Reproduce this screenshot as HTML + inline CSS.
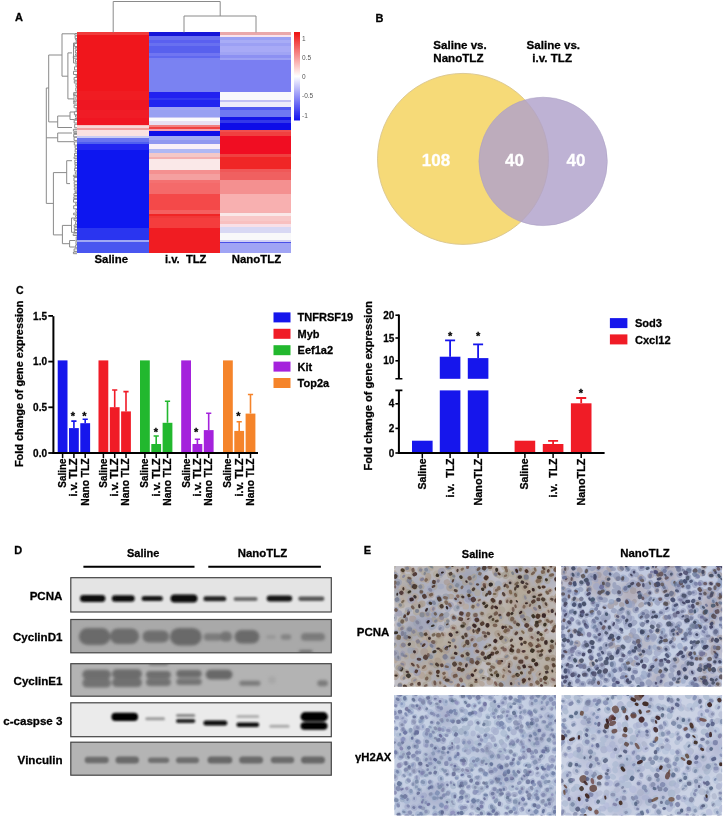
<!DOCTYPE html>
<html><head><meta charset="utf-8"><title>Figure</title>
<style>html,body{margin:0;padding:0;background:#fff;} svg{display:block;}</style></head>
<body><svg width="727" height="821" viewBox="0 0 727 821" font-family="'Liberation Sans', Arial, sans-serif" fill="#000">
<style>text{stroke:#000;stroke-width:0.28px;} text.w{stroke:#fff;} text.g{stroke:none;}</style>
<defs><filter id="soft" x="0" y="0" width="100%" height="100%" filterUnits="userSpaceOnUse"><feGaussianBlur stdDeviation="0.45"/></filter></defs>
<rect width="727" height="821" fill="#fff"/>
<g filter="url(#soft)">
<g shape-rendering="crispEdges">
<rect x="77.4" y="32.40" width="71.1" height="2.40" fill="#f03a3a"/>
<rect x="77.4" y="34.50" width="71.1" height="56.80" fill="#f0121e"/>
<rect x="77.4" y="91.00" width="71.1" height="9.30" fill="#f01c24"/>
<rect x="77.4" y="100.00" width="71.1" height="10.30" fill="#ee1620"/>
<rect x="77.4" y="110.00" width="71.1" height="8.30" fill="#f01e26"/>
<rect x="77.4" y="118.00" width="71.1" height="7.30" fill="#f01820"/>
<rect x="77.4" y="125.00" width="71.1" height="1.30" fill="#f8c0c0"/>
<rect x="77.4" y="126.00" width="71.1" height="1.80" fill="#f8d8d8"/>
<rect x="77.4" y="127.50" width="71.1" height="2.80" fill="#f0a0a0"/>
<rect x="77.4" y="130.00" width="71.1" height="6.30" fill="#fae2e2"/>
<rect x="77.4" y="136.00" width="71.1" height="2.30" fill="#c8ccf4"/>
<rect x="77.4" y="138.00" width="71.1" height="4.30" fill="#6a75f0"/>
<rect x="77.4" y="142.00" width="71.1" height="2.30" fill="#5060f0"/>
<rect x="77.4" y="144.00" width="71.1" height="6.30" fill="#2028f0"/>
<rect x="77.4" y="150.00" width="71.1" height="78.30" fill="#0c14f0"/>
<rect x="77.4" y="228.00" width="71.1" height="12.30" fill="#2a34f0"/>
<rect x="77.4" y="240.00" width="71.1" height="2.30" fill="#a0a8f4"/>
<rect x="77.4" y="242.00" width="71.1" height="11.00" fill="#4a56f0"/>
<rect x="148.5" y="32.40" width="71.3" height="3.90" fill="#1414d8"/>
<rect x="148.5" y="36.00" width="71.3" height="4.30" fill="#6a70f0"/>
<rect x="148.5" y="40.00" width="71.3" height="2.80" fill="#5a60f0"/>
<rect x="148.5" y="42.50" width="71.3" height="3.80" fill="#6870f0"/>
<rect x="148.5" y="46.00" width="71.3" height="7.30" fill="#5860ee"/>
<rect x="148.5" y="53.00" width="71.3" height="2.80" fill="#7075f2"/>
<rect x="148.5" y="55.50" width="71.3" height="2.80" fill="#6068f0"/>
<rect x="148.5" y="58.00" width="71.3" height="2.30" fill="#7a80f2"/>
<rect x="148.5" y="60.00" width="71.3" height="32.30" fill="#7a82f2"/>
<rect x="148.5" y="92.00" width="71.3" height="6.30" fill="#2020f0"/>
<rect x="148.5" y="98.00" width="71.3" height="2.30" fill="#3038f0"/>
<rect x="148.5" y="100.00" width="71.3" height="7.30" fill="#2028f0"/>
<rect x="148.5" y="107.00" width="71.3" height="3.30" fill="#a0a4f4"/>
<rect x="148.5" y="110.00" width="71.3" height="6.80" fill="#98a0f2"/>
<rect x="148.5" y="116.50" width="71.3" height="1.80" fill="#c8c8f4"/>
<rect x="148.5" y="118.00" width="71.3" height="3.30" fill="#fafafc"/>
<rect x="148.5" y="121.00" width="71.3" height="4.30" fill="#e8e0f2"/>
<rect x="148.5" y="125.00" width="71.3" height="1.80" fill="#f08080"/>
<rect x="148.5" y="126.50" width="71.3" height="2.30" fill="#f04040"/>
<rect x="148.5" y="128.50" width="71.3" height="2.80" fill="#f0a0b0"/>
<rect x="148.5" y="131.00" width="71.3" height="4.80" fill="#1010e8"/>
<rect x="148.5" y="135.50" width="71.3" height="4.80" fill="#a0a8f4"/>
<rect x="148.5" y="140.00" width="71.3" height="4.30" fill="#9098f0"/>
<rect x="148.5" y="144.00" width="71.3" height="5.30" fill="#f8f0f8"/>
<rect x="148.5" y="149.00" width="71.3" height="4.30" fill="#b0b8f4"/>
<rect x="148.5" y="153.00" width="71.3" height="4.30" fill="#f4c8c8"/>
<rect x="148.5" y="157.00" width="71.3" height="2.30" fill="#f4b0b0"/>
<rect x="148.5" y="159.00" width="71.3" height="11.30" fill="#fae8e8"/>
<rect x="148.5" y="170.00" width="71.3" height="4.30" fill="#f49090"/>
<rect x="148.5" y="174.00" width="71.3" height="6.30" fill="#f4a0a0"/>
<rect x="148.5" y="180.00" width="71.3" height="3.30" fill="#f47070"/>
<rect x="148.5" y="183.00" width="71.3" height="11.30" fill="#f46a6a"/>
<rect x="148.5" y="194.00" width="71.3" height="16.30" fill="#f44a4a"/>
<rect x="148.5" y="210.00" width="71.3" height="4.30" fill="#f46060"/>
<rect x="148.5" y="214.00" width="71.3" height="2.30" fill="#f02828"/>
<rect x="148.5" y="216.00" width="71.3" height="2.30" fill="#f03838"/>
<rect x="148.5" y="218.00" width="71.3" height="10.30" fill="#f43c3c"/>
<rect x="148.5" y="228.00" width="71.3" height="25.00" fill="#f01c24"/>
<rect x="219.8" y="32.40" width="71.2" height="2.40" fill="#eaa8aa"/>
<rect x="219.8" y="34.50" width="71.2" height="2.30" fill="#f8e4ee"/>
<rect x="219.8" y="36.50" width="71.2" height="3.80" fill="#9aa0f4"/>
<rect x="219.8" y="40.00" width="71.2" height="3.30" fill="#a8acf6"/>
<rect x="219.8" y="43.00" width="71.2" height="3.30" fill="#9ca0f4"/>
<rect x="219.8" y="46.00" width="71.2" height="6.30" fill="#a8aaf6"/>
<rect x="219.8" y="52.00" width="71.2" height="3.30" fill="#a0a4f4"/>
<rect x="219.8" y="55.00" width="71.2" height="3.30" fill="#8c90f2"/>
<rect x="219.8" y="58.00" width="71.2" height="2.30" fill="#9ca0f4"/>
<rect x="219.8" y="60.00" width="71.2" height="32.30" fill="#7a7ef2"/>
<rect x="219.8" y="92.00" width="71.2" height="8.30" fill="#f8f8fc"/>
<rect x="219.8" y="100.00" width="71.2" height="2.30" fill="#c0c0f4"/>
<rect x="219.8" y="102.00" width="71.2" height="5.30" fill="#ececfa"/>
<rect x="219.8" y="107.00" width="71.2" height="3.30" fill="#5058f0"/>
<rect x="219.8" y="110.00" width="71.2" height="7.30" fill="#7078f2"/>
<rect x="219.8" y="117.00" width="71.2" height="3.30" fill="#1818e8"/>
<rect x="219.8" y="120.00" width="71.2" height="3.30" fill="#3038ea"/>
<rect x="219.8" y="123.00" width="71.2" height="7.30" fill="#1010e8"/>
<rect x="219.8" y="130.00" width="71.2" height="2.30" fill="#f05050"/>
<rect x="219.8" y="132.00" width="71.2" height="4.30" fill="#f04040"/>
<rect x="219.8" y="136.00" width="71.2" height="18.30" fill="#f01020"/>
<rect x="219.8" y="154.00" width="71.2" height="3.30" fill="#f04040"/>
<rect x="219.8" y="157.00" width="71.2" height="12.30" fill="#f02828"/>
<rect x="219.8" y="169.00" width="71.2" height="3.30" fill="#f05858"/>
<rect x="219.8" y="172.00" width="71.2" height="8.30" fill="#f06060"/>
<rect x="219.8" y="180.00" width="71.2" height="14.30" fill="#f49090"/>
<rect x="219.8" y="194.00" width="71.2" height="18.30" fill="#f8b0b0"/>
<rect x="219.8" y="212.00" width="71.2" height="1.30" fill="#f4b0b0"/>
<rect x="219.8" y="213.00" width="71.2" height="3.30" fill="#fae8e8"/>
<rect x="219.8" y="216.00" width="71.2" height="5.30" fill="#f8c8c8"/>
<rect x="219.8" y="221.00" width="71.2" height="3.30" fill="#f8c0c0"/>
<rect x="219.8" y="224.00" width="71.2" height="3.30" fill="#f8e0e8"/>
<rect x="219.8" y="227.00" width="71.2" height="6.30" fill="#d8d8f4"/>
<rect x="219.8" y="233.00" width="71.2" height="7.30" fill="#f8f8fa"/>
<rect x="219.8" y="240.00" width="71.2" height="1.80" fill="#d0d0f4"/>
<rect x="219.8" y="241.50" width="71.2" height="1.80" fill="#4850e8"/>
<rect x="219.8" y="243.00" width="71.2" height="10.00" fill="#a0a4f4"/>
</g>
<defs><linearGradient id="cb" x1="0" y1="0" x2="0" y2="1"><stop offset="0" stop-color="#ee1010"/><stop offset="0.5" stop-color="#ffffff"/><stop offset="1" stop-color="#1010ee"/></linearGradient></defs>
<rect x="294" y="32" width="6" height="88.5" fill="url(#cb)"/>
<text class="g" x="302" y="40.5" font-size="6.5" fill="#555">1</text>
<text class="g" x="302" y="60" font-size="6.5" fill="#555">0.5</text>
<text class="g" x="302" y="79" font-size="6.5" fill="#555">0</text>
<text class="g" x="302" y="98" font-size="6.5" fill="#555">-0.5</text>
<text class="g" x="302" y="117.5" font-size="6.5" fill="#555">-1</text>
<path d="M113.2 32.4V1.5H220.2V16M184 32.4V16H256V32.4" stroke="#8a8a8a" stroke-width="1" fill="none"/>
<path d="M48.7 88H46.3V203.4H53.4 M46.3 137.8H57.7 M72 133H57.7V141.7H74 M62 55H48.7V121.9H57.7 M74.5 33.8H62V76.2H67.9 M72 52.9H67.9V98.9H74 M70 116H57.7V127.5H72 M74.5 112H70V119.5H74.5 M76 43H73.5V63H76 M76.5 94H74V102H76.5 M66.7 172.6H53.4V234.9H62.4 M72 160.7H66.7V183.6H70 M71.5 225.4H62.4V243.7H69.6 M75.5 218H71.5V232.3H75.5 M75.5 240.5H69.6V247H75.5 M77 33.5H74.8V35.2H77 M77 36.0H75.1V38.6H77 M77 39.0H75.7V40.2H77 M77 40.8H76.2V42.5H77 M77 43.4H74.6V46.5H77 M77 47.6H75.1V49.1H77 M77 50.5H75.4V52.9H77 M77 54.0H75.5V55.3H77 M77 56.3H73.3V58.2H77 M77 59.6H75.4V61.9H77 M77 63.2H76.0V66.1H77 M77 66.8H74.5V69.9H77 M77 71.3H73.5V74.5H77 M77 75.0H76.1V76.7H77 M77 77.5H74.1V80.2H77 M77 81.1H74.3V83.1H77 M77 84.1H75.9V86.7H77 M77 87.8H75.8V91.1H77 M77 92.6H73.7V95.4H77 M77 96.7H75.9V100.1H77 M77 101.1H73.8V104.0H77 M77 105.3H74.1V107.8H77 M77 108.2H76.2V111.3H77 M77 111.7H74.4V114.8H77 M77 115.2H75.5V117.1H77 M77 118.5H75.0V119.8H77 M77 120.1H74.2V123.0H77 M77 124.3H74.7V127.8H77 M77 129.3H73.4V131.2H77 M77 132.2H73.8V133.5H77 M77 134.3H73.7V136.9H77 M77 137.2H74.1V140.4H77 M77 141.9H74.3V145.1H77 M77 146.0H75.1V148.4H77 M77 149.4H75.1V151.9H77 M77 153.3H74.5V155.7H77 M77 156.9H74.1V158.6H77 M77 160.1H74.8V162.5H77 M77 162.8H74.9V164.9H77 M77 165.3H75.1V167.9H77 M77 168.3H74.6V170.9H77 M77 172.0H75.3V174.0H77 M77 175.2H73.4V176.5H77 M77 177.6H74.0V181.0H77 M77 181.8H74.2V184.4H77 M77 185.1H74.3V187.1H77 M77 188.1H74.3V190.0H77 M77 191.2H74.9V192.4H77 M77 193.6H73.9V195.5H77 M77 196.8H73.8V198.6H77 M77 199.4H73.5V202.2H77 M77 202.9H75.7V204.8H77 M77 205.7H73.7V208.8H77 M77 209.5H75.9V212.2H77 M77 213.1H73.6V214.8H77 M77 215.7H75.6V217.4H77 M77 218.7H74.0V220.3H77 M77 221.6H75.6V224.2H77 M77 224.9H74.1V226.4H77 M77 227.7H74.2V229.5H77 M77 230.3H74.4V232.5H77 M77 233.9H73.2V235.5H77 M77 236.9H76.2V240.1H77 M77 240.9H76.0V244.3H77 M77 244.9H75.7V247.8H77 M77 248.9H74.1V251.3H77 M77 252.0H73.4V253.7H77" stroke="#8a8a8a" stroke-width="1" fill="none" stroke-width="0.9"/>
<text x="15" y="21" font-size="11" font-weight="bold">A</text>
<text x="94.5" y="263.3" font-size="11.4" font-weight="bold">Saline</text>
<text x="165" y="263.3" font-size="11.2" font-weight="bold" xml:space="preserve">i.v.  TLZ</text>
<text x="231.8" y="263.3" font-size="11.4" font-weight="bold">NanoTLZ</text>
<text x="375.5" y="21.5" font-size="11" font-weight="bold">B</text>
<circle cx="463" cy="158.9" r="85.5" fill="#f6da78" stroke="#d9c58e" stroke-width="0.9"/>
<circle cx="543.1" cy="161.4" r="64.2" fill="#b0a1ca" fill-opacity="0.82" stroke="#ab9fc4" stroke-width="0.7" stroke-opacity="0.8"/>
<text x="433.3" y="49.2" font-size="11.6" font-weight="bold" xml:space="preserve">Saline vs.</text>
<text x="433.3" y="62.4" font-size="11.6" font-weight="bold" xml:space="preserve">NanoTLZ</text>
<text x="526.6" y="49.2" font-size="11.6" font-weight="bold" xml:space="preserve">Saline vs.</text>
<text x="532.3" y="62.4" font-size="11.6" font-weight="bold" xml:space="preserve">i.v. TLZ</text>
<text class="w" x="436" y="165.5" font-size="17" font-weight="bold" fill="#fff" text-anchor="middle">108</text>
<text class="w" x="514.5" y="165.5" font-size="17" font-weight="bold" fill="#fff" text-anchor="middle">40</text>
<text class="w" x="576" y="165.5" font-size="17" font-weight="bold" fill="#fff" text-anchor="middle">40</text>
<text x="16" y="293.6" font-size="10.5" font-weight="bold">C</text>
<path d="M53.4 316.2V454" stroke="#000" stroke-width="2"/>
<path d="M48.3 315.9H53" stroke="#000" stroke-width="1.8"/>
<text x="47" y="319.5" font-size="10" font-weight="bold" text-anchor="end">1.5</text>
<path d="M48.3 361.6H53" stroke="#000" stroke-width="1.8"/>
<text x="47" y="365.2" font-size="10" font-weight="bold" text-anchor="end">1.0</text>
<path d="M48.3 407.3H53" stroke="#000" stroke-width="1.8"/>
<text x="47" y="410.9" font-size="10" font-weight="bold" text-anchor="end">0.5</text>
<path d="M48.3 453.0H53" stroke="#000" stroke-width="1.8"/>
<text x="47" y="456.6" font-size="10" font-weight="bold" text-anchor="end">0.0</text>
<text transform="translate(22.6,300.6) rotate(-90)" font-size="10.8" font-weight="bold" text-anchor="end" textLength="166.5" lengthAdjust="spacingAndGlyphs">Fold change of gene expression</text>
<rect x="57.7" y="360.4" width="9.8" height="92.6" fill="#1614ec"/>
<path d="M73.9 428.1V421.1M71.3 421.1H76.5" stroke="#1614ec" stroke-width="1.6"/>
<rect x="69.0" y="428.1" width="9.8" height="24.9" fill="#1614ec"/>
<path d="M85.2 423.2V419.2M82.6 419.2H87.8" stroke="#1614ec" stroke-width="1.6"/>
<rect x="80.3" y="423.2" width="9.8" height="29.8" fill="#1614ec"/>
<rect x="98.5" y="360.4" width="9.8" height="92.6" fill="#f01c28"/>
<path d="M114.7 407.2V390.0M112.1 390.0H117.3" stroke="#f01c28" stroke-width="1.6"/>
<rect x="109.8" y="407.2" width="9.8" height="45.8" fill="#f01c28"/>
<path d="M126.0 411.4V391.6M123.4 391.6H128.6" stroke="#f01c28" stroke-width="1.6"/>
<rect x="121.1" y="411.4" width="9.8" height="41.6" fill="#f01c28"/>
<rect x="140.0" y="360.4" width="9.8" height="92.6" fill="#22b82e"/>
<path d="M156.2 444.0V436.0M153.6 436.0H158.8" stroke="#22b82e" stroke-width="1.6"/>
<rect x="151.3" y="444.0" width="9.8" height="9.0" fill="#22b82e"/>
<path d="M167.5 422.8V401.2M164.9 401.2H170.1" stroke="#22b82e" stroke-width="1.6"/>
<rect x="162.6" y="422.8" width="9.8" height="30.2" fill="#22b82e"/>
<rect x="181.2" y="360.4" width="9.8" height="92.6" fill="#a422dc"/>
<path d="M197.4 444.0V439.2M194.8 439.2H200.0" stroke="#a422dc" stroke-width="1.6"/>
<rect x="192.5" y="444.0" width="9.8" height="9.0" fill="#a422dc"/>
<path d="M208.7 430.1V413.2M206.1 413.2H211.3" stroke="#a422dc" stroke-width="1.6"/>
<rect x="203.8" y="430.1" width="9.8" height="22.9" fill="#a422dc"/>
<rect x="223.0" y="360.4" width="9.8" height="92.6" fill="#f5842c"/>
<path d="M239.2 430.9V421.8M236.6 421.8H241.8" stroke="#f5842c" stroke-width="1.6"/>
<rect x="234.3" y="430.9" width="9.8" height="22.1" fill="#f5842c"/>
<path d="M250.5 413.6V394.5M247.9 394.5H253.1" stroke="#f5842c" stroke-width="1.6"/>
<rect x="245.6" y="413.6" width="9.8" height="39.4" fill="#f5842c"/>
<path d="M52.4 453H258" stroke="#000" stroke-width="2"/>
<path d="M62.6 453.5V458" stroke="#000" stroke-width="1.5"/>
<text transform="translate(66.0,458.5) rotate(-90)" font-size="10" font-weight="bold" text-anchor="end" textLength="29.2" lengthAdjust="spacingAndGlyphs" xml:space="preserve">Saline</text>
<path d="M73.9 453.5V458" stroke="#000" stroke-width="1.5"/>
<text transform="translate(77.3,458.5) rotate(-90)" font-size="10" font-weight="bold" text-anchor="end" textLength="38.0" lengthAdjust="spacingAndGlyphs" xml:space="preserve">i.v. TLZ</text>
<path d="M85.2 453.5V458" stroke="#000" stroke-width="1.5"/>
<text transform="translate(88.6,458.5) rotate(-90)" font-size="10" font-weight="bold" text-anchor="end" textLength="47.2" lengthAdjust="spacingAndGlyphs" xml:space="preserve">Nano TLZ</text>
<path d="M103.4 453.5V458" stroke="#000" stroke-width="1.5"/>
<text transform="translate(106.8,458.5) rotate(-90)" font-size="10" font-weight="bold" text-anchor="end" textLength="29.2" lengthAdjust="spacingAndGlyphs" xml:space="preserve">Saline</text>
<path d="M114.7 453.5V458" stroke="#000" stroke-width="1.5"/>
<text transform="translate(118.1,458.5) rotate(-90)" font-size="10" font-weight="bold" text-anchor="end" textLength="38.0" lengthAdjust="spacingAndGlyphs" xml:space="preserve">i.v. TLZ</text>
<path d="M126.0 453.5V458" stroke="#000" stroke-width="1.5"/>
<text transform="translate(129.4,458.5) rotate(-90)" font-size="10" font-weight="bold" text-anchor="end" textLength="47.2" lengthAdjust="spacingAndGlyphs" xml:space="preserve">Nano TLZ</text>
<path d="M144.9 453.5V458" stroke="#000" stroke-width="1.5"/>
<text transform="translate(148.3,458.5) rotate(-90)" font-size="10" font-weight="bold" text-anchor="end" textLength="29.2" lengthAdjust="spacingAndGlyphs" xml:space="preserve">Saline</text>
<path d="M156.2 453.5V458" stroke="#000" stroke-width="1.5"/>
<text transform="translate(159.6,458.5) rotate(-90)" font-size="10" font-weight="bold" text-anchor="end" textLength="38.0" lengthAdjust="spacingAndGlyphs" xml:space="preserve">i.v. TLZ</text>
<path d="M167.5 453.5V458" stroke="#000" stroke-width="1.5"/>
<text transform="translate(170.9,458.5) rotate(-90)" font-size="10" font-weight="bold" text-anchor="end" textLength="47.2" lengthAdjust="spacingAndGlyphs" xml:space="preserve">Nano TLZ</text>
<path d="M186.1 453.5V458" stroke="#000" stroke-width="1.5"/>
<text transform="translate(189.5,458.5) rotate(-90)" font-size="10" font-weight="bold" text-anchor="end" textLength="29.2" lengthAdjust="spacingAndGlyphs" xml:space="preserve">Saline</text>
<path d="M197.4 453.5V458" stroke="#000" stroke-width="1.5"/>
<text transform="translate(200.8,458.5) rotate(-90)" font-size="10" font-weight="bold" text-anchor="end" textLength="38.0" lengthAdjust="spacingAndGlyphs" xml:space="preserve">i.v. TLZ</text>
<path d="M208.7 453.5V458" stroke="#000" stroke-width="1.5"/>
<text transform="translate(212.1,458.5) rotate(-90)" font-size="10" font-weight="bold" text-anchor="end" textLength="47.2" lengthAdjust="spacingAndGlyphs" xml:space="preserve">Nano TLZ</text>
<path d="M227.9 453.5V458" stroke="#000" stroke-width="1.5"/>
<text transform="translate(231.3,458.5) rotate(-90)" font-size="10" font-weight="bold" text-anchor="end" textLength="29.2" lengthAdjust="spacingAndGlyphs" xml:space="preserve">Saline</text>
<path d="M239.2 453.5V458" stroke="#000" stroke-width="1.5"/>
<text transform="translate(242.6,458.5) rotate(-90)" font-size="10" font-weight="bold" text-anchor="end" textLength="38.0" lengthAdjust="spacingAndGlyphs" xml:space="preserve">i.v. TLZ</text>
<path d="M250.5 453.5V458" stroke="#000" stroke-width="1.5"/>
<text transform="translate(253.9,458.5) rotate(-90)" font-size="10" font-weight="bold" text-anchor="end" textLength="47.2" lengthAdjust="spacingAndGlyphs" xml:space="preserve">Nano TLZ</text>
<text x="72.9" y="420.4" font-size="11" font-weight="bold" text-anchor="middle">*</text>
<text x="84.4" y="420.2" font-size="11" font-weight="bold" text-anchor="middle">*</text>
<text x="155.9" y="435.5" font-size="11" font-weight="bold" text-anchor="middle">*</text>
<text x="196.2" y="435.5" font-size="11" font-weight="bold" text-anchor="middle">*</text>
<text x="238.4" y="420.2" font-size="11" font-weight="bold" text-anchor="middle">*</text>
<rect x="273.5" y="312.4" width="17" height="10" fill="#1614ec"/>
<text x="297.6" y="321.4" font-size="11" font-weight="bold">TNFRSF19</text>
<rect x="273.5" y="328.8" width="17" height="10" fill="#f01c28"/>
<text x="297.6" y="337.8" font-size="11" font-weight="bold">Myb</text>
<rect x="273.5" y="345.2" width="17" height="10" fill="#22b82e"/>
<text x="297.6" y="354.2" font-size="11" font-weight="bold">Eef1a2</text>
<rect x="273.5" y="361.6" width="17" height="10" fill="#a422dc"/>
<text x="297.6" y="370.6" font-size="11" font-weight="bold">Kit</text>
<rect x="273.5" y="378.0" width="17" height="10" fill="#f5842c"/>
<text x="297.6" y="387.0" font-size="11" font-weight="bold">Top2a</text>
<path d="M398.9 314.4V378.8M398.9 390.4V454" stroke="#000" stroke-width="2"/>
<path d="M395.4 315.2H399" stroke="#000" stroke-width="1.6"/>
<text x="394.3" y="318.8" font-size="10" font-weight="bold" text-anchor="end">20</text>
<path d="M395.4 338.0H399" stroke="#000" stroke-width="1.6"/>
<text x="394.3" y="341.6" font-size="10" font-weight="bold" text-anchor="end">15</text>
<path d="M395.4 360.8H399" stroke="#000" stroke-width="1.6"/>
<text x="394.3" y="364.4" font-size="10" font-weight="bold" text-anchor="end">10</text>
<path d="M395.4 403.8H399" stroke="#000" stroke-width="1.6"/>
<text x="394.3" y="407.4" font-size="10" font-weight="bold" text-anchor="end">4</text>
<path d="M395.4 428.4H399" stroke="#000" stroke-width="1.6"/>
<text x="394.3" y="432.0" font-size="10" font-weight="bold" text-anchor="end">2</text>
<path d="M395.4 453.0H399" stroke="#000" stroke-width="1.6"/>
<text x="394.3" y="456.6" font-size="10" font-weight="bold" text-anchor="end">0</text>
<path d="M395.4 378.8H402.4M395.4 390.4H402.4" stroke="#000" stroke-width="1.6"/>
<text transform="translate(371.6,301.0) rotate(-90)" font-size="10.6" font-weight="bold" text-anchor="end" textLength="169.5" lengthAdjust="spacingAndGlyphs">Fold change of gene expression</text>
<rect x="412.0" y="440.7" width="20.6" height="12.3" fill="#1614ec"/>
<path d="M450.1 356.7V340.3M445.1 340.3H455.1" stroke="#1614ec" stroke-width="1.8"/>
<rect x="439.8" y="356.7" width="20.6" height="22.1" fill="#1614ec"/>
<rect x="439.8" y="390.4" width="20.6" height="62.6" fill="#1614ec"/>
<path d="M478.1 358.1V344.4M473.1 344.4H483.1" stroke="#1614ec" stroke-width="1.8"/>
<rect x="467.8" y="358.1" width="20.6" height="20.7" fill="#1614ec"/>
<rect x="467.8" y="390.4" width="20.6" height="62.6" fill="#1614ec"/>
<rect x="514.6" y="440.7" width="20.6" height="12.3" fill="#f01c28"/>
<path d="M553.1 444.0V440.9M548.1 440.9H558.1" stroke="#f01c28" stroke-width="1.8"/>
<rect x="542.8" y="444.0" width="20.6" height="9.0" fill="#f01c28"/>
<path d="M581.2 403.3V398.0M576.2 398.0H586.2" stroke="#f01c28" stroke-width="1.8"/>
<rect x="570.9" y="403.3" width="20.6" height="49.7" fill="#f01c28"/>
<path d="M398 453H604.6" stroke="#000" stroke-width="2"/>
<path d="M422.3 453.5V458" stroke="#000" stroke-width="1.5"/>
<text transform="translate(425.8,458.5) rotate(-90)" font-size="10" font-weight="bold" text-anchor="end" textLength="31.0" lengthAdjust="spacingAndGlyphs" xml:space="preserve">Saline</text>
<path d="M450.1 453.5V458" stroke="#000" stroke-width="1.5"/>
<text transform="translate(453.6,458.5) rotate(-90)" font-size="10" font-weight="bold" text-anchor="end" textLength="39.0" lengthAdjust="spacingAndGlyphs" xml:space="preserve">i.v.  TLZ</text>
<path d="M478.1 453.5V458" stroke="#000" stroke-width="1.5"/>
<text transform="translate(481.6,458.5) rotate(-90)" font-size="10" font-weight="bold" text-anchor="end" textLength="47.0" lengthAdjust="spacingAndGlyphs" xml:space="preserve">NanoTLZ</text>
<path d="M524.9 453.5V458" stroke="#000" stroke-width="1.5"/>
<text transform="translate(528.4,458.5) rotate(-90)" font-size="10" font-weight="bold" text-anchor="end" textLength="31.0" lengthAdjust="spacingAndGlyphs" xml:space="preserve">Saline</text>
<path d="M553.1 453.5V458" stroke="#000" stroke-width="1.5"/>
<text transform="translate(556.6,458.5) rotate(-90)" font-size="10" font-weight="bold" text-anchor="end" textLength="39.0" lengthAdjust="spacingAndGlyphs" xml:space="preserve">i.v.  TLZ</text>
<path d="M581.2 453.5V458" stroke="#000" stroke-width="1.5"/>
<text transform="translate(584.7,458.5) rotate(-90)" font-size="10" font-weight="bold" text-anchor="end" textLength="47.0" lengthAdjust="spacingAndGlyphs" xml:space="preserve">NanoTLZ</text>
<text x="450.1" y="340.0" font-size="11" font-weight="bold" text-anchor="middle">*</text>
<text x="478.1" y="340.0" font-size="11" font-weight="bold" text-anchor="middle">*</text>
<text x="581" y="396.5" font-size="11" font-weight="bold" text-anchor="middle">*</text>
<rect x="609.9" y="318.1" width="17.5" height="10" fill="#1614ec"/>
<rect x="609.9" y="334.4" width="17.5" height="10" fill="#f01c28"/>
<text x="634.9" y="327.2" font-size="11.1" font-weight="bold">Sod3</text>
<text x="634.9" y="343.5" font-size="11.1" font-weight="bold">Cxcl12</text>
<defs><filter id="bl" x="-20%" y="-50%" width="140%" height="200%"><feGaussianBlur stdDeviation="1.1"/></filter><filter id="bl2" x="-20%" y="-50%" width="140%" height="200%"><feGaussianBlur stdDeviation="1.8"/></filter><clipPath id="cr1"><rect x="70.8" y="577.7" width="260.5" height="34.3"/></clipPath><clipPath id="cr2"><rect x="70.8" y="619.5" width="260.5" height="33.3"/></clipPath><clipPath id="cr3"><rect x="70.8" y="663.7" width="260.5" height="32.5"/></clipPath><clipPath id="cr4"><rect x="70.8" y="702.8" width="260.5" height="33.9"/></clipPath><clipPath id="cr5"><rect x="70.8" y="742.2" width="260.5" height="33"/></clipPath></defs>
<text x="14.3" y="553.8" font-size="11" font-weight="bold">D</text>
<text x="127" y="557" font-size="11" font-weight="bold">Saline</text>
<text x="237.8" y="557" font-size="11.4" font-weight="bold">NanoTLZ</text>
<path d="M83.4 566.7H194.5M208.3 566.7H320.9" stroke="#000" stroke-width="2"/>
<rect x="70.8" y="577.7" width="260.5" height="34.3" fill="#e4e4e4"/>
<g clip-path="url(#cr1)"><g filter="url(#bl)">
<rect x="80" y="595.1" width="25.4" height="6.8" rx="3.4" fill="#0c0c0c"/>
<rect x="111.8" y="595.2" width="22.9" height="6.5" rx="3.2" fill="#0e0e0e"/>
<rect x="141.6" y="596.1" width="21.2" height="5" rx="2.5" fill="#141414"/>
<rect x="170.5" y="594.4" width="27.0" height="8.2" rx="4.1" fill="#080808"/>
<rect x="203.4" y="596.3" width="22.8" height="5" rx="2.5" fill="#222"/>
<rect x="233.6" y="597.1" width="24.0" height="3.8" rx="1.9" fill="#6a6a6a"/>
<rect x="266.7" y="595.6" width="25.5" height="6" rx="3.0" fill="#141414"/>
<rect x="298.3" y="596.6" width="26.1" height="4.3" rx="2.1" fill="#555"/>
</g></g>
<rect x="70.8" y="577.7" width="260.5" height="34.3" fill="none" stroke="#444" stroke-width="1.2"/>
<text x="62.5" y="599.6" font-size="11.6" font-weight="bold" text-anchor="end">PCNA</text>
<rect x="70.8" y="619.5" width="260.5" height="33.3" fill="#a9a9a9"/>
<g clip-path="url(#cr2)"><g filter="url(#bl2)">
<rect x="78.9" y="627.9" width="31.4" height="17" rx="8.5" fill="#6a6a6a"/>
<rect x="110" y="628.6" width="29.1" height="15.5" rx="7.8" fill="#6c6c6c"/>
<rect x="142.5" y="630.6" width="26.5" height="12" rx="6.0" fill="#6e6e6e"/>
<rect x="170" y="627.9" width="31.7" height="17.5" rx="8.8" fill="#696969"/>
<rect x="203.7" y="633.2" width="18.3" height="7.5" rx="3.8" fill="#7c7c7c"/>
<rect x="220" y="631.6" width="12.0" height="10" rx="5.0" fill="#737373"/>
<rect x="234.5" y="629.9" width="25.0" height="13.5" rx="6.8" fill="#6a6a6a"/>
<rect x="266" y="635.2" width="10.0" height="3.5" rx="1.8" fill="#959595"/>
<rect x="280.7" y="634.2" width="10.6" height="5.5" rx="2.8" fill="#838383"/>
<rect x="301" y="633.1" width="24.0" height="7.7" rx="3.9" fill="#7a7a7a"/>
<rect x="299" y="650.5" width="13.5" height="2" rx="1.0" fill="#555"/>
</g></g>
<rect x="70.8" y="619.5" width="260.5" height="33.3" fill="none" stroke="#444" stroke-width="1.2"/>
<text x="62.5" y="640.9" font-size="11.6" font-weight="bold" text-anchor="end">CyclinD1</text>
<rect x="70.8" y="663.7" width="260.5" height="32.5" fill="#b3b3b3"/>
<g clip-path="url(#cr3)"><g filter="url(#bl2)">
<rect x="82.3" y="669.8" width="28.7" height="9.5" rx="4.8" fill="#6e6e6e"/>
<rect x="82.3" y="678.5" width="28.7" height="9" rx="4.5" fill="#727272"/>
<rect x="112" y="669.2" width="30.0" height="9.5" rx="4.8" fill="#6c6c6c"/>
<rect x="112" y="678.0" width="30.0" height="9" rx="4.5" fill="#707070"/>
<rect x="146" y="671.0" width="24.9" height="7.5" rx="3.8" fill="#6e6e6e"/>
<rect x="146" y="678.6" width="24.9" height="7.5" rx="3.8" fill="#727272"/>
<rect x="176.3" y="670.0" width="25.4" height="7.5" rx="3.8" fill="#6c6c6c"/>
<rect x="176.3" y="678.4" width="25.4" height="6.5" rx="3.2" fill="#747474"/>
<rect x="205.6" y="669.8" width="26.9" height="9.6" rx="4.8" fill="#686868"/>
<rect x="239.3" y="680.7" width="21.2" height="5" rx="2.5" fill="#7a7a7a"/>
<rect x="268" y="676.0" width="8.0" height="8" rx="4.0" fill="#a8a8a8"/>
<rect x="317.3" y="680.2" width="10.6" height="6" rx="3.0" fill="#7a7a7a"/>
<rect x="149" y="663.6" width="19.0" height="1.6" rx="0.8" fill="#666"/>
</g></g>
<rect x="70.8" y="663.7" width="260.5" height="32.5" fill="none" stroke="#444" stroke-width="1.2"/>
<text x="62.5" y="684.8" font-size="11.6" font-weight="bold" text-anchor="end">CyclinE1</text>
<rect x="70.8" y="702.8" width="260.5" height="33.9" fill="#ebebeb"/>
<g clip-path="url(#cr4)"><g filter="url(#bl)">
<rect x="111.4" y="712.8" width="26.7" height="8.2" rx="4.1" fill="#000"/>
<rect x="145.3" y="717.3" width="19.7" height="3" rx="1.5" fill="#9a9a9a"/>
<rect x="176" y="713.9" width="19.3" height="3.2" rx="1.6" fill="#8a8a8a"/>
<rect x="176" y="718.9" width="19.3" height="4.2" rx="2.1" fill="#222"/>
<rect x="203.4" y="720.4" width="23.9" height="5" rx="2.5" fill="#0a0a0a"/>
<rect x="236.4" y="715.1" width="22.8" height="3" rx="1.5" fill="#b0b0b0"/>
<rect x="236.4" y="722.5" width="22.8" height="4.6" rx="2.3" fill="#111"/>
<rect x="269.4" y="724.7" width="20.1" height="3" rx="1.5" fill="#aaa"/>
<rect x="300.5" y="712.0" width="27.5" height="9.5" rx="4.8" fill="#000"/>
<rect x="300.5" y="722.2" width="27.0" height="7.5" rx="3.8" fill="#000"/>
</g></g>
<rect x="70.8" y="702.8" width="260.5" height="33.9" fill="none" stroke="#444" stroke-width="1.2"/>
<text x="62.5" y="724.5" font-size="11.6" font-weight="bold" text-anchor="end">c-caspse 3</text>
<rect x="70.8" y="742.2" width="260.5" height="33.0" fill="#b4b4b4"/>
<g clip-path="url(#cr5)"><g filter="url(#bl)">
<rect x="84.7" y="756.8" width="24.0" height="6.5" rx="3.2" fill="#6c6c6c"/>
<rect x="115.5" y="756.5" width="23.5" height="7" rx="3.5" fill="#6a6a6a"/>
<rect x="148" y="757.5" width="21.2" height="5.5" rx="2.8" fill="#707070"/>
<rect x="176" y="757.2" width="23.0" height="6" rx="3.0" fill="#6e6e6e"/>
<rect x="207.5" y="756.5" width="24.8" height="7" rx="3.5" fill="#686868"/>
<rect x="239.1" y="756.5" width="24.0" height="7" rx="3.5" fill="#6a6a6a"/>
<rect x="270.8" y="756.8" width="23.4" height="6.5" rx="3.2" fill="#6c6c6c"/>
<rect x="301" y="756.4" width="24.0" height="7.2" rx="3.6" fill="#686868"/>
</g></g>
<rect x="70.8" y="742.2" width="260.5" height="33.0" fill="none" stroke="#444" stroke-width="1.2"/>
<text x="62.5" y="763.5" font-size="11.6" font-weight="bold" text-anchor="end">Vinculin</text>
<text x="363.8" y="553.8" font-size="11" font-weight="bold">E</text>
<text x="461.8" y="558.2" font-size="11" font-weight="bold">Saline</text>
<text x="620.3" y="557" font-size="11.4" font-weight="bold">NanoTLZ</text>
<text x="389.4" y="635.6" font-size="11.5" font-weight="bold" text-anchor="end">PCNA</text>
<text x="391.4" y="761.1" font-size="11.3" font-weight="bold" text-anchor="end">γH2AX</text>
<defs><filter id="ib" x="-5%" y="-5%" width="110%" height="110%"><feGaussianBlur stdDeviation="0.6"/></filter><filter id="ib2" x="-10%" y="-10%" width="120%" height="120%"><feGaussianBlur stdDeviation="5"/></filter><filter id="tx" x="0" y="0" width="100%" height="100%"><feTurbulence type="fractalNoise" baseFrequency="0.28" numOctaves="2" seed="5"/><feColorMatrix type="matrix" values="0 0 0 0 1  0 0 0 0 1  0 0 0 0 1  1.6 0 0 0 -0.72"/><feGaussianBlur stdDeviation="0.5"/></filter><filter id="tx2" x="0" y="0" width="100%" height="100%"><feTurbulence type="fractalNoise" baseFrequency="0.18" numOctaves="2" seed="9"/><feColorMatrix type="matrix" values="0 0 0 0 0.35  0 0 0 0 0.38  0 0 0 0 0.5  1.4 0 0 0 -0.62"/><feGaussianBlur stdDeviation="0.6"/></filter></defs>
<svg x="394.2" y="566.0" width="161.8" height="120.8" viewBox="0 0 161.8 120.8" overflow="hidden">
<rect width="161.8" height="120.8" fill="#c2c0c6"/>
<g filter="url(#ib2)">
<ellipse cx="75.3" cy="61.3" rx="9.8" ry="13.1" fill="#b4a896" fill-opacity="0.5"/>
<ellipse cx="101.9" cy="95.8" rx="11.0" ry="8.9" fill="#b4a896" fill-opacity="0.5"/>
<ellipse cx="131.0" cy="83.8" rx="17.8" ry="17.6" fill="#b4a896" fill-opacity="0.5"/>
<ellipse cx="105.8" cy="74.4" rx="8.2" ry="13.3" fill="#b4a896" fill-opacity="0.5"/>
<ellipse cx="9.6" cy="23.0" rx="8.3" ry="12.6" fill="#b4a896" fill-opacity="0.5"/>
<ellipse cx="71.3" cy="101.8" rx="14.4" ry="13.0" fill="#b4a896" fill-opacity="0.5"/>
<ellipse cx="107.2" cy="55.2" rx="18.0" ry="18.0" fill="#b4a896" fill-opacity="0.5"/>
<ellipse cx="135.9" cy="85.5" rx="10.3" ry="10.9" fill="#b4a896" fill-opacity="0.5"/>
<ellipse cx="11.4" cy="92.6" rx="16.5" ry="11.9" fill="#b4a896" fill-opacity="0.5"/>
<ellipse cx="155.0" cy="102.4" rx="10.1" ry="17.1" fill="#b4a896" fill-opacity="0.5"/>
<ellipse cx="76.0" cy="118.4" rx="8.7" ry="14.3" fill="#b4a896" fill-opacity="0.5"/>
<ellipse cx="126.0" cy="32.6" rx="11.3" ry="17.6" fill="#b4a896" fill-opacity="0.5"/>
<ellipse cx="122.7" cy="14.3" rx="9.0" ry="8.6" fill="#b4a896" fill-opacity="0.5"/>
<ellipse cx="129.0" cy="21.5" rx="12.5" ry="9.9" fill="#b4a896" fill-opacity="0.5"/>
<ellipse cx="118.4" cy="15.8" rx="9.2" ry="12.2" fill="#b4a896" fill-opacity="0.5"/>
<ellipse cx="130.0" cy="36.7" rx="10.1" ry="11.9" fill="#b4a896" fill-opacity="0.5"/>
<ellipse cx="138.2" cy="77.5" rx="17.9" ry="10.1" fill="#b4a896" fill-opacity="0.5"/>
<ellipse cx="41.8" cy="93.3" rx="11.0" ry="8.7" fill="#b4a896" fill-opacity="0.5"/>
<ellipse cx="14.6" cy="70.4" rx="14.0" ry="11.7" fill="#b4a896" fill-opacity="0.5"/>
<ellipse cx="73.3" cy="115.9" rx="13.7" ry="16.7" fill="#b4a896" fill-opacity="0.5"/>
<ellipse cx="132.3" cy="30.1" rx="15.4" ry="17.4" fill="#b4a896" fill-opacity="0.5"/>
<ellipse cx="97.7" cy="50.9" rx="8.4" ry="17.6" fill="#b4a896" fill-opacity="0.5"/>
<ellipse cx="38.6" cy="85.1" rx="16.2" ry="14.0" fill="#b4a896" fill-opacity="0.5"/>
<ellipse cx="11.1" cy="27.6" rx="16.5" ry="14.1" fill="#b4a896" fill-opacity="0.5"/>
<ellipse cx="45.3" cy="110.8" rx="8.2" ry="10.7" fill="#b4a896" fill-opacity="0.5"/>
<ellipse cx="72.1" cy="7.3" rx="11.7" ry="13.7" fill="#b4a896" fill-opacity="0.5"/>
<ellipse cx="158.6" cy="79.4" rx="13.8" ry="9.4" fill="#b4a896" fill-opacity="0.5"/>
<ellipse cx="113.4" cy="116.3" rx="14.4" ry="12.8" fill="#b4a896" fill-opacity="0.5"/>
<ellipse cx="118.2" cy="38.5" rx="8.8" ry="13.5" fill="#b4a896" fill-opacity="0.5"/>
<ellipse cx="119.2" cy="108.7" rx="15.0" ry="15.9" fill="#b4a896" fill-opacity="0.5"/>
<ellipse cx="148.0" cy="42.5" rx="17.0" ry="16.7" fill="#b4a896" fill-opacity="0.5"/>
<ellipse cx="67.5" cy="95.5" rx="13.7" ry="14.2" fill="#b4a896" fill-opacity="0.5"/>
<ellipse cx="61.9" cy="70.4" rx="8.8" ry="14.4" fill="#b4a896" fill-opacity="0.5"/>
<ellipse cx="160.7" cy="106.3" rx="11.9" ry="15.4" fill="#b4a896" fill-opacity="0.5"/>
<ellipse cx="94.0" cy="53.2" rx="8.8" ry="15.5" fill="#b4a896" fill-opacity="0.5"/>
<ellipse cx="37.2" cy="84.4" rx="14.1" ry="17.2" fill="#b4a896" fill-opacity="0.5"/>
<ellipse cx="41.4" cy="1.4" rx="14.8" ry="10.0" fill="#b4a896" fill-opacity="0.5"/>
<ellipse cx="27.4" cy="109.4" rx="12.4" ry="16.9" fill="#b4a896" fill-opacity="0.5"/>
<ellipse cx="52.9" cy="80.4" rx="12.3" ry="16.1" fill="#b4a896" fill-opacity="0.5"/>
<ellipse cx="147.9" cy="106.3" rx="13.8" ry="11.2" fill="#b4a896" fill-opacity="0.5"/>
<ellipse cx="44.8" cy="20.4" rx="10.2" ry="9.7" fill="#9ca2ba" fill-opacity="0.5"/>
<ellipse cx="73.2" cy="9.0" rx="15.0" ry="8.3" fill="#9ca2ba" fill-opacity="0.5"/>
<ellipse cx="128.1" cy="2.3" rx="11.6" ry="8.2" fill="#9ca2ba" fill-opacity="0.5"/>
<ellipse cx="7.6" cy="76.0" rx="13.0" ry="13.2" fill="#9ca2ba" fill-opacity="0.5"/>
<ellipse cx="32.3" cy="57.4" rx="8.1" ry="11.8" fill="#9ca2ba" fill-opacity="0.5"/>
<ellipse cx="128.1" cy="109.5" rx="15.5" ry="13.8" fill="#9ca2ba" fill-opacity="0.5"/>
<ellipse cx="138.5" cy="42.1" rx="11.5" ry="12.4" fill="#9ca2ba" fill-opacity="0.5"/>
<ellipse cx="124.3" cy="58.9" rx="14.5" ry="8.5" fill="#9ca2ba" fill-opacity="0.5"/>
<ellipse cx="81.4" cy="73.1" rx="15.8" ry="12.1" fill="#9ca2ba" fill-opacity="0.5"/>
<ellipse cx="79.5" cy="83.5" rx="12.3" ry="11.3" fill="#9ca2ba" fill-opacity="0.5"/>
<ellipse cx="76.6" cy="15.3" rx="14.5" ry="15.2" fill="#9ca2ba" fill-opacity="0.5"/>
<ellipse cx="77.1" cy="38.3" rx="12.9" ry="15.4" fill="#9ca2ba" fill-opacity="0.5"/>
<ellipse cx="20.9" cy="94.1" rx="9.6" ry="9.8" fill="#9ca2ba" fill-opacity="0.5"/>
<ellipse cx="19.9" cy="61.7" rx="9.6" ry="12.2" fill="#9ca2ba" fill-opacity="0.5"/>
<ellipse cx="85.6" cy="19.3" rx="13.1" ry="13.1" fill="#9ca2ba" fill-opacity="0.5"/>
<ellipse cx="51.0" cy="111.5" rx="16.0" ry="15.1" fill="#9ca2ba" fill-opacity="0.5"/>
<ellipse cx="68.2" cy="95.4" rx="11.2" ry="13.5" fill="#9ca2ba" fill-opacity="0.5"/>
<ellipse cx="110.9" cy="22.8" rx="8.8" ry="8.3" fill="#9ca2ba" fill-opacity="0.5"/>
<ellipse cx="23.7" cy="22.3" rx="14.7" ry="15.9" fill="#9ca2ba" fill-opacity="0.5"/>
<ellipse cx="150.0" cy="11.5" rx="15.6" ry="11.7" fill="#9ca2ba" fill-opacity="0.5"/>
<ellipse cx="65.6" cy="23.6" rx="12.1" ry="8.1" fill="#9ca2ba" fill-opacity="0.5"/>
<ellipse cx="65.6" cy="87.3" rx="10.7" ry="11.8" fill="#9ca2ba" fill-opacity="0.5"/>
<ellipse cx="123.2" cy="118.4" rx="12.9" ry="13.9" fill="#9ca2ba" fill-opacity="0.5"/>
<ellipse cx="41.5" cy="48.5" rx="9.6" ry="11.0" fill="#9ca2ba" fill-opacity="0.5"/>
<ellipse cx="25.9" cy="57.0" rx="12.0" ry="12.9" fill="#9ca2ba" fill-opacity="0.5"/>
</g>
<g filter="url(#ib)" fill-opacity="0.65">
<path fill="#b8a898" d="M1.6 -5.9a3.0 2.7 68 1 0 2.3 5.6a3.0 2.7 68 1 0 -2.3 -5.6zM152.8 -2.7a3.1 2.8 158 1 0 -5.7 2.3a3.1 2.8 158 1 0 5.7 -2.3zM16.4 1.0a3.6 3.3 65 1 0 3.1 6.5a3.6 3.3 65 1 0 -3.1 -6.5zM1.2 14.7a3.1 2.6 97 1 0 -0.7 6.2a3.1 2.6 97 1 0 0.7 -6.2zM141.2 13.1a3.3 3.1 42 1 0 4.8 4.4a3.3 3.1 42 1 0 -4.8 -4.4zM151.2 20.2a3.0 2.3 158 1 0 -5.6 2.3a3.0 2.3 158 1 0 5.6 -2.3zM152.5 23.2a3.2 3.2 26 1 0 5.8 2.8a3.2 3.2 26 1 0 -5.8 -2.8zM164.9 20.6a3.1 2.3 122 1 0 -3.3 5.2a3.1 2.3 122 1 0 3.3 -5.2zM111.8 25.3a3.2 2.3 124 1 0 -3.5 5.3a3.2 2.3 124 1 0 3.5 -5.3zM132.2 25.1a3.2 2.6 15 1 0 6.1 1.7a3.2 2.6 15 1 0 -6.1 -1.7zM166.9 26.7a3.6 3.4 128 1 0 -4.4 5.6a3.6 3.4 128 1 0 4.4 -5.6zM7.3 32.0a2.9 2.5 62 1 0 2.8 5.1a2.9 2.5 62 1 0 -2.8 -5.1zM124.6 32.3a3.4 2.6 138 1 0 -5.1 4.6a3.4 2.6 138 1 0 5.1 -4.6zM68.3 40.4a3.2 3.0 3 1 0 6.5 0.3a3.2 3.0 3 1 0 -6.5 -0.3zM80.0 38.8a3.1 3.0 11 1 0 6.1 1.2a3.1 3.0 11 1 0 -6.1 -1.2zM133.5 39.3a3.2 3.0 14 1 0 6.3 1.5a3.2 3.0 14 1 0 -6.3 -1.5zM141.9 46.9a3.7 2.7 44 1 0 5.3 5.2a3.7 2.7 44 1 0 -5.3 -5.2zM151.4 45.7a3.0 3.0 2 1 0 5.9 0.2a3.0 3.0 2 1 0 -5.9 -0.2zM92.7 56.4a3.3 2.6 72 1 0 2.1 6.3a3.3 2.6 72 1 0 -2.1 -6.3zM105.7 59.0a3.1 2.7 29 1 0 5.4 3.0a3.1 2.7 29 1 0 -5.4 -3.0zM112.9 61.1a2.9 2.2 6 1 0 5.9 0.7a2.9 2.2 6 1 0 -5.9 -0.7zM160.4 60.8a3.2 3.0 114 1 0 -2.6 5.8a3.2 3.0 114 1 0 2.6 -5.8zM58.2 65.8a3.2 2.4 140 1 0 -5.0 4.1a3.2 2.4 140 1 0 5.0 -4.1zM75.5 65.0a3.1 2.8 13 1 0 6.0 1.4a3.1 2.8 13 1 0 -6.0 -1.4zM85.4 62.9a3.5 2.8 130 1 0 -4.6 5.4a3.5 2.8 130 1 0 4.6 -5.4zM93.9 64.1a3.8 2.9 99 1 0 -1.2 7.4a3.8 2.9 99 1 0 1.2 -7.4zM155.9 63.4a3.2 2.6 21 1 0 6.0 2.3a3.2 2.6 21 1 0 -6.0 -2.3zM33.4 69.7a3.3 3.2 156 1 0 -6.0 2.6a3.3 3.2 156 1 0 6.0 -2.6zM71.8 72.7a3.2 2.7 84 1 0 0.7 6.4a3.2 2.7 84 1 0 -0.7 -6.4zM124.6 71.3a3.1 2.3 30 1 0 5.4 3.1a3.1 2.3 30 1 0 -5.4 -3.1zM126.7 75.0a3.8 3.2 23 1 0 7.0 3.0a3.8 3.2 23 1 0 -7.0 -3.0zM161.7 72.8a3.7 2.7 57 1 0 4.1 6.3a3.7 2.7 57 1 0 -4.1 -6.3zM52.5 78.6a3.5 3.3 13 1 0 6.8 1.6a3.5 3.3 13 1 0 -6.8 -1.6zM126.2 74.9a2.9 2.5 68 1 0 2.2 5.4a2.9 2.5 68 1 0 -2.2 -5.4zM161.7 76.7a3.0 2.5 49 1 0 3.9 4.6a3.0 2.5 49 1 0 -3.9 -4.6zM34.2 84.7a3.9 3.6 85 1 0 0.7 7.7a3.9 3.6 85 1 0 -0.7 -7.7zM87.1 83.8a3.6 3.4 83 1 0 0.9 7.2a3.6 3.4 83 1 0 -0.9 -7.2zM130.4 82.7a3.4 2.4 111 1 0 -2.4 6.3a3.4 2.4 111 1 0 2.4 -6.3zM147.0 82.3a3.4 3.3 71 1 0 2.1 6.4a3.4 3.3 71 1 0 -2.1 -6.4zM139.6 90.7a3.2 3.0 96 1 0 -0.7 6.4a3.2 3.0 96 1 0 0.7 -6.4zM47.1 94.9a3.8 3.6 70 1 0 2.6 7.1a3.8 3.6 70 1 0 -2.6 -7.1zM109.0 96.4a3.7 3.5 166 1 0 -7.1 1.7a3.7 3.5 166 1 0 7.1 -1.7zM36.1 105.3a3.5 2.7 116 1 0 -3.1 6.2a3.5 2.7 116 1 0 3.1 -6.2zM54.3 108.0a3.7 3.5 176 1 0 -7.5 0.5a3.7 3.5 176 1 0 7.5 -0.5zM58.6 100.0a3.5 3.1 58 1 0 3.7 6.0a3.5 3.1 58 1 0 -3.7 -6.0zM135.4 102.8a3.5 2.9 16 1 0 6.8 1.9a3.5 2.9 16 1 0 -6.8 -1.9zM163.8 102.7a3.4 2.5 92 1 0 -0.2 6.8a3.4 2.5 92 1 0 0.2 -6.8zM16.2 106.0a3.8 3.2 115 1 0 -3.2 6.9a3.8 3.2 115 1 0 3.2 -6.9zM108.2 107.9a3.6 2.8 67 1 0 2.8 6.6a3.6 2.8 67 1 0 -2.8 -6.6zM165.2 111.4a3.5 2.9 97 1 0 -0.8 7.0a3.5 2.9 97 1 0 0.8 -7.0zM14.6 120.3a3.3 3.1 170 1 0 -6.6 1.1a3.3 3.1 170 1 0 6.6 -1.1zM24.3 114.2a3.6 2.9 95 1 0 -0.6 7.2a3.6 2.9 95 1 0 0.6 -7.2zM53.6 114.5a3.4 3.1 28 1 0 6.0 3.2a3.4 3.1 28 1 0 -6.0 -3.2zM145.0 113.8a3.3 2.8 117 1 0 -3.1 6.0a3.3 2.8 117 1 0 3.1 -6.0zM158.5 118.1a3.9 3.6 50 1 0 5.0 6.0a3.9 3.6 50 1 0 -5.0 -6.0z"/>
<path fill="#a89890" d="M13.3 -5.5a3.5 3.4 154 1 0 -6.3 3.1a3.5 3.4 154 1 0 6.3 -3.1zM135.8 2.6a3.7 3.4 140 1 0 -5.7 4.8a3.7 3.4 140 1 0 5.7 -4.8zM163.1 -1.3a3.3 2.4 39 1 0 5.1 4.2a3.3 2.4 39 1 0 -5.1 -4.2zM51.6 13.4a3.0 2.8 68 1 0 2.2 5.5a3.0 2.8 68 1 0 -2.2 -5.5zM109.0 16.6a2.9 2.5 46 1 0 4.1 4.2a2.9 2.5 46 1 0 -4.1 -4.2zM114.0 13.9a3.0 2.6 49 1 0 4.0 4.6a3.0 2.6 49 1 0 -4.0 -4.6zM119.8 16.1a3.4 3.3 29 1 0 6.0 3.3a3.4 3.3 29 1 0 -6.0 -3.3zM102.0 20.6a3.6 2.8 94 1 0 -0.5 7.1a3.6 2.8 94 1 0 0.5 -7.1zM3.4 24.6a3.8 2.8 33 1 0 6.4 4.2a3.8 2.8 33 1 0 -6.4 -4.2zM35.6 25.0a3.7 3.7 83 1 0 0.9 7.3a3.7 3.7 83 1 0 -0.9 -7.3zM137.5 27.4a3.7 3.5 46 1 0 5.2 5.4a3.7 3.5 46 1 0 -5.2 -5.4zM31.6 48.0a3.5 2.6 174 1 0 -7.0 0.8a3.5 2.6 174 1 0 7.0 -0.8zM15.1 52.1a3.6 2.7 13 1 0 6.9 1.6a3.6 2.7 13 1 0 -6.9 -1.6zM66.9 56.3a3.8 3.5 12 1 0 7.5 1.6a3.8 3.5 12 1 0 -7.5 -1.6zM75.8 50.3a3.2 3.0 126 1 0 -3.8 5.1a3.2 3.0 126 1 0 3.8 -5.1zM143.0 54.6a3.1 2.3 36 1 0 5.0 3.6a3.1 2.3 36 1 0 -5.0 -3.6zM71.7 66.0a2.9 2.6 85 1 0 0.5 5.8a2.9 2.6 85 1 0 -0.5 -5.8zM5.9 68.7a3.3 2.6 131 1 0 -4.4 5.0a3.3 2.6 131 1 0 4.4 -5.0zM81.2 71.3a3.7 2.9 152 1 0 -6.5 3.4a3.7 2.9 152 1 0 6.5 -3.4zM92.2 67.7a3.7 3.2 120 1 0 -3.7 6.4a3.7 3.2 120 1 0 3.7 -6.4zM140.9 68.6a3.6 3.3 140 1 0 -5.4 4.6a3.6 3.3 140 1 0 5.4 -4.6zM80.1 77.0a2.9 2.3 54 1 0 3.5 4.7a2.9 2.3 54 1 0 -3.5 -4.7zM17.1 84.7a3.6 3.5 8 1 0 7.2 1.0a3.6 3.5 8 1 0 -7.2 -1.0zM27.5 83.2a3.7 3.6 47 1 0 5.0 5.4a3.7 3.6 47 1 0 -5.0 -5.4zM55.5 82.7a3.9 3.8 167 1 0 -7.5 1.8a3.9 3.8 167 1 0 7.5 -1.8zM111.0 92.8a3.8 3.1 139 1 0 -5.7 5.0a3.8 3.1 139 1 0 5.7 -5.0zM156.2 89.5a3.6 3.4 131 1 0 -4.7 5.4a3.6 3.4 131 1 0 4.7 -5.4zM10.2 95.4a3.3 2.9 118 1 0 -3.2 5.9a3.3 2.9 118 1 0 3.2 -5.9zM35.1 94.9a3.1 2.6 51 1 0 3.9 4.8a3.1 2.6 51 1 0 -3.9 -4.8zM67.2 101.5a2.9 2.4 78 1 0 1.2 5.7a2.9 2.4 78 1 0 -1.2 -5.7zM98.3 106.7a3.1 2.3 14 1 0 6.0 1.5a3.1 2.3 14 1 0 -6.0 -1.5zM56.7 111.8a3.5 3.0 143 1 0 -5.6 4.2a3.5 3.0 143 1 0 5.6 -4.2zM58.3 106.1a3.9 3.4 60 1 0 3.9 6.8a3.9 3.4 60 1 0 -3.9 -6.8zM73.2 107.1a3.8 3.1 72 1 0 2.3 7.2a3.8 3.1 72 1 0 -2.3 -7.2zM94.7 110.5a2.9 2.2 89 1 0 0.1 5.8a2.9 2.2 89 1 0 -0.1 -5.8zM155.3 112.3a3.7 3.1 27 1 0 6.6 3.3a3.7 3.1 27 1 0 -6.6 -3.3z"/>
<path fill="#b0a090" d="M17.8 -4.0a3.5 2.5 151 1 0 -6.1 3.4a3.5 2.5 151 1 0 6.1 -3.4zM105.0 -5.5a3.8 2.9 50 1 0 4.8 5.8a3.8 2.9 50 1 0 -4.8 -5.8zM-4.2 6.0a3.4 3.2 19 1 0 6.4 2.2a3.4 3.2 19 1 0 -6.4 -2.2zM92.4 9.0a3.2 2.7 93 1 0 -0.3 6.4a3.2 2.7 93 1 0 0.3 -6.4zM25.2 12.0a3.1 2.5 29 1 0 5.4 3.0a3.1 2.5 29 1 0 -5.4 -3.0zM33.6 10.6a3.4 2.8 103 1 0 -1.6 6.7a3.4 2.8 103 1 0 1.6 -6.7zM80.2 16.8a3.2 2.4 171 1 0 -6.4 1.0a3.2 2.4 171 1 0 6.4 -1.0zM91.7 15.6a3.5 2.6 138 1 0 -5.2 4.7a3.5 2.6 138 1 0 5.2 -4.7zM8.0 20.1a3.1 2.6 64 1 0 2.7 5.5a3.1 2.6 64 1 0 -2.7 -5.5zM21.3 27.4a3.5 3.2 95 1 0 -0.6 6.9a3.5 3.2 95 1 0 0.6 -6.9zM116.4 23.1a3.4 3.3 93 1 0 -0.3 6.8a3.4 3.3 93 1 0 0.3 -6.8zM149.0 28.6a3.3 2.9 170 1 0 -6.6 1.1a3.3 2.9 170 1 0 6.6 -1.1zM99.6 40.5a3.4 3.4 25 1 0 6.3 2.9a3.4 3.4 25 1 0 -6.3 -2.9zM119.3 40.4a3.4 2.5 113 1 0 -2.6 6.3a3.4 2.5 113 1 0 2.6 -6.3zM57.4 48.1a3.0 2.1 64 1 0 2.7 5.3a3.0 2.1 64 1 0 -2.7 -5.3zM152.4 47.1a3.4 2.7 155 1 0 -6.2 2.9a3.4 2.7 155 1 0 6.2 -2.9zM12.6 50.3a3.2 2.8 114 1 0 -2.6 5.9a3.2 2.8 114 1 0 2.6 -5.9zM101.6 51.1a3.8 2.9 90 1 0 -0.0 7.6a3.8 2.9 90 1 0 0.0 -7.6zM157.8 53.3a3.4 2.8 85 1 0 0.5 6.8a3.4 2.8 85 1 0 -0.5 -6.8zM71.3 63.1a3.2 2.3 0 1 0 6.5 0.0a3.2 2.3 0 1 0 -6.5 -0.0zM22.7 72.5a3.2 2.3 76 1 0 1.6 6.2a3.2 2.3 76 1 0 -1.6 -6.2zM59.5 69.8a3.6 3.3 103 1 0 -1.6 7.1a3.6 3.3 103 1 0 1.6 -7.1zM99.9 72.9a3.1 2.6 46 1 0 4.3 4.5a3.1 2.6 46 1 0 -4.3 -4.5zM102.8 80.2a3.4 2.7 135 1 0 -4.8 4.8a3.4 2.7 135 1 0 4.8 -4.8zM-1.3 91.1a3.3 3.1 61 1 0 3.2 5.8a3.3 3.1 61 1 0 -3.2 -5.8zM16.8 87.9a3.0 2.4 51 1 0 3.7 4.6a3.0 2.4 51 1 0 -3.7 -4.6zM118.7 91.3a3.0 2.2 9 1 0 5.8 0.9a3.0 2.2 9 1 0 -5.8 -0.9zM20.7 96.5a2.9 2.5 145 1 0 -4.9 3.3a2.9 2.5 145 1 0 4.9 -3.3zM33.3 101.4a3.4 3.1 171 1 0 -6.8 1.1a3.4 3.1 171 1 0 6.8 -1.1zM154.6 99.8a3.1 2.4 151 1 0 -5.3 2.9a3.1 2.4 151 1 0 5.3 -2.9zM-1.9 105.6a3.3 3.2 37 1 0 5.3 4.0a3.3 3.2 37 1 0 -5.3 -4.0zM68.1 102.1a3.1 2.8 156 1 0 -5.7 2.6a3.1 2.8 156 1 0 5.7 -2.6zM78.7 105.2a3.4 3.0 100 1 0 -1.1 6.7a3.4 3.0 100 1 0 1.1 -6.7zM77.8 103.3a3.5 2.7 22 1 0 6.4 2.6a3.5 2.7 22 1 0 -6.4 -2.6zM147.7 105.9a3.6 3.2 141 1 0 -5.6 4.6a3.6 3.2 141 1 0 5.6 -4.6zM159.6 102.2a3.0 2.7 127 1 0 -3.6 4.8a3.0 2.7 127 1 0 3.6 -4.8zM13.0 109.6a3.9 2.8 155 1 0 -7.1 3.4a3.9 2.8 155 1 0 7.1 -3.4zM30.4 107.5a3.4 2.9 143 1 0 -5.4 4.1a3.4 2.9 143 1 0 5.4 -4.1zM85.9 113.7a3.4 3.0 171 1 0 -6.8 1.1a3.4 3.0 171 1 0 6.8 -1.1zM133.0 109.1a3.7 3.7 60 1 0 3.7 6.3a3.7 3.7 60 1 0 -3.7 -6.3zM44.8 114.4a3.3 3.0 77 1 0 1.6 6.5a3.3 3.0 77 1 0 -1.6 -6.5zM47.8 118.7a3.0 2.5 46 1 0 4.2 4.3a3.0 2.5 46 1 0 -4.2 -4.3zM85.0 115.9a3.1 2.2 34 1 0 5.1 3.4a3.1 2.2 34 1 0 -5.1 -3.4zM96.3 112.3a3.4 3.0 102 1 0 -1.3 6.6a3.4 3.0 102 1 0 1.3 -6.6z"/>
<path fill="#a8a090" d="M48.2 -7.2a3.6 2.9 69 1 0 2.5 6.7a3.6 2.9 69 1 0 -2.5 -6.7zM61.6 -1.1a3.5 3.1 168 1 0 -6.8 1.5a3.5 3.1 168 1 0 6.8 -1.5zM73.8 -6.9a3.9 3.6 56 1 0 4.3 6.5a3.9 3.6 56 1 0 -4.3 -6.5zM135.0 -4.8a3.8 3.6 21 1 0 7.0 2.7a3.8 3.6 21 1 0 -7.0 -2.7zM146.2 -3.9a3.8 3.3 162 1 0 -7.2 2.3a3.8 3.3 162 1 0 7.2 -2.3zM-0.4 -2.4a3.5 2.8 109 1 0 -2.2 6.7a3.5 2.8 109 1 0 2.2 -6.7zM25.3 0.8a3.0 2.7 76 1 0 1.4 5.9a3.0 2.7 76 1 0 -1.4 -5.9zM58.2 1.4a3.2 2.6 172 1 0 -6.3 0.9a3.2 2.6 172 1 0 6.3 -0.9zM94.1 -1.2a3.3 2.7 57 1 0 3.6 5.5a3.3 2.7 57 1 0 -3.6 -5.5zM110.5 2.9a3.3 3.0 39 1 0 5.1 4.2a3.3 3.0 39 1 0 -5.1 -4.2zM142.9 3.6a2.9 2.8 170 1 0 -5.7 1.0a2.9 2.8 170 1 0 5.7 -1.0zM55.0 5.5a3.4 2.7 77 1 0 1.5 6.6a3.4 2.7 77 1 0 -1.5 -6.6zM66.4 9.2a3.1 2.3 67 1 0 2.4 5.7a3.1 2.3 67 1 0 -2.4 -5.7zM76.0 8.9a3.1 2.9 88 1 0 0.2 6.2a3.1 2.9 88 1 0 -0.2 -6.2zM80.8 7.7a3.9 2.7 107 1 0 -2.2 7.4a3.9 2.7 107 1 0 2.2 -7.4zM102.5 5.9a3.8 3.1 51 1 0 4.7 5.9a3.8 3.1 51 1 0 -4.7 -5.9zM147.4 4.0a3.3 2.5 58 1 0 3.6 5.6a3.3 2.5 58 1 0 -3.6 -5.6zM14.4 10.0a3.6 3.5 89 1 0 0.1 7.2a3.6 3.5 89 1 0 -0.1 -7.2zM19.3 14.7a3.7 2.7 134 1 0 -5.1 5.3a3.7 2.7 134 1 0 5.1 -5.3zM73.6 12.9a3.8 2.7 126 1 0 -4.4 6.1a3.8 2.7 126 1 0 4.4 -6.1zM145.4 10.6a3.6 3.6 91 1 0 -0.1 7.3a3.6 3.6 91 1 0 0.1 -7.3zM150.2 13.7a3.1 3.1 20 1 0 5.9 2.1a3.1 3.1 20 1 0 -5.9 -2.1zM20.8 17.2a3.5 3.4 101 1 0 -1.3 6.8a3.5 3.4 101 1 0 1.3 -6.8zM30.3 20.2a3.2 2.9 169 1 0 -6.3 1.2a3.2 2.9 169 1 0 6.3 -1.2zM41.2 17.3a3.5 3.2 110 1 0 -2.4 6.6a3.5 3.2 110 1 0 2.4 -6.6zM126.5 19.4a3.3 3.2 178 1 0 -6.5 0.2a3.3 3.2 178 1 0 6.5 -0.2zM141.5 21.4a3.2 2.8 133 1 0 -4.4 4.6a3.2 2.8 133 1 0 4.4 -4.6zM73.3 26.2a3.4 3.0 57 1 0 3.7 5.7a3.4 3.0 57 1 0 -3.7 -5.7zM95.3 26.9a3.8 2.9 168 1 0 -7.5 1.5a3.8 2.9 168 1 0 7.5 -1.5zM130.5 27.8a3.0 2.5 87 1 0 0.3 6.0a3.0 2.5 87 1 0 -0.3 -6.0zM153.4 22.7a3.2 3.0 91 1 0 -0.1 6.4a3.2 3.0 91 1 0 0.1 -6.4zM106.2 33.5a3.3 2.5 85 1 0 0.5 6.6a3.3 2.5 85 1 0 -0.5 -6.6zM141.5 33.2a3.7 3.3 127 1 0 -4.4 5.9a3.7 3.3 127 1 0 4.4 -5.9zM147.6 32.0a3.0 2.5 172 1 0 -5.9 0.9a3.0 2.5 172 1 0 5.9 -0.9zM10.4 39.1a3.4 2.5 172 1 0 -6.7 1.0a3.4 2.5 172 1 0 6.7 -1.0zM19.6 37.6a3.1 3.0 92 1 0 -0.2 6.2a3.1 3.0 92 1 0 0.2 -6.2zM28.6 37.2a3.8 2.9 142 1 0 -6.0 4.6a3.8 2.9 142 1 0 6.0 -4.6zM45.3 36.3a3.8 3.2 68 1 0 2.9 7.0a3.8 3.2 68 1 0 -2.9 -7.0zM105.1 41.3a3.6 3.6 49 1 0 4.7 5.5a3.6 3.6 49 1 0 -4.7 -5.5zM144.1 38.7a3.4 2.4 67 1 0 2.6 6.3a3.4 2.4 67 1 0 -2.6 -6.3zM36.5 47.3a3.3 3.2 165 1 0 -6.4 1.8a3.3 3.2 165 1 0 6.4 -1.8zM81.7 46.2a3.4 2.6 101 1 0 -1.3 6.6a3.4 2.6 101 1 0 1.3 -6.6zM85.7 45.6a3.1 2.5 47 1 0 4.3 4.6a3.1 2.5 47 1 0 -4.3 -4.6zM92.4 48.8a3.5 2.7 20 1 0 6.6 2.4a3.5 2.7 20 1 0 -6.6 -2.4zM104.4 46.3a3.4 2.7 160 1 0 -6.4 2.4a3.4 2.7 160 1 0 6.4 -2.4zM114.6 44.8a3.4 2.9 95 1 0 -0.6 6.8a3.4 2.9 95 1 0 0.6 -6.8zM143.0 48.2a3.3 2.9 158 1 0 -6.1 2.4a3.3 2.9 158 1 0 6.1 -2.4zM163.6 44.6a3.5 2.6 101 1 0 -1.4 6.9a3.5 2.6 101 1 0 1.4 -6.9zM4.6 52.2a3.8 3.4 39 1 0 5.9 4.8a3.8 3.4 39 1 0 -5.9 -4.8zM9.5 59.3a3.6 2.9 127 1 0 -4.4 5.8a3.6 2.9 127 1 0 4.4 -5.8zM72.1 58.4a3.6 2.7 153 1 0 -6.4 3.3a3.6 2.7 153 1 0 6.4 -3.3zM81.8 56.4a3.2 3.2 115 1 0 -2.7 5.8a3.2 3.2 115 1 0 2.7 -5.8zM112.9 58.0a3.1 2.8 103 1 0 -1.4 6.0a3.1 2.8 103 1 0 1.4 -6.0zM16.8 65.9a3.3 3.3 8 1 0 6.4 0.9a3.3 3.3 8 1 0 -6.4 -0.9zM122.6 63.9a3.1 3.0 109 1 0 -2.0 5.8a3.1 3.0 109 1 0 2.0 -5.8zM141.7 64.7a3.3 2.9 63 1 0 2.9 5.8a3.3 2.9 63 1 0 -2.9 -5.8zM143.0 71.2a3.4 2.7 82 1 0 0.9 6.7a3.4 2.7 82 1 0 -0.9 -6.7zM154.8 75.0a3.3 2.3 14 1 0 6.3 1.6a3.3 2.3 14 1 0 -6.3 -1.6zM2.4 77.9a3.0 2.7 151 1 0 -5.3 2.9a3.0 2.7 151 1 0 5.3 -2.9zM28.9 76.0a3.7 2.9 146 1 0 -6.1 4.1a3.7 2.9 146 1 0 6.1 -4.1zM70.3 75.3a3.4 2.8 102 1 0 -1.4 6.8a3.4 2.8 102 1 0 1.4 -6.8zM91.4 78.2a3.4 2.4 18 1 0 6.5 2.1a3.4 2.4 18 1 0 -6.5 -2.1zM116.8 79.0a3.4 3.0 95 1 0 -0.5 6.8a3.4 3.0 95 1 0 0.5 -6.8zM50.6 84.4a3.5 2.6 175 1 0 -7.1 0.6a3.5 2.6 175 1 0 7.1 -0.6zM71.8 83.7a3.8 3.8 80 1 0 1.3 7.5a3.8 3.8 80 1 0 -1.3 -7.5zM92.0 87.4a3.6 3.1 20 1 0 6.8 2.4a3.6 3.1 20 1 0 -6.8 -2.4zM95.3 85.2a3.1 2.4 40 1 0 4.8 4.0a3.1 2.4 40 1 0 -4.8 -4.0zM155.3 81.3a3.2 3.2 71 1 0 2.1 6.1a3.2 3.2 71 1 0 -2.1 -6.1zM60.3 87.9a3.5 2.8 120 1 0 -3.5 6.1a3.5 2.8 120 1 0 3.5 -6.1zM98.1 97.0a3.9 3.1 78 1 0 1.7 7.6a3.9 3.1 78 1 0 -1.7 -7.6zM128.2 99.3a3.7 3.4 154 1 0 -6.7 3.3a3.7 3.4 154 1 0 6.7 -3.3zM131.2 97.6a2.9 2.8 103 1 0 -1.3 5.8a2.9 2.8 103 1 0 1.3 -5.8zM144.0 95.4a3.0 2.9 110 1 0 -2.1 5.7a3.0 2.9 110 1 0 2.1 -5.7zM92.9 104.1a3.1 2.9 15 1 0 5.9 1.6a3.1 2.9 15 1 0 -5.9 -1.6zM30.8 109.1a3.9 3.4 49 1 0 5.1 5.8a3.9 3.4 49 1 0 -5.1 -5.8zM107.2 108.1a3.9 3.5 154 1 0 -7.0 3.4a3.9 3.5 154 1 0 7.0 -3.4zM142.5 112.9a3.4 2.6 15 1 0 6.6 1.8a3.4 2.6 15 1 0 -6.6 -1.8zM31.0 115.7a3.7 2.6 87 1 0 0.4 7.3a3.7 2.6 87 1 0 -0.4 -7.3zM105.9 116.5a3.7 3.2 158 1 0 -7.0 2.8a3.7 3.2 158 1 0 7.0 -2.8z"/>
<path fill="#b0a098" d="M53.2 -2.1a3.5 3.0 6 1 0 6.9 0.7a3.5 3.0 6 1 0 -6.9 -0.7zM62.6 0.5a3.6 2.8 74 1 0 2.0 6.9a3.6 2.8 74 1 0 -2.0 -6.9zM105.4 4.6a3.9 3.9 179 1 0 -7.8 0.2a3.9 3.9 179 1 0 7.8 -0.2zM45.4 12.0a3.1 2.4 131 1 0 -4.1 4.7a3.1 2.4 131 1 0 4.1 -4.7zM129.7 14.6a3.8 3.6 47 1 0 5.2 5.6a3.8 3.6 47 1 0 -5.2 -5.6zM159.9 12.5a3.0 2.9 18 1 0 5.6 1.9a3.0 2.9 18 1 0 -5.6 -1.9zM-1.7 21.2a3.0 2.1 103 1 0 -1.3 5.8a3.0 2.1 103 1 0 1.3 -5.8zM92.2 21.1a3.4 2.6 159 1 0 -6.3 2.4a3.4 2.6 159 1 0 6.3 -2.4zM23.4 35.4a3.0 3.0 157 1 0 -5.5 2.4a3.0 3.0 157 1 0 5.5 -2.4zM70.4 36.3a3.9 3.1 167 1 0 -7.5 1.7a3.9 3.1 167 1 0 7.5 -1.7zM114.7 32.0a3.8 3.7 45 1 0 5.4 5.5a3.8 3.7 45 1 0 -5.4 -5.5zM158.9 34.8a3.6 3.2 8 1 0 7.1 1.0a3.6 3.2 8 1 0 -7.1 -1.0zM41.0 40.7a3.3 2.6 139 1 0 -5.0 4.3a3.3 2.6 139 1 0 5.0 -4.3zM121.4 36.3a3.2 3.0 76 1 0 1.6 6.2a3.2 3.0 76 1 0 -1.6 -6.2zM133.2 40.3a3.4 2.9 178 1 0 -6.7 0.2a3.4 2.9 178 1 0 6.7 -0.2zM139.9 40.2a3.6 3.4 68 1 0 2.6 6.7a3.6 3.4 68 1 0 -2.6 -6.7zM74.6 46.1a3.1 2.4 120 1 0 -3.1 5.3a3.1 2.4 120 1 0 3.1 -5.3zM105.2 44.9a3.6 3.2 90 1 0 -0.0 7.1a3.6 3.2 90 1 0 0.0 -7.1zM-5.5 58.9a3.1 2.5 2 1 0 6.2 0.2a3.1 2.5 2 1 0 -6.2 -0.2zM29.9 64.3a3.7 3.1 53 1 0 4.4 5.9a3.7 3.1 53 1 0 -4.4 -5.9zM50.3 65.9a3.1 2.6 109 1 0 -2.0 5.9a3.1 2.6 109 1 0 2.0 -5.9zM107.6 64.0a3.6 3.0 21 1 0 6.8 2.6a3.6 3.0 21 1 0 -6.8 -2.6zM149.1 64.2a3.1 2.5 18 1 0 6.0 2.0a3.1 2.5 18 1 0 -6.0 -2.0zM162.7 65.2a3.8 2.8 46 1 0 5.3 5.5a3.8 2.8 46 1 0 -5.3 -5.5zM8.4 69.6a3.7 3.0 34 1 0 6.1 4.2a3.7 3.0 34 1 0 -6.1 -4.2zM83.9 81.5a3.6 2.9 115 1 0 -3.1 6.5a3.6 2.9 115 1 0 3.1 -6.5zM99.4 85.8a3.8 3.5 4 1 0 7.6 0.5a3.8 3.5 4 1 0 -7.6 -0.5zM109.8 80.6a3.6 3.2 64 1 0 3.2 6.5a3.6 3.2 64 1 0 -3.2 -6.5zM128.3 84.7a3.5 3.3 173 1 0 -7.0 0.9a3.5 3.3 173 1 0 7.0 -0.9zM148.4 83.2a3.9 3.4 153 1 0 -7.0 3.5a3.9 3.4 153 1 0 7.0 -3.5zM162.7 84.8a3.0 2.4 71 1 0 1.9 5.7a3.0 2.4 71 1 0 -1.9 -5.7zM97.3 89.1a3.0 2.8 126 1 0 -3.6 4.9a3.0 2.8 126 1 0 3.6 -4.9zM124.3 93.1a3.9 3.0 42 1 0 5.7 5.2a3.9 3.0 42 1 0 -5.7 -5.2zM68.4 97.8a3.7 3.5 25 1 0 6.7 3.1a3.7 3.5 25 1 0 -6.7 -3.1zM117.0 101.0a3.0 2.7 171 1 0 -5.8 0.9a3.0 2.7 171 1 0 5.8 -0.9zM155.8 97.6a3.5 2.5 36 1 0 5.7 4.2a3.5 2.5 36 1 0 -5.7 -4.2zM116.4 103.7a3.2 2.7 124 1 0 -3.6 5.3a3.2 2.7 124 1 0 3.6 -5.3zM121.9 114.7a3.3 2.6 55 1 0 3.9 5.4a3.3 2.6 55 1 0 -3.9 -5.4zM140.2 116.0a3.7 3.4 146 1 0 -6.0 4.1a3.7 3.4 146 1 0 6.0 -4.1z"/>
<path fill="#a0a8c0" d="M76.8 -1.7a3.3 3.2 23 1 0 6.1 2.6a3.3 3.2 23 1 0 -6.1 -2.6zM40.2 22.2a3.8 3.7 168 1 0 -7.5 1.6a3.8 3.7 168 1 0 7.5 -1.6zM49.7 20.1a3.0 2.5 173 1 0 -5.9 0.8a3.0 2.5 173 1 0 5.9 -0.8zM28.9 27.2a3.4 2.5 59 1 0 3.5 5.9a3.4 2.5 59 1 0 -3.5 -5.9zM55.7 39.2a3.7 3.0 121 1 0 -3.8 6.3a3.7 3.0 121 1 0 3.8 -6.3zM8.4 63.6a3.7 2.9 82 1 0 1.0 7.3a3.7 2.9 82 1 0 -1.0 -7.3zM61.2 90.8a3.8 3.7 46 1 0 5.3 5.4a3.8 3.7 46 1 0 -5.3 -5.4zM70.9 117.5a3.3 2.3 132 1 0 -4.4 4.8a3.3 2.3 132 1 0 4.4 -4.8z"/>
<path fill="#98a0b0" d="M86.3 -5.9a3.1 3.0 117 1 0 -2.8 5.6a3.1 3.0 117 1 0 2.8 -5.6zM36.1 4.1a3.4 2.9 169 1 0 -6.6 1.2a3.4 2.9 169 1 0 6.6 -1.2zM52.8 -3.1a3.6 3.2 81 1 0 1.2 7.2a3.6 3.2 81 1 0 -1.2 -7.2zM86.6 2.2a3.8 3.7 4 1 0 7.6 0.6a3.8 3.7 4 1 0 -7.6 -0.6zM43.7 6.5a3.2 2.9 46 1 0 4.4 4.6a3.2 2.9 46 1 0 -4.4 -4.6zM83.2 5.7a3.5 2.8 54 1 0 4.1 5.7a3.5 2.8 54 1 0 -4.1 -5.7zM43.3 16.7a3.5 2.9 177 1 0 -7.0 0.4a3.5 2.9 177 1 0 7.0 -0.4zM62.6 15.1a3.5 3.1 176 1 0 -7.0 0.5a3.5 3.1 176 1 0 7.0 -0.5zM65.5 16.4a3.4 2.6 136 1 0 -4.8 4.7a3.4 2.6 136 1 0 4.8 -4.7zM42.4 32.9a3.3 2.6 4 1 0 6.5 0.5a3.3 2.6 4 1 0 -6.5 -0.5zM78.3 30.0a3.2 2.7 88 1 0 0.2 6.3a3.2 2.7 88 1 0 -0.2 -6.3zM17.8 43.8a3.5 2.8 177 1 0 -7.0 0.4a3.5 2.8 177 1 0 7.0 -0.4zM32.7 41.3a3.3 2.7 82 1 0 1.0 6.5a3.3 2.7 82 1 0 -1.0 -6.5zM65.2 39.7a3.6 2.7 139 1 0 -5.3 4.7a3.6 2.7 139 1 0 5.3 -4.7zM0.3 48.2a3.7 3.2 105 1 0 -1.9 7.1a3.7 3.2 105 1 0 1.9 -7.1zM19.4 55.6a3.9 3.4 18 1 0 7.3 2.4a3.9 3.4 18 1 0 -7.3 -2.4zM41.1 59.4a3.5 3.5 162 1 0 -6.7 2.2a3.5 3.5 162 1 0 6.7 -2.2zM13.1 84.1a3.9 3.1 3 1 0 7.8 0.5a3.9 3.1 3 1 0 -7.8 -0.5zM49.5 89.3a3.0 2.7 47 1 0 4.1 4.3a3.0 2.7 47 1 0 -4.1 -4.3z"/>
<path fill="#a0a8b8" d="M99.0 -2.0a3.7 3.2 179 1 0 -7.4 0.1a3.7 3.2 179 1 0 7.4 -0.1zM71.0 -0.3a3.5 3.0 18 1 0 6.6 2.1a3.5 3.0 18 1 0 -6.6 -2.1zM82.1 16.6a3.0 2.8 39 1 0 4.6 3.8a3.0 2.8 39 1 0 -4.6 -3.8zM106.2 15.6a3.2 3.1 131 1 0 -4.2 4.8a3.2 3.1 131 1 0 4.2 -4.8zM69.4 19.3a2.9 2.1 143 1 0 -4.6 3.5a2.9 2.1 143 1 0 4.6 -3.5zM74.3 21.9a3.3 2.6 62 1 0 3.1 5.9a3.3 2.6 62 1 0 -3.1 -5.9zM1.3 23.9a3.9 3.2 67 1 0 3.0 7.1a3.9 3.2 67 1 0 -3.0 -7.1zM47.9 30.9a3.4 2.5 170 1 0 -6.6 1.2a3.4 2.5 170 1 0 6.6 -1.2zM98.0 26.2a3.1 2.6 177 1 0 -6.1 0.3a3.1 2.6 177 1 0 6.1 -0.3zM1.7 31.5a3.1 2.9 55 1 0 3.6 5.0a3.1 2.9 55 1 0 -3.6 -5.0zM44.4 36.5a3.8 3.3 170 1 0 -7.4 1.3a3.8 3.3 170 1 0 7.4 -1.3zM11.9 47.3a3.1 2.8 126 1 0 -3.6 5.0a3.1 2.8 126 1 0 3.6 -5.0zM44.7 46.8a3.1 2.5 41 1 0 4.7 4.1a3.1 2.5 41 1 0 -4.7 -4.1zM28.8 59.8a3.0 3.0 133 1 0 -4.1 4.4a3.0 3.0 133 1 0 4.1 -4.4zM41.0 55.8a3.9 3.7 118 1 0 -3.7 6.9a3.9 3.7 118 1 0 3.7 -6.9zM10.8 64.3a3.3 3.2 87 1 0 0.3 6.6a3.3 3.2 87 1 0 -0.3 -6.6zM40.3 81.8a3.4 2.7 95 1 0 -0.5 6.8a3.4 2.7 95 1 0 0.5 -6.8zM28.9 91.9a3.6 3.2 156 1 0 -6.6 2.9a3.6 3.2 156 1 0 6.6 -2.9zM38.1 87.2a3.1 2.7 112 1 0 -2.3 5.6a3.1 2.7 112 1 0 2.3 -5.6zM15.7 101.3a3.2 2.8 52 1 0 3.9 5.0a3.2 2.8 52 1 0 -3.9 -5.0zM0.5 118.8a3.7 2.9 140 1 0 -5.7 4.7a3.7 2.9 140 1 0 5.7 -4.7zM108.4 115.1a3.7 3.3 99 1 0 -1.2 7.3a3.7 3.3 99 1 0 1.2 -7.3z"/>
<path fill="#b0a898" d="M102.0 -2.4a3.6 2.8 145 1 0 -5.9 4.1a3.6 2.8 145 1 0 5.9 -4.1zM122.8 -6.8a3.8 3.5 99 1 0 -1.2 7.4a3.8 3.5 99 1 0 1.2 -7.4zM126.1 -4.5a3.0 2.5 18 1 0 5.8 1.9a3.0 2.5 18 1 0 -5.8 -1.9zM34.7 -0.7a3.1 2.7 51 1 0 3.9 4.9a3.1 2.7 51 1 0 -3.9 -4.9zM66.6 0.7a3.1 2.6 61 1 0 3.0 5.5a3.1 2.6 61 1 0 -3.0 -5.5zM114.3 0.7a3.6 3.2 180 1 0 -7.1 0.1a3.6 3.2 180 1 0 7.1 -0.1zM150.9 3.4a3.2 2.7 22 1 0 5.9 2.4a3.2 2.7 22 1 0 -5.9 -2.4zM5.6 10.6a3.9 3.2 2 1 0 7.7 0.3a3.9 3.2 2 1 0 -7.7 -0.3zM11.6 9.5a3.6 3.3 28 1 0 6.4 3.4a3.6 3.3 28 1 0 -6.4 -3.4zM26.9 6.4a2.9 2.4 14 1 0 5.7 1.4a2.9 2.4 14 1 0 -5.7 -1.4zM42.7 4.5a3.9 3.4 90 1 0 -0.0 7.7a3.9 3.4 90 1 0 0.0 -7.7zM114.1 7.2a3.7 3.3 10 1 0 7.3 1.3a3.7 3.3 10 1 0 -7.3 -1.3zM141.3 7.5a3.3 3.0 177 1 0 -6.6 0.3a3.3 3.0 177 1 0 6.6 -0.3zM95.4 14.6a3.8 3.5 66 1 0 3.2 7.0a3.8 3.5 66 1 0 -3.2 -7.0zM129.9 12.9a3.5 3.0 132 1 0 -4.7 5.2a3.5 3.0 132 1 0 4.7 -5.2zM62.0 20.8a3.6 3.1 104 1 0 -1.8 7.0a3.6 3.1 104 1 0 1.8 -7.0zM79.3 19.5a3.2 2.8 95 1 0 -0.5 6.3a3.2 2.8 95 1 0 0.5 -6.3zM103.1 20.1a3.1 2.4 54 1 0 3.6 5.0a3.1 2.4 54 1 0 -3.6 -5.0zM112.5 17.5a3.6 3.4 97 1 0 -0.9 7.1a3.6 3.4 97 1 0 0.9 -7.1zM120.4 20.3a3.1 2.4 75 1 0 1.7 6.1a3.1 2.4 75 1 0 -1.7 -6.1zM143.5 17.7a2.9 2.5 68 1 0 2.1 5.4a2.9 2.5 68 1 0 -2.1 -5.4zM63.1 27.9a3.4 3.0 84 1 0 0.7 6.8a3.4 3.0 84 1 0 -0.7 -6.8zM83.8 23.3a3.5 2.9 97 1 0 -0.9 6.9a3.5 2.9 97 1 0 0.9 -6.9zM54.4 34.2a3.1 2.8 140 1 0 -4.8 4.1a3.1 2.8 140 1 0 4.8 -4.1zM86.6 32.2a3.4 2.9 134 1 0 -4.8 4.9a3.4 2.9 134 1 0 4.8 -4.9zM76.8 38.8a3.2 2.8 40 1 0 4.8 4.0a3.2 2.8 40 1 0 -4.8 -4.0zM93.4 35.9a3.7 3.1 106 1 0 -2.1 7.2a3.7 3.1 106 1 0 2.1 -7.2zM95.8 39.3a3.7 3.2 45 1 0 5.1 5.2a3.7 3.2 45 1 0 -5.1 -5.2zM11.5 43.7a3.1 2.6 56 1 0 3.4 5.2a3.1 2.6 56 1 0 -3.4 -5.2zM25.7 45.8a3.5 3.1 178 1 0 -6.9 0.3a3.5 3.1 178 1 0 6.9 -0.3zM114.8 47.4a3.8 2.9 4 1 0 7.6 0.5a3.8 2.9 4 1 0 -7.6 -0.5zM130.8 46.3a3.7 3.4 125 1 0 -4.2 6.2a3.7 3.4 125 1 0 4.2 -6.2zM53.7 51.9a3.1 2.7 111 1 0 -2.2 5.8a3.1 2.7 111 1 0 2.2 -5.8zM68.7 51.9a3.1 2.6 174 1 0 -6.1 0.6a3.1 2.6 174 1 0 6.1 -0.6zM103.3 49.7a3.5 2.7 34 1 0 5.7 3.9a3.5 2.7 34 1 0 -5.7 -3.9zM124.2 54.6a3.5 3.3 137 1 0 -5.2 4.8a3.5 3.3 137 1 0 5.2 -4.8zM139.8 56.4a3.5 3.4 7 1 0 7.0 0.8a3.5 3.4 7 1 0 -7.0 -0.8zM87.3 61.0a3.1 2.6 130 1 0 -4.0 4.8a3.1 2.6 130 1 0 4.0 -4.8zM97.0 56.9a3.4 3.0 27 1 0 6.0 3.1a3.4 3.0 27 1 0 -6.0 -3.1zM126.8 57.8a3.6 3.1 154 1 0 -6.5 3.1a3.6 3.1 154 1 0 6.5 -3.1zM144.2 56.7a3.2 2.4 121 1 0 -3.3 5.6a3.2 2.4 121 1 0 3.3 -5.6zM153.8 57.5a3.5 3.0 155 1 0 -6.3 2.9a3.5 3.0 155 1 0 6.3 -2.9zM43.3 67.2a3.1 2.2 159 1 0 -5.8 2.2a3.1 2.2 159 1 0 5.8 -2.2zM87.4 66.0a2.9 2.5 25 1 0 5.3 2.5a2.9 2.5 25 1 0 -5.3 -2.5zM130.3 63.5a3.5 3.1 139 1 0 -5.2 4.6a3.5 3.1 139 1 0 5.2 -4.6zM137.9 61.3a3.9 3.2 117 1 0 -3.5 6.9a3.9 3.2 117 1 0 3.5 -6.9zM150.7 67.2a3.7 3.3 152 1 0 -6.5 3.5a3.7 3.3 152 1 0 6.5 -3.5zM47.1 70.1a3.9 3.6 116 1 0 -3.4 6.9a3.9 3.6 116 1 0 3.4 -6.9zM56.2 72.9a3.6 2.7 95 1 0 -0.7 7.1a3.6 2.7 95 1 0 0.7 -7.1zM65.7 70.5a3.0 2.2 8 1 0 5.9 0.9a3.0 2.2 8 1 0 -5.9 -0.9zM119.7 70.7a3.9 2.9 136 1 0 -5.6 5.4a3.9 2.9 136 1 0 5.6 -5.4zM145.0 71.3a3.2 2.8 26 1 0 5.8 2.8a3.2 2.8 26 1 0 -5.8 -2.8zM11.4 76.3a3.7 2.7 34 1 0 6.1 4.1a3.7 2.7 34 1 0 -6.1 -4.1zM17.8 74.6a3.6 2.9 81 1 0 1.1 7.2a3.6 2.9 81 1 0 -1.1 -7.2zM47.9 81.8a3.6 2.7 162 1 0 -6.8 2.3a3.6 2.7 162 1 0 6.8 -2.3zM58.4 80.5a3.2 2.5 11 1 0 6.3 1.3a3.2 2.5 11 1 0 -6.3 -1.3zM110.4 78.8a3.7 3.6 131 1 0 -4.9 5.7a3.7 3.6 131 1 0 4.9 -5.7zM119.9 76.2a2.9 2.7 111 1 0 -2.1 5.5a2.9 2.7 111 1 0 2.1 -5.5zM139.2 80.1a3.2 3.1 1 1 0 6.4 0.1a3.2 3.1 1 1 0 -6.4 -0.1zM142.2 76.5a3.8 3.5 50 1 0 4.9 5.8a3.8 3.5 50 1 0 -4.9 -5.8zM155.7 76.6a3.6 2.6 168 1 0 -7.1 1.5a3.6 2.6 168 1 0 7.1 -1.5zM57.9 86.0a3.7 3.2 13 1 0 7.3 1.7a3.7 3.2 13 1 0 -7.3 -1.7zM65.3 88.5a3.7 2.7 11 1 0 7.4 1.4a3.7 2.7 11 1 0 -7.4 -1.4zM133.9 84.4a3.5 2.8 1 1 0 7.0 0.1a3.5 2.8 1 1 0 -7.0 -0.1zM12.3 87.1a3.2 2.7 94 1 0 -0.5 6.4a3.2 2.7 94 1 0 0.5 -6.4zM104.6 91.6a3.5 2.9 95 1 0 -0.6 6.9a3.5 2.9 95 1 0 0.6 -6.9zM26.1 98.5a3.1 2.6 143 1 0 -5.0 3.8a3.1 2.6 143 1 0 5.0 -3.8zM86.9 95.2a3.4 3.3 150 1 0 -5.9 3.4a3.4 3.3 150 1 0 5.9 -3.4zM90.9 96.4a3.1 2.5 10 1 0 6.1 1.1a3.1 2.5 10 1 0 -6.1 -1.1zM160.1 97.7a3.9 3.4 47 1 0 5.3 5.6a3.9 3.4 47 1 0 -5.3 -5.6zM42.3 104.1a3.0 2.8 49 1 0 4.0 4.6a3.0 2.8 49 1 0 -4.0 -4.6zM87.8 102.2a3.9 3.0 103 1 0 -1.8 7.5a3.9 3.0 103 1 0 1.8 -7.5zM124.4 105.2a3.5 3.5 111 1 0 -2.5 6.5a3.5 3.5 111 1 0 2.5 -6.5zM126.7 103.7a3.2 2.6 78 1 0 1.3 6.2a3.2 2.6 78 1 0 -1.3 -6.2zM137.7 107.2a3.1 3.0 177 1 0 -6.1 0.3a3.1 3.0 177 1 0 6.1 -0.3zM152.7 102.1a3.5 3.1 99 1 0 -1.1 6.9a3.5 3.1 99 1 0 1.1 -6.9zM44.3 107.4a2.9 2.6 88 1 0 0.2 5.9a2.9 2.6 88 1 0 -0.2 -5.9zM65.2 110.6a3.3 3.0 46 1 0 4.6 4.8a3.3 3.0 46 1 0 -4.6 -4.8zM121.8 108.3a3.2 2.8 16 1 0 6.1 1.8a3.2 2.8 16 1 0 -6.1 -1.8zM13.3 117.6a3.4 2.8 22 1 0 6.3 2.6a3.4 2.8 22 1 0 -6.3 -2.6zM83.9 114.3a3.1 2.7 144 1 0 -5.1 3.7a3.1 2.7 144 1 0 5.1 -3.7zM128.9 113.0a3.2 2.6 81 1 0 1.0 6.3a3.2 2.6 81 1 0 -1.0 -6.3zM146.9 116.4a3.3 2.9 94 1 0 -0.4 6.6a3.3 2.9 94 1 0 0.4 -6.6zM168.3 116.0a3.0 2.3 169 1 0 -5.8 1.1a3.0 2.3 169 1 0 5.8 -1.1z"/>
<path fill="#a09888" d="M109.7 -5.9a3.5 3.2 88 1 0 0.2 6.9a3.5 3.2 88 1 0 -0.2 -6.9zM127.5 -0.1a3.1 2.7 112 1 0 -2.3 5.7a3.1 2.7 112 1 0 2.3 -5.7zM150.4 -1.1a3.2 2.8 96 1 0 -0.7 6.5a3.2 2.8 96 1 0 0.7 -6.5zM22.9 7.6a3.0 2.4 174 1 0 -6.0 0.6a3.0 2.4 174 1 0 6.0 -0.6zM58.9 7.1a3.7 2.7 95 1 0 -0.7 7.5a3.7 2.7 95 1 0 0.7 -7.5zM99.5 5.9a3.0 2.3 49 1 0 3.9 4.5a3.0 2.3 49 1 0 -3.9 -4.5zM109.2 5.7a3.9 3.7 59 1 0 4.0 6.7a3.9 3.7 59 1 0 -4.0 -6.7zM128.6 10.6a3.5 3.1 167 1 0 -6.9 1.6a3.5 3.1 167 1 0 6.9 -1.6zM132.4 7.9a3.8 3.6 104 1 0 -1.9 7.4a3.8 3.6 104 1 0 1.9 -7.4zM148.1 9.3a3.7 3.1 135 1 0 -5.2 5.2a3.7 3.1 135 1 0 5.2 -5.2zM158.4 7.3a3.0 2.9 120 1 0 -3.0 5.2a3.0 2.9 120 1 0 3.0 -5.2zM11.4 24.7a3.2 2.4 22 1 0 5.9 2.4a3.2 2.4 22 1 0 -5.9 -2.4zM65.9 28.4a3.2 2.3 47 1 0 4.4 4.7a3.2 2.3 47 1 0 -4.4 -4.7zM121.8 25.3a3.4 2.7 103 1 0 -1.6 6.6a3.4 2.7 103 1 0 1.6 -6.6zM102.0 34.8a3.3 2.8 171 1 0 -6.4 1.0a3.3 2.8 171 1 0 6.4 -1.0zM151.1 31.9a3.0 2.3 125 1 0 -3.4 4.9a3.0 2.3 125 1 0 3.4 -4.9zM124.8 44.1a3.7 3.3 51 1 0 4.6 5.8a3.7 3.3 51 1 0 -4.6 -5.8zM37.5 51.8a3.7 2.7 36 1 0 6.0 4.4a3.7 2.7 36 1 0 -6.0 -4.4zM87.4 53.4a3.4 2.8 96 1 0 -0.7 6.8a3.4 2.8 96 1 0 0.7 -6.8zM95.8 50.5a3.9 3.2 59 1 0 4.0 6.7a3.9 3.2 59 1 0 -4.0 -6.7zM114.4 51.2a3.8 2.7 34 1 0 6.2 4.2a3.8 2.7 34 1 0 -6.2 -4.2zM127.5 52.4a3.7 2.8 29 1 0 6.5 3.6a3.7 2.8 29 1 0 -6.5 -3.6zM129.1 52.2a3.8 3.1 16 1 0 7.3 2.0a3.8 3.1 16 1 0 -7.3 -2.0zM161.6 57.4a3.4 2.6 108 1 0 -2.1 6.4a3.4 2.6 108 1 0 2.1 -6.4zM23.3 67.3a3.6 2.7 27 1 0 6.4 3.2a3.6 2.7 27 1 0 -6.4 -3.2zM65.9 65.8a3.6 3.0 162 1 0 -6.8 2.2a3.6 3.0 162 1 0 6.8 -2.2zM10.9 71.5a3.7 3.3 3 1 0 7.4 0.4a3.7 3.3 3 1 0 -7.4 -0.4zM43.3 76.3a3.3 2.5 179 1 0 -6.6 0.2a3.3 2.5 179 1 0 6.6 -0.2zM88.5 72.0a3.4 2.5 159 1 0 -6.4 2.5a3.4 2.5 159 1 0 6.4 -2.5zM109.1 70.3a3.9 3.7 68 1 0 2.9 7.2a3.9 3.7 68 1 0 -2.9 -7.2zM73.9 74.6a3.6 2.9 88 1 0 0.2 7.2a3.6 2.9 88 1 0 -0.2 -7.2zM95.2 80.1a3.4 2.4 158 1 0 -6.3 2.5a3.4 2.4 158 1 0 6.3 -2.5zM154.8 79.5a3.4 2.7 19 1 0 6.4 2.2a3.4 2.7 19 1 0 -6.4 -2.2zM119.6 82.4a3.6 2.6 123 1 0 -3.8 6.0a3.6 2.6 123 1 0 3.8 -6.0zM69.7 91.0a3.5 2.5 18 1 0 6.6 2.1a3.5 2.5 18 1 0 -6.6 -2.1zM84.7 89.8a3.8 3.6 89 1 0 0.1 7.6a3.8 3.6 89 1 0 -0.1 -7.6zM90.6 88.7a3.6 2.6 95 1 0 -0.6 7.2a3.6 2.6 95 1 0 0.6 -7.2zM142.2 89.4a3.5 3.4 9 1 0 6.9 1.1a3.5 3.4 9 1 0 -6.9 -1.1zM1.4 101.0a3.8 3.1 15 1 0 7.3 1.9a3.8 3.1 15 1 0 -7.3 -1.9zM38.7 98.6a3.6 3.0 9 1 0 7.1 1.1a3.6 3.0 9 1 0 -7.1 -1.1zM10.8 102.3a2.9 2.8 157 1 0 -5.4 2.3a2.9 2.8 157 1 0 5.4 -2.3zM13.3 103.4a3.5 2.7 111 1 0 -2.4 6.5a3.5 2.7 111 1 0 2.4 -6.5zM85.4 111.1a3.9 2.7 9 1 0 7.7 1.3a3.9 2.7 9 1 0 -7.7 -1.3zM94.3 108.8a3.1 2.2 10 1 0 6.0 1.0a3.1 2.2 10 1 0 -6.0 -1.0zM74.3 117.1a3.7 2.6 42 1 0 5.5 4.9a3.7 2.6 42 1 0 -5.5 -4.9zM154.9 116.6a3.2 2.7 171 1 0 -6.3 1.0a3.2 2.7 171 1 0 6.3 -1.0z"/>
<path fill="#a89888" d="M153.4 -0.4a3.6 3.0 3 1 0 7.1 0.3a3.6 3.0 3 1 0 -7.1 -0.3zM8.3 1.9a3.0 2.7 84 1 0 0.6 6.0a3.0 2.7 84 1 0 -0.6 -6.0zM11.9 -1.1a3.8 3.4 64 1 0 3.3 6.9a3.8 3.4 64 1 0 -3.3 -6.9zM160.6 0.4a3.0 2.5 53 1 0 3.6 4.8a3.0 2.5 53 1 0 -3.6 -4.8zM33.9 7.1a3.8 3.1 88 1 0 0.3 7.6a3.8 3.1 88 1 0 -0.3 -7.6zM166.6 11.9a3.0 2.4 172 1 0 -6.0 0.9a3.0 2.4 172 1 0 6.0 -0.9zM168.9 12.2a3.9 3.1 157 1 0 -7.2 3.0a3.9 3.1 157 1 0 7.2 -3.0zM18.2 16.1a3.6 3.0 87 1 0 0.3 7.2a3.6 3.0 87 1 0 -0.3 -7.2zM52.1 21.0a3.8 3.7 4 1 0 7.5 0.6a3.8 3.7 4 1 0 -7.5 -0.6zM93.6 17.8a3.1 2.7 141 1 0 -4.9 4.0a3.1 2.7 141 1 0 4.9 -4.0zM129.2 18.4a3.7 3.5 61 1 0 3.6 6.5a3.7 3.5 61 1 0 -3.6 -6.5zM52.8 30.3a3.6 2.8 4 1 0 7.3 0.4a3.6 2.8 4 1 0 -7.3 -0.4zM102.2 25.1a3.6 2.8 105 1 0 -1.9 7.0a3.6 2.8 105 1 0 1.9 -7.0zM165.4 28.8a3.1 3.0 145 1 0 -5.1 3.6a3.1 3.0 145 1 0 5.1 -3.6zM31.4 37.7a3.6 3.3 177 1 0 -7.2 0.3a3.6 3.3 177 1 0 7.2 -0.3zM88.5 34.7a3.5 2.7 59 1 0 3.6 6.0a3.5 2.7 59 1 0 -3.6 -6.0zM116.3 32.3a3.3 3.0 137 1 0 -4.9 4.5a3.3 3.0 137 1 0 4.9 -4.5zM134.5 35.4a3.5 2.7 130 1 0 -4.4 5.3a3.5 2.7 130 1 0 4.4 -5.3zM160.0 30.5a3.3 2.9 134 1 0 -4.6 4.8a3.3 2.9 134 1 0 4.6 -4.8zM154.3 38.2a3.2 3.1 168 1 0 -6.3 1.3a3.2 3.1 168 1 0 6.3 -1.3zM160.6 42.7a3.0 2.2 143 1 0 -4.8 3.6a3.0 2.2 143 1 0 4.8 -3.6zM44.8 49.9a3.4 3.3 58 1 0 3.6 5.7a3.4 3.3 58 1 0 -3.6 -5.7zM151.6 51.4a3.1 2.6 68 1 0 2.3 5.7a3.1 2.6 68 1 0 -2.3 -5.7zM62.6 61.7a3.3 3.2 178 1 0 -6.7 0.3a3.3 3.2 178 1 0 6.7 -0.3zM130.3 56.1a3.5 2.5 41 1 0 5.3 4.7a3.5 2.5 41 1 0 -5.3 -4.7zM133.6 61.2a3.0 2.5 23 1 0 5.4 2.3a3.0 2.5 23 1 0 -5.4 -2.3zM47.1 67.7a3.0 2.9 135 1 0 -4.3 4.3a3.0 2.9 135 1 0 4.3 -4.3zM101.8 64.5a3.6 3.4 61 1 0 3.6 6.4a3.6 3.4 61 1 0 -3.6 -6.4zM114.8 61.0a3.7 3.2 116 1 0 -3.3 6.7a3.7 3.2 116 1 0 3.3 -6.7zM35.3 69.2a3.7 2.7 100 1 0 -1.3 7.3a3.7 2.7 100 1 0 1.3 -7.3zM107.3 69.0a3.0 2.3 96 1 0 -0.6 6.0a3.0 2.3 96 1 0 0.6 -6.0zM10.6 77.3a3.0 2.1 138 1 0 -4.4 4.0a3.0 2.1 138 1 0 4.4 -4.0zM139.1 76.6a3.5 2.6 136 1 0 -5.0 4.8a3.5 2.6 136 1 0 5.0 -4.8zM41.3 92.3a3.9 3.3 48 1 0 5.2 5.8a3.9 3.3 48 1 0 -5.2 -5.8zM114.6 88.7a2.9 2.9 135 1 0 -4.1 4.1a2.9 2.9 135 1 0 4.1 -4.1zM131.7 88.2a2.9 2.5 76 1 0 1.5 5.7a2.9 2.5 76 1 0 -1.5 -5.7zM162.3 91.9a3.9 3.8 166 1 0 -7.5 1.8a3.9 3.8 166 1 0 7.5 -1.8zM62.0 94.9a3.0 2.8 109 1 0 -1.9 5.6a3.0 2.8 109 1 0 1.9 -5.6zM62.5 96.8a3.5 2.6 24 1 0 6.5 2.9a3.5 2.6 24 1 0 -6.5 -2.9zM80.9 95.3a3.4 2.4 156 1 0 -6.2 2.7a3.4 2.4 156 1 0 6.2 -2.7zM115.4 94.4a3.5 2.5 83 1 0 0.8 6.9a3.5 2.5 83 1 0 -0.8 -6.9zM133.0 99.3a3.4 2.4 22 1 0 6.2 2.5a3.4 2.4 22 1 0 -6.2 -2.5zM34.2 104.7a2.9 2.6 44 1 0 4.2 4.0a2.9 2.6 44 1 0 -4.2 -4.0zM112.1 101.1a3.5 3.1 112 1 0 -2.7 6.6a3.5 3.1 112 1 0 2.7 -6.6zM4.2 107.5a3.8 2.9 128 1 0 -4.7 6.0a3.8 2.9 128 1 0 4.7 -6.0zM22.9 113.1a3.3 2.7 157 1 0 -6.0 2.6a3.3 2.7 157 1 0 6.0 -2.6zM49.4 108.9a3.1 2.6 76 1 0 1.5 6.1a3.1 2.6 76 1 0 -1.5 -6.1zM116.8 108.7a3.8 3.2 36 1 0 6.2 4.5a3.8 3.2 36 1 0 -6.2 -4.5zM127.0 112.5a3.4 3.1 41 1 0 5.1 4.5a3.4 3.1 41 1 0 -5.1 -4.5zM152.1 108.6a2.9 2.1 98 1 0 -0.8 5.8a2.9 2.1 98 1 0 0.8 -5.8zM6.5 116.3a3.4 2.6 101 1 0 -1.3 6.7a3.4 2.6 101 1 0 1.3 -6.7zM39.1 114.2a3.6 2.8 73 1 0 2.2 6.9a3.6 2.8 73 1 0 -2.2 -6.9zM59.9 119.6a3.1 2.3 4 1 0 6.2 0.5a3.1 2.3 4 1 0 -6.2 -0.5zM119.0 113.4a3.6 2.8 110 1 0 -2.5 6.7a3.6 2.8 110 1 0 2.5 -6.7z"/>
<path fill="#9898b0" d="M47.0 1.9a3.8 3.4 82 1 0 1.1 7.4a3.8 3.4 82 1 0 -1.1 -7.4zM121.3 1.7a3.3 2.4 71 1 0 2.1 6.2a3.3 2.4 71 1 0 -2.1 -6.2zM78.0 32.4a3.9 3.4 173 1 0 -7.7 0.9a3.9 3.4 173 1 0 7.7 -0.9zM57.6 36.0a3.6 3.6 118 1 0 -3.4 6.4a3.6 3.6 118 1 0 3.4 -6.4zM1.2 47.0a3.4 3.1 5 1 0 6.8 0.6a3.4 3.1 5 1 0 -6.8 -0.6zM37.4 52.8a3.7 3.4 137 1 0 -5.4 5.1a3.7 3.4 137 1 0 5.4 -5.1zM-3.4 68.5a3.8 3.1 85 1 0 0.6 7.5a3.8 3.1 85 1 0 -0.6 -7.5zM36.1 75.9a3.7 2.7 54 1 0 4.3 6.0a3.7 2.7 54 1 0 -4.3 -6.0zM9.6 84.9a3.1 2.6 116 1 0 -2.7 5.7a3.1 2.6 116 1 0 2.7 -5.7zM26.4 104.9a3.8 3.4 161 1 0 -7.1 2.5a3.8 3.4 161 1 0 7.1 -2.5z"/>
<path fill="#9098a8" d="M86.3 1.0a3.3 2.6 130 1 0 -4.2 5.0a3.3 2.6 130 1 0 4.2 -5.0zM25.7 23.8a3.1 2.3 56 1 0 3.5 5.2a3.1 2.3 56 1 0 -3.5 -5.2zM48.1 30.3a3.7 3.0 9 1 0 7.2 1.2a3.7 3.0 9 1 0 -7.2 -1.2zM54.9 47.3a3.6 2.6 151 1 0 -6.3 3.4a3.6 2.6 151 1 0 6.3 -3.4zM62.9 50.2a3.5 2.8 148 1 0 -5.9 3.6a3.5 2.8 148 1 0 5.9 -3.6zM17.2 60.9a3.2 2.5 135 1 0 -4.5 4.5a3.2 2.5 135 1 0 4.5 -4.5zM50.8 56.0a3.5 2.8 58 1 0 3.7 6.0a3.5 2.8 58 1 0 -3.7 -6.0zM34.5 90.4a3.0 2.8 151 1 0 -5.3 2.9a3.0 2.8 151 1 0 5.3 -2.9zM-5.7 98.9a3.3 3.2 12 1 0 6.4 1.4a3.3 3.2 12 1 0 -6.4 -1.4z"/>
<path fill="#9098b0" d="M-0.3 6.3a3.9 3.3 73 1 0 2.2 7.4a3.9 3.3 73 1 0 -2.2 -7.4zM0.1 15.9a3.8 3.2 6 1 0 7.5 0.7a3.8 3.2 6 1 0 -7.5 -0.7zM38.9 35.1a3.6 2.6 156 1 0 -6.6 2.9a3.6 2.6 156 1 0 6.6 -2.9zM-1.3 43.4a2.9 2.5 3 1 0 5.9 0.3a2.9 2.5 3 1 0 -5.9 -0.3zM37.7 46.4a3.3 3.0 39 1 0 5.1 4.1a3.3 3.0 39 1 0 -5.1 -4.1zM43.9 60.7a3.3 2.9 24 1 0 6.0 2.7a3.3 2.9 24 1 0 -6.0 -2.7zM-3.9 83.5a3.2 2.7 85 1 0 0.6 6.4a3.2 2.7 85 1 0 -0.6 -6.4zM0.2 92.1a3.4 2.6 3 1 0 6.9 0.3a3.4 2.6 3 1 0 -6.9 -0.3zM73.6 95.4a3.6 3.1 0 1 0 7.2 0.0a3.6 3.1 0 1 0 -7.2 -0.0zM50.3 98.5a3.6 3.6 38 1 0 5.8 4.4a3.6 3.6 38 1 0 -5.8 -4.4z"/>
<path fill="#a0a0b8" d="M1.6 16.1a3.8 3.5 94 1 0 -0.5 7.5a3.8 3.5 94 1 0 0.5 -7.5zM18.6 30.4a3.8 3.7 116 1 0 -3.3 6.9a3.8 3.7 116 1 0 3.3 -6.9zM64.2 46.7a3.8 2.7 18 1 0 7.2 2.4a3.8 2.7 18 1 0 -7.2 -2.4zM84.3 50.7a3.5 2.9 129 1 0 -4.5 5.5a3.5 2.9 129 1 0 4.5 -5.5zM23.3 58.5a3.8 2.9 71 1 0 2.5 7.2a3.8 2.9 71 1 0 -2.5 -7.2zM27.0 76.4a3.9 3.8 31 1 0 6.6 4.0a3.9 3.8 31 1 0 -6.6 -4.0z"/>
<path fill="#98a0b8" d="M59.3 31.6a3.2 2.5 34 1 0 5.3 3.6a3.2 2.5 34 1 0 -5.3 -3.6zM8.6 57.6a3.3 2.8 169 1 0 -6.5 1.2a3.3 2.8 169 1 0 6.5 -1.2zM2.4 63.8a2.9 2.2 109 1 0 -1.9 5.6a2.9 2.2 109 1 0 1.9 -5.6zM50.4 79.8a2.9 2.3 53 1 0 3.6 4.7a2.9 2.3 53 1 0 -3.6 -4.7zM4.8 86.6a3.8 3.8 163 1 0 -7.4 2.2a3.8 3.8 163 1 0 7.4 -2.2z"/>
</g>
<g filter="url(#ib)">
<path fill="#382828" fill-opacity="0.92" d="M4.2 -5.0a1.7 1.3 120 1 0 -1.7 3.0a1.7 1.3 120 1 0 1.7 -3.0zM112.1 17.9a1.9 1.1 128 1 0 -2.3 3.0a1.9 1.1 128 1 0 2.3 -3.0zM126.6 15.3a1.9 1.5 28 1 0 3.3 1.8a1.9 1.5 28 1 0 -3.3 -1.8zM161.3 11.3a2.1 1.7 76 1 0 1.0 4.1a2.1 1.7 76 1 0 -1.0 -4.1zM-1.3 22.8a1.9 1.7 123 1 0 -2.0 3.1a1.9 1.7 123 1 0 2.0 -3.1zM121.6 19.9a1.7 1.6 12 1 0 3.4 0.7a1.7 1.6 12 1 0 -3.4 -0.7zM67.0 30.3a1.6 1.3 21 1 0 3.1 1.2a1.6 1.3 21 1 0 -3.1 -1.2zM25.0 38.1a2.1 1.2 86 1 0 0.3 4.2a2.1 1.2 86 1 0 -0.3 -4.2zM157.9 43.1a2.0 1.6 85 1 0 0.3 4.0a2.0 1.6 85 1 0 -0.3 -4.0zM129.3 52.5a1.4 1.1 37 1 0 2.3 1.7a1.4 1.1 37 1 0 -2.3 -1.7zM85.0 61.7a2.1 1.7 105 1 0 -1.1 4.1a2.1 1.7 105 1 0 1.1 -4.1zM55.1 67.1a2.2 1.5 50 1 0 2.8 3.3a2.2 1.5 50 1 0 -2.8 -3.3zM145.3 65.6a1.7 1.5 140 1 0 -2.6 2.2a1.7 1.5 140 1 0 2.6 -2.2zM167.5 66.9a2.0 1.5 152 1 0 -3.5 1.9a2.0 1.5 152 1 0 3.5 -1.9zM13.3 70.8a1.8 1.0 21 1 0 3.3 1.3a1.8 1.0 21 1 0 -3.3 -1.3zM35.4 70.7a1.6 1.5 96 1 0 -0.3 3.2a1.6 1.5 96 1 0 0.3 -3.2zM42.1 82.6a1.8 1.1 1 1 0 3.7 0.0a1.8 1.1 1 1 0 -3.7 -0.0zM53.7 80.3a2.2 1.3 134 1 0 -3.1 3.2a2.2 1.3 134 1 0 3.1 -3.2zM93.1 79.7a1.8 1.1 144 1 0 -2.9 2.2a1.8 1.1 144 1 0 2.9 -2.2zM127.3 76.6a1.5 1.3 86 1 0 0.2 3.1a1.5 1.3 86 1 0 -0.2 -3.1zM19.7 84.3a1.6 1.4 68 1 0 1.2 3.0a1.6 1.4 68 1 0 -1.2 -3.0zM90.2 90.6a1.7 1.3 59 1 0 1.7 2.8a1.7 1.3 59 1 0 -1.7 -2.8zM72.6 97.3a2.1 1.2 101 1 0 -0.8 4.1a2.1 1.2 101 1 0 0.8 -4.1zM114.8 98.9a1.6 1.2 94 1 0 -0.2 3.2a1.6 1.2 94 1 0 0.2 -3.2zM154.1 105.6a1.7 1.2 162 1 0 -3.1 1.0a1.7 1.2 162 1 0 3.1 -1.0zM80.4 113.5a1.4 1.1 13 1 0 2.8 0.7a1.4 1.1 13 1 0 -2.8 -0.7zM116.8 115.9a1.7 1.2 84 1 0 0.4 3.4a1.7 1.2 84 1 0 -0.4 -3.4z"/>
<path fill="#604838" fill-opacity="0.8" d="M12.5 -4.6a2.0 1.9 157 1 0 -3.7 1.6a2.0 1.9 157 1 0 3.7 -1.6zM86.0 1.4a2.3 1.4 134 1 0 -3.2 3.3a2.3 1.4 134 1 0 3.2 -3.3zM162.7 1.4a2.5 2.3 112 1 0 -1.9 4.6a2.5 2.3 112 1 0 1.9 -4.6zM27.4 24.2a1.7 1.5 99 1 0 -0.5 3.3a1.7 1.5 99 1 0 0.5 -3.3zM151.7 24.9a2.2 1.2 52 1 0 2.7 3.4a2.2 1.2 52 1 0 -2.7 -3.4zM0.5 42.7a1.8 1.7 44 1 0 2.6 2.6a1.8 1.7 44 1 0 -2.6 -2.6zM79.3 39.0a1.8 1.4 106 1 0 -1.0 3.4a1.8 1.4 106 1 0 1.0 -3.4zM121.0 38.4a1.9 1.0 79 1 0 0.7 3.7a1.9 1.0 79 1 0 -0.7 -3.7zM48.8 47.4a2.4 1.7 134 1 0 -3.3 3.5a2.4 1.7 134 1 0 3.3 -3.5zM103.5 46.2a2.3 1.7 144 1 0 -3.7 2.7a2.3 1.7 144 1 0 3.7 -2.7zM147.3 54.1a2.5 1.6 146 1 0 -4.2 2.8a2.5 1.6 146 1 0 4.2 -2.8zM114.7 59.8a2.3 1.3 38 1 0 3.6 2.9a2.3 1.3 38 1 0 -3.6 -2.9zM161.6 59.1a2.5 1.3 123 1 0 -2.7 4.2a2.5 1.3 123 1 0 2.7 -4.2zM81.5 63.4a2.5 1.5 60 1 0 2.5 4.4a2.5 1.5 60 1 0 -2.5 -4.4zM136.5 70.2a1.8 1.2 44 1 0 2.6 2.5a1.8 1.2 44 1 0 -2.6 -2.5zM99.5 81.2a1.9 1.8 42 1 0 2.8 2.6a1.9 1.8 42 1 0 -2.8 -2.6zM134.7 76.5a2.6 1.7 50 1 0 3.3 3.9a2.6 1.7 50 1 0 -3.3 -3.9zM146.4 85.4a2.1 1.2 178 1 0 -4.2 0.2a2.1 1.2 178 1 0 4.2 -0.2zM134.1 91.3a2.0 1.7 169 1 0 -4.0 0.8a2.0 1.7 169 1 0 4.0 -0.8zM91.8 97.6a2.4 1.5 5 1 0 4.9 0.4a2.4 1.5 5 1 0 -4.9 -0.4zM51.2 110.3a1.7 1.0 123 1 0 -1.9 2.9a1.7 1.0 123 1 0 1.9 -2.9zM63.2 109.0a2.4 1.6 159 1 0 -4.4 1.7a2.4 1.6 159 1 0 4.4 -1.7z"/>
<path fill="#685848" fill-opacity="0.8" d="M15.9 -4.0a1.6 1.5 137 1 0 -2.4 2.2a1.6 1.5 137 1 0 2.4 -2.2zM126.7 2.1a1.7 1.2 112 1 0 -1.2 3.1a1.7 1.2 112 1 0 1.2 -3.1zM9.9 34.1a1.9 1.2 133 1 0 -2.6 2.8a1.9 1.2 133 1 0 2.6 -2.8zM68.4 56.1a2.2 1.2 41 1 0 3.3 2.9a2.2 1.2 41 1 0 -3.3 -2.9zM41.2 67.9a2.0 1.5 151 1 0 -3.5 1.9a2.0 1.5 151 1 0 3.5 -1.9zM50.7 82.8a1.6 1.4 11 1 0 3.2 0.6a1.6 1.4 11 1 0 -3.2 -0.6zM151.6 99.3a2.5 2.4 68 1 0 1.9 4.7a2.5 2.4 68 1 0 -1.9 -4.7z"/>
<path fill="#302820" fill-opacity="0.92" d="M47.2 -5.0a1.7 1.3 21 1 0 3.2 1.2a1.7 1.3 21 1 0 -3.2 -1.2zM56.3 -1.4a1.7 1.2 29 1 0 3.1 1.7a1.7 1.2 29 1 0 -3.1 -1.7zM84.6 -4.6a2.0 1.4 49 1 0 2.6 2.9a2.0 1.4 49 1 0 -2.6 -2.9zM94.9 -3.7a2.2 1.3 89 1 0 0.1 4.5a2.2 1.3 89 1 0 -0.1 -4.5zM102.3 1.7a2.1 1.5 85 1 0 0.4 4.2a2.1 1.5 85 1 0 -0.4 -4.2zM41.7 8.8a1.7 1.5 17 1 0 3.2 1.0a1.7 1.5 17 1 0 -3.2 -1.0zM65.7 9.6a1.9 1.6 57 1 0 2.1 3.2a1.9 1.6 57 1 0 -2.1 -3.2zM151.6 12.3a1.6 1.4 68 1 0 1.2 3.0a1.6 1.4 68 1 0 -1.2 -3.0zM87.4 21.8a1.8 1.5 52 1 0 2.2 2.9a1.8 1.5 52 1 0 -2.2 -2.9zM16.8 24.9a1.9 1.3 149 1 0 -3.3 2.0a1.9 1.3 149 1 0 3.3 -2.0zM141.6 30.8a1.7 1.0 179 1 0 -3.3 0.1a1.7 1.0 179 1 0 3.3 -0.1zM34.6 36.2a1.9 1.5 33 1 0 3.2 2.1a1.9 1.5 33 1 0 -3.2 -2.1zM90.9 36.2a1.6 1.3 140 1 0 -2.4 2.0a1.6 1.3 140 1 0 2.4 -2.0zM93.7 38.6a2.2 1.5 136 1 0 -3.2 3.1a2.2 1.5 136 1 0 3.2 -3.1zM118.8 46.5a1.5 1.1 136 1 0 -2.1 2.0a1.5 1.1 136 1 0 2.1 -2.0zM138.0 48.4a2.1 1.5 60 1 0 2.1 3.6a2.1 1.5 60 1 0 -2.1 -3.6zM141.0 56.4a1.7 1.4 1 1 0 3.3 0.1a1.7 1.4 1 1 0 -3.3 -0.1zM40.3 59.0a1.9 1.1 157 1 0 -3.6 1.5a1.9 1.1 157 1 0 3.6 -1.5zM70.4 60.0a2.1 1.3 178 1 0 -4.1 0.2a2.1 1.3 178 1 0 4.1 -0.2zM151.3 56.8a1.9 1.6 108 1 0 -1.2 3.6a1.9 1.6 108 1 0 1.2 -3.6zM3.8 66.5a2.3 1.3 174 1 0 -4.5 0.5a2.3 1.3 174 1 0 4.5 -0.5zM156.4 74.2a1.8 1.5 36 1 0 2.9 2.1a1.8 1.5 36 1 0 -2.9 -2.1zM42.1 84.8a2.1 1.5 157 1 0 -3.9 1.6a2.1 1.5 157 1 0 3.9 -1.6zM139.1 82.7a2.2 1.9 116 1 0 -1.9 3.9a2.2 1.9 116 1 0 1.9 -3.9zM96.5 89.5a2.3 1.9 143 1 0 -3.7 2.7a2.3 1.9 143 1 0 3.7 -2.7zM137.1 94.0a2.1 1.9 9 1 0 4.2 0.6a2.1 1.9 9 1 0 -4.2 -0.6zM8.5 101.4a2.2 1.6 125 1 0 -2.6 3.7a2.2 1.6 125 1 0 2.6 -3.7zM121.5 107.5a2.2 1.9 39 1 0 3.4 2.8a2.2 1.9 39 1 0 -3.4 -2.8zM157.9 103.6a1.5 1.0 81 1 0 0.5 3.0a1.5 1.0 81 1 0 -0.5 -3.0zM103.3 107.2a2.1 1.8 90 1 0 -0.0 4.2a2.1 1.8 90 1 0 0.0 -4.2z"/>
<path fill="#483830" fill-opacity="0.9" d="M59.4 -3.1a2.2 1.4 152 1 0 -3.8 2.0a2.2 1.4 152 1 0 3.8 -2.0zM63.6 2.7a1.7 1.1 99 1 0 -0.6 3.4a1.7 1.1 99 1 0 0.6 -3.4zM91.0 -0.3a2.5 2.1 113 1 0 -1.9 4.6a2.5 2.1 113 1 0 1.9 -4.6zM147.9 0.9a2.1 1.2 43 1 0 3.1 2.9a2.1 1.2 43 1 0 -3.1 -2.9zM58.0 7.1a1.9 1.4 157 1 0 -3.4 1.4a1.9 1.4 157 1 0 3.4 -1.4zM131.2 16.9a1.7 0.9 29 1 0 2.9 1.6a1.7 0.9 29 1 0 -2.9 -1.6zM166.7 13.0a2.2 1.3 171 1 0 -4.3 0.7a2.2 1.3 171 1 0 4.3 -0.7zM59.6 24.0a2.0 1.3 17 1 0 3.8 1.2a2.0 1.3 17 1 0 -3.8 -1.2zM90.1 18.8a1.9 1.2 80 1 0 0.7 3.7a1.9 1.2 80 1 0 -0.7 -3.7zM132.9 20.3a1.9 1.6 162 1 0 -3.6 1.2a1.9 1.6 162 1 0 3.6 -1.2zM108.5 26.1a2.3 1.5 64 1 0 2.0 4.2a2.3 1.5 64 1 0 -2.0 -4.2zM156.1 32.7a1.7 1.0 19 1 0 3.1 1.1a1.7 1.0 19 1 0 -3.1 -1.1zM144.7 39.1a2.0 1.3 70 1 0 1.4 3.8a2.0 1.3 70 1 0 -1.4 -3.8zM151.1 36.3a1.9 1.2 68 1 0 1.4 3.6a1.9 1.2 68 1 0 -1.4 -3.6zM97.9 49.8a2.2 1.3 146 1 0 -3.7 2.4a2.2 1.3 146 1 0 3.7 -2.4zM107.2 49.0a1.6 1.3 174 1 0 -3.2 0.3a1.6 1.3 174 1 0 3.2 -0.3zM54.5 57.7a1.5 0.8 155 1 0 -2.7 1.3a1.5 0.8 155 1 0 2.7 -1.3zM71.3 66.8a2.3 1.5 80 1 0 0.8 4.5a2.3 1.5 80 1 0 -0.8 -4.5zM79.0 63.1a2.0 1.2 81 1 0 0.7 4.0a2.0 1.2 81 1 0 -0.7 -4.0zM92.5 66.4a1.9 1.5 32 1 0 3.2 2.0a1.9 1.5 32 1 0 -3.2 -2.0zM53.7 75.8a1.7 0.9 26 1 0 3.1 1.5a1.7 0.9 26 1 0 -3.1 -1.5zM73.1 73.8a2.3 1.7 93 1 0 -0.3 4.5a2.3 1.7 93 1 0 0.3 -4.5zM89.4 70.2a1.7 1.6 1 1 0 3.4 0.0a1.7 1.6 1 1 0 -3.4 -0.0zM118.3 72.8a1.9 1.2 127 1 0 -2.3 3.0a1.9 1.2 127 1 0 2.3 -3.0zM161.7 76.3a1.7 1.1 19 1 0 3.2 1.1a1.7 1.1 19 1 0 -3.2 -1.1zM74.2 75.8a1.7 1.2 106 1 0 -0.9 3.2a1.7 1.2 106 1 0 0.9 -3.2zM96.9 78.8a1.5 1.1 162 1 0 -2.9 0.9a1.5 1.1 162 1 0 2.9 -0.9zM72.0 86.6a2.0 1.6 45 1 0 2.8 2.8a2.0 1.6 45 1 0 -2.8 -2.8zM148.6 88.2a2.1 1.5 157 1 0 -3.9 1.7a2.1 1.5 157 1 0 3.9 -1.7zM62.1 96.8a2.2 2.1 144 1 0 -3.5 2.6a2.2 2.1 144 1 0 3.5 -2.6zM146.2 106.8a1.5 0.8 118 1 0 -1.4 2.7a1.5 0.8 118 1 0 1.4 -2.7zM165.1 104.6a2.1 1.2 137 1 0 -3.0 2.8a2.1 1.2 137 1 0 3.0 -2.8zM90.7 111.8a1.5 0.8 177 1 0 -3.1 0.1a1.5 0.8 177 1 0 3.1 -0.1zM130.6 115.6a1.5 1.0 150 1 0 -2.6 1.5a1.5 1.0 150 1 0 2.6 -1.5z"/>
<path fill="#705848" fill-opacity="0.8" d="M78.8 -3.6a2.6 2.3 164 1 0 -5.0 1.4a2.6 2.3 164 1 0 5.0 -1.4zM111.1 -3.7a2.0 1.5 168 1 0 -4.0 0.8a2.0 1.5 168 1 0 4.0 -0.8zM54.2 -1.5a2.1 2.0 115 1 0 -1.8 3.8a2.1 2.0 115 1 0 1.8 -3.8zM69.5 2.2a1.7 1.0 148 1 0 -2.8 1.7a1.7 1.0 148 1 0 2.8 -1.7zM112.9 1.1a1.7 0.9 165 1 0 -3.2 0.9a1.7 0.9 165 1 0 3.2 -0.9zM111.8 2.1a2.2 1.2 78 1 0 0.9 4.2a2.2 1.2 78 1 0 -0.9 -4.2zM140.3 1.4a2.2 1.2 74 1 0 1.2 4.3a2.2 1.2 74 1 0 -1.2 -4.3zM86.3 6.2a1.7 1.4 112 1 0 -1.2 3.1a1.7 1.4 112 1 0 1.2 -3.1zM112.8 8.8a1.8 1.1 150 1 0 -3.1 1.8a1.8 1.1 150 1 0 3.1 -1.8zM148.3 4.2a1.9 1.6 77 1 0 0.8 3.6a1.9 1.6 77 1 0 -0.8 -3.6zM2.4 16.1a2.2 1.8 161 1 0 -4.1 1.4a2.2 1.8 161 1 0 4.1 -1.4zM33.1 12.5a1.9 1.6 129 1 0 -2.4 3.0a1.9 1.6 129 1 0 2.4 -3.0zM141.9 13.7a2.1 2.0 42 1 0 3.2 2.9a2.1 2.0 42 1 0 -3.2 -2.9zM144.3 12.2a2.3 2.2 74 1 0 1.2 4.5a2.3 2.2 74 1 0 -1.2 -4.5zM104.5 23.0a2.1 1.4 151 1 0 -3.7 2.1a2.1 1.4 151 1 0 3.7 -2.1zM104.5 20.2a2.0 1.4 85 1 0 0.3 3.9a2.0 1.4 85 1 0 -0.3 -3.9zM49.1 31.0a2.4 1.3 19 1 0 4.4 1.6a2.4 1.3 19 1 0 -4.4 -1.6zM165.4 30.6a2.0 1.8 154 1 0 -3.5 1.7a2.0 1.8 154 1 0 3.5 -1.7zM162.8 29.4a1.6 1.3 33 1 0 2.8 1.8a1.6 1.3 33 1 0 -2.8 -1.8zM51.1 34.4a2.4 1.8 66 1 0 2.0 4.4a2.4 1.8 66 1 0 -2.0 -4.4zM54.5 37.2a2.3 1.3 57 1 0 2.5 3.8a2.3 1.3 57 1 0 -2.5 -3.8zM130.2 38.9a1.9 1.4 103 1 0 -0.8 3.7a1.9 1.4 103 1 0 0.8 -3.7zM41.7 69.1a2.6 2.4 2 1 0 5.2 0.2a2.6 2.4 2 1 0 -5.2 -0.2zM47.2 66.5a2.1 1.2 54 1 0 2.5 3.5a2.1 1.2 54 1 0 -2.5 -3.5zM148.7 70.7a2.3 2.1 108 1 0 -1.5 4.4a2.3 2.1 108 1 0 1.5 -4.4zM157.0 78.5a2.5 1.7 73 1 0 1.4 4.7a2.5 1.7 73 1 0 -1.4 -4.7zM31.6 99.3a2.4 1.3 136 1 0 -3.5 3.4a2.4 1.3 136 1 0 3.5 -3.4zM34.5 106.2a1.7 1.4 30 1 0 3.0 1.7a1.7 1.4 30 1 0 -3.0 -1.7zM108.7 102.9a1.6 0.9 45 1 0 2.3 2.3a1.6 0.9 45 1 0 -2.3 -2.3zM133.7 106.4a1.8 1.7 9 1 0 3.6 0.6a1.8 1.7 9 1 0 -3.6 -0.6zM139.8 103.0a2.2 1.4 157 1 0 -4.0 1.7a2.2 1.4 157 1 0 4.0 -1.7zM109.7 108.6a1.8 1.0 108 1 0 -1.1 3.4a1.8 1.0 108 1 0 1.1 -3.4zM121.5 109.5a2.1 1.2 160 1 0 -3.9 1.5a2.1 1.2 160 1 0 3.9 -1.5zM45.7 115.2a1.7 1.1 81 1 0 0.6 3.4a1.7 1.1 81 1 0 -0.6 -3.4zM135.3 118.4a1.7 1.4 11 1 0 3.3 0.6a1.7 1.4 11 1 0 -3.3 -0.6zM168.2 116.4a2.0 1.8 177 1 0 -4.1 0.2a2.0 1.8 177 1 0 4.1 -0.2z"/>
<path fill="#707890" fill-opacity="0.7" d="M79.9 -3.3a2.1 1.1 76 1 0 1.0 4.1a2.1 1.1 76 1 0 -1.0 -4.1zM16.8 12.7a2.5 2.3 132 1 0 -3.3 3.7a2.5 2.3 132 1 0 3.3 -3.7zM25.1 19.0a2.0 1.9 58 1 0 2.2 3.5a2.0 1.9 58 1 0 -2.2 -3.5zM73.1 24.1a2.4 2.2 40 1 0 3.7 3.1a2.4 2.2 40 1 0 -3.7 -3.1zM38.7 34.9a2.2 1.7 59 1 0 2.3 3.8a2.2 1.7 59 1 0 -2.3 -3.8zM42.9 54.0a1.7 1.1 147 1 0 -2.8 1.8a1.7 1.1 147 1 0 2.8 -1.8zM13.0 63.1a2.5 1.8 7 1 0 4.9 0.6a2.5 1.8 7 1 0 -4.9 -0.6zM47.1 61.0a1.7 1.2 126 1 0 -2.0 2.8a1.7 1.2 126 1 0 2.0 -2.8zM12.1 68.7a2.5 2.3 101 1 0 -0.9 4.9a2.5 2.3 101 1 0 0.9 -4.9zM124.2 116.1a1.6 1.1 72 1 0 1.0 3.1a1.6 1.1 72 1 0 -1.0 -3.1z"/>
<path fill="#687088" fill-opacity="0.7" d="M98.4 -3.0a1.7 1.1 94 1 0 -0.3 3.4a1.7 1.1 94 1 0 0.3 -3.4zM12.7 0.7a1.7 1.6 83 1 0 0.4 3.3a1.7 1.6 83 1 0 -0.4 -3.3zM134.4 11.0a2.4 2.2 177 1 0 -4.7 0.2a2.4 2.2 177 1 0 4.7 -0.2zM18.7 18.2a1.9 1.4 107 1 0 -1.1 3.7a1.9 1.4 107 1 0 1.1 -3.7zM1.9 31.4a2.3 2.1 67 1 0 1.8 4.2a2.3 2.1 67 1 0 -1.8 -4.2zM21.0 44.8a1.9 1.7 5 1 0 3.7 0.3a1.9 1.7 5 1 0 -3.7 -0.3zM60.7 73.1a1.9 1.8 143 1 0 -3.1 2.3a1.9 1.8 143 1 0 3.1 -2.3zM35.9 78.5a2.0 1.4 43 1 0 2.9 2.7a2.0 1.4 43 1 0 -2.9 -2.7zM5.9 117.3a2.1 1.9 95 1 0 -0.4 4.1a2.1 1.9 95 1 0 0.4 -4.1z"/>
<path fill="#707080" fill-opacity="0.7" d="M108.1 -4.6a2.0 1.3 94 1 0 -0.3 4.0a2.0 1.3 94 1 0 0.3 -4.0zM12.0 50.9a2.2 1.6 85 1 0 0.4 4.5a2.2 1.6 85 1 0 -0.4 -4.5zM54.4 115.6a2.2 1.2 9 1 0 4.4 0.7a2.2 1.2 9 1 0 -4.4 -0.7z"/>
<path fill="#483030" fill-opacity="0.9" d="M126.3 -4.6a1.9 1.6 20 1 0 3.6 1.3a1.9 1.6 20 1 0 -3.6 -1.3zM22.5 6.9a2.4 1.7 145 1 0 -3.9 2.7a2.4 1.7 145 1 0 3.9 -2.7zM6.0 25.2a2.0 1.8 54 1 0 2.3 3.2a2.0 1.8 54 1 0 -2.3 -3.2zM81.0 32.1a2.5 2.3 144 1 0 -4.0 2.9a2.5 2.3 144 1 0 4.0 -2.9zM-4.1 57.6a2.3 1.9 46 1 0 3.1 3.2a2.3 1.9 46 1 0 -3.1 -3.2zM135.5 61.9a1.8 1.2 46 1 0 2.4 2.5a1.8 1.2 46 1 0 -2.4 -2.5zM60.8 79.3a1.6 1.1 74 1 0 0.9 3.1a1.6 1.1 74 1 0 -0.9 -3.1zM22.5 92.9a2.3 1.5 9 1 0 4.6 0.7a2.3 1.5 9 1 0 -4.6 -0.7zM65.8 101.1a2.0 1.8 115 1 0 -1.7 3.6a2.0 1.8 115 1 0 1.7 -3.6zM145.9 119.1a1.5 1.4 18 1 0 2.9 0.9a1.5 1.4 18 1 0 -2.9 -0.9z"/>
<path fill="#483028" fill-opacity="0.9" d="M139.6 -4.6a1.9 0.9 173 1 0 -3.8 0.5a1.9 0.9 173 1 0 3.8 -0.5zM40.0 13.9a2.1 1.6 97 1 0 -0.5 4.1a2.1 1.6 97 1 0 0.5 -4.1zM29.2 28.2a2.4 1.9 65 1 0 2.0 4.3a2.4 1.9 65 1 0 -2.0 -4.3zM94.7 24.6a2.3 1.8 72 1 0 1.4 4.5a2.3 1.8 72 1 0 -1.4 -4.5zM136.4 24.9a2.0 1.7 150 1 0 -3.5 2.0a2.0 1.7 150 1 0 3.5 -2.0zM148.0 28.4a2.3 1.2 165 1 0 -4.5 1.2a2.3 1.2 165 1 0 4.5 -1.2zM141.0 34.2a2.3 1.7 144 1 0 -3.7 2.7a2.3 1.7 144 1 0 3.7 -2.7zM162.9 32.0a2.5 2.3 94 1 0 -0.3 4.9a2.5 2.3 94 1 0 0.3 -4.9zM11.2 48.4a1.9 1.2 112 1 0 -1.4 3.5a1.9 1.2 112 1 0 1.4 -3.5zM67.7 45.6a2.0 1.9 105 1 0 -1.0 3.8a2.0 1.9 105 1 0 1.0 -3.8zM115.6 46.4a2.3 1.7 128 1 0 -2.8 3.6a2.3 1.7 128 1 0 2.8 -3.6zM89.9 56.3a2.3 1.8 144 1 0 -3.7 2.7a2.3 1.8 144 1 0 3.7 -2.7zM110.0 60.0a1.6 1.3 38 1 0 2.5 2.0a1.6 1.3 38 1 0 -2.5 -2.0zM130.7 58.0a2.3 2.0 38 1 0 3.6 2.8a2.3 2.0 38 1 0 -3.6 -2.8zM117.6 81.3a1.9 1.0 114 1 0 -1.6 3.4a1.9 1.0 114 1 0 1.6 -3.4zM145.3 79.9a2.1 1.5 168 1 0 -4.1 0.9a2.1 1.5 168 1 0 4.1 -0.9zM66.4 89.3a1.7 1.6 18 1 0 3.3 1.1a1.7 1.6 18 1 0 -3.3 -1.1zM98.6 85.8a1.9 1.6 103 1 0 -0.9 3.6a1.9 1.6 103 1 0 0.9 -3.6zM129.1 95.5a2.5 1.8 178 1 0 -4.9 0.1a2.5 1.8 178 1 0 4.9 -0.1zM133.8 100.7a2.3 1.2 7 1 0 4.6 0.6a2.3 1.2 7 1 0 -4.6 -0.6zM162.2 98.6a1.9 1.4 60 1 0 1.9 3.4a1.9 1.4 60 1 0 -1.9 -3.4zM22.9 103.7a1.9 1.3 116 1 0 -1.6 3.3a1.9 1.3 116 1 0 1.6 -3.3zM24.6 116.0a1.9 1.5 85 1 0 0.4 3.7a1.9 1.5 85 1 0 -0.4 -3.7z"/>
<path fill="#503830" fill-opacity="0.9" d="M141.5 -4.1a1.9 1.5 62 1 0 1.8 3.4a1.9 1.5 62 1 0 -1.8 -3.4zM157.3 -2.9a2.3 1.2 100 1 0 -0.8 4.4a2.3 1.2 100 1 0 0.8 -4.4zM154.4 3.1a1.8 1.4 100 1 0 -0.6 3.6a1.8 1.4 100 1 0 0.6 -3.6zM59.5 13.2a1.8 1.0 114 1 0 -1.5 3.4a1.8 1.0 114 1 0 1.5 -3.4zM81.7 18.3a1.7 1.2 6 1 0 3.4 0.3a1.7 1.2 6 1 0 -3.4 -0.3zM41.1 19.4a2.0 1.3 150 1 0 -3.5 2.0a2.0 1.3 150 1 0 3.5 -2.0zM60.2 31.9a1.5 1.1 42 1 0 2.3 2.1a1.5 1.1 42 1 0 -2.3 -2.1zM64.6 36.1a1.6 0.9 27 1 0 2.8 1.4a1.6 0.9 27 1 0 -2.8 -1.4zM146.0 33.3a1.9 1.5 178 1 0 -3.7 0.1a1.9 1.5 178 1 0 3.7 -0.1zM98.9 39.2a2.2 1.5 113 1 0 -1.7 4.1a2.2 1.5 113 1 0 1.7 -4.1zM64.3 52.4a2.4 1.6 16 1 0 4.5 1.3a2.4 1.6 16 1 0 -4.5 -1.3zM75.4 52.2a1.5 0.9 151 1 0 -2.6 1.5a1.5 0.9 151 1 0 2.6 -1.5zM159.0 62.8a1.8 1.4 79 1 0 0.7 3.5a1.8 1.4 79 1 0 -0.7 -3.5zM123.4 65.7a2.1 1.5 129 1 0 -2.7 3.3a2.1 1.5 129 1 0 2.7 -3.3zM142.8 72.7a1.6 1.2 51 1 0 2.0 2.4a1.6 1.2 51 1 0 -2.0 -2.4zM81.3 84.3a2.1 1.7 31 1 0 3.6 2.2a2.1 1.7 31 1 0 -3.6 -2.2zM89.1 85.5a2.2 2.0 107 1 0 -1.3 4.2a2.2 2.0 107 1 0 1.3 -4.2zM32.9 89.2a2.5 2.2 126 1 0 -2.9 4.0a2.5 2.2 126 1 0 2.9 -4.0zM17.0 97.0a2.3 1.2 45 1 0 3.3 3.3a2.3 1.2 45 1 0 -3.3 -3.3zM47.2 97.4a1.9 1.4 77 1 0 0.9 3.6a1.9 1.4 77 1 0 -0.9 -3.6zM81.8 95.3a2.0 1.8 48 1 0 2.6 2.9a2.0 1.8 48 1 0 -2.6 -2.9zM115.0 96.7a1.5 1.0 87 1 0 0.2 3.0a1.5 1.0 87 1 0 -0.2 -3.0z"/>
<path fill="#685040" fill-opacity="0.8" d="M151.1 -1.6a1.8 1.5 179 1 0 -3.7 0.1a1.8 1.5 179 1 0 3.7 -0.1zM140.5 5.8a2.3 1.2 139 1 0 -3.4 3.0a2.3 1.2 139 1 0 3.4 -3.0zM159.9 8.3a2.6 1.6 165 1 0 -5.0 1.4a2.6 1.6 165 1 0 5.0 -1.4zM68.6 19.6a1.9 1.4 116 1 0 -1.7 3.4a1.9 1.4 116 1 0 1.7 -3.4zM111.8 18.6a2.1 1.2 55 1 0 2.4 3.3a2.1 1.2 55 1 0 -2.4 -3.3zM38.8 27.8a2.2 1.6 156 1 0 -4.0 1.8a2.2 1.6 156 1 0 4.0 -1.8zM120.6 26.9a2.1 1.4 68 1 0 1.6 4.0a2.1 1.4 68 1 0 -1.6 -4.0zM75.1 46.3a2.5 1.9 117 1 0 -2.3 4.4a2.5 1.9 117 1 0 2.3 -4.4zM88.1 45.9a1.7 1.5 99 1 0 -0.5 3.3a1.7 1.5 99 1 0 0.5 -3.3zM118.3 50.7a2.4 2.1 97 1 0 -0.6 4.8a2.4 2.1 97 1 0 0.6 -4.8zM152.0 53.3a2.2 1.2 44 1 0 3.1 3.0a2.2 1.2 44 1 0 -3.1 -3.0zM158.8 54.6a2.1 1.3 142 1 0 -3.4 2.6a2.1 1.3 142 1 0 3.4 -2.6zM98.3 59.3a2.5 1.8 2 1 0 5.0 0.1a2.5 1.8 2 1 0 -5.0 -0.1zM103.5 67.0a1.8 1.1 56 1 0 2.0 3.0a1.8 1.1 56 1 0 -2.0 -3.0zM71.6 78.1a2.1 1.0 134 1 0 -2.9 3.0a2.1 1.0 134 1 0 2.9 -3.0zM82.5 77.5a2.3 1.8 137 1 0 -3.4 3.2a2.3 1.8 137 1 0 3.4 -3.2zM45.3 83.0a2.0 1.1 48 1 0 2.6 2.9a2.0 1.1 48 1 0 -2.6 -2.9zM124.7 82.7a2.3 2.0 104 1 0 -1.1 4.5a2.3 2.0 104 1 0 1.1 -4.5zM119.1 91.8a2.1 1.4 9 1 0 4.1 0.7a2.1 1.4 9 1 0 -4.1 -0.7zM50.7 100.3a2.0 1.0 12 1 0 3.8 0.8a2.0 1.0 12 1 0 -3.8 -0.8zM64.7 96.4a1.9 1.7 42 1 0 2.9 2.6a1.9 1.7 42 1 0 -2.9 -2.6zM76.4 95.2a1.9 1.6 25 1 0 3.4 1.6a1.9 1.6 25 1 0 -3.4 -1.6zM96.1 100.1a2.6 1.5 22 1 0 4.8 2.0a2.6 1.5 22 1 0 -4.8 -2.0zM51.3 106.6a1.7 1.2 155 1 0 -3.0 1.4a1.7 1.2 155 1 0 3.0 -1.4zM32.9 110.5a2.0 1.7 100 1 0 -0.7 4.0a2.0 1.7 100 1 0 0.7 -4.0zM125.8 108.6a1.8 1.2 161 1 0 -3.4 1.2a1.8 1.2 161 1 0 3.4 -1.2zM83.5 115.8a1.8 1.1 176 1 0 -3.6 0.3a1.8 1.1 176 1 0 3.6 -0.3zM104.7 117.4a2.5 2.2 35 1 0 4.2 2.9a2.5 2.2 35 1 0 -4.2 -2.9zM141.6 114.8a2.4 2.0 47 1 0 3.3 3.5a2.4 2.0 47 1 0 -3.3 -3.5z"/>
<path fill="#403020" fill-opacity="0.9" d="M6.9 3.1a2.0 1.5 36 1 0 3.2 2.3a2.0 1.5 36 1 0 -3.2 -2.3zM74.1 28.1a1.7 1.3 66 1 0 1.4 3.0a1.7 1.3 66 1 0 -1.4 -3.0zM145.3 67.7a1.7 1.2 28 1 0 2.9 1.6a1.7 1.2 28 1 0 -2.9 -1.6zM148.8 83.4a1.9 1.1 132 1 0 -2.5 2.8a1.9 1.1 132 1 0 2.5 -2.8zM70.5 103.3a2.3 1.7 163 1 0 -4.5 1.3a2.3 1.7 163 1 0 4.5 -1.3zM126.5 105.5a1.6 1.5 65 1 0 1.4 2.9a1.6 1.5 65 1 0 -1.4 -2.9zM152.6 110.3a2.4 2.2 128 1 0 -3.0 3.8a2.4 2.2 128 1 0 3.0 -3.8z"/>
<path fill="#604840" fill-opacity="0.8" d="M18.5 1.9a2.3 1.4 82 1 0 0.6 4.5a2.3 1.4 82 1 0 -0.6 -4.5zM93.2 0.7a2.4 1.8 9 1 0 4.7 0.8a2.4 1.8 9 1 0 -4.7 -0.8zM13.2 11.6a2.1 1.1 17 1 0 4.0 1.2a2.1 1.1 17 1 0 -4.0 -1.2zM74.5 10.2a2.2 2.0 66 1 0 1.8 4.1a2.2 2.0 66 1 0 -1.8 -4.1zM113.2 33.5a1.8 1.0 97 1 0 -0.4 3.5a1.8 1.0 97 1 0 0.4 -3.5zM17.4 39.8a2.0 1.2 54 1 0 2.3 3.1a2.0 1.2 54 1 0 -2.3 -3.1zM136.6 37.7a1.7 1.0 116 1 0 -1.5 3.1a1.7 1.0 116 1 0 1.5 -3.1zM78.9 72.3a1.7 1.3 130 1 0 -2.2 2.6a1.7 1.3 130 1 0 2.2 -2.6zM160.7 77.3a2.6 1.6 19 1 0 4.9 1.7a2.6 1.6 19 1 0 -4.9 -1.7zM123.5 100.1a2.0 1.6 53 1 0 2.4 3.3a2.0 1.6 53 1 0 -2.4 -3.3zM113.8 104.4a2.0 1.1 40 1 0 3.1 2.6a2.0 1.1 40 1 0 -3.1 -2.6zM19.2 117.7a1.9 1.5 158 1 0 -3.6 1.4a1.9 1.5 158 1 0 3.6 -1.4zM40.3 114.6a2.4 1.4 82 1 0 0.7 4.8a2.4 1.4 82 1 0 -0.7 -4.8zM51.1 119.6a2.2 1.4 111 1 0 -1.5 4.1a2.2 1.4 111 1 0 1.5 -4.1z"/>
<path fill="#787890" fill-opacity="0.7" d="M25.0 3.4a1.6 1.3 21 1 0 2.9 1.1a1.6 1.3 21 1 0 -2.9 -1.1zM34.3 22.3a2.2 1.7 41 1 0 3.4 2.9a2.2 1.7 41 1 0 -3.4 -2.9zM43.1 30.1a2.3 1.8 47 1 0 3.1 3.3a2.3 1.8 47 1 0 -3.1 -3.3zM74.1 31.7a1.5 1.1 54 1 0 1.8 2.5a1.5 1.1 54 1 0 -1.8 -2.5zM21.8 54.6a2.2 1.7 51 1 0 2.8 3.4a2.2 1.7 51 1 0 -2.8 -3.4zM76.7 61.1a2.5 1.7 153 1 0 -4.4 2.3a2.5 1.7 153 1 0 4.4 -2.3zM18.3 64.4a1.8 1.4 54 1 0 2.0 2.8a1.8 1.4 54 1 0 -2.0 -2.8zM110.9 72.6a1.6 1.1 70 1 0 1.1 3.0a1.6 1.1 70 1 0 -1.1 -3.0zM7.0 78.1a2.4 2.0 23 1 0 4.4 1.9a2.4 2.0 23 1 0 -4.4 -1.9zM82.3 92.6a2.2 1.3 12 1 0 4.3 0.9a2.2 1.3 12 1 0 -4.3 -0.9zM101.8 94.2a2.4 1.4 44 1 0 3.4 3.3a2.4 1.4 44 1 0 -3.4 -3.3zM6.4 97.3a2.1 1.2 26 1 0 3.8 1.8a2.1 1.2 26 1 0 -3.8 -1.8z"/>
<path fill="#788090" fill-opacity="0.7" d="M31.5 2.0a1.9 1.5 74 1 0 1.0 3.6a1.9 1.5 74 1 0 -1.0 -3.6zM80.9 9.3a1.9 1.0 126 1 0 -2.3 3.1a1.9 1.0 126 1 0 2.3 -3.1zM61.4 18.3a1.9 1.7 33 1 0 3.1 2.0a1.9 1.7 33 1 0 -3.1 -2.0zM74.8 17.2a1.8 1.1 16 1 0 3.4 1.0a1.8 1.1 16 1 0 -3.4 -1.0zM57.4 19.8a1.7 1.5 134 1 0 -2.3 2.4a1.7 1.5 134 1 0 2.3 -2.4zM64.3 40.1a1.6 1.4 120 1 0 -1.6 2.8a1.6 1.4 120 1 0 1.6 -2.8zM25.6 48.7a2.4 2.2 2 1 0 4.7 0.2a2.4 2.2 2 1 0 -4.7 -0.2zM34.9 89.0a2.3 2.1 47 1 0 3.2 3.4a2.3 2.1 47 1 0 -3.2 -3.4zM76.0 91.9a2.3 2.0 157 1 0 -4.3 1.8a2.3 2.0 157 1 0 4.3 -1.8zM88.4 103.7a2.4 1.6 134 1 0 -3.3 3.4a2.4 1.6 134 1 0 3.3 -3.4z"/>
<path fill="#687888" fill-opacity="0.7" d="M35.2 -0.4a2.2 1.3 31 1 0 3.8 2.3a2.2 1.3 31 1 0 -3.8 -2.3z"/>
<path fill="#282020" fill-opacity="0.92" d="M49.8 6.1a1.6 1.0 164 1 0 -3.1 0.9a1.6 1.0 164 1 0 3.1 -0.9zM98.8 18.1a2.2 2.0 169 1 0 -4.4 0.9a2.2 2.0 169 1 0 4.4 -0.9zM52.0 40.1a1.8 1.1 65 1 0 1.5 3.3a1.8 1.1 65 1 0 -1.5 -3.3zM35.3 54.3a2.0 1.3 134 1 0 -2.8 2.9a2.0 1.3 134 1 0 2.8 -2.9z"/>
<path fill="#788098" fill-opacity="0.7" d="M57.1 1.9a1.8 0.9 173 1 0 -3.7 0.5a1.8 0.9 173 1 0 3.7 -0.5zM-1.8 4.7a1.9 1.5 75 1 0 0.9 3.6a1.9 1.5 75 1 0 -0.9 -3.6zM106.8 49.8a1.6 1.2 97 1 0 -0.4 3.1a1.6 1.2 97 1 0 0.4 -3.1zM3.8 57.0a2.0 1.7 57 1 0 2.2 3.4a2.0 1.7 57 1 0 -2.2 -3.4zM11.4 65.9a1.7 1.1 106 1 0 -1.0 3.2a1.7 1.1 106 1 0 1.0 -3.2zM1.0 77.0a1.9 1.0 120 1 0 -1.9 3.2a1.9 1.0 120 1 0 1.9 -3.2zM7.4 86.7a1.8 1.5 63 1 0 1.6 3.3a1.8 1.5 63 1 0 -1.6 -3.3z"/>
<path fill="#684840" fill-opacity="0.8" d="M73.6 -1.3a2.2 1.6 94 1 0 -0.3 4.4a2.2 1.6 94 1 0 0.3 -4.4zM88.5 18.0a1.7 1.6 25 1 0 3.1 1.4a1.7 1.6 25 1 0 -3.1 -1.4zM153.1 62.8a2.0 1.1 133 1 0 -2.7 2.9a2.0 1.1 133 1 0 2.7 -2.9zM22.7 98.1a2.3 1.2 60 1 0 2.3 4.0a2.3 1.2 60 1 0 -2.3 -4.0zM146.8 112.2a1.9 1.3 94 1 0 -0.2 3.7a1.9 1.3 94 1 0 0.2 -3.7zM149.6 116.2a1.7 0.9 26 1 0 3.0 1.5a1.7 0.9 26 1 0 -3.0 -1.5z"/>
<path fill="#302018" fill-opacity="0.92" d="M121.8 2.8a2.2 1.4 72 1 0 1.4 4.2a2.2 1.4 72 1 0 -1.4 -4.2zM141.0 96.5a2.1 1.8 59 1 0 2.1 3.6a2.1 1.8 59 1 0 -2.1 -3.6z"/>
<path fill="#402820" fill-opacity="0.9" d="M131.3 3.5a2.0 1.5 56 1 0 2.2 3.3a2.0 1.5 56 1 0 -2.2 -3.3zM90.2 10.5a2.2 2.0 38 1 0 3.4 2.6a2.2 2.0 38 1 0 -3.4 -2.6zM103.6 6.6a1.8 1.1 43 1 0 2.7 2.5a1.8 1.1 43 1 0 -2.7 -2.5zM147.3 20.9a2.1 1.4 3 1 0 4.2 0.2a2.1 1.4 3 1 0 -4.2 -0.2zM97.1 32.5a2.5 1.7 47 1 0 3.4 3.6a2.5 1.7 47 1 0 -3.4 -3.6zM14.9 45.0a2.3 1.4 112 1 0 -1.7 4.3a2.3 1.4 112 1 0 1.7 -4.3zM59.4 49.7a1.7 1.0 90 1 0 -0.0 3.3a1.7 1.0 90 1 0 0.0 -3.3zM144.8 48.1a2.5 2.0 116 1 0 -2.2 4.4a2.5 2.0 116 1 0 2.2 -4.4zM81.3 52.1a2.3 2.1 54 1 0 2.7 3.7a2.3 2.1 54 1 0 -2.7 -3.7zM31.0 77.6a2.2 1.2 135 1 0 -3.1 3.1a2.2 1.2 135 1 0 3.1 -3.1zM116.4 78.5a2.2 1.2 39 1 0 3.4 2.8a2.2 1.2 39 1 0 -3.4 -2.8zM161.9 87.7a2.0 1.6 9 1 0 4.0 0.6a2.0 1.6 9 1 0 -4.0 -0.6zM43.9 103.8a2.0 1.9 96 1 0 -0.4 4.1a2.0 1.9 96 1 0 0.4 -4.1zM82.3 103.2a1.8 0.9 133 1 0 -2.4 2.6a1.8 0.9 133 1 0 2.4 -2.6zM127.6 113.7a2.1 2.0 15 1 0 4.1 1.1a2.1 2.0 15 1 0 -4.1 -1.1z"/>
<path fill="#403028" fill-opacity="0.9" d="M167.1 -0.1a1.5 1.1 166 1 0 -2.9 0.7a1.5 1.1 166 1 0 2.9 -0.7zM2.5 8.5a2.4 2.0 124 1 0 -2.7 4.0a2.4 2.0 124 1 0 2.7 -4.0zM18.1 19.7a2.5 2.1 20 1 0 4.6 1.7a2.5 2.1 20 1 0 -4.6 -1.7zM80.6 21.7a2.0 1.5 130 1 0 -2.6 3.1a2.0 1.5 130 1 0 2.6 -3.1zM121.4 20.5a2.1 1.2 98 1 0 -0.6 4.2a2.1 1.2 98 1 0 0.6 -4.2zM143.8 20.0a1.9 1.4 47 1 0 2.6 2.8a1.9 1.4 47 1 0 -2.6 -2.8zM93.6 26.9a2.1 1.1 123 1 0 -2.3 3.5a2.1 1.1 123 1 0 2.3 -3.5zM44.1 30.8a2.5 1.8 65 1 0 2.0 4.5a2.5 1.8 65 1 0 -2.0 -4.5zM147.2 32.3a2.1 1.6 33 1 0 3.5 2.2a2.1 1.6 33 1 0 -3.5 -2.2zM46.5 38.3a2.1 2.0 65 1 0 1.8 3.9a2.1 2.0 65 1 0 -1.8 -3.9zM122.0 57.6a2.0 1.4 27 1 0 3.5 1.8a2.0 1.4 27 1 0 -3.5 -1.8zM140.3 58.4a2.3 2.1 21 1 0 4.3 1.7a2.3 2.1 21 1 0 -4.3 -1.7zM156.7 64.9a1.6 0.9 15 1 0 3.1 0.8a1.6 0.9 15 1 0 -3.1 -0.8zM67.9 69.7a1.9 1.1 63 1 0 1.7 3.3a1.9 1.1 63 1 0 -1.7 -3.3zM108.8 70.1a2.4 1.8 135 1 0 -3.4 3.4a2.4 1.8 135 1 0 3.4 -3.4zM41.3 97.3a2.2 1.4 38 1 0 3.4 2.7a2.2 1.4 38 1 0 -3.4 -2.7zM42.1 109.2a1.6 1.0 25 1 0 2.9 1.3a1.6 1.0 25 1 0 -2.9 -1.3zM50.5 113.7a2.5 1.5 10 1 0 4.9 0.9a2.5 1.5 10 1 0 -4.9 -0.9zM135.9 111.7a1.5 1.3 120 1 0 -1.5 2.6a1.5 1.3 120 1 0 1.5 -2.6zM9.0 119.2a2.2 1.7 33 1 0 3.7 2.4a2.2 1.7 33 1 0 -3.7 -2.4z"/>
<path fill="#787898" fill-opacity="0.7" d="M10.6 8.9a1.8 1.1 129 1 0 -2.2 2.8a1.8 1.1 129 1 0 2.2 -2.8zM39.8 41.3a1.8 1.2 113 1 0 -1.4 3.3a1.8 1.2 113 1 0 1.4 -3.3zM84.7 37.6a1.6 1.4 127 1 0 -1.9 2.5a1.6 1.4 127 1 0 1.9 -2.5zM-0.4 99.5a1.8 0.9 173 1 0 -3.6 0.5a1.8 0.9 173 1 0 3.6 -0.5z"/>
<path fill="#707888" fill-opacity="0.7" d="M31.0 5.9a1.7 1.2 106 1 0 -0.9 3.3a1.7 1.2 106 1 0 0.9 -3.3zM58.2 9.3a1.6 1.2 34 1 0 2.6 1.8a1.6 1.2 34 1 0 -2.6 -1.8zM4.7 15.2a2.2 1.8 114 1 0 -1.8 4.1a2.2 1.8 114 1 0 1.8 -4.1zM5.4 37.5a1.7 1.5 61 1 0 1.6 3.0a1.7 1.5 61 1 0 -1.6 -3.0zM52.7 53.4a1.9 1.6 62 1 0 1.8 3.4a1.9 1.6 62 1 0 -1.8 -3.4zM25.6 66.5a2.5 1.8 50 1 0 3.2 3.8a2.5 1.8 50 1 0 -3.2 -3.8zM-1.9 69.8a1.9 1.3 121 1 0 -2.0 3.3a1.9 1.3 121 1 0 2.0 -3.3zM-3.2 84.1a2.5 1.3 80 1 0 0.9 4.8a2.5 1.3 80 1 0 -0.9 -4.8zM3.9 89.6a1.9 1.1 84 1 0 0.4 3.8a1.9 1.1 84 1 0 -0.4 -3.8zM114.1 89.6a2.1 1.1 151 1 0 -3.6 2.0a2.1 1.1 151 1 0 3.6 -2.0zM35.4 97.6a1.9 1.2 14 1 0 3.7 0.9a1.9 1.2 14 1 0 -3.7 -0.9zM10.8 110.5a1.8 1.3 124 1 0 -2.0 3.0a1.8 1.3 124 1 0 2.0 -3.0z"/>
<path fill="#808098" fill-opacity="0.7" d="M44.6 7.7a1.7 1.0 27 1 0 3.0 1.5a1.7 1.0 27 1 0 -3.0 -1.5zM130.4 29.3a2.2 1.2 73 1 0 1.3 4.3a2.2 1.2 73 1 0 -1.3 -4.3zM31.8 46.9a2.0 1.8 40 1 0 3.1 2.6a2.0 1.8 40 1 0 -3.1 -2.6zM45.4 50.8a2.3 2.1 31 1 0 4.0 2.3a2.3 2.1 31 1 0 -4.0 -2.3zM28.6 60.7a2.1 1.5 154 1 0 -3.7 1.9a2.1 1.5 154 1 0 3.7 -1.9zM-1.4 85.9a2.2 1.9 38 1 0 3.4 2.7a2.2 1.9 38 1 0 -3.4 -2.7zM22.2 113.0a1.9 1.0 143 1 0 -3.1 2.3a1.9 1.0 143 1 0 3.1 -2.3z"/>
<path fill="#707088" fill-opacity="0.7" d="M100.1 6.9a1.9 1.7 46 1 0 2.7 2.8a1.9 1.7 46 1 0 -2.7 -2.8zM44.5 13.4a1.6 1.2 106 1 0 -0.9 3.0a1.6 1.2 106 1 0 0.9 -3.0zM139.2 41.1a2.3 1.4 44 1 0 3.3 3.2a2.3 1.4 44 1 0 -3.3 -3.2zM130.5 49.5a2.5 2.0 161 1 0 -4.7 1.7a2.5 2.0 161 1 0 4.7 -1.7zM-3.2 51.6a2.0 1.3 5 1 0 4.0 0.4a2.0 1.3 5 1 0 -4.0 -0.4zM8.3 65.1a2.5 1.4 91 1 0 -0.1 4.9a2.5 1.4 91 1 0 0.1 -4.9zM25.4 74.5a2.0 1.8 150 1 0 -3.4 2.0a2.0 1.8 150 1 0 3.4 -2.0zM25.7 76.9a1.5 1.0 39 1 0 2.3 1.9a1.5 1.0 39 1 0 -2.3 -1.9zM8.8 89.9a2.3 1.4 2 1 0 4.6 0.2a2.3 1.4 2 1 0 -4.6 -0.2zM52.8 89.2a2.5 2.2 140 1 0 -3.8 3.1a2.5 2.2 140 1 0 3.8 -3.1zM75.6 109.0a2.4 2.2 120 1 0 -2.4 4.2a2.4 2.2 120 1 0 2.4 -4.2z"/>
<path fill="#687080" fill-opacity="0.7" d="M117.5 5.7a1.9 1.0 57 1 0 2.0 3.1a1.9 1.0 57 1 0 -2.0 -3.1z"/>
<path fill="#302020" fill-opacity="0.92" d="M127.9 10.9a2.3 1.9 176 1 0 -4.6 0.3a2.3 1.9 176 1 0 4.6 -0.3zM71.4 14.6a1.4 1.0 50 1 0 1.8 2.2a1.4 1.0 50 1 0 -1.8 -2.2zM138.7 22.1a1.7 1.3 78 1 0 0.7 3.3a1.7 1.3 78 1 0 -0.7 -3.3zM19.4 33.1a2.1 1.5 171 1 0 -4.0 0.7a2.1 1.5 171 1 0 4.0 -0.7zM121.7 34.3a1.4 0.8 49 1 0 1.9 2.1a1.4 0.8 49 1 0 -1.9 -2.1zM133.9 37.0a1.6 1.0 174 1 0 -3.2 0.3a1.6 1.0 174 1 0 3.2 -0.3zM33.3 42.1a2.0 1.1 120 1 0 -2.0 3.5a2.0 1.1 120 1 0 2.0 -3.5zM100.2 40.1a2.1 1.5 37 1 0 3.4 2.6a2.1 1.5 37 1 0 -3.4 -2.6zM127.7 45.1a1.9 1.2 131 1 0 -2.5 2.9a1.9 1.2 131 1 0 2.5 -2.9zM149.8 47.3a2.3 1.8 94 1 0 -0.3 4.5a2.3 1.8 94 1 0 0.3 -4.5zM78.5 58.2a2.3 1.6 41 1 0 3.4 3.0a2.3 1.6 41 1 0 -3.4 -3.0zM93.5 57.1a2.3 2.1 94 1 0 -0.4 4.6a2.3 2.1 94 1 0 0.4 -4.6zM108.7 59.4a1.9 1.5 93 1 0 -0.2 3.8a1.9 1.5 93 1 0 0.2 -3.8zM64.3 66.2a1.5 1.1 175 1 0 -3.0 0.3a1.5 1.1 175 1 0 3.0 -0.3zM102.4 73.5a2.0 1.8 128 1 0 -2.5 3.1a2.0 1.8 128 1 0 2.5 -3.1zM124.8 71.6a2.1 1.8 28 1 0 3.7 2.0a2.1 1.8 28 1 0 -3.7 -2.0zM151.6 74.2a2.3 1.5 88 1 0 0.2 4.5a2.3 1.5 88 1 0 -0.2 -4.5zM59.8 86.8a1.8 1.3 18 1 0 3.4 1.1a1.8 1.3 18 1 0 -3.4 -1.1zM97.9 88.2a1.8 1.1 156 1 0 -3.3 1.5a1.8 1.1 156 1 0 3.3 -1.5zM155.1 83.6a1.5 1.4 58 1 0 1.5 2.5a1.5 1.4 58 1 0 -1.5 -2.5zM105.9 95.0a1.5 1.2 4 1 0 3.0 0.2a1.5 1.2 4 1 0 -3.0 -0.2zM129.1 98.7a1.9 1.4 63 1 0 1.7 3.3a1.9 1.4 63 1 0 -1.7 -3.3zM77.0 107.6a1.9 1.6 51 1 0 2.4 3.0a1.9 1.6 51 1 0 -2.4 -3.0zM70.4 120.4a1.6 1.0 174 1 0 -3.2 0.3a1.6 1.0 174 1 0 3.2 -0.3z"/>
<path fill="#483828" fill-opacity="0.9" d="M142.9 11.1a2.4 1.4 8 1 0 4.7 0.7a2.4 1.4 8 1 0 -4.7 -0.7zM117.1 33.7a2.0 1.5 98 1 0 -0.6 4.0a2.0 1.5 98 1 0 0.6 -4.0zM99.2 52.1a1.5 1.3 108 1 0 -0.9 2.9a1.5 1.3 108 1 0 0.9 -2.9zM104.5 54.5a2.0 1.4 165 1 0 -3.9 1.0a2.0 1.4 165 1 0 3.9 -1.0zM33.0 67.4a1.8 1.5 151 1 0 -3.1 1.7a1.8 1.5 151 1 0 3.1 -1.7zM131.1 74.8a1.7 1.6 101 1 0 -0.7 3.3a1.7 1.6 101 1 0 0.7 -3.3zM104.4 85.2a2.2 1.5 144 1 0 -3.5 2.6a2.2 1.5 144 1 0 3.5 -2.6zM161.2 118.7a1.7 1.5 90 1 0 0.0 3.4a1.7 1.5 90 1 0 -0.0 -3.4z"/>
<path fill="#705048" fill-opacity="0.8" d="M164.7 10.3a2.6 1.7 102 1 0 -1.1 5.0a2.6 1.7 102 1 0 1.1 -5.0zM157.0 23.6a1.8 1.1 142 1 0 -2.8 2.2a1.8 1.1 142 1 0 2.8 -2.2zM63.0 28.6a1.8 1.6 71 1 0 1.2 3.4a1.8 1.6 71 1 0 -1.2 -3.4zM86.6 33.2a1.7 1.1 149 1 0 -3.0 1.8a1.7 1.1 149 1 0 3.0 -1.8zM57.4 61.5a1.9 1.3 15 1 0 3.7 1.0a1.9 1.3 15 1 0 -3.7 -1.0zM108.2 83.3a2.2 1.8 8 1 0 4.4 0.6a2.2 1.8 8 1 0 -4.4 -0.6zM65.5 111.9a2.4 1.8 59 1 0 2.5 4.2a2.4 1.8 59 1 0 -2.5 -4.2zM157.0 112.4a2.2 1.2 31 1 0 3.9 2.3a2.2 1.2 31 1 0 -3.9 -2.3zM64.6 117.5a2.0 1.5 107 1 0 -1.2 3.8a2.0 1.5 107 1 0 1.2 -3.8zM100.4 115.4a2.5 1.4 63 1 0 2.3 4.5a2.5 1.4 63 1 0 -2.3 -4.5z"/>
<path fill="#707090" fill-opacity="0.7" d="M15.0 15.8a1.9 1.1 61 1 0 1.8 3.3a1.9 1.1 61 1 0 -1.8 -3.3zM29.9 12.8a2.1 1.5 163 1 0 -4.0 1.2a2.1 1.5 163 1 0 4.0 -1.2zM13.7 43.4a1.6 1.0 79 1 0 0.6 3.1a1.6 1.0 79 1 0 -0.6 -3.1z"/>
<path fill="#302828" fill-opacity="0.92" d="M114.5 16.8a1.4 1.3 2 1 0 2.8 0.1a1.4 1.3 2 1 0 -2.8 -0.1zM3.3 26.8a1.5 0.8 99 1 0 -0.5 2.9a1.5 0.8 99 1 0 0.5 -2.9zM19.5 29.3a1.9 1.5 49 1 0 2.5 2.9a1.9 1.5 49 1 0 -2.5 -2.9zM16.6 77.1a1.8 1.5 142 1 0 -2.9 2.2a1.8 1.5 142 1 0 2.9 -2.2z"/>
<path fill="#605040" fill-opacity="0.8" d="M124.4 16.1a2.5 1.4 143 1 0 -4.0 3.0a2.5 1.4 143 1 0 4.0 -3.0zM40.0 46.4a1.8 1.5 54 1 0 2.2 2.9a1.8 1.5 54 1 0 -2.2 -2.9zM8.4 53.3a2.2 1.7 101 1 0 -0.8 4.3a2.2 1.7 101 1 0 0.8 -4.3zM156.9 93.0a2.1 1.9 10 1 0 4.2 0.7a2.1 1.9 10 1 0 -4.2 -0.7zM95.1 102.8a1.7 1.6 40 1 0 2.7 2.2a1.7 1.6 40 1 0 -2.7 -2.2zM92.7 112.4a1.8 1.6 13 1 0 3.6 0.8a1.8 1.6 13 1 0 -3.6 -0.8zM77.8 118.1a1.7 1.6 114 1 0 -1.4 3.2a1.7 1.6 114 1 0 1.4 -3.2z"/>
<path fill="#685048" fill-opacity="0.8" d="M0.8 19.0a1.8 1.2 88 1 0 0.1 3.6a1.8 1.2 88 1 0 -0.1 -3.6zM118.7 41.0a2.4 1.4 85 1 0 0.5 4.9a2.4 1.4 85 1 0 -0.5 -4.9zM83.4 49.0a2.2 1.7 177 1 0 -4.3 0.2a2.2 1.7 177 1 0 4.3 -0.2zM57.8 51.8a2.2 1.7 3 1 0 4.4 0.2a2.2 1.7 3 1 0 -4.4 -0.2zM87.7 66.1a2.2 1.5 17 1 0 4.2 1.3a2.2 1.5 17 1 0 -4.2 -1.3zM133.9 63.8a2.3 1.7 6 1 0 4.5 0.5a2.3 1.7 6 1 0 -4.5 -0.5zM37.0 75.2a2.2 2.0 22 1 0 4.1 1.6a2.2 2.0 22 1 0 -4.1 -1.6zM109.9 81.1a1.9 1.1 159 1 0 -3.5 1.4a1.9 1.1 159 1 0 3.5 -1.4zM34.2 87.1a2.0 1.5 96 1 0 -0.4 4.0a2.0 1.5 96 1 0 0.4 -4.0zM77.6 92.1a2.6 1.9 97 1 0 -0.6 5.1a2.6 1.9 97 1 0 0.6 -5.1zM33.2 118.7a1.9 1.2 153 1 0 -3.4 1.7a1.9 1.2 153 1 0 3.4 -1.7z"/>
<path fill="#382820" fill-opacity="0.92" d="M9.1 21.1a1.7 1.0 86 1 0 0.2 3.5a1.7 1.0 86 1 0 -0.2 -3.5zM161.2 21.3a1.9 1.8 55 1 0 2.2 3.1a1.9 1.8 55 1 0 -2.2 -3.1zM115.4 83.9a2.3 1.6 15 1 0 4.4 1.1a2.3 1.6 15 1 0 -4.4 -1.1zM0.1 109.5a1.7 1.2 4 1 0 3.4 0.2a1.7 1.2 4 1 0 -3.4 -0.2zM96.2 108.0a1.5 1.1 39 1 0 2.4 1.9a1.5 1.1 39 1 0 -2.4 -1.9z"/>
<path fill="#685840" fill-opacity="0.8" d="M98.4 27.9a2.0 1.1 3 1 0 4.0 0.2a2.0 1.1 3 1 0 -4.0 -0.2zM155.7 92.2a2.4 1.8 165 1 0 -4.6 1.2a2.4 1.8 165 1 0 4.6 -1.2z"/>
<path fill="#705840" fill-opacity="0.8" d="M115.7 23.8a2.4 1.5 74 1 0 1.3 4.6a2.4 1.5 74 1 0 -1.3 -4.6zM127.1 64.6a2.1 1.1 44 1 0 3.1 3.0a2.1 1.1 44 1 0 -3.1 -3.0z"/>
<path fill="#402828" fill-opacity="0.9" d="M106.4 34.2a2.2 1.4 99 1 0 -0.6 4.3a2.2 1.4 99 1 0 0.6 -4.3zM161.1 46.7a1.7 1.3 62 1 0 1.6 3.0a1.7 1.3 62 1 0 -1.6 -3.0zM131.5 85.2a2.1 1.3 174 1 0 -4.2 0.4a2.1 1.3 174 1 0 4.2 -0.4zM11.4 105.5a1.7 1.1 14 1 0 3.3 0.8a1.7 1.1 14 1 0 -3.3 -0.8z"/>
<path fill="#705850" fill-opacity="0.8" d="M153.8 43.8a1.6 1.0 69 1 0 1.2 3.0a1.6 1.0 69 1 0 -1.2 -3.0zM120.3 54.4a1.9 1.7 81 1 0 0.6 3.8a1.9 1.7 81 1 0 -0.6 -3.8zM115.5 63.6a1.8 1.5 165 1 0 -3.4 0.9a1.8 1.5 165 1 0 3.4 -0.9zM61.1 91.9a2.4 1.3 179 1 0 -4.9 0.1a2.4 1.3 179 1 0 4.9 -0.1zM164.7 111.7a2.5 1.9 67 1 0 2.0 4.6a2.5 1.9 67 1 0 -2.0 -4.6z"/>
<path fill="#787088" fill-opacity="0.7" d="M9.0 61.0a2.0 1.6 130 1 0 -2.6 3.1a2.0 1.6 130 1 0 2.6 -3.1z"/>
<path fill="#685038" fill-opacity="0.8" d="M112.4 63.5a2.0 1.5 130 1 0 -2.5 3.0a2.0 1.5 130 1 0 2.5 -3.0z"/>
<path fill="#605038" fill-opacity="0.8" d="M4.9 68.9a2.5 2.0 99 1 0 -0.7 4.9a2.5 2.0 99 1 0 0.7 -4.9zM103.2 104.8a2.3 1.4 136 1 0 -3.3 3.2a2.3 1.4 136 1 0 3.3 -3.2z"/>
<path fill="#383028" fill-opacity="0.92" d="M56.7 79.2a1.6 1.2 144 1 0 -2.6 1.9a1.6 1.2 144 1 0 2.6 -1.9zM15.9 108.3a2.2 2.0 140 1 0 -3.3 2.8a2.2 2.0 140 1 0 3.3 -2.8z"/>
<path fill="#684838" fill-opacity="0.8" d="M143.2 77.6a2.4 1.3 40 1 0 3.7 3.2a2.4 1.3 40 1 0 -3.7 -3.2z"/>
<path fill="#808090" fill-opacity="0.7" d="M3.7 101.2a2.2 1.9 29 1 0 3.7 2.1a2.2 1.9 29 1 0 -3.7 -2.1z"/>
<path fill="#705040" fill-opacity="0.8" d="M103.1 96.2a2.2 2.0 7 1 0 4.3 0.5a2.2 2.0 7 1 0 -4.3 -0.5zM-3.3 120.8a1.9 1.7 2 1 0 3.9 0.2a1.9 1.7 2 1 0 -3.9 -0.2z"/>
<path fill="#503828" fill-opacity="0.9" d="M158.8 97.3a2.1 1.5 71 1 0 1.3 3.9a2.1 1.5 71 1 0 -1.3 -3.9z"/>
</g>
</svg>
<svg x="561.3" y="566.0" width="160.8" height="120.8" viewBox="0 0 160.8 120.8" overflow="hidden">
<rect width="160.8" height="120.8" fill="#c2cae0"/>
<g filter="url(#ib2)">
<ellipse cx="76.3" cy="79.4" rx="9.1" ry="8.1" fill="#c6d2e4" fill-opacity="0.6"/>
<ellipse cx="26.1" cy="109.4" rx="14.6" ry="8.6" fill="#c6d2e4" fill-opacity="0.6"/>
<ellipse cx="135.5" cy="2.2" rx="15.3" ry="12.1" fill="#c6d2e4" fill-opacity="0.6"/>
<ellipse cx="18.1" cy="51.1" rx="10.5" ry="13.0" fill="#c6d2e4" fill-opacity="0.6"/>
<ellipse cx="26.3" cy="84.2" rx="9.4" ry="14.5" fill="#c6d2e4" fill-opacity="0.6"/>
<ellipse cx="64.4" cy="50.6" rx="11.8" ry="11.1" fill="#c6d2e4" fill-opacity="0.6"/>
<ellipse cx="82.2" cy="97.9" rx="8.2" ry="14.6" fill="#c6d2e4" fill-opacity="0.6"/>
<ellipse cx="69.2" cy="62.7" rx="11.4" ry="11.1" fill="#c6d2e4" fill-opacity="0.6"/>
<ellipse cx="28.6" cy="84.1" rx="10.2" ry="10.8" fill="#c6d2e4" fill-opacity="0.6"/>
<ellipse cx="55.0" cy="29.2" rx="8.3" ry="13.0" fill="#c6d2e4" fill-opacity="0.6"/>
<ellipse cx="111.9" cy="85.1" rx="10.3" ry="10.0" fill="#c6d2e4" fill-opacity="0.6"/>
<ellipse cx="109.9" cy="83.8" rx="15.1" ry="11.4" fill="#c6d2e4" fill-opacity="0.6"/>
<ellipse cx="93.3" cy="42.0" rx="13.9" ry="12.5" fill="#c6d2e4" fill-opacity="0.6"/>
<ellipse cx="86.0" cy="95.3" rx="8.8" ry="10.8" fill="#c6d2e4" fill-opacity="0.6"/>
<ellipse cx="87.1" cy="75.2" rx="12.3" ry="13.6" fill="#c6d2e4" fill-opacity="0.6"/>
<ellipse cx="63.4" cy="29.7" rx="10.6" ry="13.5" fill="#c6d2e4" fill-opacity="0.6"/>
<ellipse cx="22.8" cy="10.9" rx="13.6" ry="14.1" fill="#c6d2e4" fill-opacity="0.6"/>
<ellipse cx="106.0" cy="112.9" rx="8.2" ry="11.9" fill="#c6d2e4" fill-opacity="0.6"/>
<ellipse cx="54.9" cy="28.8" rx="15.6" ry="8.1" fill="#c6d2e4" fill-opacity="0.6"/>
<ellipse cx="57.9" cy="33.8" rx="11.5" ry="9.8" fill="#c6d2e4" fill-opacity="0.6"/>
<ellipse cx="86.5" cy="92.0" rx="13.4" ry="13.3" fill="#c6d2e4" fill-opacity="0.6"/>
<ellipse cx="56.3" cy="88.5" rx="12.0" ry="10.9" fill="#c6d2e4" fill-opacity="0.6"/>
<ellipse cx="49.4" cy="16.4" rx="12.4" ry="10.0" fill="#c6d2e4" fill-opacity="0.6"/>
<ellipse cx="97.8" cy="94.7" rx="12.9" ry="10.1" fill="#c6d2e4" fill-opacity="0.6"/>
<ellipse cx="65.4" cy="45.9" rx="11.2" ry="14.5" fill="#c6d2e4" fill-opacity="0.6"/>
<ellipse cx="27.3" cy="24.8" rx="15.8" ry="12.2" fill="#c6d2e4" fill-opacity="0.6"/>
<ellipse cx="4.0" cy="37.3" rx="9.4" ry="9.3" fill="#c6d2e4" fill-opacity="0.6"/>
<ellipse cx="115.1" cy="35.8" rx="9.5" ry="10.5" fill="#c6d2e4" fill-opacity="0.6"/>
<ellipse cx="138.6" cy="73.3" rx="13.5" ry="12.3" fill="#c6d2e4" fill-opacity="0.6"/>
<ellipse cx="72.1" cy="63.7" rx="14.4" ry="12.0" fill="#c6d2e4" fill-opacity="0.6"/>
<ellipse cx="153.8" cy="82.4" rx="10.4" ry="11.6" fill="#a29096" fill-opacity="0.4"/>
<ellipse cx="121.2" cy="101.4" rx="8.4" ry="8.6" fill="#a29096" fill-opacity="0.4"/>
<ellipse cx="13.5" cy="6.8" rx="9.5" ry="8.7" fill="#a29096" fill-opacity="0.4"/>
<ellipse cx="38.9" cy="10.5" rx="13.7" ry="13.9" fill="#a29096" fill-opacity="0.4"/>
<ellipse cx="107.6" cy="1.5" rx="10.9" ry="12.4" fill="#a29096" fill-opacity="0.4"/>
<ellipse cx="78.0" cy="23.5" rx="11.2" ry="10.2" fill="#a29096" fill-opacity="0.4"/>
<ellipse cx="64.3" cy="24.8" rx="10.2" ry="10.1" fill="#a29096" fill-opacity="0.4"/>
<ellipse cx="150.8" cy="35.9" rx="11.9" ry="10.4" fill="#a29096" fill-opacity="0.4"/>
<ellipse cx="82.9" cy="78.2" rx="12.0" ry="8.6" fill="#a29096" fill-opacity="0.4"/>
<ellipse cx="108.3" cy="20.7" rx="9.7" ry="13.0" fill="#a29096" fill-opacity="0.4"/>
<ellipse cx="37.5" cy="23.7" rx="11.8" ry="11.5" fill="#a29096" fill-opacity="0.4"/>
<ellipse cx="150.7" cy="47.3" rx="10.2" ry="12.3" fill="#a29096" fill-opacity="0.4"/>
<ellipse cx="67.7" cy="38.0" rx="10.5" ry="8.3" fill="#a29096" fill-opacity="0.4"/>
<ellipse cx="8.1" cy="14.1" rx="9.0" ry="8.7" fill="#a29096" fill-opacity="0.4"/>
<ellipse cx="96.7" cy="112.7" rx="9.4" ry="13.2" fill="#a29096" fill-opacity="0.4"/>
<ellipse cx="146.3" cy="112.6" rx="10.2" ry="9.1" fill="#a29096" fill-opacity="0.4"/>
</g>
<g filter="url(#ib)" fill-opacity="0.7">
<path fill="#a098a0" d="M-0.7 -4.4a2.9 2.7 91 1 0 -0.1 5.8a2.9 2.7 91 1 0 0.1 -5.8zM67.3 -2.5a2.9 2.7 146 1 0 -4.9 3.3a2.9 2.7 146 1 0 4.9 -3.3zM79.6 -4.6a2.8 2.5 162 1 0 -5.4 1.7a2.8 2.5 162 1 0 5.4 -1.7zM103.8 -2.6a3.0 3.0 18 1 0 5.7 1.9a3.0 3.0 18 1 0 -5.7 -1.9zM114.2 -2.8a3.4 2.8 156 1 0 -6.1 2.7a3.4 2.8 156 1 0 6.1 -2.7zM157.5 -4.7a2.8 2.7 136 1 0 -4.0 3.8a2.8 2.7 136 1 0 4.0 -3.8zM1.7 2.3a3.4 3.3 86 1 0 0.5 6.7a3.4 3.3 86 1 0 -0.5 -6.7zM7.6 1.0a3.4 2.6 154 1 0 -6.1 3.0a3.4 2.6 154 1 0 6.1 -3.0zM16.5 1.8a3.0 2.4 50 1 0 3.8 4.6a3.0 2.4 50 1 0 -3.8 -4.6zM47.0 -0.9a3.5 3.5 61 1 0 3.4 6.2a3.5 3.5 61 1 0 -3.4 -6.2zM61.0 -1.0a3.4 3.1 116 1 0 -3.0 6.0a3.4 3.1 116 1 0 3.0 -6.0zM89.5 0.1a2.9 2.8 8 1 0 5.7 0.8a2.9 2.8 8 1 0 -5.7 -0.8zM95.5 2.1a3.3 3.2 99 1 0 -1.0 6.5a3.3 3.2 99 1 0 1.0 -6.5zM108.5 -1.3a3.0 2.3 134 1 0 -4.2 4.4a3.0 2.3 134 1 0 4.2 -4.4zM139.2 2.6a3.1 2.4 121 1 0 -3.2 5.3a3.1 2.4 121 1 0 3.2 -5.3zM145.6 -1.8a3.5 2.9 139 1 0 -5.3 4.6a3.5 2.9 139 1 0 5.3 -4.6zM163.4 1.4a3.0 2.7 180 1 0 -6.0 0.0a3.0 2.7 180 1 0 6.0 -0.0zM37.9 5.8a3.1 3.1 102 1 0 -1.3 6.1a3.1 3.1 102 1 0 1.3 -6.1zM82.4 10.2a3.4 2.8 155 1 0 -6.1 2.8a3.4 2.8 155 1 0 6.1 -2.8zM92.5 9.3a3.3 2.6 171 1 0 -6.5 1.0a3.3 2.6 171 1 0 6.5 -1.0zM102.5 6.3a3.4 2.8 166 1 0 -6.5 1.7a3.4 2.8 166 1 0 6.5 -1.7zM143.9 4.6a3.5 3.1 136 1 0 -5.1 4.9a3.5 3.1 136 1 0 5.1 -4.9zM147.5 6.2a3.5 2.6 52 1 0 4.2 5.5a3.5 2.6 52 1 0 -4.2 -5.5zM154.4 8.1a3.6 3.5 20 1 0 6.8 2.4a3.6 3.5 20 1 0 -6.8 -2.4zM-1.9 13.9a3.2 3.0 81 1 0 1.0 6.3a3.2 3.0 81 1 0 -1.0 -6.3zM1.3 12.4a3.5 3.0 5 1 0 6.9 0.6a3.5 3.0 5 1 0 -6.9 -0.6zM9.2 10.7a3.2 2.3 72 1 0 1.9 6.0a3.2 2.3 72 1 0 -1.9 -6.0zM43.8 11.3a2.8 2.5 27 1 0 5.0 2.5a2.8 2.5 27 1 0 -5.0 -2.5zM59.0 10.9a3.1 2.5 154 1 0 -5.6 2.7a3.1 2.5 154 1 0 5.6 -2.7zM95.5 10.0a3.6 2.6 41 1 0 5.5 4.7a3.6 2.6 41 1 0 -5.5 -4.7zM152.4 17.3a2.9 2.6 175 1 0 -5.8 0.5a2.9 2.6 175 1 0 5.8 -0.5zM-1.6 21.8a3.3 2.6 12 1 0 6.5 1.4a3.3 2.6 12 1 0 -6.5 -1.4zM27.0 19.8a3.3 2.7 74 1 0 1.9 6.3a3.3 2.7 74 1 0 -1.9 -6.3zM45.9 15.4a3.4 2.9 88 1 0 0.2 6.7a3.4 2.9 88 1 0 -0.2 -6.7zM49.1 25.1a3.4 2.9 147 1 0 -5.8 3.7a3.4 2.9 147 1 0 5.8 -3.7zM60.7 23.4a3.4 2.4 20 1 0 6.5 2.3a3.4 2.4 20 1 0 -6.5 -2.3zM72.5 21.2a3.4 3.1 101 1 0 -1.3 6.8a3.4 3.1 101 1 0 1.3 -6.8zM88.2 27.7a3.6 2.8 149 1 0 -6.3 3.7a3.6 2.8 149 1 0 6.3 -3.7zM95.7 21.6a3.1 2.5 93 1 0 -0.3 6.2a3.1 2.5 93 1 0 0.3 -6.2zM106.6 22.3a3.5 3.1 140 1 0 -5.4 4.5a3.5 3.1 140 1 0 5.4 -4.5zM107.0 28.0a3.6 3.1 0 1 0 7.3 0.0a3.6 3.1 0 1 0 -7.3 -0.0zM143.8 23.0a3.5 3.5 82 1 0 1.0 6.9a3.5 3.5 82 1 0 -1.0 -6.9zM151.8 24.5a3.2 3.0 110 1 0 -2.1 6.0a3.2 3.0 110 1 0 2.1 -6.0zM14.6 30.8a3.2 3.2 114 1 0 -2.6 5.8a3.2 3.2 114 1 0 2.6 -5.8zM21.8 32.2a2.8 2.0 156 1 0 -5.1 2.3a2.8 2.0 156 1 0 5.1 -2.3zM74.7 33.5a2.7 2.3 132 1 0 -3.6 4.1a2.7 2.3 132 1 0 3.6 -4.1zM160.9 29.8a2.9 2.8 150 1 0 -5.1 2.9a2.9 2.8 150 1 0 5.1 -2.9zM49.0 36.4a3.3 3.1 82 1 0 0.9 6.5a3.3 3.1 82 1 0 -0.9 -6.5zM54.7 34.0a2.8 2.8 100 1 0 -1.0 5.6a2.8 2.8 100 1 0 1.0 -5.6zM57.7 37.9a2.8 2.6 15 1 0 5.4 1.5a2.8 2.6 15 1 0 -5.4 -1.5zM82.5 37.3a3.1 2.5 148 1 0 -5.3 3.3a3.1 2.5 148 1 0 5.3 -3.3zM85.8 35.7a3.3 2.9 37 1 0 5.3 4.0a3.3 2.9 37 1 0 -5.3 -4.0zM108.3 35.5a3.6 2.8 146 1 0 -6.0 4.1a3.6 2.8 146 1 0 6.0 -4.1zM133.9 35.1a3.6 3.0 33 1 0 6.1 3.9a3.6 3.0 33 1 0 -6.1 -3.9zM154.9 37.4a3.1 2.6 154 1 0 -5.5 2.7a3.1 2.6 154 1 0 5.5 -2.7zM158.2 36.2a3.2 2.9 121 1 0 -3.2 5.5a3.2 2.9 121 1 0 3.2 -5.5zM129.6 42.4a3.5 3.1 85 1 0 0.6 6.9a3.5 3.1 85 1 0 -0.6 -6.9zM164.0 42.9a3.0 2.5 164 1 0 -5.7 1.6a3.0 2.5 164 1 0 5.7 -1.6zM53.2 48.7a2.9 2.1 34 1 0 4.7 3.2a2.9 2.1 34 1 0 -4.7 -3.2zM101.3 50.9a2.9 2.3 14 1 0 5.6 1.4a2.9 2.3 14 1 0 -5.6 -1.4zM124.8 48.1a3.0 2.4 82 1 0 0.8 5.9a3.0 2.4 82 1 0 -0.8 -5.9zM152.6 54.7a3.1 2.4 127 1 0 -3.6 4.9a3.1 2.4 127 1 0 3.6 -4.9zM11.2 63.5a3.0 2.9 35 1 0 4.9 3.5a3.0 2.9 35 1 0 -4.9 -3.5zM98.0 61.8a3.2 2.8 114 1 0 -2.6 5.9a3.2 2.8 114 1 0 2.6 -5.9zM116.2 64.2a3.1 2.9 18 1 0 5.9 1.9a3.1 2.9 18 1 0 -5.9 -1.9zM67.7 71.0a3.1 2.1 165 1 0 -5.9 1.6a3.1 2.1 165 1 0 5.9 -1.6zM68.3 66.7a3.1 2.3 54 1 0 3.6 5.0a3.1 2.3 54 1 0 -3.6 -5.0zM113.0 64.8a3.5 3.1 34 1 0 5.8 3.9a3.5 3.1 34 1 0 -5.8 -3.9zM161.9 71.6a3.2 3.0 177 1 0 -6.4 0.4a3.2 3.0 177 1 0 6.4 -0.4zM19.2 76.9a3.4 3.1 165 1 0 -6.5 1.7a3.4 3.1 165 1 0 6.5 -1.7zM114.1 71.5a2.7 2.2 138 1 0 -4.0 3.7a2.7 2.2 138 1 0 4.0 -3.7zM151.5 70.6a3.4 2.6 115 1 0 -2.8 6.2a3.4 2.6 115 1 0 2.8 -6.2zM160.7 71.9a3.4 3.3 33 1 0 5.6 3.7a3.4 3.3 33 1 0 -5.6 -3.7zM53.8 77.6a3.6 3.4 157 1 0 -6.7 2.9a3.6 3.4 157 1 0 6.7 -2.9zM60.2 81.7a3.3 3.2 174 1 0 -6.7 0.8a3.3 3.2 174 1 0 6.7 -0.8zM99.0 80.2a2.9 2.7 107 1 0 -1.7 5.5a2.9 2.7 107 1 0 1.7 -5.5zM121.6 81.0a2.7 2.2 44 1 0 4.0 3.8a2.7 2.2 44 1 0 -4.0 -3.8zM149.7 80.9a3.3 2.9 27 1 0 5.8 2.9a3.3 2.9 27 1 0 -5.8 -2.9zM78.0 86.3a3.0 3.0 58 1 0 3.2 5.1a3.0 3.0 58 1 0 -3.2 -5.1zM128.5 85.0a3.4 3.3 96 1 0 -0.8 6.8a3.4 3.3 96 1 0 0.8 -6.8zM139.4 88.3a3.3 2.4 1 1 0 6.6 0.1a3.3 2.4 1 1 0 -6.6 -0.1zM152.7 81.9a3.6 3.0 96 1 0 -0.7 7.2a3.6 3.0 96 1 0 0.7 -7.2zM21.6 93.3a3.2 2.2 137 1 0 -4.6 4.3a3.2 2.2 137 1 0 4.6 -4.3zM29.0 89.3a2.9 2.4 77 1 0 1.3 5.7a2.9 2.4 77 1 0 -1.3 -5.7zM112.2 91.5a3.6 3.1 47 1 0 4.9 5.2a3.6 3.1 47 1 0 -4.9 -5.2zM136.2 89.6a3.5 2.9 40 1 0 5.3 4.5a3.5 2.9 40 1 0 -5.3 -4.5zM33.9 97.0a3.1 2.7 163 1 0 -5.9 1.8a3.1 2.7 163 1 0 5.9 -1.8zM74.6 94.8a3.2 3.2 136 1 0 -4.6 4.5a3.2 3.2 136 1 0 4.6 -4.5zM140.4 97.0a3.6 3.2 101 1 0 -1.3 7.1a3.6 3.2 101 1 0 1.3 -7.1zM145.2 99.1a2.9 2.8 8 1 0 5.8 0.8a2.9 2.8 8 1 0 -5.8 -0.8zM142.9 101.2a3.3 2.5 83 1 0 0.8 6.6a3.3 2.5 83 1 0 -0.8 -6.6zM160.6 100.4a3.5 3.2 111 1 0 -2.4 6.5a3.5 3.2 111 1 0 2.4 -6.5zM139.5 109.8a3.2 2.7 92 1 0 -0.2 6.3a3.2 2.7 92 1 0 0.2 -6.3zM157.6 110.9a2.8 2.2 12 1 0 5.5 1.2a2.8 2.2 12 1 0 -5.5 -1.2zM113.5 115.2a3.1 2.4 0 1 0 6.1 0.0a3.1 2.4 0 1 0 -6.1 -0.0zM141.1 113.8a3.1 2.7 57 1 0 3.4 5.3a3.1 2.7 57 1 0 -3.4 -5.3zM159.1 116.2a3.4 2.9 132 1 0 -4.6 5.0a3.4 2.9 132 1 0 4.6 -5.0zM-1.3 121.2a3.2 2.7 1 1 0 6.4 0.2a3.2 2.7 1 1 0 -6.4 -0.2z"/>
<path fill="#a0a8c8" d="M6.1 -2.8a3.2 2.3 153 1 0 -5.7 2.9a3.2 2.3 153 1 0 5.7 -2.9zM6.3 -5.7a3.2 3.0 64 1 0 2.8 5.8a3.2 3.0 64 1 0 -2.8 -5.8zM34.0 -6.8a3.4 3.4 93 1 0 -0.4 6.9a3.4 3.4 93 1 0 0.4 -6.9zM45.6 -1.7a3.3 2.7 17 1 0 6.3 2.0a3.3 2.7 17 1 0 -6.3 -2.0zM60.1 -3.0a3.0 2.4 174 1 0 -6.0 0.7a3.0 2.4 174 1 0 6.0 -0.7zM93.2 -3.1a2.9 2.3 81 1 0 0.9 5.6a2.9 2.3 81 1 0 -0.9 -5.6zM121.0 -1.0a3.0 2.7 179 1 0 -6.0 0.1a3.0 2.7 179 1 0 6.0 -0.1zM41.4 -2.3a2.9 2.6 114 1 0 -2.4 5.4a2.9 2.6 114 1 0 2.4 -5.4zM115.9 -2.6a3.3 2.8 80 1 0 1.1 6.5a3.3 2.8 80 1 0 -1.1 -6.5zM124.3 3.7a3.5 3.1 5 1 0 6.9 0.6a3.5 3.1 5 1 0 -6.9 -0.6zM153.4 2.2a3.6 2.9 11 1 0 7.0 1.4a3.6 2.9 11 1 0 -7.0 -1.4zM124.3 4.1a3.1 2.3 74 1 0 1.7 6.0a3.1 2.3 74 1 0 -1.7 -6.0zM151.9 5.9a3.5 3.3 19 1 0 6.6 2.3a3.5 3.3 19 1 0 -6.6 -2.3zM62.6 11.7a2.9 2.8 36 1 0 4.7 3.4a2.9 2.8 36 1 0 -4.7 -3.4zM73.3 14.1a3.6 3.6 116 1 0 -3.2 6.5a3.6 3.6 116 1 0 3.2 -6.5zM146.4 16.5a3.0 2.5 157 1 0 -5.5 2.3a3.0 2.5 157 1 0 5.5 -2.3zM156.9 15.1a3.0 2.9 63 1 0 2.7 5.3a3.0 2.9 63 1 0 -2.7 -5.3zM38.3 19.0a3.4 3.2 155 1 0 -6.1 2.9a3.4 3.2 155 1 0 6.1 -2.9zM106.0 19.9a3.5 3.5 150 1 0 -6.0 3.5a3.5 3.5 150 1 0 6.0 -3.5zM118.8 19.8a3.2 2.7 6 1 0 6.4 0.6a3.2 2.7 6 1 0 -6.4 -0.6zM14.3 23.9a3.4 3.0 102 1 0 -1.4 6.6a3.4 3.0 102 1 0 1.4 -6.6zM29.9 26.8a3.5 3.2 165 1 0 -6.7 1.8a3.5 3.2 165 1 0 6.7 -1.8zM37.2 23.2a3.0 2.3 88 1 0 0.2 6.1a3.0 2.3 88 1 0 -0.2 -6.1zM155.4 27.9a3.0 2.4 12 1 0 5.9 1.3a3.0 2.4 12 1 0 -5.9 -1.3zM163.6 26.4a3.1 3.0 143 1 0 -5.0 3.7a3.1 3.0 143 1 0 5.0 -3.7zM67.3 33.5a3.0 2.3 133 1 0 -4.1 4.4a3.0 2.3 133 1 0 4.1 -4.4zM121.3 30.8a3.4 3.3 135 1 0 -4.7 4.8a3.4 3.3 135 1 0 4.7 -4.8zM130.1 34.7a2.7 2.1 169 1 0 -5.4 1.0a2.7 2.1 169 1 0 5.4 -1.0zM132.2 32.5a2.8 2.6 80 1 0 0.9 5.5a2.8 2.6 80 1 0 -0.9 -5.5zM139.0 29.6a2.8 2.4 91 1 0 -0.1 5.7a2.8 2.4 91 1 0 0.1 -5.7zM6.4 38.7a2.9 2.6 154 1 0 -5.2 2.5a2.9 2.6 154 1 0 5.2 -2.5zM103.2 34.8a3.5 2.9 71 1 0 2.3 6.7a3.5 2.9 71 1 0 -2.3 -6.7zM129.3 39.6a2.8 2.2 6 1 0 5.6 0.5a2.8 2.2 6 1 0 -5.6 -0.5zM3.8 42.2a3.5 2.6 94 1 0 -0.5 6.9a3.5 2.6 94 1 0 0.5 -6.9zM7.4 45.4a3.4 3.2 5 1 0 6.9 0.6a3.4 3.2 5 1 0 -6.9 -0.6zM14.9 44.1a3.1 2.9 121 1 0 -3.2 5.4a3.1 2.9 121 1 0 3.2 -5.4zM40.8 46.5a2.9 2.1 171 1 0 -5.7 0.9a2.9 2.1 171 1 0 5.7 -0.9zM44.9 44.5a2.8 2.2 99 1 0 -0.9 5.6a2.8 2.2 99 1 0 0.9 -5.6zM62.1 40.5a3.6 2.9 109 1 0 -2.4 6.8a3.6 2.9 109 1 0 2.4 -6.8zM103.2 40.2a3.5 3.3 51 1 0 4.4 5.4a3.5 3.3 51 1 0 -4.4 -5.4zM-4.0 51.1a3.5 3.5 35 1 0 5.7 4.0a3.5 3.5 35 1 0 -5.7 -4.0zM71.3 49.7a3.1 2.4 97 1 0 -0.7 6.2a3.1 2.4 97 1 0 0.7 -6.2zM94.1 49.9a3.7 2.9 177 1 0 -7.3 0.4a3.7 2.9 177 1 0 7.3 -0.4zM151.2 49.6a3.2 2.3 34 1 0 5.3 3.6a3.2 2.3 34 1 0 -5.3 -3.6zM0.7 54.4a2.9 2.8 150 1 0 -5.1 2.9a2.9 2.8 150 1 0 5.1 -2.9zM2.6 51.8a2.9 2.7 92 1 0 -0.2 5.9a2.9 2.7 92 1 0 0.2 -5.9zM40.4 53.7a3.3 2.4 21 1 0 6.1 2.4a3.3 2.4 21 1 0 -6.1 -2.4zM71.2 56.3a3.4 2.7 124 1 0 -3.9 5.7a3.4 2.7 124 1 0 3.9 -5.7zM89.4 55.4a2.9 2.8 43 1 0 4.3 4.0a2.9 2.8 43 1 0 -4.3 -4.0zM8.6 61.9a3.2 2.5 95 1 0 -0.5 6.5a3.2 2.5 95 1 0 0.5 -6.5zM68.6 58.8a3.3 2.8 151 1 0 -5.7 3.1a3.3 2.8 151 1 0 5.7 -3.1zM86.8 64.8a3.5 2.5 165 1 0 -6.8 1.8a3.5 2.5 165 1 0 6.8 -1.8zM140.9 58.5a3.3 3.2 141 1 0 -5.1 4.1a3.3 3.2 141 1 0 5.1 -4.1zM158.0 63.9a3.0 2.8 169 1 0 -5.9 1.2a3.0 2.8 169 1 0 5.9 -1.2zM-0.4 70.0a2.9 2.8 4 1 0 5.8 0.4a2.9 2.8 4 1 0 -5.8 -0.4zM53.5 65.4a3.0 2.6 96 1 0 -0.6 6.0a3.0 2.6 96 1 0 0.6 -6.0zM100.9 69.0a3.1 3.0 18 1 0 5.9 1.9a3.1 3.0 18 1 0 -5.9 -1.9zM125.2 66.2a3.4 3.3 26 1 0 6.0 3.0a3.4 3.3 26 1 0 -6.0 -3.0zM137.9 66.5a3.6 3.3 136 1 0 -5.1 5.0a3.6 3.3 136 1 0 5.1 -5.0zM144.6 63.5a3.6 3.6 117 1 0 -3.2 6.4a3.6 3.6 117 1 0 3.2 -6.4zM1.0 71.7a2.8 2.2 55 1 0 3.2 4.6a2.8 2.2 55 1 0 -3.2 -4.6zM36.6 73.1a2.9 2.1 2 1 0 5.7 0.2a2.9 2.1 2 1 0 -5.7 -0.2zM49.0 69.4a3.5 3.1 96 1 0 -0.8 7.0a3.5 3.1 96 1 0 0.8 -7.0zM71.0 72.3a2.9 2.6 29 1 0 5.1 2.8a2.9 2.6 29 1 0 -5.1 -2.8zM90.1 70.1a3.1 2.9 60 1 0 3.1 5.4a3.1 2.9 60 1 0 -3.1 -5.4zM106.3 73.6a3.6 3.0 43 1 0 5.2 4.8a3.6 3.0 43 1 0 -5.2 -4.8zM123.6 69.5a3.2 2.3 72 1 0 2.0 6.2a3.2 2.3 72 1 0 -2.0 -6.2zM156.2 72.1a3.1 2.6 112 1 0 -2.4 5.8a3.1 2.6 112 1 0 2.4 -5.8zM22.7 77.6a3.5 3.2 11 1 0 6.8 1.3a3.5 3.2 11 1 0 -6.8 -1.3zM34.0 80.5a3.2 2.4 160 1 0 -6.1 2.2a3.2 2.4 160 1 0 6.1 -2.2zM75.1 81.4a3.5 3.2 168 1 0 -6.8 1.4a3.5 3.2 168 1 0 6.8 -1.4zM115.2 79.4a3.0 3.0 167 1 0 -5.9 1.4a3.0 3.0 167 1 0 5.9 -1.4zM160.5 79.7a3.5 3.0 157 1 0 -6.4 2.8a3.5 3.0 157 1 0 6.4 -2.8zM1.9 86.3a3.5 3.1 2 1 0 7.1 0.2a3.5 3.1 2 1 0 -7.1 -0.2zM19.3 87.7a2.8 2.6 1 1 0 5.6 0.1a2.8 2.6 1 1 0 -5.6 -0.1zM58.8 87.5a3.4 3.2 173 1 0 -6.7 0.8a3.4 3.2 173 1 0 6.7 -0.8zM95.7 83.4a3.4 3.2 84 1 0 0.7 6.7a3.4 3.2 84 1 0 -0.7 -6.7zM102.6 84.5a3.2 2.3 175 1 0 -6.5 0.6a3.2 2.3 175 1 0 6.5 -0.6zM123.0 85.4a3.1 2.7 163 1 0 -6.0 1.8a3.1 2.7 163 1 0 6.0 -1.8zM161.5 82.2a3.2 2.7 49 1 0 4.1 4.8a3.2 2.7 49 1 0 -4.1 -4.8zM-2.0 88.8a2.9 2.2 77 1 0 1.3 5.6a2.9 2.2 77 1 0 -1.3 -5.6zM15.2 91.6a3.3 3.1 126 1 0 -3.9 5.3a3.3 3.1 126 1 0 3.9 -5.3zM56.8 93.5a3.0 2.4 19 1 0 5.7 2.0a3.0 2.4 19 1 0 -5.7 -2.0zM66.5 90.1a2.9 2.1 151 1 0 -5.1 2.8a2.9 2.1 151 1 0 5.1 -2.8zM96.8 93.5a3.1 2.3 37 1 0 5.0 3.8a3.1 2.3 37 1 0 -5.0 -3.8zM112.7 91.2a3.2 2.5 99 1 0 -1.1 6.4a3.2 2.5 99 1 0 1.1 -6.4zM146.6 91.1a2.9 2.6 70 1 0 2.0 5.5a2.9 2.6 70 1 0 -2.0 -5.5zM12.1 98.9a3.4 2.4 142 1 0 -5.3 4.1a3.4 2.4 142 1 0 5.3 -4.1zM37.5 98.8a3.2 3.2 133 1 0 -4.4 4.7a3.2 3.2 133 1 0 4.4 -4.7zM93.2 95.8a3.1 3.1 59 1 0 3.2 5.4a3.1 3.1 59 1 0 -3.2 -5.4zM10.1 107.1a3.1 2.6 12 1 0 6.0 1.2a3.1 2.6 12 1 0 -6.0 -1.2zM61.8 101.0a3.7 2.7 144 1 0 -6.0 4.3a3.7 2.7 144 1 0 6.0 -4.3zM73.3 101.7a3.5 3.3 90 1 0 0.1 7.0a3.5 3.3 90 1 0 -0.1 -7.0zM13.7 107.6a2.8 2.7 163 1 0 -5.4 1.7a2.8 2.7 163 1 0 5.4 -1.7zM51.0 109.8a3.4 2.5 64 1 0 2.9 6.1a3.4 2.5 64 1 0 -2.9 -6.1zM70.7 108.8a3.3 2.4 80 1 0 1.1 6.4a3.3 2.4 80 1 0 -1.1 -6.4zM81.7 109.2a2.9 2.4 116 1 0 -2.5 5.2a2.9 2.4 116 1 0 2.5 -5.2zM116.1 111.5a3.1 2.7 146 1 0 -5.2 3.5a3.1 2.7 146 1 0 5.2 -3.5zM119.0 107.6a3.1 2.9 121 1 0 -3.2 5.3a3.1 2.9 121 1 0 3.2 -5.3zM154.0 112.2a3.0 2.4 158 1 0 -5.6 2.3a3.0 2.4 158 1 0 5.6 -2.3zM91.3 116.2a3.3 2.8 39 1 0 5.1 4.1a3.3 2.8 39 1 0 -5.1 -4.1zM108.6 117.0a3.4 2.6 148 1 0 -5.7 3.6a3.4 2.6 148 1 0 5.7 -3.6zM112.2 116.4a3.6 2.9 157 1 0 -6.7 2.9a3.6 2.9 157 1 0 6.7 -2.9zM115.8 120.3a2.8 2.1 75 1 0 1.4 5.4a2.8 2.1 75 1 0 -1.4 -5.4zM150.5 124.1a3.5 2.5 10 1 0 6.8 1.2a3.5 2.5 10 1 0 -6.8 -1.2z"/>
<path fill="#9098b8" d="M31.8 -2.3a3.2 2.5 159 1 0 -5.9 2.3a3.2 2.5 159 1 0 5.9 -2.3zM66.4 -4.4a3.3 3.0 29 1 0 5.7 3.2a3.3 3.0 29 1 0 -5.7 -3.2zM27.3 2.0a3.4 2.4 124 1 0 -3.8 5.7a3.4 2.4 124 1 0 3.8 -5.7zM34.4 0.1a3.5 2.8 151 1 0 -6.1 3.4a3.5 2.8 151 1 0 6.1 -3.4zM38.9 0.4a2.7 2.0 125 1 0 -3.1 4.5a2.7 2.0 125 1 0 3.1 -4.5zM54.7 2.9a2.9 2.1 178 1 0 -5.8 0.2a2.9 2.1 178 1 0 5.8 -0.2zM68.8 1.3a3.1 2.3 142 1 0 -4.8 3.8a3.1 2.3 142 1 0 4.8 -3.8zM74.3 3.6a3.0 2.5 137 1 0 -4.3 4.1a3.0 2.5 137 1 0 4.3 -4.1zM79.7 -1.3a3.2 3.1 81 1 0 1.0 6.3a3.2 3.1 81 1 0 -1.0 -6.3zM121.2 0.8a3.5 3.2 148 1 0 -5.9 3.6a3.5 3.2 148 1 0 5.9 -3.6zM152.5 2.2a2.9 2.2 91 1 0 -0.1 5.8a2.9 2.2 91 1 0 0.1 -5.8zM9.5 6.9a2.8 2.2 49 1 0 3.7 4.3a2.8 2.2 49 1 0 -3.7 -4.3zM18.0 6.5a3.1 2.8 131 1 0 -4.0 4.6a3.1 2.8 131 1 0 4.0 -4.6zM33.0 9.9a3.6 3.4 163 1 0 -6.8 2.1a3.6 3.4 163 1 0 6.8 -2.1zM46.7 4.8a3.0 2.7 131 1 0 -4.0 4.5a3.0 2.7 131 1 0 4.0 -4.5zM52.4 7.7a3.5 3.4 35 1 0 5.8 4.1a3.5 3.4 35 1 0 -5.8 -4.1zM72.2 7.1a2.8 2.4 28 1 0 4.9 2.6a2.8 2.4 28 1 0 -4.9 -2.6zM107.1 4.9a3.4 2.7 52 1 0 4.2 5.3a3.4 2.7 52 1 0 -4.2 -5.3zM115.8 7.1a3.1 2.4 36 1 0 4.9 3.6a3.1 2.4 36 1 0 -4.9 -3.6zM128.1 8.2a3.5 3.1 113 1 0 -2.7 6.5a3.5 3.1 113 1 0 2.7 -6.5zM22.5 14.4a3.4 2.4 128 1 0 -4.2 5.4a3.4 2.4 128 1 0 4.2 -5.4zM24.4 11.4a3.3 3.0 81 1 0 1.0 6.5a3.3 3.0 81 1 0 -1.0 -6.5zM42.6 14.1a3.1 2.5 108 1 0 -1.9 5.9a3.1 2.5 108 1 0 1.9 -5.9zM61.2 10.0a3.0 2.3 89 1 0 0.2 6.1a3.0 2.3 89 1 0 -0.2 -6.1zM91.5 15.3a2.9 2.5 153 1 0 -5.3 2.7a2.9 2.5 153 1 0 5.3 -2.7zM99.6 14.9a3.0 2.2 61 1 0 2.9 5.3a3.0 2.2 61 1 0 -2.9 -5.3zM140.0 14.1a3.0 2.9 104 1 0 -1.4 5.9a3.0 2.9 104 1 0 1.4 -5.9zM0.1 20.1a3.6 3.0 124 1 0 -4.0 6.0a3.6 3.0 124 1 0 4.0 -6.0zM10.1 15.7a2.8 2.3 116 1 0 -2.5 5.1a2.8 2.3 116 1 0 2.5 -5.1zM17.3 21.8a2.7 2.4 36 1 0 4.4 3.2a2.7 2.4 36 1 0 -4.4 -3.2zM53.0 16.1a3.0 2.1 87 1 0 0.3 6.0a3.0 2.1 87 1 0 -0.3 -6.0zM54.3 20.1a3.1 2.6 39 1 0 4.9 3.9a3.1 2.6 39 1 0 -4.9 -3.9zM70.4 17.1a3.7 2.9 131 1 0 -4.8 5.5a3.7 2.9 131 1 0 4.8 -5.5zM81.2 17.5a3.1 2.2 55 1 0 3.6 5.1a3.1 2.2 55 1 0 -3.6 -5.1zM89.8 18.9a3.6 3.1 163 1 0 -6.8 2.1a3.6 3.1 163 1 0 6.8 -2.1zM94.5 16.2a3.5 3.3 45 1 0 5.0 4.9a3.5 3.3 45 1 0 -5.0 -4.9zM111.0 17.4a2.8 2.2 19 1 0 5.3 1.8a2.8 2.2 19 1 0 -5.3 -1.8zM119.0 17.6a3.4 3.4 130 1 0 -4.3 5.3a3.4 3.4 130 1 0 4.3 -5.3zM135.8 22.2a3.4 2.7 20 1 0 6.4 2.4a3.4 2.7 20 1 0 -6.4 -2.4zM6.1 27.0a3.6 3.6 163 1 0 -6.9 2.1a3.6 3.6 163 1 0 6.9 -2.1zM4.2 23.5a3.4 3.2 27 1 0 6.1 3.1a3.4 3.2 27 1 0 -6.1 -3.1zM56.9 24.6a3.4 3.0 168 1 0 -6.7 1.4a3.4 3.0 168 1 0 6.7 -1.4zM55.5 24.1a3.7 2.7 45 1 0 5.2 5.2a3.7 2.7 45 1 0 -5.2 -5.2zM77.6 26.2a2.8 2.3 55 1 0 3.2 4.6a2.8 2.3 55 1 0 -3.2 -4.6zM85.5 25.0a3.1 2.6 30 1 0 5.4 3.1a3.1 2.6 30 1 0 -5.4 -3.1zM125.5 28.8a3.4 3.2 168 1 0 -6.7 1.5a3.4 3.2 168 1 0 6.7 -1.5zM36.5 29.7a3.6 2.9 55 1 0 4.1 5.9a3.6 2.9 55 1 0 -4.1 -5.9zM39.9 33.9a3.3 2.8 2 1 0 6.7 0.2a3.3 2.8 2 1 0 -6.7 -0.2zM67.4 32.8a2.8 2.7 111 1 0 -2.0 5.2a2.8 2.7 111 1 0 2.0 -5.2zM124.6 27.7a3.6 3.6 112 1 0 -2.7 6.7a3.6 3.6 112 1 0 2.7 -6.7zM146.6 27.5a3.1 2.6 71 1 0 2.1 5.9a3.1 2.6 71 1 0 -2.1 -5.9zM18.8 36.6a3.5 2.8 98 1 0 -1.0 7.0a3.5 2.8 98 1 0 1.0 -7.0zM29.5 35.1a3.6 2.9 39 1 0 5.6 4.6a3.6 2.9 39 1 0 -5.6 -4.6zM93.6 35.2a2.9 2.3 37 1 0 4.7 3.5a2.9 2.3 37 1 0 -4.7 -3.5zM125.0 35.8a3.4 3.2 164 1 0 -6.6 1.9a3.4 3.2 164 1 0 6.6 -1.9zM160.8 35.2a2.7 2.5 36 1 0 4.4 3.2a2.7 2.5 36 1 0 -4.4 -3.2zM2.0 42.7a3.6 3.0 171 1 0 -7.2 1.1a3.6 3.0 171 1 0 7.2 -1.1zM50.1 43.4a2.8 2.4 26 1 0 5.0 2.4a2.8 2.4 26 1 0 -5.0 -2.4zM60.7 43.7a3.3 2.5 134 1 0 -4.5 4.7a3.3 2.5 134 1 0 4.5 -4.7zM73.8 40.7a3.3 2.8 79 1 0 1.2 6.4a3.3 2.8 79 1 0 -1.2 -6.4zM84.7 45.6a3.3 3.3 140 1 0 -5.1 4.2a3.3 3.3 140 1 0 5.1 -4.2zM82.9 44.1a2.9 2.3 43 1 0 4.2 3.9a2.9 2.3 43 1 0 -4.2 -3.9zM144.9 44.1a2.7 2.5 129 1 0 -3.5 4.2a2.7 2.5 129 1 0 3.5 -4.2zM3.2 45.8a3.5 3.4 64 1 0 3.0 6.3a3.5 3.4 64 1 0 -3.0 -6.3zM20.9 46.3a3.3 3.0 110 1 0 -2.3 6.2a3.3 3.0 110 1 0 2.3 -6.2zM26.5 46.8a2.8 2.2 116 1 0 -2.4 5.1a2.8 2.2 116 1 0 2.4 -5.1zM43.5 48.7a3.4 2.6 117 1 0 -3.0 6.0a3.4 2.6 117 1 0 3.0 -6.0zM49.4 50.3a3.5 3.4 171 1 0 -6.9 1.0a3.5 3.4 171 1 0 6.9 -1.0zM68.2 48.8a3.6 2.9 99 1 0 -1.1 7.1a3.6 2.9 99 1 0 1.1 -7.1zM87.9 49.6a2.9 2.6 161 1 0 -5.5 1.9a2.9 2.6 161 1 0 5.5 -1.9zM136.2 50.1a3.3 2.6 3 1 0 6.6 0.4a3.3 2.6 3 1 0 -6.6 -0.4zM162.5 51.1a2.9 2.3 133 1 0 -4.0 4.3a2.9 2.3 133 1 0 4.0 -4.3zM5.2 55.1a3.2 3.2 45 1 0 4.6 4.6a3.2 3.2 45 1 0 -4.6 -4.6zM15.0 53.9a3.4 2.5 52 1 0 4.2 5.4a3.4 2.5 52 1 0 -4.2 -5.4zM34.3 53.8a2.8 2.5 134 1 0 -3.8 4.0a2.8 2.5 134 1 0 3.8 -4.0zM40.5 55.1a3.1 2.3 125 1 0 -3.5 5.1a3.1 2.3 125 1 0 3.5 -5.1zM60.5 53.8a3.4 2.7 157 1 0 -6.3 2.7a3.4 2.7 157 1 0 6.3 -2.7zM75.3 54.8a3.2 2.3 136 1 0 -4.6 4.4a3.2 2.3 136 1 0 4.6 -4.4zM85.5 52.9a2.7 2.6 90 1 0 0.0 5.5a2.7 2.6 90 1 0 -0.0 -5.5zM119.9 56.1a3.5 2.8 136 1 0 -5.1 4.9a3.5 2.8 136 1 0 5.1 -4.9zM132.6 57.0a3.1 2.3 134 1 0 -4.3 4.5a3.1 2.3 134 1 0 4.3 -4.5zM45.0 60.5a3.4 3.2 151 1 0 -5.9 3.3a3.4 3.2 151 1 0 5.9 -3.3zM46.9 59.1a3.2 2.4 69 1 0 2.3 5.9a3.2 2.4 69 1 0 -2.3 -5.9zM21.9 64.9a2.9 2.5 108 1 0 -1.8 5.4a2.9 2.5 108 1 0 1.8 -5.4zM71.5 68.7a3.7 2.6 31 1 0 6.3 3.8a3.7 2.6 31 1 0 -6.3 -3.8zM90.2 68.2a3.4 3.1 52 1 0 4.1 5.4a3.4 3.1 52 1 0 -4.1 -5.4zM97.4 69.9a3.2 2.9 23 1 0 5.8 2.5a3.2 2.9 23 1 0 -5.8 -2.5zM108.0 67.2a3.5 2.8 16 1 0 6.8 1.9a3.5 2.8 16 1 0 -6.8 -1.9zM152.6 63.6a3.6 3.0 57 1 0 3.9 6.0a3.6 3.0 57 1 0 -3.9 -6.0zM34.5 71.8a3.2 3.1 27 1 0 5.7 2.9a3.2 3.1 27 1 0 -5.7 -2.9zM63.7 71.5a3.6 3.5 33 1 0 6.0 4.0a3.6 3.5 33 1 0 -6.0 -4.0zM74.1 72.8a3.6 3.2 29 1 0 6.3 3.5a3.6 3.2 29 1 0 -6.3 -3.5zM142.3 71.5a3.6 3.4 97 1 0 -0.9 7.1a3.6 3.4 97 1 0 0.9 -7.1zM14.0 78.5a2.8 2.2 102 1 0 -1.2 5.5a2.8 2.2 102 1 0 1.2 -5.5zM41.9 77.5a3.6 3.4 38 1 0 5.6 4.5a3.6 3.4 38 1 0 -5.6 -4.5zM61.5 78.3a3.2 2.8 95 1 0 -0.5 6.3a3.2 2.8 95 1 0 0.5 -6.3zM108.3 82.0a3.3 3.0 166 1 0 -6.3 1.6a3.3 3.0 166 1 0 6.3 -1.6zM133.9 80.2a2.9 2.5 148 1 0 -5.0 3.1a2.9 2.5 148 1 0 5.0 -3.1zM131.4 76.9a3.0 2.1 48 1 0 4.0 4.5a3.0 2.1 48 1 0 -4.0 -4.5zM4.5 82.8a3.2 2.7 131 1 0 -4.1 4.8a3.2 2.7 131 1 0 4.1 -4.8zM13.0 83.0a3.6 3.4 145 1 0 -6.0 4.1a3.6 3.4 145 1 0 6.0 -4.1zM46.4 85.3a3.1 2.3 57 1 0 3.4 5.1a3.1 2.3 57 1 0 -3.4 -5.1zM85.3 83.2a3.6 3.0 49 1 0 4.7 5.5a3.6 3.0 49 1 0 -4.7 -5.5zM137.4 85.5a3.5 2.7 29 1 0 6.0 3.4a3.5 2.7 29 1 0 -6.0 -3.4zM49.1 90.4a3.3 2.4 141 1 0 -5.2 4.2a3.3 2.4 141 1 0 5.2 -4.2zM46.4 90.3a3.4 2.5 14 1 0 6.6 1.7a3.4 2.5 14 1 0 -6.6 -1.7zM71.4 92.4a3.4 2.8 142 1 0 -5.4 4.2a3.4 2.8 142 1 0 5.4 -4.2zM100.5 94.3a3.5 2.5 1 1 0 7.1 0.2a3.5 2.5 1 1 0 -7.1 -0.2zM133.9 88.8a3.3 2.7 75 1 0 1.8 6.4a3.3 2.7 75 1 0 -1.8 -6.4zM156.1 88.4a3.2 3.1 123 1 0 -3.5 5.4a3.2 3.1 123 1 0 3.5 -5.4zM154.6 93.6a3.5 2.7 22 1 0 6.4 2.6a3.5 2.7 22 1 0 -6.4 -2.6zM8.8 98.4a3.0 2.1 177 1 0 -6.0 0.3a3.0 2.1 177 1 0 6.0 -0.3zM23.3 99.2a3.2 2.5 162 1 0 -6.2 2.0a3.2 2.5 162 1 0 6.2 -2.0zM38.9 96.7a3.5 2.9 59 1 0 3.6 6.0a3.5 2.9 59 1 0 -3.6 -6.0zM100.2 94.4a3.5 2.9 94 1 0 -0.6 7.0a3.5 2.9 94 1 0 0.6 -7.0zM124.5 94.5a3.1 2.8 58 1 0 3.3 5.2a3.1 2.8 58 1 0 -3.3 -5.2zM147.5 97.7a3.6 3.4 134 1 0 -4.9 5.1a3.6 3.4 134 1 0 4.9 -5.1zM26.0 106.7a3.0 2.8 158 1 0 -5.5 2.2a3.0 2.8 158 1 0 5.5 -2.2zM36.4 104.5a2.9 2.8 36 1 0 4.6 3.4a2.9 2.8 36 1 0 -4.6 -3.4zM44.8 102.2a3.5 2.8 113 1 0 -2.7 6.4a3.5 2.8 113 1 0 2.7 -6.4zM61.2 101.8a2.8 2.5 16 1 0 5.4 1.5a2.8 2.5 16 1 0 -5.4 -1.5zM68.8 100.1a2.8 2.6 115 1 0 -2.4 5.1a2.8 2.6 115 1 0 2.4 -5.1zM86.6 102.3a3.0 2.4 27 1 0 5.4 2.7a3.0 2.4 27 1 0 -5.4 -2.7zM103.7 100.6a3.2 2.4 89 1 0 0.1 6.4a3.2 2.4 89 1 0 -0.1 -6.4zM108.5 102.5a2.8 1.9 37 1 0 4.4 3.3a2.8 1.9 37 1 0 -4.4 -3.3zM119.4 104.3a3.0 2.9 112 1 0 -2.2 5.6a3.0 2.9 112 1 0 2.2 -5.6zM27.3 107.8a2.8 2.6 162 1 0 -5.4 1.8a2.8 2.6 162 1 0 5.4 -1.8zM31.0 105.9a3.1 3.0 69 1 0 2.2 5.7a3.1 3.0 69 1 0 -2.2 -5.7zM41.5 106.6a3.6 2.8 98 1 0 -1.0 7.2a3.6 2.8 98 1 0 1.0 -7.2zM101.1 112.7a3.1 2.9 174 1 0 -6.3 0.7a3.1 2.9 174 1 0 6.3 -0.7zM109.5 106.4a3.2 2.6 82 1 0 0.9 6.3a3.2 2.6 82 1 0 -0.9 -6.3zM146.7 110.8a3.7 3.1 155 1 0 -6.7 3.1a3.7 3.1 155 1 0 6.7 -3.1zM6.6 113.1a3.1 2.5 135 1 0 -4.4 4.4a3.1 2.5 135 1 0 4.4 -4.4zM24.7 118.4a3.4 3.4 180 1 0 -6.9 0.0a3.4 3.4 180 1 0 6.9 -0.0zM29.5 112.9a3.2 2.6 119 1 0 -3.0 5.6a3.2 2.6 119 1 0 3.0 -5.6zM48.3 113.6a3.3 2.4 162 1 0 -6.3 2.0a3.3 2.4 162 1 0 6.3 -2.0zM65.0 114.6a2.8 2.3 38 1 0 4.3 3.4a2.8 2.3 38 1 0 -4.3 -3.4zM75.7 111.2a3.6 3.3 71 1 0 2.4 6.8a3.6 3.3 71 1 0 -2.4 -6.8zM85.2 114.3a3.5 3.2 45 1 0 5.0 4.9a3.5 3.2 45 1 0 -5.0 -4.9zM96.2 114.4a3.0 2.7 28 1 0 5.3 2.8a3.0 2.7 28 1 0 -5.3 -2.8zM155.0 117.2a3.5 2.8 172 1 0 -6.9 0.9a3.5 2.8 172 1 0 6.9 -0.9zM18.7 120.4a2.9 2.1 136 1 0 -4.2 4.1a2.9 2.1 136 1 0 4.2 -4.1zM88.0 120.1a3.0 2.2 120 1 0 -3.1 5.3a3.0 2.2 120 1 0 3.1 -5.3zM106.6 120.5a3.0 2.3 74 1 0 1.7 5.7a3.0 2.3 74 1 0 -1.7 -5.7z"/>
<path fill="#98a0c0" d="M34.1 -4.7a2.8 2.6 37 1 0 4.6 3.4a2.8 2.6 37 1 0 -4.6 -3.4zM92.0 -3.7a3.5 3.2 166 1 0 -6.9 1.7a3.5 3.2 166 1 0 6.9 -1.7zM101.0 -4.4a3.6 3.2 166 1 0 -6.9 1.7a3.6 3.2 166 1 0 6.9 -1.7zM120.1 -3.9a3.7 3.2 2 1 0 7.3 0.3a3.7 3.2 2 1 0 -7.3 -0.3zM154.4 -1.7a2.9 2.1 10 1 0 5.8 1.0a2.9 2.1 10 1 0 -5.8 -1.0zM14.9 -0.6a3.1 2.4 130 1 0 -4.0 4.7a3.1 2.4 130 1 0 4.0 -4.7zM1.6 8.5a2.9 2.1 64 1 0 2.6 5.3a2.9 2.1 64 1 0 -2.6 -5.3zM31.2 7.6a3.3 3.2 35 1 0 5.4 3.8a3.3 3.2 35 1 0 -5.4 -3.8zM67.2 8.1a3.0 2.4 20 1 0 5.6 2.1a3.0 2.4 20 1 0 -5.6 -2.1zM91.5 4.7a3.3 3.0 45 1 0 4.7 4.7a3.3 3.0 45 1 0 -4.7 -4.7zM106.2 7.6a2.8 2.8 139 1 0 -4.2 3.7a2.8 2.8 139 1 0 4.2 -3.7zM136.1 7.3a2.9 2.0 101 1 0 -1.1 5.6a2.9 2.0 101 1 0 1.1 -5.6zM31.4 11.3a3.3 2.5 38 1 0 5.2 4.1a3.3 2.5 38 1 0 -5.2 -4.1zM82.8 13.2a3.6 2.8 147 1 0 -6.0 3.9a3.6 2.8 147 1 0 6.0 -3.9zM81.1 10.2a3.1 2.7 78 1 0 1.3 6.0a3.1 2.7 78 1 0 -1.3 -6.0zM107.3 10.2a2.7 2.2 115 1 0 -2.3 5.0a2.7 2.2 115 1 0 2.3 -5.0zM75.8 15.3a3.2 3.1 82 1 0 0.8 6.4a3.2 3.1 82 1 0 -0.8 -6.4zM96.1 16.5a3.4 3.3 126 1 0 -3.9 5.5a3.4 3.3 126 1 0 3.9 -5.5zM136.3 16.8a3.1 3.1 146 1 0 -5.2 3.6a3.1 3.1 146 1 0 5.2 -3.6zM145.2 22.8a3.1 2.8 16 1 0 6.0 1.7a3.1 2.8 16 1 0 -6.0 -1.7zM151.7 20.5a3.5 3.2 31 1 0 6.0 3.6a3.5 3.2 31 1 0 -6.0 -3.6zM27.8 21.8a2.9 2.5 91 1 0 -0.1 5.9a2.9 2.5 91 1 0 0.1 -5.9zM115.6 22.0a2.8 2.5 68 1 0 2.1 5.1a2.8 2.5 68 1 0 -2.1 -5.1zM128.8 24.3a3.4 2.8 113 1 0 -2.6 6.3a3.4 2.8 113 1 0 2.6 -6.3zM136.1 26.3a3.3 3.0 170 1 0 -6.5 1.2a3.3 3.0 170 1 0 6.5 -1.2zM138.3 24.6a3.3 3.3 61 1 0 3.2 5.8a3.3 3.3 61 1 0 -3.2 -5.8zM9.7 29.6a3.3 2.6 154 1 0 -6.0 2.9a3.3 2.6 154 1 0 6.0 -2.9zM27.1 30.7a2.7 2.3 45 1 0 3.8 3.9a2.7 2.3 45 1 0 -3.8 -3.9zM54.3 33.4a2.7 2.1 12 1 0 5.4 1.2a2.7 2.1 12 1 0 -5.4 -1.2zM83.7 28.9a3.0 2.8 112 1 0 -2.3 5.5a3.0 2.8 112 1 0 2.3 -5.5zM102.1 32.8a3.6 2.9 162 1 0 -6.8 2.2a3.6 2.9 162 1 0 6.8 -2.2zM107.6 27.2a3.5 2.9 117 1 0 -3.2 6.2a3.5 2.9 117 1 0 3.2 -6.2zM114.5 34.1a2.7 2.0 180 1 0 -5.5 0.0a2.7 2.0 180 1 0 5.5 -0.0zM-0.2 39.6a2.9 2.8 138 1 0 -4.4 3.9a2.9 2.8 138 1 0 4.4 -3.9zM46.0 39.7a2.8 2.0 153 1 0 -4.9 2.5a2.8 2.0 153 1 0 4.9 -2.5zM66.4 37.6a3.7 3.2 12 1 0 7.2 1.5a3.7 3.2 12 1 0 -7.2 -1.5zM87.6 36.5a2.7 2.1 179 1 0 -5.4 0.1a2.7 2.1 179 1 0 5.4 -0.1zM111.3 37.4a3.6 3.2 39 1 0 5.5 4.5a3.6 3.2 39 1 0 -5.5 -4.5zM127.3 37.9a3.4 2.8 68 1 0 2.5 6.2a3.4 2.8 68 1 0 -2.5 -6.2zM22.5 43.3a3.0 2.2 136 1 0 -4.3 4.2a3.0 2.2 136 1 0 4.3 -4.2zM30.6 45.1a3.2 2.5 127 1 0 -3.9 5.2a3.2 2.5 127 1 0 3.9 -5.2zM69.7 46.0a2.9 2.8 162 1 0 -5.4 1.7a2.9 2.8 162 1 0 5.4 -1.7zM94.1 44.8a3.2 2.9 145 1 0 -5.2 3.6a3.2 2.9 145 1 0 5.2 -3.6zM102.8 44.7a3.1 2.8 143 1 0 -4.9 3.7a3.1 2.8 143 1 0 4.9 -3.7zM120.4 45.4a3.7 3.4 144 1 0 -5.9 4.3a3.7 3.4 144 1 0 5.9 -4.3zM124.5 43.8a3.0 2.2 158 1 0 -5.5 2.2a3.0 2.2 158 1 0 5.5 -2.2zM142.9 44.5a2.7 2.6 33 1 0 4.6 3.0a2.7 2.6 33 1 0 -4.6 -3.0zM155.1 42.3a3.3 3.3 93 1 0 -0.3 6.6a3.3 3.3 93 1 0 0.3 -6.6zM61.1 48.4a3.2 3.1 86 1 0 0.4 6.4a3.2 3.1 86 1 0 -0.4 -6.4zM107.5 48.0a3.3 3.1 70 1 0 2.3 6.3a3.3 3.1 70 1 0 -2.3 -6.3zM116.6 47.2a3.4 2.6 144 1 0 -5.6 4.1a3.4 2.6 144 1 0 5.6 -4.1zM117.9 48.8a3.5 2.8 34 1 0 5.8 3.9a3.5 2.8 34 1 0 -5.8 -3.9zM131.9 49.8a2.8 2.1 133 1 0 -3.8 4.0a2.8 2.1 133 1 0 3.8 -4.0zM145.3 51.7a3.7 3.3 148 1 0 -6.2 3.9a3.7 3.3 148 1 0 6.2 -3.9zM22.3 52.7a3.2 2.7 68 1 0 2.3 5.9a3.2 2.7 68 1 0 -2.3 -5.9zM51.6 55.0a2.9 2.1 91 1 0 -0.1 5.9a2.9 2.1 91 1 0 0.1 -5.9zM68.5 56.0a3.6 3.2 170 1 0 -7.1 1.2a3.6 3.2 170 1 0 7.1 -1.2zM100.3 57.1a3.3 2.7 135 1 0 -4.7 4.6a3.3 2.7 135 1 0 4.7 -4.6zM105.0 56.4a2.8 2.7 42 1 0 4.1 3.7a2.8 2.7 42 1 0 -4.1 -3.7zM112.4 55.9a3.5 3.2 123 1 0 -3.8 5.8a3.5 3.2 123 1 0 3.8 -5.8zM125.5 51.6a3.3 3.0 91 1 0 -0.1 6.7a3.3 3.0 91 1 0 0.1 -6.7zM149.1 54.3a3.6 3.0 180 1 0 -7.3 0.0a3.6 3.0 180 1 0 7.3 -0.0zM2.5 57.6a3.6 2.5 116 1 0 -3.2 6.5a3.6 2.5 116 1 0 3.2 -6.5zM24.8 57.7a2.7 2.2 77 1 0 1.3 5.3a2.7 2.2 77 1 0 -1.3 -5.3zM37.6 60.5a3.6 3.1 125 1 0 -4.1 5.9a3.6 3.1 125 1 0 4.1 -5.9zM52.9 58.4a2.8 2.5 45 1 0 4.0 4.0a2.8 2.5 45 1 0 -4.0 -4.0zM57.0 62.1a2.8 2.6 39 1 0 4.4 3.5a2.8 2.6 39 1 0 -4.4 -3.5zM72.7 62.1a3.4 3.2 106 1 0 -1.9 6.6a3.4 3.2 106 1 0 1.9 -6.6zM92.9 63.2a3.2 2.3 151 1 0 -5.6 3.0a3.2 2.3 151 1 0 5.6 -3.0zM109.7 61.8a3.5 3.0 75 1 0 1.8 6.9a3.5 3.0 75 1 0 -1.8 -6.9zM135.5 60.2a3.2 3.2 178 1 0 -6.4 0.2a3.2 3.2 178 1 0 6.4 -0.2zM143.5 58.8a2.8 2.4 77 1 0 1.3 5.4a2.8 2.4 77 1 0 -1.3 -5.4zM150.0 58.1a3.1 2.8 79 1 0 1.2 6.1a3.1 2.8 79 1 0 -1.2 -6.1zM0.2 63.3a3.2 2.2 100 1 0 -1.1 6.2a3.2 2.2 100 1 0 1.1 -6.2zM11.5 67.8a2.9 2.8 134 1 0 -4.0 4.2a2.9 2.8 134 1 0 4.0 -4.2zM27.6 65.8a3.0 2.1 91 1 0 -0.2 6.0a3.0 2.1 91 1 0 0.2 -6.0zM37.4 65.3a3.7 3.2 63 1 0 3.3 6.6a3.7 3.2 63 1 0 -3.3 -6.6zM45.7 63.8a3.4 2.5 96 1 0 -0.8 6.8a3.4 2.5 96 1 0 0.8 -6.8zM84.0 69.5a3.3 3.3 9 1 0 6.6 1.0a3.3 3.3 9 1 0 -6.6 -1.0zM142.9 70.0a3.3 3.1 15 1 0 6.5 1.7a3.3 3.1 15 1 0 -6.5 -1.7zM8.9 74.1a3.2 2.3 76 1 0 1.6 6.2a3.2 2.3 76 1 0 -1.6 -6.2zM26.5 76.2a2.8 2.5 163 1 0 -5.4 1.6a2.8 2.5 163 1 0 5.4 -1.6zM29.7 73.8a3.4 3.0 87 1 0 0.3 6.9a3.4 3.0 87 1 0 -0.3 -6.9zM51.2 71.6a2.8 2.2 81 1 0 0.9 5.5a2.8 2.2 81 1 0 -0.9 -5.5zM100.9 72.8a3.4 2.7 44 1 0 4.9 4.7a3.4 2.7 44 1 0 -4.9 -4.7zM135.3 74.9a2.7 2.4 140 1 0 -4.2 3.5a2.7 2.4 140 1 0 4.2 -3.5zM136.1 73.7a3.4 2.6 100 1 0 -1.2 6.7a3.4 2.6 100 1 0 1.2 -6.7zM0.8 76.0a3.0 2.5 71 1 0 1.9 5.6a3.0 2.5 71 1 0 -1.9 -5.6zM13.9 82.3a2.8 2.4 156 1 0 -5.0 2.3a2.8 2.4 156 1 0 5.0 -2.3zM20.2 78.1a3.4 3.2 35 1 0 5.6 4.0a3.4 3.2 35 1 0 -5.6 -4.0zM36.5 82.0a2.7 2.7 23 1 0 5.0 2.2a2.7 2.7 23 1 0 -5.0 -2.2zM142.2 79.9a3.3 2.7 29 1 0 5.7 3.2a3.3 2.7 29 1 0 -5.7 -3.2zM13.9 86.0a3.4 2.8 23 1 0 6.2 2.6a3.4 2.8 23 1 0 -6.2 -2.6zM31.8 84.4a2.9 2.8 148 1 0 -5.0 3.1a2.9 2.8 148 1 0 5.0 -3.1zM40.6 88.2a2.7 2.1 177 1 0 -5.5 0.3a2.7 2.1 177 1 0 5.5 -0.3zM40.5 82.5a3.5 3.1 70 1 0 2.4 6.5a3.5 3.1 70 1 0 -2.4 -6.5zM54.8 83.6a3.0 2.4 31 1 0 5.1 3.1a3.0 2.4 31 1 0 -5.1 -3.1zM70.7 84.8a3.2 2.9 129 1 0 -4.1 5.0a3.2 2.9 129 1 0 4.1 -5.0zM74.6 83.2a3.1 3.0 145 1 0 -5.1 3.5a3.1 3.0 145 1 0 5.1 -3.5zM81.1 82.9a3.4 3.3 57 1 0 3.7 5.7a3.4 3.3 57 1 0 -3.7 -5.7zM118.7 87.2a2.9 2.1 141 1 0 -4.5 3.7a2.9 2.1 141 1 0 4.5 -3.7zM-0.8 87.7a3.4 2.6 57 1 0 3.7 5.7a3.4 2.6 57 1 0 -3.7 -5.7zM11.0 90.5a3.2 2.5 134 1 0 -4.4 4.5a3.2 2.5 134 1 0 4.4 -4.5zM29.6 87.5a3.3 2.3 76 1 0 1.6 6.4a3.3 2.3 76 1 0 -1.6 -6.4zM83.1 93.8a3.1 2.5 162 1 0 -5.8 1.9a3.1 2.5 162 1 0 5.8 -1.9zM82.0 92.0a3.2 2.4 35 1 0 5.2 3.7a3.2 2.4 35 1 0 -5.2 -3.7zM94.0 89.8a3.3 3.1 88 1 0 0.2 6.6a3.3 3.1 88 1 0 -0.2 -6.6zM121.4 87.6a3.6 3.4 74 1 0 2.0 6.9a3.6 3.4 74 1 0 -2.0 -6.9zM127.9 90.7a3.4 2.5 18 1 0 6.6 2.2a3.4 2.5 18 1 0 -6.6 -2.2zM78.6 97.4a3.0 2.8 167 1 0 -5.9 1.4a3.0 2.8 167 1 0 5.9 -1.4zM81.4 97.9a3.0 2.5 66 1 0 2.5 5.5a3.0 2.5 66 1 0 -2.5 -5.5zM92.3 97.0a3.4 2.6 125 1 0 -4.0 5.6a3.4 2.6 125 1 0 4.0 -5.6zM112.0 97.5a2.8 2.5 119 1 0 -2.7 5.0a2.8 2.5 119 1 0 2.7 -5.0zM111.7 97.1a3.0 2.4 61 1 0 2.9 5.3a3.0 2.4 61 1 0 -2.9 -5.3zM119.9 99.3a2.7 2.7 33 1 0 4.6 3.0a2.7 2.7 33 1 0 -4.6 -3.0zM126.8 95.3a3.1 2.8 26 1 0 5.6 2.8a3.1 2.8 26 1 0 -5.6 -2.8zM151.6 94.3a2.7 2.5 51 1 0 3.4 4.3a2.7 2.5 51 1 0 -3.4 -4.3zM-6.7 102.6a3.6 3.3 27 1 0 6.4 3.3a3.6 3.3 27 1 0 -6.4 -3.3zM7.7 102.4a3.3 2.7 146 1 0 -5.5 3.7a3.3 2.7 146 1 0 5.5 -3.7zM4.8 103.8a3.4 3.4 41 1 0 5.2 4.5a3.4 3.4 41 1 0 -5.2 -4.5zM26.0 100.2a3.5 3.2 62 1 0 3.4 6.2a3.5 3.2 62 1 0 -3.4 -6.2zM97.9 104.3a2.8 2.1 46 1 0 3.9 4.1a2.8 2.1 46 1 0 -3.9 -4.1zM125.9 99.9a3.3 2.4 128 1 0 -4.1 5.2a3.3 2.4 128 1 0 4.1 -5.2zM130.4 103.5a3.1 3.0 85 1 0 0.5 6.1a3.1 3.0 85 1 0 -0.5 -6.1zM140.4 103.1a2.8 2.2 175 1 0 -5.6 0.5a2.8 2.2 175 1 0 5.6 -0.5zM154.3 102.3a3.6 2.9 139 1 0 -5.4 4.7a3.6 2.9 139 1 0 5.4 -4.7zM-2.8 110.3a3.1 2.4 6 1 0 6.1 0.7a3.1 2.4 6 1 0 -6.1 -0.7zM1.2 110.3a3.7 3.1 25 1 0 6.7 3.1a3.7 3.1 25 1 0 -6.7 -3.1zM59.8 107.4a2.8 2.6 27 1 0 5.0 2.5a2.8 2.6 27 1 0 -5.0 -2.5zM89.9 106.7a3.0 2.8 139 1 0 -4.5 3.9a3.0 2.8 139 1 0 4.5 -3.9zM99.1 107.7a2.9 2.6 40 1 0 4.5 3.7a2.9 2.6 40 1 0 -4.5 -3.7zM121.5 109.9a3.0 2.4 17 1 0 5.7 1.7a3.0 2.4 17 1 0 -5.7 -1.7zM137.4 112.5a3.3 2.4 161 1 0 -6.2 2.2a3.3 2.4 161 1 0 6.2 -2.2zM156.9 110.0a3.4 2.8 119 1 0 -3.3 5.9a3.4 2.8 119 1 0 3.3 -5.9zM9.4 113.9a3.7 2.9 107 1 0 -2.2 7.0a3.7 2.9 107 1 0 2.2 -7.0zM13.6 115.2a3.1 2.5 7 1 0 6.1 0.8a3.1 2.5 7 1 0 -6.1 -0.8zM30.5 112.8a3.5 3.2 85 1 0 0.6 7.0a3.5 3.2 85 1 0 -0.6 -7.0zM34.2 115.5a3.7 3.5 31 1 0 6.3 3.8a3.7 3.5 31 1 0 -6.3 -3.8zM54.9 112.4a3.4 2.9 83 1 0 0.9 6.7a3.4 2.9 83 1 0 -0.9 -6.7zM62.5 114.4a3.0 2.9 1 1 0 5.9 0.2a3.0 2.9 1 1 0 -5.9 -0.2zM79.3 116.3a2.8 2.7 49 1 0 3.7 4.3a2.8 2.7 49 1 0 -3.7 -4.3zM146.1 114.2a3.7 3.2 115 1 0 -3.2 6.6a3.7 3.2 115 1 0 3.2 -6.6zM11.0 119.7a3.5 3.0 161 1 0 -6.6 2.3a3.5 3.0 161 1 0 6.6 -2.3zM10.8 120.2a3.3 2.3 102 1 0 -1.4 6.4a3.3 2.3 102 1 0 1.4 -6.4zM34.9 118.1a3.7 3.0 95 1 0 -0.6 7.3a3.7 3.0 95 1 0 0.6 -7.3zM47.9 121.0a2.9 2.4 134 1 0 -4.0 4.1a2.9 2.4 134 1 0 4.0 -4.1zM72.6 119.0a3.5 2.7 135 1 0 -4.9 4.9a3.5 2.7 135 1 0 4.9 -4.9zM89.2 118.9a2.9 2.2 120 1 0 -3.0 5.1a2.9 2.2 120 1 0 3.0 -5.1zM93.5 118.8a3.1 3.0 72 1 0 1.9 5.8a3.1 3.0 72 1 0 -1.9 -5.8zM134.9 118.2a3.5 3.3 75 1 0 1.8 6.7a3.5 3.3 75 1 0 -1.8 -6.7zM146.3 118.5a3.2 2.7 44 1 0 4.7 4.5a3.2 2.7 44 1 0 -4.7 -4.5z"/>
<path fill="#90a0c0" d="M46.0 -5.7a2.8 2.7 129 1 0 -3.5 4.3a2.8 2.7 129 1 0 3.5 -4.3zM83.4 1.0a2.8 2.1 22 1 0 5.2 2.1a2.8 2.1 22 1 0 -5.2 -2.1zM105.0 1.6a3.3 3.0 130 1 0 -4.3 5.0a3.3 3.0 130 1 0 4.3 -5.0zM137.0 1.9a3.5 2.5 131 1 0 -4.6 5.2a3.5 2.5 131 1 0 4.6 -5.2zM121.4 14.2a3.3 2.9 143 1 0 -5.3 4.0a3.3 2.9 143 1 0 5.3 -4.0zM126.6 14.0a3.3 2.4 145 1 0 -5.3 3.8a3.3 2.4 145 1 0 5.3 -3.8zM162.8 11.7a3.6 2.9 145 1 0 -5.9 4.1a3.6 2.9 145 1 0 5.9 -4.1zM14.4 15.9a2.9 2.7 125 1 0 -3.3 4.8a2.9 2.7 125 1 0 3.3 -4.8zM158.2 15.2a3.7 3.5 100 1 0 -1.3 7.2a3.7 3.5 100 1 0 1.3 -7.2zM16.7 22.1a3.4 3.1 106 1 0 -1.8 6.6a3.4 3.1 106 1 0 1.8 -6.6zM43.6 22.4a3.1 2.7 123 1 0 -3.3 5.2a3.1 2.7 123 1 0 3.3 -5.2zM53.1 35.3a3.0 2.7 173 1 0 -6.0 0.7a3.0 2.7 173 1 0 6.0 -0.7zM22.8 34.6a3.1 2.4 96 1 0 -0.7 6.1a3.1 2.4 96 1 0 0.7 -6.1zM64.9 35.6a3.7 2.9 48 1 0 4.9 5.4a3.7 2.9 48 1 0 -4.9 -5.4zM138.7 40.2a3.0 2.1 27 1 0 5.3 2.7a3.0 2.1 27 1 0 -5.3 -2.7zM28.5 43.0a3.0 2.6 37 1 0 4.7 3.6a3.0 2.6 37 1 0 -4.7 -3.6zM137.1 42.6a3.6 2.6 147 1 0 -6.1 4.0a3.6 2.6 147 1 0 6.1 -4.0zM8.6 50.7a2.8 2.5 59 1 0 2.9 4.9a2.8 2.5 59 1 0 -2.9 -4.9zM77.4 48.0a3.5 2.5 49 1 0 4.5 5.3a3.5 2.5 49 1 0 -4.5 -5.3zM92.3 49.0a3.6 2.8 15 1 0 7.0 1.8a3.6 2.8 15 1 0 -7.0 -1.8zM150.3 46.7a3.4 3.0 84 1 0 0.7 6.7a3.4 3.0 84 1 0 -0.7 -6.7zM135.4 53.0a3.3 3.0 106 1 0 -1.9 6.3a3.3 3.0 106 1 0 1.9 -6.3zM102.4 62.0a3.5 2.6 107 1 0 -2.0 6.8a3.5 2.6 107 1 0 2.0 -6.8zM119.1 61.9a2.9 2.4 172 1 0 -5.8 0.8a2.9 2.4 172 1 0 5.8 -0.8zM16.1 64.3a2.8 2.6 67 1 0 2.2 5.1a2.8 2.6 67 1 0 -2.2 -5.1zM32.0 68.1a3.0 2.2 57 1 0 3.3 5.1a3.0 2.2 57 1 0 -3.3 -5.1zM83.1 63.1a3.5 2.9 114 1 0 -2.8 6.4a3.5 2.9 114 1 0 2.8 -6.4zM59.4 71.4a3.1 2.2 124 1 0 -3.5 5.2a3.1 2.2 124 1 0 3.5 -5.2zM85.5 68.9a3.6 3.1 84 1 0 0.8 7.2a3.6 3.1 84 1 0 -0.8 -7.2zM120.7 70.7a3.1 2.3 61 1 0 3.0 5.5a3.1 2.3 61 1 0 -3.0 -5.5zM78.9 75.8a3.1 2.3 90 1 0 -0.0 6.2a3.1 2.3 90 1 0 0.0 -6.2zM143.5 77.3a2.8 2.7 104 1 0 -1.4 5.4a2.8 2.7 104 1 0 1.4 -5.4zM109.6 87.2a3.5 2.7 151 1 0 -6.1 3.4a3.5 2.7 151 1 0 6.1 -3.4zM154.1 85.9a2.9 2.4 64 1 0 2.6 5.2a2.9 2.4 64 1 0 -2.6 -5.2zM38.5 89.4a2.9 2.5 77 1 0 1.3 5.7a2.9 2.5 77 1 0 -1.3 -5.7zM20.8 97.0a3.2 3.2 60 1 0 3.2 5.6a3.2 3.2 60 1 0 -3.2 -5.6zM51.1 94.9a3.1 3.0 81 1 0 1.0 6.1a3.1 3.0 81 1 0 -1.0 -6.1zM65.1 99.4a2.8 2.7 179 1 0 -5.6 0.1a2.8 2.7 179 1 0 5.6 -0.1zM63.9 95.3a2.7 2.7 41 1 0 4.1 3.6a2.7 2.7 41 1 0 -4.1 -3.6zM97.9 102.6a3.3 3.0 142 1 0 -5.2 4.1a3.3 3.0 142 1 0 5.2 -4.1zM18.4 108.1a3.1 2.5 126 1 0 -3.6 5.0a3.1 2.5 126 1 0 3.6 -5.0zM36.1 106.2a3.2 2.5 44 1 0 4.6 4.5a3.2 2.5 44 1 0 -4.6 -4.5zM-0.7 115.2a3.2 2.5 88 1 0 0.2 6.3a3.2 2.5 88 1 0 -0.2 -6.3zM56.3 118.7a3.0 2.3 167 1 0 -5.9 1.3a3.0 2.3 167 1 0 5.9 -1.3zM133.5 115.4a3.4 3.3 145 1 0 -5.6 3.9a3.4 3.3 145 1 0 5.6 -3.9zM131.7 118.0a3.1 2.7 21 1 0 5.9 2.2a3.1 2.7 21 1 0 -5.9 -2.2zM25.5 122.8a2.7 2.5 143 1 0 -4.4 3.3a2.7 2.5 143 1 0 4.4 -3.3zM59.1 118.1a3.1 3.1 83 1 0 0.7 6.2a3.1 3.1 83 1 0 -0.7 -6.2zM135.6 119.2a3.1 2.4 128 1 0 -3.9 4.9a3.1 2.4 128 1 0 3.9 -4.9z"/>
<path fill="#98a8c8" d="M21.1 7.6a2.9 2.6 61 1 0 2.8 5.1a2.9 2.6 61 1 0 -2.8 -5.1zM46.4 7.7a3.1 2.3 16 1 0 6.0 1.7a3.1 2.3 16 1 0 -6.0 -1.7zM62.9 8.7a3.1 3.0 105 1 0 -1.6 5.9a3.1 3.0 105 1 0 1.6 -5.9zM24.5 15.4a3.4 2.6 25 1 0 6.1 2.8a3.4 2.6 25 1 0 -6.1 -2.8zM110.1 14.6a3.6 3.1 44 1 0 5.2 5.0a3.6 3.1 44 1 0 -5.2 -5.0zM127.3 13.9a3.4 2.7 29 1 0 5.9 3.3a3.4 2.7 29 1 0 -5.9 -3.3zM36.8 20.4a3.6 3.0 23 1 0 6.6 2.8a3.6 3.0 23 1 0 -6.6 -2.8zM67.4 21.7a3.3 3.2 161 1 0 -6.2 2.2a3.3 3.2 161 1 0 6.2 -2.2zM126.5 17.0a3.6 2.8 84 1 0 0.7 7.1a3.6 2.8 84 1 0 -0.7 -7.1zM0.8 31.8a3.4 2.9 46 1 0 4.7 4.9a3.4 2.9 46 1 0 -4.7 -4.9zM28.6 33.2a2.9 2.9 7 1 0 5.9 0.7a2.9 2.9 7 1 0 -5.9 -0.7zM90.2 30.4a3.6 2.7 124 1 0 -4.0 5.9a3.6 2.7 124 1 0 4.0 -5.9zM89.7 32.9a3.2 2.7 14 1 0 6.2 1.6a3.2 2.7 14 1 0 -6.2 -1.6zM153.3 31.8a2.9 2.8 101 1 0 -1.2 5.7a2.9 2.8 101 1 0 1.2 -5.7zM9.5 36.5a3.5 3.1 21 1 0 6.5 2.5a3.5 3.1 21 1 0 -6.5 -2.5zM38.6 36.5a3.5 2.5 140 1 0 -5.4 4.5a3.5 2.5 140 1 0 5.4 -4.5zM112.6 39.8a3.1 2.6 84 1 0 0.7 6.1a3.1 2.6 84 1 0 -0.7 -6.1zM32.6 45.7a3.3 2.3 127 1 0 -4.0 5.3a3.3 2.3 127 1 0 4.0 -5.3zM37.2 49.0a3.5 2.8 104 1 0 -1.7 6.9a3.5 2.8 104 1 0 1.7 -6.9zM23.5 56.3a3.0 2.9 62 1 0 2.8 5.3a3.0 2.9 62 1 0 -2.8 -5.3zM77.8 57.0a2.9 2.2 16 1 0 5.6 1.6a2.9 2.2 16 1 0 -5.6 -1.6zM139.2 56.2a3.1 2.9 104 1 0 -1.5 6.1a3.1 2.9 104 1 0 1.5 -6.1zM160.5 56.2a3.1 2.3 99 1 0 -1.0 6.1a3.1 2.3 99 1 0 1.0 -6.1zM23.0 63.7a3.3 3.0 173 1 0 -6.5 0.7a3.3 3.0 173 1 0 6.5 -0.7zM35.8 59.3a3.3 2.9 163 1 0 -6.4 1.9a3.3 2.9 163 1 0 6.4 -1.9zM77.2 61.7a2.7 2.2 70 1 0 1.9 5.1a2.7 2.2 70 1 0 -1.9 -5.1zM130.8 62.1a3.3 2.4 155 1 0 -6.0 2.9a3.3 2.4 155 1 0 6.0 -2.9zM159.3 60.7a3.2 2.7 5 1 0 6.4 0.5a3.2 2.7 5 1 0 -6.4 -0.5zM59.4 68.7a3.3 3.3 137 1 0 -4.8 4.5a3.3 3.3 137 1 0 4.8 -4.5zM121.7 67.4a3.1 2.6 7 1 0 6.2 0.8a3.1 2.6 7 1 0 -6.2 -0.8zM10.2 72.8a3.2 2.8 156 1 0 -5.8 2.6a3.2 2.8 156 1 0 5.8 -2.6zM100.9 73.4a3.1 3.1 140 1 0 -4.8 4.0a3.1 3.1 140 1 0 4.8 -4.0zM76.7 80.1a3.2 2.9 146 1 0 -5.3 3.6a3.2 2.9 146 1 0 5.3 -3.6zM88.7 78.9a3.3 2.5 90 1 0 0.0 6.6a3.3 2.5 90 1 0 -0.0 -6.6zM92.5 78.7a2.9 2.1 66 1 0 2.3 5.3a2.9 2.1 66 1 0 -2.3 -5.3zM117.5 77.2a3.3 2.3 68 1 0 2.4 6.0a3.3 2.3 68 1 0 -2.4 -6.0zM131.7 84.7a3.6 3.0 73 1 0 2.1 6.9a3.6 3.0 73 1 0 -2.1 -6.9zM79.3 91.3a3.5 2.6 171 1 0 -6.9 1.1a3.5 2.6 171 1 0 6.9 -1.1zM-2.9 99.2a3.2 3.0 21 1 0 6.0 2.3a3.2 3.0 21 1 0 -6.0 -2.3zM45.2 93.4a3.1 2.3 84 1 0 0.7 6.1a3.1 2.3 84 1 0 -0.7 -6.1zM159.4 95.1a3.4 3.2 21 1 0 6.5 2.4a3.4 3.2 21 1 0 -6.5 -2.4zM31.9 103.2a3.1 3.0 99 1 0 -1.0 6.1a3.1 3.0 99 1 0 1.0 -6.1zM49.7 103.8a3.3 3.0 1 1 0 6.5 0.1a3.3 3.0 1 1 0 -6.5 -0.1zM79.9 106.2a2.8 2.1 11 1 0 5.5 1.1a2.8 2.1 11 1 0 -5.5 -1.1zM149.5 100.7a3.4 2.7 129 1 0 -4.3 5.3a3.4 2.7 129 1 0 4.3 -5.3zM45.8 106.9a3.6 3.3 31 1 0 6.2 3.8a3.6 3.3 31 1 0 -6.2 -3.8zM66.9 108.7a3.4 3.0 154 1 0 -6.1 3.0a3.4 3.0 154 1 0 6.1 -3.0zM86.3 107.9a3.6 3.2 153 1 0 -6.4 3.2a3.6 3.2 153 1 0 6.4 -3.2zM122.2 111.7a3.0 2.4 92 1 0 -0.2 6.1a3.0 2.4 92 1 0 0.2 -6.1zM42.8 119.0a3.6 3.3 75 1 0 1.9 7.0a3.6 3.3 75 1 0 -1.9 -7.0zM49.4 123.3a3.2 3.0 9 1 0 6.4 1.0a3.2 3.0 9 1 0 -6.4 -1.0zM76.4 118.6a3.1 2.9 59 1 0 3.2 5.3a3.1 2.9 59 1 0 -3.2 -5.3zM124.3 120.2a3.5 3.2 42 1 0 5.2 4.8a3.5 3.2 42 1 0 -5.2 -4.8z"/>
</g>
<g filter="url(#ib)">
<path fill="#707898" fill-opacity="0.75" d="M-1.3 -2.4a2.0 1.5 46 1 0 2.7 2.8a2.0 1.5 46 1 0 -2.7 -2.8zM9.4 -4.0a2.3 1.8 176 1 0 -4.6 0.4a2.3 1.8 176 1 0 4.6 -0.4zM2.7 4.6a1.6 1.2 91 1 0 -0.1 3.2a1.6 1.2 91 1 0 0.1 -3.2zM130.3 3.5a2.5 1.6 178 1 0 -5.1 0.1a2.5 1.6 178 1 0 5.1 -0.1zM-2.2 15.9a1.7 1.5 30 1 0 3.0 1.7a1.7 1.5 30 1 0 -3.0 -1.7zM59.4 11.7a2.5 2.3 158 1 0 -4.7 1.9a2.5 2.3 158 1 0 4.7 -1.9zM160.3 26.6a1.8 1.1 82 1 0 0.5 3.5a1.8 1.1 82 1 0 -0.5 -3.5zM90.3 31.3a2.2 1.4 129 1 0 -2.8 3.4a2.2 1.4 129 1 0 2.8 -3.4zM121.8 28.2a2.4 2.0 65 1 0 2.0 4.3a2.4 2.0 65 1 0 -2.0 -4.3zM36.7 44.4a2.6 1.6 69 1 0 1.8 4.8a2.6 1.6 69 1 0 -1.8 -4.8zM87.6 48.3a2.6 2.0 136 1 0 -3.7 3.6a2.6 2.0 136 1 0 3.7 -3.6zM123.3 50.2a2.4 1.4 10 1 0 4.7 0.8a2.4 1.4 10 1 0 -4.7 -0.8zM130.6 50.6a1.9 1.6 111 1 0 -1.3 3.5a1.9 1.6 111 1 0 1.3 -3.5zM16.6 55.9a1.7 1.4 52 1 0 2.1 2.7a1.7 1.4 52 1 0 -2.1 -2.7zM21.2 54.7a1.9 1.7 32 1 0 3.3 2.1a1.9 1.7 32 1 0 -3.3 -2.1zM82.6 56.3a2.6 2.0 123 1 0 -2.8 4.3a2.6 2.0 123 1 0 2.8 -4.3zM0.6 59.3a2.5 2.3 72 1 0 1.6 4.8a2.5 2.3 72 1 0 -1.6 -4.8zM100.9 64.4a1.9 1.1 95 1 0 -0.4 3.9a1.9 1.1 95 1 0 0.4 -3.9zM132.2 57.7a2.6 2.0 73 1 0 1.5 4.9a2.6 2.0 73 1 0 -1.5 -4.9zM154.1 63.4a2.1 1.8 72 1 0 1.3 4.1a2.1 1.8 72 1 0 -1.3 -4.1zM104.9 68.5a1.7 1.4 120 1 0 -1.7 3.0a1.7 1.4 120 1 0 1.7 -3.0zM149.1 69.8a2.3 1.3 173 1 0 -4.6 0.6a2.3 1.3 173 1 0 4.6 -0.6zM13.3 76.3a1.9 1.1 17 1 0 3.7 1.1a1.9 1.1 17 1 0 -3.7 -1.1zM23.6 74.3a2.1 1.4 74 1 0 1.1 4.1a2.1 1.4 74 1 0 -1.1 -4.1zM111.6 71.0a1.7 1.2 97 1 0 -0.4 3.4a1.7 1.2 97 1 0 0.4 -3.4zM20.9 79.7a2.2 1.9 3 1 0 4.4 0.2a2.2 1.9 3 1 0 -4.4 -0.2zM55.3 81.9a2.4 1.4 13 1 0 4.7 1.1a2.4 1.4 13 1 0 -4.7 -1.1zM131.9 77.0a2.0 1.7 55 1 0 2.2 3.2a2.0 1.7 55 1 0 -2.2 -3.2zM46.0 87.6a2.6 1.8 27 1 0 4.6 2.4a2.6 1.8 27 1 0 -4.6 -2.4zM55.3 85.4a1.8 1.2 94 1 0 -0.2 3.6a1.8 1.2 94 1 0 0.2 -3.6zM161.7 83.2a2.4 2.1 57 1 0 2.7 4.1a2.4 2.1 57 1 0 -2.7 -4.1zM41.2 92.1a2.6 1.6 154 1 0 -4.6 2.3a2.6 1.6 154 1 0 4.6 -2.3zM61.3 98.4a2.0 1.2 4 1 0 4.0 0.3a2.0 1.2 4 1 0 -4.0 -0.3zM115.1 100.0a2.0 1.3 172 1 0 -4.0 0.6a2.0 1.3 172 1 0 4.0 -0.6zM28.9 115.0a1.8 1.0 123 1 0 -1.9 3.0a1.8 1.0 123 1 0 1.9 -3.0zM107.6 117.3a2.2 2.0 9 1 0 4.4 0.7a2.2 2.0 9 1 0 -4.4 -0.7zM120.6 3.4a1.6 1.4 31 1 0 2.8 1.7a1.6 1.4 31 1 0 -2.8 -1.7zM75.2 83.5a2.5 2.2 6 1 0 5.0 0.5a2.5 2.2 6 1 0 -5.0 -0.5zM128.9 53.3a1.7 0.9 132 1 0 -2.2 2.5a1.7 0.9 132 1 0 2.2 -2.5zM61.0 86.4a2.5 1.5 90 1 0 0.0 4.9a2.5 1.5 90 1 0 -0.0 -4.9zM62.1 66.1a1.6 1.1 172 1 0 -3.1 0.5a1.6 1.1 172 1 0 3.1 -0.5z"/>
<path fill="#404860" fill-opacity="0.88" d="M3.8 -3.0a1.8 1.5 99 1 0 -0.6 3.6a1.8 1.5 99 1 0 0.6 -3.6zM25.5 -1.5a2.4 1.7 10 1 0 4.7 0.8a2.4 1.7 10 1 0 -4.7 -0.8zM87.2 -3.3a1.6 1.0 13 1 0 3.1 0.7a1.6 1.0 13 1 0 -3.1 -0.7zM13.8 1.5a2.0 1.7 152 1 0 -3.5 1.8a2.0 1.7 152 1 0 3.5 -1.8zM11.0 6.8a2.0 1.3 68 1 0 1.5 3.8a2.0 1.3 68 1 0 -1.5 -3.8zM152.3 9.3a2.4 1.8 176 1 0 -4.8 0.3a2.4 1.8 176 1 0 4.8 -0.3zM24.0 12.3a2.2 2.0 62 1 0 2.1 3.8a2.2 2.0 62 1 0 -2.1 -3.8zM48.9 12.3a1.8 1.6 152 1 0 -3.2 1.7a1.8 1.6 152 1 0 3.2 -1.7zM158.7 17.3a1.9 1.7 134 1 0 -2.7 2.8a1.9 1.7 134 1 0 2.7 -2.8zM13.9 31.0a2.1 1.5 118 1 0 -2.0 3.8a2.1 1.5 118 1 0 2.0 -3.8zM64.6 34.7a1.9 1.8 54 1 0 2.2 3.1a1.9 1.8 54 1 0 -2.2 -3.1zM108.0 28.8a2.5 1.7 168 1 0 -4.9 1.0a2.5 1.7 168 1 0 4.9 -1.0zM-3.0 39.4a2.0 1.8 100 1 0 -0.7 3.8a2.0 1.8 100 1 0 0.7 -3.8zM21.4 35.9a2.3 2.1 56 1 0 2.6 3.9a2.3 2.1 56 1 0 -2.6 -3.9zM27.4 48.7a1.8 1.2 177 1 0 -3.6 0.2a1.8 1.2 177 1 0 3.6 -0.2zM92.4 49.9a1.6 1.4 134 1 0 -2.2 2.4a1.6 1.4 134 1 0 2.2 -2.4zM134.4 55.1a1.6 1.4 126 1 0 -1.9 2.5a1.6 1.4 126 1 0 1.9 -2.5zM48.1 59.5a2.1 1.6 90 1 0 0.0 4.2a2.1 1.6 90 1 0 -0.0 -4.2zM97.1 62.5a2.1 1.9 115 1 0 -1.8 3.8a2.1 1.9 115 1 0 1.8 -3.8zM140.3 60.2a1.7 1.6 155 1 0 -3.0 1.4a1.7 1.6 155 1 0 3.0 -1.4zM-1.2 64.6a1.9 1.2 87 1 0 0.2 3.9a1.9 1.2 87 1 0 -0.2 -3.9zM112.1 66.8a1.5 1.1 85 1 0 0.2 3.0a1.5 1.1 85 1 0 -0.2 -3.0zM2.0 72.3a2.0 1.9 53 1 0 2.3 3.1a2.0 1.9 53 1 0 -2.3 -3.1zM28.3 75.6a2.6 2.2 19 1 0 4.9 1.7a2.6 2.2 19 1 0 -4.9 -1.7zM101.2 73.9a2.5 1.6 136 1 0 -3.6 3.5a2.5 1.6 136 1 0 3.6 -3.5zM74.6 80.2a1.8 1.4 97 1 0 -0.4 3.5a1.8 1.4 97 1 0 0.4 -3.5zM31.3 95.8a2.1 1.2 74 1 0 1.1 4.0a2.1 1.2 74 1 0 -1.1 -4.0zM142.7 99.6a2.3 2.0 39 1 0 3.6 2.9a2.3 2.0 39 1 0 -3.6 -2.9zM39.1 103.6a2.5 1.8 114 1 0 -2.0 4.5a2.5 1.8 114 1 0 2.0 -4.5zM68.5 101.5a1.9 1.4 109 1 0 -1.2 3.5a1.9 1.4 109 1 0 1.2 -3.5zM102.9 102.6a2.1 1.4 29 1 0 3.6 2.0a2.1 1.4 29 1 0 -3.6 -2.0zM151.3 101.3a2.6 2.4 70 1 0 1.8 4.9a2.6 2.4 70 1 0 -1.8 -4.9zM122.8 110.6a2.1 2.0 24 1 0 3.9 1.8a2.1 2.0 24 1 0 -3.9 -1.8zM148.6 112.9a2.2 1.5 23 1 0 4.0 1.7a2.2 1.5 23 1 0 -4.0 -1.7zM9.2 116.0a2.0 1.2 122 1 0 -2.1 3.3a2.0 1.2 122 1 0 2.1 -3.3zM144.9 81.0a2.0 1.8 155 1 0 -3.7 1.7a2.0 1.8 155 1 0 3.7 -1.7zM47.9 69.8a2.5 2.4 10 1 0 4.9 0.9a2.5 2.4 10 1 0 -4.9 -0.9zM34.0 93.6a1.6 1.5 46 1 0 2.3 2.3a1.6 1.5 46 1 0 -2.3 -2.3z"/>
<path fill="#686890" fill-opacity="0.75" d="M35.9 -4.3a1.9 1.3 169 1 0 -3.8 0.7a1.9 1.3 169 1 0 3.8 -0.7zM82.9 0.1a2.4 1.4 155 1 0 -4.3 2.0a2.4 1.4 155 1 0 4.3 -2.0zM107.7 -0.4a2.4 1.7 157 1 0 -4.4 1.8a2.4 1.7 157 1 0 4.4 -1.8zM14.4 79.9a2.0 1.4 104 1 0 -1.0 3.9a2.0 1.4 104 1 0 1.0 -3.9zM139.7 85.4a2.5 1.9 80 1 0 0.9 4.8a2.5 1.9 80 1 0 -0.9 -4.8zM143.1 85.9a1.6 1.1 98 1 0 -0.5 3.2a1.6 1.1 98 1 0 0.5 -3.2zM-1.7 115.7a2.3 2.0 72 1 0 1.4 4.3a2.3 2.0 72 1 0 -1.4 -4.3z"/>
<path fill="#686888" fill-opacity="0.75" d="M37.3 -3.9a1.9 1.2 98 1 0 -0.5 3.8a1.9 1.2 98 1 0 0.5 -3.8zM112.9 46.6a2.5 1.9 72 1 0 1.5 4.7a2.5 1.9 72 1 0 -1.5 -4.7zM118.6 62.3a1.6 1.3 172 1 0 -3.1 0.4a1.6 1.3 172 1 0 3.1 -0.4zM23.0 98.0a2.6 2.0 91 1 0 -0.1 5.2a2.6 2.0 91 1 0 0.1 -5.2zM42.0 97.5a1.8 1.7 130 1 0 -2.4 2.8a1.8 1.7 130 1 0 2.4 -2.8z"/>
<path fill="#606888" fill-opacity="0.75" d="M47.1 -4.4a2.3 1.7 160 1 0 -4.3 1.6a2.3 1.7 160 1 0 4.3 -1.6zM115.7 -2.2a2.4 2.2 53 1 0 2.9 3.9a2.4 2.2 53 1 0 -2.9 -3.9zM96.0 6.2a1.8 1.5 169 1 0 -3.6 0.7a1.8 1.5 169 1 0 3.6 -0.7zM101.5 19.0a2.3 1.3 62 1 0 2.1 4.0a2.3 1.3 62 1 0 -2.1 -4.0zM96.9 23.0a1.8 1.5 125 1 0 -2.1 2.9a1.8 1.5 125 1 0 2.1 -2.9zM111.5 25.4a2.5 2.2 122 1 0 -2.7 4.2a2.5 2.2 122 1 0 2.7 -4.2zM126.1 26.7a2.3 2.1 9 1 0 4.6 0.7a2.3 2.1 9 1 0 -4.6 -0.7zM145.8 30.5a1.8 1.4 27 1 0 3.2 1.6a1.8 1.4 27 1 0 -3.2 -1.6zM33.2 51.4a2.3 1.5 20 1 0 4.4 1.6a2.3 1.5 20 1 0 -4.4 -1.6zM65.8 55.6a1.5 0.9 127 1 0 -1.8 2.4a1.5 0.9 127 1 0 1.8 -2.4zM125.9 66.5a2.3 2.1 126 1 0 -2.7 3.8a2.3 2.1 126 1 0 2.7 -3.8zM155.2 63.4a2.6 2.1 112 1 0 -2.0 4.9a2.6 2.1 112 1 0 2.0 -4.9zM12.7 81.2a2.4 1.6 133 1 0 -3.3 3.5a2.4 1.6 133 1 0 3.3 -3.5zM0.9 91.1a1.9 1.6 134 1 0 -2.7 2.7a1.9 1.6 134 1 0 2.7 -2.7zM11.9 99.8a2.7 1.8 174 1 0 -5.3 0.6a2.7 1.8 174 1 0 5.3 -0.6zM162.6 94.2a2.1 1.6 93 1 0 -0.2 4.1a2.1 1.6 93 1 0 0.2 -4.1zM114.8 112.2a2.2 1.8 159 1 0 -4.1 1.6a2.2 1.8 159 1 0 4.1 -1.6zM1.9 119.1a1.8 1.1 116 1 0 -1.6 3.3a1.8 1.1 116 1 0 1.6 -3.3zM97.0 121.1a1.9 1.1 154 1 0 -3.3 1.6a1.9 1.1 154 1 0 3.3 -1.6zM136.7 120.2a1.8 1.4 119 1 0 -1.8 3.2a1.8 1.4 119 1 0 1.8 -3.2zM116.7 60.1a1.8 1.1 159 1 0 -3.4 1.3a1.8 1.1 159 1 0 3.4 -1.3z"/>
<path fill="#7078a0" fill-opacity="0.75" d="M48.5 -2.9a2.6 1.8 74 1 0 1.5 5.0a2.6 1.8 74 1 0 -1.5 -5.0zM54.3 -1.7a2.3 1.4 1 1 0 4.5 0.1a2.3 1.4 1 1 0 -4.5 -0.1zM28.9 10.0a1.5 0.9 24 1 0 2.8 1.2a1.5 0.9 24 1 0 -2.8 -1.2zM134.3 8.9a2.5 2.0 32 1 0 4.3 2.7a2.5 2.0 32 1 0 -4.3 -2.7zM133.5 16.1a2.0 1.9 59 1 0 2.1 3.5a2.0 1.9 59 1 0 -2.1 -3.5zM15.6 25.6a1.9 1.5 124 1 0 -2.2 3.2a1.9 1.5 124 1 0 2.2 -3.2zM133.5 26.5a1.6 1.3 180 1 0 -3.2 0.0a1.6 1.3 180 1 0 3.2 -0.0zM1.4 44.5a1.7 1.3 12 1 0 3.3 0.7a1.7 1.3 12 1 0 -3.3 -0.7zM162.1 42.7a1.6 1.4 130 1 0 -2.0 2.4a1.6 1.4 130 1 0 2.0 -2.4zM104.3 49.0a2.4 2.1 78 1 0 1.0 4.7a2.4 2.1 78 1 0 -1.0 -4.7zM39.6 72.1a1.7 1.1 110 1 0 -1.2 3.2a1.7 1.1 110 1 0 1.2 -3.2zM16.3 86.6a1.8 1.1 19 1 0 3.4 1.2a1.8 1.1 19 1 0 -3.4 -1.2zM36.9 99.5a2.3 1.7 144 1 0 -3.8 2.8a2.3 1.7 144 1 0 3.8 -2.8zM127.3 96.4a1.7 1.4 12 1 0 3.4 0.7a1.7 1.4 12 1 0 -3.4 -0.7zM71.4 105.3a2.6 1.6 13 1 0 5.0 1.2a2.6 1.6 13 1 0 -5.0 -1.2zM37.6 107.8a2.1 1.3 46 1 0 2.9 3.0a2.1 1.3 46 1 0 -2.9 -3.0zM38.4 109.9a1.7 1.6 3 1 0 3.5 0.2a1.7 1.6 3 1 0 -3.5 -0.2zM19.5 117.6a1.7 1.5 14 1 0 3.3 0.8a1.7 1.5 14 1 0 -3.3 -0.8zM80.5 115.6a2.5 1.9 87 1 0 0.3 4.9a2.5 1.9 87 1 0 -0.3 -4.9z"/>
<path fill="#384060" fill-opacity="0.88" d="M65.5 -2.6a2.1 1.3 102 1 0 -0.9 4.1a2.1 1.3 102 1 0 0.9 -4.1zM75.2 -5.7a2.1 1.4 49 1 0 2.8 3.1a2.1 1.4 49 1 0 -2.8 -3.1zM98.4 -5.1a1.8 1.2 111 1 0 -1.3 3.3a1.8 1.2 111 1 0 1.3 -3.3zM33.3 8.0a2.5 1.5 81 1 0 0.8 4.9a2.5 1.5 81 1 0 -0.8 -4.9zM48.2 6.6a1.6 1.3 67 1 0 1.2 3.0a1.6 1.3 67 1 0 -1.2 -3.0zM100.2 12.1a2.5 1.4 164 1 0 -4.8 1.4a2.5 1.4 164 1 0 4.8 -1.4zM98.7 17.3a2.5 2.3 159 1 0 -4.6 1.8a2.5 2.3 159 1 0 4.6 -1.8zM128.8 35.1a2.5 1.6 170 1 0 -4.9 0.9a2.5 1.6 170 1 0 4.9 -0.9zM137.9 30.8a1.6 1.4 74 1 0 0.9 3.1a1.6 1.4 74 1 0 -0.9 -3.1zM107.0 41.2a1.9 1.1 139 1 0 -2.9 2.6a1.9 1.1 139 1 0 2.9 -2.6zM122.9 49.4a1.6 1.0 146 1 0 -2.7 1.8a1.6 1.0 146 1 0 2.7 -1.8zM38.5 55.9a1.9 1.0 55 1 0 2.1 3.1a1.9 1.0 55 1 0 -2.1 -3.1zM151.7 56.2a2.0 1.4 133 1 0 -2.7 2.9a2.0 1.4 133 1 0 2.7 -2.9zM58.6 70.2a2.2 1.8 130 1 0 -2.9 3.4a2.2 1.8 130 1 0 2.9 -3.4zM134.2 67.7a1.6 1.4 36 1 0 2.6 1.9a1.6 1.4 36 1 0 -2.6 -1.9zM117.3 86.0a2.3 2.1 15 1 0 4.5 1.2a2.3 2.1 15 1 0 -4.5 -1.2zM153.6 86.9a2.1 1.1 44 1 0 3.0 2.8a2.1 1.1 44 1 0 -3.0 -2.8zM102.5 92.6a1.7 1.3 31 1 0 2.9 1.8a1.7 1.3 31 1 0 -2.9 -1.8zM157.3 94.5a1.8 1.5 45 1 0 2.6 2.6a1.8 1.5 45 1 0 -2.6 -2.6zM74.4 97.9a2.2 1.5 1 1 0 4.5 0.1a2.2 1.5 1 1 0 -4.5 -0.1zM-3.8 100.8a2.5 2.2 91 1 0 -0.1 4.9a2.5 2.2 91 1 0 0.1 -4.9zM122.6 101.2a2.2 2.0 69 1 0 1.6 4.1a2.2 2.0 69 1 0 -1.6 -4.1zM87.8 120.6a1.8 1.3 114 1 0 -1.5 3.3a1.8 1.3 114 1 0 1.5 -3.3z"/>
<path fill="#605858" fill-opacity="0.85" d="M96.3 -0.9a1.7 1.2 177 1 0 -3.4 0.2a1.7 1.2 177 1 0 3.4 -0.2zM78.5 13.2a2.3 1.7 26 1 0 4.2 2.0a2.3 1.7 26 1 0 -4.2 -2.0zM100.1 16.8a1.8 1.6 64 1 0 1.6 3.2a1.8 1.6 64 1 0 -1.6 -3.2zM153.9 19.3a2.4 1.6 94 1 0 -0.3 4.9a2.4 1.6 94 1 0 0.3 -4.9zM32.3 44.5a2.2 1.4 149 1 0 -3.7 2.3a2.2 1.4 149 1 0 3.7 -2.3zM136.4 58.6a1.6 0.9 36 1 0 2.5 1.8a1.6 0.9 36 1 0 -2.5 -1.8zM53.2 72.6a1.7 1.1 140 1 0 -2.5 2.2a1.7 1.1 140 1 0 2.5 -2.2zM154.4 81.7a2.4 1.9 5 1 0 4.7 0.4a2.4 1.9 5 1 0 -4.7 -0.4zM132.8 85.4a1.9 1.1 76 1 0 0.9 3.6a1.9 1.1 76 1 0 -0.9 -3.6zM140.3 91.7a1.6 1.5 144 1 0 -2.6 1.9a1.6 1.5 144 1 0 2.6 -1.9zM150.6 92.3a2.4 2.2 163 1 0 -4.6 1.4a2.4 2.2 163 1 0 4.6 -1.4zM68.4 96.4a1.9 1.4 162 1 0 -3.5 1.2a1.9 1.4 162 1 0 3.5 -1.2zM145.1 111.3a2.3 1.7 175 1 0 -4.6 0.4a2.3 1.7 175 1 0 4.6 -0.4zM95.6 7.0a2.1 1.9 52 1 0 2.6 3.3a2.1 1.9 52 1 0 -2.6 -3.3z"/>
<path fill="#504850" fill-opacity="0.85" d="M104.9 -2.4a2.3 1.4 36 1 0 3.7 2.7a2.3 1.4 36 1 0 -3.7 -2.7zM4.0 0.9a2.1 1.2 92 1 0 -0.2 4.2a2.1 1.2 92 1 0 0.2 -4.2zM61.8 10.4a2.1 1.2 101 1 0 -0.8 4.0a2.1 1.2 101 1 0 0.8 -4.0zM39.1 24.7a2.1 2.0 111 1 0 -1.5 3.9a2.1 2.0 111 1 0 1.5 -3.9zM105.8 24.3a2.1 1.4 153 1 0 -3.8 1.9a2.1 1.4 153 1 0 3.8 -1.9zM41.3 40.9a1.8 1.1 22 1 0 3.4 1.4a1.8 1.1 22 1 0 -3.4 -1.4zM152.4 47.6a2.2 1.6 113 1 0 -1.7 4.1a2.2 1.6 113 1 0 1.7 -4.1z"/>
<path fill="#485070" fill-opacity="0.88" d="M112.6 -3.7a1.7 1.0 117 1 0 -1.6 3.1a1.7 1.0 117 1 0 1.6 -3.1zM131.2 14.2a1.8 1.2 143 1 0 -2.8 2.1a1.8 1.2 143 1 0 2.8 -2.1zM113.9 24.0a2.0 1.3 24 1 0 3.6 1.7a2.0 1.3 24 1 0 -3.6 -1.7zM133.1 33.0a2.3 2.0 121 1 0 -2.4 4.0a2.3 2.0 121 1 0 2.4 -4.0zM106.4 36.9a2.0 1.2 159 1 0 -3.8 1.4a2.0 1.2 159 1 0 3.8 -1.4zM113.7 63.0a2.5 1.5 147 1 0 -4.2 2.7a2.5 1.5 147 1 0 4.2 -2.7zM9.8 67.7a2.1 1.4 85 1 0 0.4 4.1a2.1 1.4 85 1 0 -0.4 -4.1zM110.8 74.6a2.0 1.3 132 1 0 -2.7 2.9a2.0 1.3 132 1 0 2.7 -2.9zM134.6 75.0a2.0 1.2 159 1 0 -3.8 1.5a2.0 1.2 159 1 0 3.8 -1.5zM45.1 77.8a1.5 1.1 94 1 0 -0.2 3.0a1.5 1.1 94 1 0 0.2 -3.0zM104.4 87.4a2.6 1.5 53 1 0 3.1 4.1a2.6 1.5 53 1 0 -3.1 -4.1zM129.3 90.6a1.7 1.5 46 1 0 2.4 2.5a1.7 1.5 46 1 0 -2.4 -2.5zM32.4 105.8a1.7 1.6 136 1 0 -2.5 2.4a1.7 1.6 136 1 0 2.5 -2.4zM70.4 115.4a2.5 1.6 160 1 0 -4.7 1.7a2.5 1.6 160 1 0 4.7 -1.7zM130.1 74.3a2.0 1.6 96 1 0 -0.4 4.0a2.0 1.6 96 1 0 0.4 -4.0zM37.4 101.2a2.1 1.3 138 1 0 -3.2 2.9a2.1 1.3 138 1 0 3.2 -2.9z"/>
<path fill="#384058" fill-opacity="0.88" d="M124.0 -5.5a2.3 1.7 73 1 0 1.3 4.3a2.3 1.7 73 1 0 -1.3 -4.3zM141.6 3.8a2.2 1.7 89 1 0 0.1 4.5a2.2 1.7 89 1 0 -0.1 -4.5zM18.2 48.9a2.0 1.6 19 1 0 3.8 1.3a2.0 1.6 19 1 0 -3.8 -1.3zM-1.8 53.2a2.2 1.8 83 1 0 0.6 4.4a2.2 1.8 83 1 0 -0.6 -4.4zM128.1 53.8a2.6 2.0 166 1 0 -5.0 1.3a2.6 2.0 166 1 0 5.0 -1.3zM163.7 59.2a2.3 1.9 121 1 0 -2.4 4.0a2.3 1.9 121 1 0 2.4 -4.0zM153.1 73.4a2.4 2.0 22 1 0 4.4 1.8a2.4 2.0 22 1 0 -4.4 -1.8zM146.7 79.3a2.3 1.6 134 1 0 -3.2 3.3a2.3 1.6 134 1 0 3.2 -3.3zM30.6 84.5a2.2 2.1 164 1 0 -4.3 1.2a2.2 2.1 164 1 0 4.3 -1.2zM80.9 84.1a1.8 1.3 47 1 0 2.4 2.6a1.8 1.3 47 1 0 -2.4 -2.6zM80.9 93.3a2.0 1.4 107 1 0 -1.2 3.9a2.0 1.4 107 1 0 1.2 -3.9zM-2.0 100.0a1.8 1.4 21 1 0 3.3 1.3a1.8 1.4 21 1 0 -3.3 -1.3zM152.0 95.6a1.6 1.4 10 1 0 3.1 0.5a1.6 1.4 10 1 0 -3.1 -0.5zM53.9 120.4a2.6 2.1 103 1 0 -1.1 5.0a2.6 2.1 103 1 0 1.1 -5.0zM92.5 50.2a2.1 1.9 6 1 0 4.2 0.5a2.1 1.9 6 1 0 -4.2 -0.5zM66.5 52.8a1.9 1.5 123 1 0 -2.1 3.2a1.9 1.5 123 1 0 2.1 -3.2z"/>
<path fill="#585050" fill-opacity="0.85" d="M155.7 -5.5a2.4 1.8 108 1 0 -1.5 4.6a2.4 1.8 108 1 0 1.5 -4.6zM25.7 2.9a2.2 1.5 104 1 0 -1.1 4.3a2.2 1.5 104 1 0 1.1 -4.3zM140.7 -1.5a2.3 1.7 35 1 0 3.7 2.6a2.3 1.7 35 1 0 -3.7 -2.6zM151.9 3.7a1.7 1.4 26 1 0 3.1 1.5a1.7 1.4 26 1 0 -3.1 -1.5zM20.9 8.2a2.1 1.7 65 1 0 1.7 3.7a2.1 1.7 65 1 0 -1.7 -3.7zM112.9 14.9a1.9 1.3 78 1 0 0.8 3.8a1.9 1.3 78 1 0 -0.8 -3.8zM27.9 22.3a1.9 1.3 126 1 0 -2.3 3.1a1.9 1.3 126 1 0 2.3 -3.1zM43.1 24.1a2.3 1.6 148 1 0 -3.9 2.4a2.3 1.6 148 1 0 3.9 -2.4zM102.1 37.1a2.5 1.8 17 1 0 4.7 1.5a2.5 1.8 17 1 0 -4.7 -1.5zM138.0 36.9a1.9 1.4 162 1 0 -3.6 1.2a1.9 1.4 162 1 0 3.6 -1.2zM144.3 44.0a2.4 1.6 111 1 0 -1.7 4.4a2.4 1.6 111 1 0 1.7 -4.4zM8.8 63.8a1.7 1.2 138 1 0 -2.5 2.3a1.7 1.2 138 1 0 2.5 -2.3zM87.6 69.2a1.5 1.1 117 1 0 -1.4 2.7a1.5 1.1 117 1 0 1.4 -2.7zM106.5 74.1a2.4 1.6 171 1 0 -4.7 0.7a2.4 1.6 171 1 0 4.7 -0.7zM162.3 73.1a1.8 1.3 48 1 0 2.4 2.7a1.8 1.3 48 1 0 -2.4 -2.7zM100.0 103.5a2.1 1.6 120 1 0 -2.1 3.6a2.1 1.6 120 1 0 2.1 -3.6zM147.8 101.0a2.3 1.5 79 1 0 0.9 4.4a2.3 1.5 79 1 0 -0.9 -4.4zM157.0 116.6a1.6 1.5 112 1 0 -1.2 2.9a1.6 1.5 112 1 0 1.2 -2.9z"/>
<path fill="#484868" fill-opacity="0.88" d="M158.5 -2.7a2.6 1.9 122 1 0 -2.7 4.3a2.6 1.9 122 1 0 2.7 -4.3zM26.6 15.3a2.4 1.9 88 1 0 0.2 4.8a2.4 1.9 88 1 0 -0.2 -4.8zM32.8 11.0a1.7 1.2 63 1 0 1.5 3.0a1.7 1.2 63 1 0 -1.5 -3.0zM81.9 16.9a2.2 1.3 87 1 0 0.3 4.4a2.2 1.3 87 1 0 -0.3 -4.4zM88.5 25.2a1.6 1.5 91 1 0 -0.1 3.3a1.6 1.5 91 1 0 0.1 -3.3zM118.4 46.1a1.9 1.6 163 1 0 -3.7 1.1a1.9 1.6 163 1 0 3.7 -1.1zM6.5 54.7a2.2 1.7 52 1 0 2.8 3.5a2.2 1.7 52 1 0 -2.8 -3.5zM23.2 57.0a2.5 1.4 60 1 0 2.5 4.3a2.5 1.4 60 1 0 -2.5 -4.3zM146.2 53.0a1.9 1.2 143 1 0 -3.0 2.3a1.9 1.2 143 1 0 3.0 -2.3zM6.4 72.9a1.9 1.4 76 1 0 0.9 3.6a1.9 1.4 76 1 0 -0.9 -3.6zM76.7 77.8a2.2 1.8 55 1 0 2.5 3.6a2.2 1.8 55 1 0 -2.5 -3.6zM1.7 85.1a1.5 1.2 3 1 0 3.1 0.1a1.5 1.2 3 1 0 -3.1 -0.1zM118.3 87.0a1.9 1.3 136 1 0 -2.7 2.6a1.9 1.3 136 1 0 2.7 -2.6zM30.8 90.3a2.1 1.3 108 1 0 -1.3 3.9a2.1 1.3 108 1 0 1.3 -3.9zM101.7 94.3a1.9 1.4 172 1 0 -3.7 0.5a1.9 1.4 172 1 0 3.7 -0.5zM154.8 89.3a1.6 1.5 89 1 0 0.0 3.3a1.6 1.5 89 1 0 -0.0 -3.3zM7.3 96.9a2.1 1.3 125 1 0 -2.4 3.5a2.1 1.3 125 1 0 2.4 -3.5zM83.5 97.9a2.4 2.1 105 1 0 -1.2 4.6a2.4 2.1 105 1 0 1.2 -4.6zM13.8 107.5a2.5 2.2 151 1 0 -4.4 2.5a2.5 2.2 151 1 0 4.4 -2.5zM132.8 111.3a2.1 1.4 67 1 0 1.6 3.8a2.1 1.4 67 1 0 -1.6 -3.8zM5.1 113.9a2.0 1.7 132 1 0 -2.7 3.0a2.0 1.7 132 1 0 2.7 -3.0zM94.8 115.7a1.5 1.3 94 1 0 -0.2 3.0a1.5 1.3 94 1 0 0.2 -3.0zM16.1 67.5a2.1 1.9 14 1 0 4.0 1.0a2.1 1.9 14 1 0 -4.0 -1.0zM79.5 25.4a2.1 1.2 159 1 0 -4.0 1.5a2.1 1.2 159 1 0 4.0 -1.5zM104.8 95.4a2.2 1.9 7 1 0 4.4 0.5a2.2 1.9 7 1 0 -4.4 -0.5z"/>
<path fill="#584850" fill-opacity="0.85" d="M38.7 0.3a2.0 1.5 134 1 0 -2.8 2.8a2.0 1.5 134 1 0 2.8 -2.8zM6.1 12.0a1.5 1.0 139 1 0 -2.3 2.0a1.5 1.0 139 1 0 2.3 -2.0zM10.6 11.0a2.0 1.1 97 1 0 -0.5 4.1a2.0 1.1 97 1 0 0.5 -4.1zM119.2 14.6a2.4 1.9 82 1 0 0.7 4.7a2.4 1.9 82 1 0 -0.7 -4.7zM78.6 17.2a2.1 1.9 137 1 0 -3.0 2.8a2.1 1.9 137 1 0 3.0 -2.8zM13.2 24.2a1.9 1.2 28 1 0 3.3 1.8a1.9 1.2 28 1 0 -3.3 -1.8zM7.6 28.2a2.2 1.3 90 1 0 -0.0 4.4a2.2 1.3 90 1 0 0.0 -4.4zM154.7 36.0a2.2 1.3 64 1 0 2.0 4.0a2.2 1.3 64 1 0 -2.0 -4.0zM155.3 43.4a2.3 2.0 78 1 0 0.9 4.4a2.3 2.0 78 1 0 -0.9 -4.4zM3.1 52.4a1.9 1.4 103 1 0 -0.8 3.7a1.9 1.4 103 1 0 0.8 -3.7zM2.9 85.4a1.7 1.1 19 1 0 3.2 1.1a1.7 1.1 19 1 0 -3.2 -1.1zM152.1 85.3a1.5 0.8 33 1 0 2.5 1.6a1.5 0.8 33 1 0 -2.5 -1.6zM66.2 109.8a1.5 1.1 159 1 0 -2.8 1.1a1.5 1.1 159 1 0 2.8 -1.1zM36.8 114.9a2.0 1.5 79 1 0 0.8 4.0a2.0 1.5 79 1 0 -0.8 -4.0zM14.2 121.9a2.1 1.4 39 1 0 3.3 2.7a2.1 1.4 39 1 0 -3.3 -2.7zM152.3 122.5a2.0 1.4 55 1 0 2.3 3.3a2.0 1.4 55 1 0 -2.3 -3.3z"/>
<path fill="#687090" fill-opacity="0.75" d="M58.7 0.3a2.6 1.6 49 1 0 3.4 3.9a2.6 1.6 49 1 0 -3.4 -3.9zM115.1 3.1a2.3 2.0 5 1 0 4.5 0.4a2.3 2.0 5 1 0 -4.5 -0.4zM28.7 21.5a1.9 1.5 110 1 0 -1.3 3.5a1.9 1.5 110 1 0 1.3 -3.5zM44.2 18.0a2.4 2.1 14 1 0 4.6 1.1a2.4 2.1 14 1 0 -4.6 -1.1zM5.3 32.6a2.6 2.2 150 1 0 -4.5 2.6a2.6 2.2 150 1 0 4.5 -2.6zM21.5 31.2a2.2 2.1 130 1 0 -2.9 3.4a2.2 2.1 130 1 0 2.9 -3.4zM59.6 43.1a1.8 1.3 1 1 0 3.6 0.0a1.8 1.3 1 1 0 -3.6 -0.0zM122.9 45.0a1.9 1.2 163 1 0 -3.6 1.1a1.9 1.2 163 1 0 3.6 -1.1zM144.7 52.5a1.7 1.4 170 1 0 -3.3 0.6a1.7 1.4 170 1 0 3.3 -0.6zM111.9 58.2a2.0 1.6 158 1 0 -3.7 1.5a2.0 1.6 158 1 0 3.7 -1.5zM127.1 62.5a1.8 1.3 26 1 0 3.1 1.6a1.8 1.3 26 1 0 -3.1 -1.6zM32.3 70.8a2.0 1.2 10 1 0 3.9 0.7a2.0 1.2 10 1 0 -3.9 -0.7zM0.3 78.1a2.1 1.3 46 1 0 3.0 3.0a2.1 1.3 46 1 0 -3.0 -3.0zM51.7 77.0a2.6 1.7 148 1 0 -4.4 2.7a2.6 1.7 148 1 0 4.4 -2.7zM95.6 81.0a2.1 1.4 36 1 0 3.4 2.5a2.1 1.4 36 1 0 -3.4 -2.5zM110.3 80.0a1.8 1.1 20 1 0 3.4 1.3a1.8 1.1 20 1 0 -3.4 -1.3zM57.6 93.6a2.3 1.8 11 1 0 4.5 0.8a2.3 1.8 11 1 0 -4.5 -0.8zM98.9 96.1a2.3 2.1 64 1 0 2.0 4.1a2.3 2.1 64 1 0 -2.0 -4.1zM15.4 107.9a1.5 1.4 168 1 0 -2.9 0.6a1.5 1.4 168 1 0 2.9 -0.6zM47.8 107.3a1.9 1.2 74 1 0 1.1 3.6a1.9 1.2 74 1 0 -1.1 -3.6zM33.2 114.1a2.7 1.8 128 1 0 -3.3 4.2a2.7 1.8 128 1 0 3.3 -4.2zM131.1 120.8a2.4 1.5 34 1 0 4.0 2.6a2.4 1.5 34 1 0 -4.0 -2.6zM143.8 8.5a1.6 1.0 173 1 0 -3.1 0.4a1.6 1.0 173 1 0 3.1 -0.4z"/>
<path fill="#607090" fill-opacity="0.75" d="M65.1 0.9a2.3 1.5 55 1 0 2.7 3.9a2.3 1.5 55 1 0 -2.7 -3.9zM-4.6 22.4a1.7 1.3 3 1 0 3.4 0.2a1.7 1.3 3 1 0 -3.4 -0.2zM77.9 26.2a2.3 1.8 77 1 0 1.1 4.5a2.3 1.8 77 1 0 -1.1 -4.5zM151.5 33.5a1.9 1.2 71 1 0 1.2 3.7a1.9 1.2 71 1 0 -1.2 -3.7zM21.0 62.6a2.6 2.1 145 1 0 -4.3 3.0a2.6 2.1 145 1 0 4.3 -3.0zM11.3 74.7a2.4 1.6 115 1 0 -2.1 4.3a2.4 1.6 115 1 0 2.1 -4.3zM40.1 80.4a2.1 1.5 110 1 0 -1.5 4.0a2.1 1.5 110 1 0 1.5 -4.0zM50.8 95.8a2.6 2.0 95 1 0 -0.5 5.2a2.6 2.0 95 1 0 0.5 -5.2zM158.2 102.5a2.4 1.6 39 1 0 3.7 3.0a2.4 1.6 39 1 0 -3.7 -3.0zM32.0 111.5a1.9 1.5 60 1 0 1.9 3.2a1.9 1.5 60 1 0 -1.9 -3.2zM157.1 35.9a2.1 1.5 29 1 0 3.8 2.1a2.1 1.5 29 1 0 -3.8 -2.1zM119.5 13.6a2.0 1.8 68 1 0 1.5 3.7a2.0 1.8 68 1 0 -1.5 -3.7z"/>
<path fill="#404060" fill-opacity="0.88" d="M72.3 4.7a1.5 1.3 72 1 0 0.9 2.9a1.5 1.3 72 1 0 -0.9 -2.9zM159.6 -0.9a1.9 1.8 47 1 0 2.7 2.8a1.9 1.8 47 1 0 -2.7 -2.8zM121.0 7.6a2.0 1.3 158 1 0 -3.7 1.5a2.0 1.3 158 1 0 3.7 -1.5zM154.1 4.9a1.6 1.3 83 1 0 0.4 3.2a1.6 1.3 83 1 0 -0.4 -3.2zM29.3 26.7a2.4 1.4 150 1 0 -4.1 2.4a2.4 1.4 150 1 0 4.1 -2.4zM120.6 35.8a2.0 1.2 29 1 0 3.6 2.0a2.0 1.2 29 1 0 -3.6 -2.0zM131.0 37.9a2.5 1.8 78 1 0 1.1 4.9a2.5 1.8 78 1 0 -1.1 -4.9zM20.1 44.5a2.1 1.9 61 1 0 2.0 3.6a2.1 1.9 61 1 0 -2.0 -3.6zM5.5 47.1a2.1 1.2 126 1 0 -2.5 3.4a2.1 1.2 126 1 0 2.5 -3.4zM53.0 56.0a2.1 1.2 107 1 0 -1.2 4.1a2.1 1.2 107 1 0 1.2 -4.1zM149.2 59.4a1.7 1.5 65 1 0 1.4 3.0a1.7 1.5 65 1 0 -1.4 -3.0zM39.5 67.6a1.7 1.2 149 1 0 -2.9 1.7a1.7 1.2 149 1 0 2.9 -1.7zM98.2 70.8a1.8 1.2 30 1 0 3.2 1.8a1.8 1.2 30 1 0 -3.2 -1.8zM123.1 72.8a1.7 1.0 176 1 0 -3.4 0.2a1.7 1.0 176 1 0 3.4 -0.2zM145.7 79.9a2.0 1.2 173 1 0 -4.1 0.5a2.0 1.2 173 1 0 4.1 -0.5zM22.6 86.8a1.8 1.4 104 1 0 -0.9 3.4a1.8 1.4 104 1 0 0.9 -3.4zM130.2 85.8a2.4 1.6 121 1 0 -2.4 4.1a2.4 1.6 121 1 0 2.4 -4.1zM145.2 98.5a2.6 1.8 21 1 0 4.8 1.9a2.6 1.8 21 1 0 -4.8 -1.9zM117.1 104.4a2.5 1.7 81 1 0 0.8 4.9a2.5 1.7 81 1 0 -0.8 -4.9zM130.2 104.7a1.9 1.1 65 1 0 1.6 3.5a1.9 1.1 65 1 0 -1.6 -3.5zM-0.9 110.3a2.1 1.8 22 1 0 3.9 1.6a2.1 1.8 22 1 0 -3.9 -1.6zM6.5 110.5a1.7 1.4 165 1 0 -3.2 0.9a1.7 1.4 165 1 0 3.2 -0.9zM18.4 108.6a1.7 1.1 125 1 0 -1.9 2.7a1.7 1.1 125 1 0 1.9 -2.7zM67.0 112.5a2.1 1.5 118 1 0 -2.0 3.7a2.1 1.5 118 1 0 2.0 -3.7zM146.1 115.2a2.6 2.4 165 1 0 -4.9 1.3a2.6 2.4 165 1 0 4.9 -1.3zM17.4 99.0a1.5 1.0 154 1 0 -2.7 1.4a1.5 1.0 154 1 0 2.7 -1.4z"/>
<path fill="#485068" fill-opacity="0.88" d="M88.2 1.7a2.0 1.4 162 1 0 -3.8 1.3a2.0 1.4 162 1 0 3.8 -1.3zM103.1 7.9a1.7 1.0 53 1 0 2.1 2.8a1.7 1.0 53 1 0 -2.1 -2.8zM110.7 6.8a1.5 1.4 117 1 0 -1.4 2.7a1.5 1.4 117 1 0 1.4 -2.7zM126.9 9.7a2.4 1.5 104 1 0 -1.1 4.6a2.4 1.5 104 1 0 1.1 -4.6zM18.4 15.0a2.2 1.9 40 1 0 3.4 2.8a2.2 1.9 40 1 0 -3.4 -2.8zM159.1 11.9a1.6 0.9 48 1 0 2.2 2.4a1.6 0.9 48 1 0 -2.2 -2.4zM120.4 28.9a2.5 1.6 17 1 0 4.7 1.4a2.5 1.6 17 1 0 -4.7 -1.4zM149.3 26.3a1.7 1.4 27 1 0 3.0 1.5a1.7 1.4 27 1 0 -3.0 -1.5zM140.9 40.2a1.7 1.0 44 1 0 2.4 2.3a1.7 1.0 44 1 0 -2.4 -2.3zM90.4 46.1a1.9 1.3 1 1 0 3.8 0.1a1.9 1.3 1 1 0 -3.8 -0.1zM107.0 55.5a2.5 2.3 76 1 0 1.2 4.8a2.5 2.3 76 1 0 -1.2 -4.8zM15.7 65.2a1.6 1.5 38 1 0 2.5 2.0a1.6 1.5 38 1 0 -2.5 -2.0zM43.6 65.8a1.8 1.3 39 1 0 2.7 2.3a1.8 1.3 39 1 0 -2.7 -2.3zM78.7 64.8a2.5 2.2 21 1 0 4.7 1.8a2.5 2.2 21 1 0 -4.7 -1.8zM157.8 71.5a1.7 1.2 28 1 0 3.1 1.6a1.7 1.2 28 1 0 -3.1 -1.6zM24.5 77.2a2.2 1.9 64 1 0 1.9 3.9a2.2 1.9 64 1 0 -1.9 -3.9zM60.0 79.3a2.4 1.7 43 1 0 3.5 3.2a2.4 1.7 43 1 0 -3.5 -3.2zM80.8 88.2a1.6 1.2 163 1 0 -3.1 0.9a1.6 1.2 163 1 0 3.1 -0.9zM22.2 93.3a2.3 2.1 148 1 0 -4.0 2.5a2.3 2.1 148 1 0 4.0 -2.5zM49.8 89.0a2.6 2.4 78 1 0 1.0 5.1a2.6 2.4 78 1 0 -1.0 -5.1zM115.2 92.8a1.7 1.5 157 1 0 -3.0 1.3a1.7 1.5 157 1 0 3.0 -1.3zM44.4 94.1a2.5 2.2 83 1 0 0.6 4.9a2.5 2.2 83 1 0 -0.6 -4.9zM127.2 95.2a2.3 1.4 101 1 0 -0.9 4.6a2.3 1.4 101 1 0 0.9 -4.6zM136.2 102.6a2.5 2.2 22 1 0 4.6 1.8a2.5 2.2 22 1 0 -4.6 -1.8zM144.0 102.5a1.5 1.3 133 1 0 -2.1 2.2a1.5 1.3 133 1 0 2.1 -2.2zM138.7 112.2a1.7 1.0 23 1 0 3.2 1.3a1.7 1.0 23 1 0 -3.2 -1.3zM156.1 112.4a1.8 1.0 133 1 0 -2.4 2.6a1.8 1.0 133 1 0 2.4 -2.6zM114.7 115.7a1.8 1.5 5 1 0 3.6 0.3a1.8 1.5 5 1 0 -3.6 -0.3zM153.2 115.4a1.9 1.5 133 1 0 -2.7 2.9a1.9 1.5 133 1 0 2.7 -2.9zM127.8 97.6a2.5 2.1 4 1 0 5.0 0.4a2.5 2.1 4 1 0 -5.0 -0.4zM80.9 30.3a2.3 2.2 168 1 0 -4.5 0.9a2.3 2.2 168 1 0 4.5 -0.9zM88.8 59.4a2.5 2.0 31 1 0 4.3 2.6a2.5 2.0 31 1 0 -4.3 -2.6zM119.3 111.9a1.9 1.1 155 1 0 -3.5 1.6a1.9 1.1 155 1 0 3.5 -1.6z"/>
<path fill="#404868" fill-opacity="0.88" d="M92.2 -1.6a1.7 1.0 100 1 0 -0.6 3.3a1.7 1.0 100 1 0 0.6 -3.3zM121.8 13.9a2.4 1.8 38 1 0 3.8 2.9a2.4 1.8 38 1 0 -3.8 -2.9zM13.1 15.2a2.6 1.6 83 1 0 0.6 5.1a2.6 1.6 83 1 0 -0.6 -5.1zM44.5 26.2a2.1 1.8 27 1 0 3.7 1.9a2.1 1.8 27 1 0 -3.7 -1.9zM27.6 31.6a1.7 1.0 63 1 0 1.5 3.0a1.7 1.0 63 1 0 -1.5 -3.0zM59.5 33.8a2.3 2.0 179 1 0 -4.6 0.1a2.3 2.0 179 1 0 4.6 -0.1zM110.1 31.7a2.5 2.2 57 1 0 2.8 4.3a2.5 2.2 57 1 0 -2.8 -4.3zM14.3 36.9a2.2 2.1 130 1 0 -2.9 3.4a2.2 2.1 130 1 0 2.9 -3.4zM18.6 37.0a2.5 1.9 89 1 0 0.1 5.1a2.5 1.9 89 1 0 -0.1 -5.1zM86.5 36.0a2.2 1.5 57 1 0 2.4 3.7a2.2 1.5 57 1 0 -2.4 -3.7zM116.7 38.2a2.4 1.4 156 1 0 -4.4 1.9a2.4 1.4 156 1 0 4.4 -1.9zM-1.6 39.9a2.5 1.5 85 1 0 0.5 5.0a2.5 1.5 85 1 0 -0.5 -5.0zM-2.2 51.2a1.6 1.3 78 1 0 0.7 3.2a1.6 1.3 78 1 0 -0.7 -3.2zM69.4 57.1a2.2 2.1 108 1 0 -1.4 4.2a2.2 2.1 108 1 0 1.4 -4.2zM87.9 54.7a1.8 1.4 158 1 0 -3.4 1.4a1.8 1.4 158 1 0 3.4 -1.4zM58.1 62.4a2.1 1.5 33 1 0 3.6 2.3a2.1 1.5 33 1 0 -3.6 -2.3zM50.5 71.6a2.0 1.6 164 1 0 -3.9 1.1a2.0 1.6 164 1 0 3.9 -1.1zM29.9 81.3a1.6 1.2 1 1 0 3.1 0.1a1.6 1.2 1 1 0 -3.1 -0.1zM103.6 82.0a1.7 1.4 47 1 0 2.3 2.5a1.7 1.4 47 1 0 -2.3 -2.5zM131.0 79.9a1.7 1.0 100 1 0 -0.6 3.4a1.7 1.0 100 1 0 0.6 -3.4zM40.2 85.1a1.8 1.1 55 1 0 2.0 2.9a1.8 1.1 55 1 0 -2.0 -2.9zM57.2 83.3a2.6 1.5 108 1 0 -1.6 4.9a2.6 1.5 108 1 0 1.6 -4.9zM70.2 84.7a2.3 1.5 6 1 0 4.5 0.5a2.3 1.5 6 1 0 -4.5 -0.5zM46.7 91.1a1.8 1.4 119 1 0 -1.7 3.1a1.8 1.4 119 1 0 1.7 -3.1zM123.6 89.8a1.9 1.6 159 1 0 -3.6 1.4a1.9 1.6 159 1 0 3.6 -1.4zM92.8 99.7a2.1 1.5 148 1 0 -3.5 2.2a2.1 1.5 148 1 0 3.5 -2.2zM4.5 102.5a2.6 1.6 96 1 0 -0.6 5.1a2.6 1.6 96 1 0 0.6 -5.1zM10.4 120.8a2.2 1.5 174 1 0 -4.3 0.5a2.2 1.5 174 1 0 4.3 -0.5zM10.4 120.1a2.6 2.3 105 1 0 -1.3 5.0a2.6 2.3 105 1 0 1.3 -5.0zM116.8 120.9a1.6 1.0 116 1 0 -1.4 2.9a1.6 1.0 116 1 0 1.4 -2.9zM80.6 64.2a2.1 1.9 88 1 0 0.1 4.3a2.1 1.9 88 1 0 -0.1 -4.3z"/>
<path fill="#484870" fill-opacity="0.88" d="M92.3 5.1a2.4 1.8 23 1 0 4.5 1.9a2.4 1.8 23 1 0 -4.5 -1.9zM115.4 66.2a1.6 1.2 58 1 0 1.7 2.8a1.6 1.2 58 1 0 -1.7 -2.8zM100.4 113.7a1.8 1.1 115 1 0 -1.5 3.2a1.8 1.1 115 1 0 1.5 -3.2z"/>
<path fill="#687098" fill-opacity="0.75" d="M104.7 3.2a2.2 2.0 130 1 0 -2.9 3.4a2.2 2.0 130 1 0 2.9 -3.4zM80.9 11.0a2.0 1.8 151 1 0 -3.5 2.0a2.0 1.8 151 1 0 3.5 -2.0zM89.5 7.7a2.3 1.8 106 1 0 -1.3 4.5a2.3 1.8 106 1 0 1.3 -4.5zM117.6 17.7a1.8 1.6 104 1 0 -0.9 3.6a1.8 1.6 104 1 0 0.9 -3.6zM9.9 24.8a1.9 1.4 169 1 0 -3.8 0.7a1.9 1.4 169 1 0 3.8 -0.7zM37.1 31.7a2.4 1.5 17 1 0 4.6 1.4a2.4 1.5 17 1 0 -4.6 -1.4zM126.9 39.8a1.6 1.1 29 1 0 2.8 1.5a1.6 1.1 29 1 0 -2.8 -1.5zM110.8 43.5a1.5 1.4 6 1 0 3.0 0.3a1.5 1.4 6 1 0 -3.0 -0.3zM31.5 52.8a2.4 1.5 64 1 0 2.1 4.3a2.4 1.5 64 1 0 -2.1 -4.3zM157.7 58.3a1.7 1.2 27 1 0 3.0 1.6a1.7 1.2 27 1 0 -3.0 -1.6zM88.4 63.5a2.2 1.3 57 1 0 2.3 3.6a2.2 1.3 57 1 0 -2.3 -3.6zM142.9 60.2a2.2 1.5 70 1 0 1.5 4.2a2.2 1.5 70 1 0 -1.5 -4.2zM140.7 64.5a2.0 1.2 38 1 0 3.2 2.5a2.0 1.2 38 1 0 -3.2 -2.5zM39.0 72.5a1.6 1.2 127 1 0 -2.0 2.6a1.6 1.2 127 1 0 2.0 -2.6zM88.3 79.6a1.9 1.1 93 1 0 -0.2 3.8a1.9 1.1 93 1 0 0.2 -3.8zM125.9 81.0a2.1 1.4 143 1 0 -3.3 2.4a2.1 1.4 143 1 0 3.3 -2.4zM27.7 90.0a2.5 2.2 37 1 0 4.0 3.1a2.5 2.2 37 1 0 -4.0 -3.1zM16.8 99.0a2.6 2.0 18 1 0 4.9 1.6a2.6 2.0 18 1 0 -4.9 -1.6zM6.2 102.8a2.6 1.5 68 1 0 1.9 4.9a2.6 1.5 68 1 0 -1.9 -4.9zM58.2 101.3a2.3 1.7 65 1 0 2.0 4.2a2.3 1.7 65 1 0 -2.0 -4.2zM102.7 108.6a2.1 1.9 147 1 0 -3.5 2.3a2.1 1.9 147 1 0 3.5 -2.3zM17.7 113.1a2.3 2.1 128 1 0 -2.9 3.7a2.3 2.1 128 1 0 2.9 -3.7zM50.8 118.4a2.0 1.9 15 1 0 3.8 1.0a2.0 1.9 15 1 0 -3.8 -1.0zM133.2 117.6a2.5 2.2 54 1 0 2.9 4.0a2.5 2.2 54 1 0 -2.9 -4.0zM70.5 120.3a1.6 1.4 92 1 0 -0.1 3.1a1.6 1.4 92 1 0 0.1 -3.1zM148.6 118.6a2.5 1.7 97 1 0 -0.6 5.0a2.5 1.7 97 1 0 0.6 -5.0zM33.0 42.5a1.9 1.6 17 1 0 3.6 1.1a1.9 1.6 17 1 0 -3.6 -1.1zM63.6 110.6a2.6 1.7 164 1 0 -5.0 1.4a2.6 1.7 164 1 0 5.0 -1.4zM155.3 88.4a1.6 1.4 131 1 0 -2.2 2.5a1.6 1.4 131 1 0 2.2 -2.5zM133.2 117.1a2.0 1.8 170 1 0 -3.9 0.7a2.0 1.8 170 1 0 3.9 -0.7z"/>
<path fill="#606890" fill-opacity="0.75" d="M117.5 -1.7a2.4 2.2 129 1 0 -3.1 3.7a2.4 2.2 129 1 0 3.1 -3.7zM5.7 11.2a2.5 1.4 171 1 0 -4.9 0.8a2.5 1.4 171 1 0 4.9 -0.8zM64.9 20.1a2.4 2.0 109 1 0 -1.5 4.6a2.4 2.0 109 1 0 1.5 -4.6zM126.9 18.4a2.4 2.3 91 1 0 -0.0 4.8a2.4 2.3 91 1 0 0.0 -4.8zM37.8 39.5a1.6 1.5 175 1 0 -3.1 0.3a1.6 1.5 175 1 0 3.1 -0.3zM76.8 41.4a2.3 1.5 129 1 0 -2.9 3.6a2.3 1.5 129 1 0 2.9 -3.6zM80.1 47.5a1.8 1.6 6 1 0 3.6 0.4a1.8 1.6 6 1 0 -3.6 -0.4zM97.7 46.6a2.0 1.4 2 1 0 4.0 0.2a2.0 1.4 2 1 0 -4.0 -0.2zM132.0 44.3a2.4 2.1 160 1 0 -4.5 1.7a2.4 2.1 160 1 0 4.5 -1.7zM32.3 47.2a1.6 1.1 166 1 0 -3.1 0.8a1.6 1.1 166 1 0 3.1 -0.8zM107.1 49.0a2.2 1.6 68 1 0 1.7 4.1a2.2 1.6 68 1 0 -1.7 -4.1zM161.2 52.0a1.8 1.7 158 1 0 -3.3 1.3a1.8 1.7 158 1 0 3.3 -1.3zM27.0 59.4a2.0 1.7 137 1 0 -2.9 2.7a2.0 1.7 137 1 0 2.9 -2.7zM35.2 61.6a2.1 1.5 80 1 0 0.7 4.2a2.1 1.5 80 1 0 -0.7 -4.2zM120.0 62.8a2.3 1.8 116 1 0 -2.0 4.1a2.3 1.8 116 1 0 2.0 -4.1zM3.9 69.1a2.4 2.0 160 1 0 -4.6 1.7a2.4 2.0 160 1 0 4.6 -1.7zM127.5 65.3a2.1 1.8 60 1 0 2.2 3.7a2.1 1.8 60 1 0 -2.2 -3.7zM123.4 70.1a2.4 1.5 76 1 0 1.2 4.6a2.4 1.5 76 1 0 -1.2 -4.6zM153.0 79.6a2.0 1.6 80 1 0 0.7 3.9a2.0 1.6 80 1 0 -0.7 -3.9zM36.8 87.1a1.9 1.7 68 1 0 1.4 3.5a1.9 1.7 68 1 0 -1.4 -3.5zM8.8 90.3a1.7 1.2 109 1 0 -1.1 3.3a1.7 1.2 109 1 0 1.1 -3.3zM139.0 97.6a2.1 1.4 84 1 0 0.5 4.2a2.1 1.4 84 1 0 -0.5 -4.2zM52.0 103.1a2.1 1.8 51 1 0 2.6 3.2a2.1 1.8 51 1 0 -2.6 -3.2zM25.2 106.8a2.0 1.7 103 1 0 -0.9 3.9a2.0 1.7 103 1 0 0.9 -3.9zM53.4 111.1a2.5 1.8 110 1 0 -1.7 4.8a2.5 1.8 110 1 0 1.7 -4.8zM70.9 108.7a2.7 1.5 78 1 0 1.2 5.2a2.7 1.5 78 1 0 -1.2 -5.2zM88.3 106.8a2.4 1.5 106 1 0 -1.4 4.6a2.4 1.5 106 1 0 1.4 -4.6zM43.0 112.4a2.0 1.3 40 1 0 3.0 2.5a2.0 1.3 40 1 0 -3.0 -2.5zM21.1 124.5a2.5 2.0 10 1 0 4.9 0.8a2.5 2.0 10 1 0 -4.9 -0.8zM58.1 120.6a1.7 1.4 74 1 0 0.9 3.2a1.7 1.4 74 1 0 -0.9 -3.2zM12.4 89.2a1.5 0.9 176 1 0 -3.1 0.2a1.5 0.9 176 1 0 3.1 -0.2zM19.4 48.3a1.9 1.5 3 1 0 3.9 0.2a1.9 1.5 3 1 0 -3.9 -0.2zM124.5 81.6a1.9 1.1 102 1 0 -0.8 3.8a1.9 1.1 102 1 0 0.8 -3.8zM7.0 60.6a1.7 0.9 147 1 0 -2.8 1.8a1.7 0.9 147 1 0 2.8 -1.8zM71.1 75.6a2.4 1.5 30 1 0 4.1 2.3a2.4 1.5 30 1 0 -4.1 -2.3zM144.1 37.9a1.7 1.0 52 1 0 2.1 2.6a1.7 1.0 52 1 0 -2.1 -2.6zM136.1 58.5a2.3 1.6 111 1 0 -1.6 4.2a2.3 1.6 111 1 0 1.6 -4.2z"/>
<path fill="#585058" fill-opacity="0.85" d="M135.7 3.3a2.4 2.1 143 1 0 -3.8 2.9a2.4 2.1 143 1 0 3.8 -2.9zM93.2 17.1a2.2 1.4 64 1 0 1.9 4.0a2.2 1.4 64 1 0 -1.9 -4.0zM123.1 19.8a1.6 1.2 160 1 0 -3.0 1.1a1.6 1.2 160 1 0 3.0 -1.1zM146.4 22.5a2.0 1.8 12 1 0 4.0 0.9a2.0 1.8 12 1 0 -4.0 -0.9zM3.9 27.9a2.2 1.7 179 1 0 -4.4 0.1a2.2 1.7 179 1 0 4.4 -0.1zM142.3 26.2a1.8 1.6 43 1 0 2.7 2.5a1.8 1.6 43 1 0 -2.7 -2.5zM158.4 27.0a2.3 1.4 77 1 0 1.0 4.6a2.3 1.4 77 1 0 -1.0 -4.6zM150.9 49.8a2.2 1.9 22 1 0 4.0 1.6a2.2 1.9 22 1 0 -4.0 -1.6zM160.8 108.5a2.4 2.2 109 1 0 -1.6 4.5a2.4 2.2 109 1 0 1.6 -4.5z"/>
<path fill="#7080a0" fill-opacity="0.75" d="M138.9 2.6a2.4 1.8 102 1 0 -1.0 4.7a2.4 1.8 102 1 0 1.0 -4.7z"/>
<path fill="#605058" fill-opacity="0.85" d="M155.3 2.2a1.9 1.6 23 1 0 3.6 1.5a1.9 1.6 23 1 0 -3.6 -1.5zM101.9 6.9a2.4 2.3 151 1 0 -4.3 2.4a2.4 2.3 151 1 0 4.3 -2.4zM107.2 11.0a2.1 1.2 151 1 0 -3.6 2.0a2.1 1.2 151 1 0 3.6 -2.0zM142.0 17.3a1.9 1.4 10 1 0 3.7 0.7a1.9 1.4 10 1 0 -3.7 -0.7zM7.2 16.7a1.9 1.8 20 1 0 3.6 1.4a1.9 1.8 20 1 0 -3.6 -1.4zM64.9 33.4a2.4 1.5 72 1 0 1.5 4.6a2.4 1.5 72 1 0 -1.5 -4.6zM81.1 30.6a1.7 1.4 74 1 0 1.0 3.3a1.7 1.4 74 1 0 -1.0 -3.3zM100.6 32.6a1.8 1.3 162 1 0 -3.3 1.1a1.8 1.3 162 1 0 3.3 -1.1zM43.2 59.6a2.2 1.5 115 1 0 -1.9 3.9a2.2 1.5 115 1 0 1.9 -3.9zM96.0 92.7a1.8 1.3 138 1 0 -2.7 2.4a1.8 1.3 138 1 0 2.7 -2.4z"/>
<path fill="#687898" fill-opacity="0.75" d="M17.5 6.6a1.8 1.4 109 1 0 -1.2 3.4a1.8 1.4 109 1 0 1.2 -3.4zM0.7 20.9a1.7 1.5 47 1 0 2.3 2.5a1.7 1.5 47 1 0 -2.3 -2.5zM115.3 15.9a2.4 1.5 112 1 0 -1.8 4.5a2.4 1.5 112 1 0 1.8 -4.5zM86.0 36.2a1.9 1.1 149 1 0 -3.3 2.0a1.9 1.1 149 1 0 3.3 -2.0zM12.6 44.7a2.6 1.6 160 1 0 -4.8 1.7a2.6 1.6 160 1 0 4.8 -1.7zM34.9 59.2a2.3 1.5 138 1 0 -3.4 3.1a2.3 1.5 138 1 0 3.4 -3.1zM140.4 74.2a1.6 1.2 65 1 0 1.3 2.9a1.6 1.2 65 1 0 -1.3 -2.9zM63.8 99.5a2.3 1.4 69 1 0 1.6 4.2a2.3 1.4 69 1 0 -1.6 -4.2zM124.8 4.3a2.6 2.1 14 1 0 5.0 1.2a2.6 2.1 14 1 0 -5.0 -1.2zM54.1 53.2a2.3 1.3 25 1 0 4.2 2.0a2.3 1.3 25 1 0 -4.2 -2.0zM132.0 6.6a2.3 1.9 51 1 0 2.8 3.5a2.3 1.9 51 1 0 -2.8 -3.5z"/>
<path fill="#404058" fill-opacity="0.88" d="M68.9 7.9a1.6 1.0 46 1 0 2.3 2.3a1.6 1.0 46 1 0 -2.3 -2.3zM72.9 16.7a2.2 1.6 154 1 0 -4.0 1.9a2.2 1.6 154 1 0 4.0 -1.9z"/>
<path fill="#505070" fill-opacity="0.88" d="M122.1 5.8a2.5 1.8 24 1 0 4.5 2.0a2.5 1.8 24 1 0 -4.5 -2.0zM137.6 27.6a1.6 1.0 13 1 0 3.1 0.7a1.6 1.0 13 1 0 -3.1 -0.7zM4.5 37.3a1.9 1.4 115 1 0 -1.6 3.4a1.9 1.4 115 1 0 1.6 -3.4zM54.6 50.1a1.7 1.3 13 1 0 3.4 0.8a1.7 1.3 13 1 0 -3.4 -0.8zM33.5 105.6a2.4 2.0 103 1 0 -1.1 4.6a2.4 2.0 103 1 0 1.1 -4.6zM60.5 88.8a1.9 1.6 20 1 0 3.6 1.3a1.9 1.6 20 1 0 -3.6 -1.3z"/>
<path fill="#384860" fill-opacity="0.88" d="M156.4 8.0a2.3 1.4 54 1 0 2.7 3.8a2.3 1.4 54 1 0 -2.7 -3.8zM69.9 20.1a2.0 1.4 174 1 0 -4.0 0.4a2.0 1.4 174 1 0 4.0 -0.4zM14.1 44.8a1.9 1.7 103 1 0 -0.9 3.8a1.9 1.7 103 1 0 0.9 -3.8zM26.6 102.4a1.7 1.5 58 1 0 1.8 2.8a1.7 1.5 58 1 0 -1.8 -2.8z"/>
<path fill="#504848" fill-opacity="0.85" d="M41.9 15.6a1.9 1.5 84 1 0 0.4 3.8a1.9 1.5 84 1 0 -0.4 -3.8z"/>
<path fill="#505050" fill-opacity="0.85" d="M87.7 15.6a1.8 1.0 63 1 0 1.7 3.2a1.8 1.0 63 1 0 -1.7 -3.2z"/>
<path fill="#7070a0" fill-opacity="0.75" d="M137.5 15.9a2.1 1.5 64 1 0 1.8 3.7a2.1 1.5 64 1 0 -1.8 -3.7z"/>
<path fill="#383858" fill-opacity="0.88" d="M147.9 16.9a1.9 1.5 20 1 0 3.6 1.3a1.9 1.5 20 1 0 -3.6 -1.3z"/>
<path fill="#606090" fill-opacity="0.75" d="M38.3 20.0a2.3 2.1 29 1 0 4.0 2.2a2.3 2.1 29 1 0 -4.0 -2.2zM142.4 50.9a1.9 1.5 174 1 0 -3.8 0.4a1.9 1.5 174 1 0 3.8 -0.4z"/>
<path fill="#584848" fill-opacity="0.85" d="M137.1 21.8a2.4 1.6 52 1 0 2.9 3.7a2.4 1.6 52 1 0 -2.9 -3.7z"/>
<path fill="#605050" fill-opacity="0.85" d="M154.8 17.3a2.4 1.5 36 1 0 3.8 2.8a2.4 1.5 36 1 0 -3.8 -2.8zM160.5 29.9a2.1 1.2 137 1 0 -3.0 2.8a2.1 1.2 137 1 0 3.0 -2.8zM133.5 92.6a1.8 1.4 5 1 0 3.5 0.3a1.8 1.4 5 1 0 -3.5 -0.3z"/>
<path fill="#505068" fill-opacity="0.88" d="M55.9 25.7a2.0 1.9 20 1 0 3.8 1.3a2.0 1.9 20 1 0 -3.8 -1.3zM81.4 49.9a1.9 1.1 142 1 0 -2.9 2.3a1.9 1.1 142 1 0 2.9 -2.3zM12.8 63.6a1.9 1.5 54 1 0 2.2 3.0a1.9 1.5 54 1 0 -2.2 -3.0zM151.9 71.8a2.2 1.3 114 1 0 -1.8 4.0a2.2 1.3 114 1 0 1.8 -4.0zM-1.3 89.7a2.3 1.5 6 1 0 4.5 0.5a2.3 1.5 6 1 0 -4.5 -0.5zM25.3 108.0a2.3 1.7 166 1 0 -4.4 1.1a2.3 1.7 166 1 0 4.4 -1.1z"/>
<path fill="#405068" fill-opacity="0.88" d="M33.0 31.9a2.5 2.1 132 1 0 -3.4 3.7a2.5 2.1 132 1 0 3.4 -3.7zM44.5 46.3a1.9 1.5 69 1 0 1.4 3.6a1.9 1.5 69 1 0 -1.4 -3.6zM133.6 43.3a2.1 1.3 90 1 0 -0.0 4.2a2.1 1.3 90 1 0 0.0 -4.2zM145.2 43.4a2.4 1.5 102 1 0 -1.0 4.6a2.4 1.5 102 1 0 1.0 -4.6zM75.8 119.7a2.4 2.0 43 1 0 3.5 3.3a2.4 2.0 43 1 0 -3.5 -3.3z"/>
<path fill="#485060" fill-opacity="0.88" d="M93.1 32.6a1.5 0.9 124 1 0 -1.7 2.5a1.5 0.9 124 1 0 1.7 -2.5z"/>
<path fill="#707098" fill-opacity="0.75" d="M116.9 33.3a2.3 1.5 14 1 0 4.5 1.1a2.3 1.5 14 1 0 -4.5 -1.1zM9.3 51.7a2.2 2.0 48 1 0 3.0 3.3a2.2 2.0 48 1 0 -3.0 -3.3zM28.0 66.3a2.3 2.0 94 1 0 -0.3 4.5a2.3 2.0 94 1 0 0.3 -4.5zM85.0 71.4a1.6 1.5 43 1 0 2.4 2.2a1.6 1.5 43 1 0 -2.4 -2.2zM35.8 121.5a1.6 1.4 141 1 0 -2.5 2.1a1.6 1.4 141 1 0 2.5 -2.1zM45.4 121.2a1.8 1.0 57 1 0 2.0 3.0a1.8 1.0 57 1 0 -2.0 -3.0zM91.7 5.5a1.6 1.3 160 1 0 -3.0 1.1a1.6 1.3 160 1 0 3.0 -1.1z"/>
<path fill="#606088" fill-opacity="0.75" d="M33.5 35.8a1.9 1.5 154 1 0 -3.4 1.7a1.9 1.5 154 1 0 3.4 -1.7z"/>
<path fill="#485870" fill-opacity="0.88" d="M154.2 39.2a2.4 1.9 168 1 0 -4.7 1.0a2.4 1.9 168 1 0 4.7 -1.0z"/>
<path fill="#605860" fill-opacity="0.85" d="M162.0 36.8a1.9 1.4 20 1 0 3.5 1.3a1.9 1.4 20 1 0 -3.5 -1.3zM21.9 68.6a1.6 1.2 177 1 0 -3.2 0.1a1.6 1.2 177 1 0 3.2 -0.1zM77.3 73.1a2.4 2.1 101 1 0 -0.9 4.7a2.4 2.1 101 1 0 0.9 -4.7zM95.7 -0.3a1.5 0.9 127 1 0 -1.8 2.4a1.5 0.9 127 1 0 1.8 -2.4z"/>
<path fill="#687890" fill-opacity="0.75" d="M66.2 44.9a2.3 1.4 69 1 0 1.6 4.3a2.3 1.4 69 1 0 -1.6 -4.3z"/>
<path fill="#586088" fill-opacity="0.75" d="M60.3 50.0a2.1 1.4 35 1 0 3.4 2.4a2.1 1.4 35 1 0 -3.4 -2.4z"/>
<path fill="#484860" fill-opacity="0.88" d="M45.2 54.1a1.5 1.3 133 1 0 -2.1 2.2a1.5 1.3 133 1 0 2.1 -2.2zM42.2 103.5a2.4 2.3 38 1 0 3.7 2.9a2.4 2.3 38 1 0 -3.7 -2.9zM91.0 103.6a2.2 1.3 170 1 0 -4.4 0.8a2.2 1.3 170 1 0 4.4 -0.8zM151.4 27.4a2.3 1.8 125 1 0 -2.6 3.8a2.3 1.8 125 1 0 2.6 -3.8zM6.0 36.2a2.1 1.9 142 1 0 -3.3 2.6a2.1 1.9 142 1 0 3.3 -2.6z"/>
<path fill="#687088" fill-opacity="0.75" d="M95.0 58.8a2.3 2.0 30 1 0 4.0 2.3a2.3 2.0 30 1 0 -4.0 -2.3z"/>
<path fill="#6878a0" fill-opacity="0.75" d="M116.3 58.5a1.5 1.0 42 1 0 2.2 2.0a1.5 1.0 42 1 0 -2.2 -2.0z"/>
<path fill="#708098" fill-opacity="0.75" d="M132.8 58.4a2.4 2.1 134 1 0 -3.3 3.4a2.4 2.1 134 1 0 3.3 -3.4z"/>
<path fill="#404858" fill-opacity="0.88" d="M138.6 75.3a2.5 1.7 155 1 0 -4.6 2.1a2.5 1.7 155 1 0 4.6 -2.1z"/>
<path fill="#7878a0" fill-opacity="0.75" d="M9.5 82.9a2.4 2.3 60 1 0 2.5 4.2a2.4 2.3 60 1 0 -2.5 -4.2zM73.2 90.4a2.4 1.5 40 1 0 3.6 3.0a2.4 1.5 40 1 0 -3.6 -3.0z"/>
<path fill="#586890" fill-opacity="0.75" d="M69.5 84.9a1.9 1.5 129 1 0 -2.3 2.9a1.9 1.5 129 1 0 2.3 -2.9z"/>
<path fill="#384858" fill-opacity="0.88" d="M12.4 92.4a2.4 1.8 55 1 0 2.8 3.9a2.4 1.8 55 1 0 -2.8 -3.9z"/>
<path fill="#404068" fill-opacity="0.88" d="M54.0 115.9a2.3 1.6 13 1 0 4.5 1.1a2.3 1.6 13 1 0 -4.5 -1.1z"/>
<path fill="#505870" fill-opacity="0.88" d="M147.0 116.3a2.1 1.8 144 1 0 -3.5 2.6a2.1 1.8 144 1 0 3.5 -2.6z"/>
<path fill="#607098" fill-opacity="0.75" d="M43.7 119.6a2.4 2.0 106 1 0 -1.3 4.6a2.4 2.0 106 1 0 1.3 -4.6z"/>
<path fill="#586888" fill-opacity="0.75" d="M62.0 41.6a2.5 1.4 143 1 0 -4.0 3.0a2.5 1.4 143 1 0 4.0 -3.0z"/>
</g>
</svg>
<svg x="394.2" y="695.1" width="161.8" height="120.4" viewBox="0 0 161.8 120.4" overflow="hidden">
<rect width="161.8" height="120.4" fill="#c6d0e4"/>
<g filter="url(#ib2)">
<ellipse cx="91.3" cy="51.7" rx="12.3" ry="11.1" fill="#c6d2e4" fill-opacity="0.6"/>
<ellipse cx="71.7" cy="21.3" rx="13.2" ry="10.5" fill="#c6d2e4" fill-opacity="0.6"/>
<ellipse cx="55.2" cy="35.6" rx="14.8" ry="9.1" fill="#c6d2e4" fill-opacity="0.6"/>
<ellipse cx="90.0" cy="65.4" rx="12.4" ry="11.4" fill="#c6d2e4" fill-opacity="0.6"/>
<ellipse cx="59.3" cy="100.5" rx="11.3" ry="13.0" fill="#c6d2e4" fill-opacity="0.6"/>
<ellipse cx="108.3" cy="35.7" rx="13.0" ry="17.1" fill="#c6d2e4" fill-opacity="0.6"/>
<ellipse cx="57.5" cy="29.4" rx="10.0" ry="11.5" fill="#c6d2e4" fill-opacity="0.6"/>
<ellipse cx="6.2" cy="47.9" rx="15.6" ry="14.0" fill="#c6d2e4" fill-opacity="0.6"/>
<ellipse cx="88.2" cy="15.1" rx="10.5" ry="16.7" fill="#c6d2e4" fill-opacity="0.6"/>
<ellipse cx="14.1" cy="6.3" rx="15.3" ry="9.1" fill="#c6d2e4" fill-opacity="0.6"/>
<ellipse cx="127.0" cy="54.2" rx="8.3" ry="10.6" fill="#c6d2e4" fill-opacity="0.6"/>
<ellipse cx="86.8" cy="23.3" rx="12.8" ry="9.9" fill="#c6d2e4" fill-opacity="0.6"/>
<ellipse cx="39.4" cy="63.9" rx="12.5" ry="15.6" fill="#c6d2e4" fill-opacity="0.6"/>
<ellipse cx="55.0" cy="26.5" rx="15.0" ry="12.3" fill="#c6d2e4" fill-opacity="0.6"/>
<ellipse cx="91.3" cy="90.3" rx="10.2" ry="9.5" fill="#c6d2e4" fill-opacity="0.6"/>
<ellipse cx="33.0" cy="117.3" rx="9.1" ry="9.3" fill="#c6d2e4" fill-opacity="0.6"/>
<ellipse cx="68.2" cy="29.5" rx="13.8" ry="13.5" fill="#c6d2e4" fill-opacity="0.6"/>
<ellipse cx="114.9" cy="28.1" rx="11.6" ry="8.0" fill="#c6d2e4" fill-opacity="0.6"/>
<ellipse cx="68.2" cy="16.8" rx="13.2" ry="10.4" fill="#c6d2e4" fill-opacity="0.6"/>
<ellipse cx="24.4" cy="109.0" rx="11.6" ry="15.5" fill="#c6d2e4" fill-opacity="0.6"/>
<ellipse cx="100.2" cy="45.3" rx="15.9" ry="11.4" fill="#c6d2e4" fill-opacity="0.6"/>
<ellipse cx="89.8" cy="22.7" rx="12.3" ry="13.0" fill="#c6d2e4" fill-opacity="0.6"/>
<ellipse cx="82.9" cy="61.2" rx="16.0" ry="14.4" fill="#c6d2e4" fill-opacity="0.6"/>
<ellipse cx="91.1" cy="6.8" rx="14.2" ry="15.2" fill="#c6d2e4" fill-opacity="0.6"/>
<ellipse cx="130.5" cy="72.5" rx="15.8" ry="13.8" fill="#c6d2e4" fill-opacity="0.6"/>
<ellipse cx="112.0" cy="32.6" rx="16.8" ry="12.4" fill="#c6d2e4" fill-opacity="0.6"/>
<ellipse cx="25.2" cy="69.1" rx="13.8" ry="14.9" fill="#c6d2e4" fill-opacity="0.6"/>
<ellipse cx="47.7" cy="67.4" rx="12.2" ry="14.5" fill="#c6d2e4" fill-opacity="0.6"/>
<ellipse cx="75.6" cy="50.8" rx="11.7" ry="12.1" fill="#c6d2e4" fill-opacity="0.6"/>
<ellipse cx="77.6" cy="8.2" rx="16.4" ry="11.5" fill="#c6d2e4" fill-opacity="0.6"/>
<ellipse cx="72.6" cy="52.8" rx="9.9" ry="10.8" fill="#c6d2e4" fill-opacity="0.6"/>
<ellipse cx="47.4" cy="70.7" rx="8.9" ry="13.7" fill="#c6d2e4" fill-opacity="0.6"/>
<ellipse cx="75.2" cy="42.3" rx="8.2" ry="10.6" fill="#c6d2e4" fill-opacity="0.6"/>
<ellipse cx="28.7" cy="28.7" rx="16.2" ry="8.2" fill="#c6d2e4" fill-opacity="0.6"/>
<ellipse cx="67.1" cy="20.7" rx="15.6" ry="17.6" fill="#c6d2e4" fill-opacity="0.6"/>
<ellipse cx="67.1" cy="38.1" rx="9.5" ry="17.2" fill="#c6d2e4" fill-opacity="0.6"/>
<ellipse cx="89.4" cy="10.1" rx="12.2" ry="16.1" fill="#c6d2e4" fill-opacity="0.6"/>
<ellipse cx="89.2" cy="36.7" rx="15.8" ry="10.1" fill="#c6d2e4" fill-opacity="0.6"/>
<ellipse cx="76.0" cy="30.7" rx="14.2" ry="15.0" fill="#c6d2e4" fill-opacity="0.6"/>
<ellipse cx="109.9" cy="109.5" rx="14.5" ry="15.0" fill="#c6d2e4" fill-opacity="0.6"/>
<ellipse cx="152.3" cy="30.2" rx="8.2" ry="11.5" fill="#a2a8c6" fill-opacity="0.45"/>
<ellipse cx="53.1" cy="62.5" rx="10.3" ry="10.1" fill="#a2a8c6" fill-opacity="0.45"/>
<ellipse cx="75.0" cy="48.8" rx="9.0" ry="10.8" fill="#a2a8c6" fill-opacity="0.45"/>
<ellipse cx="160.4" cy="102.1" rx="11.8" ry="8.9" fill="#a2a8c6" fill-opacity="0.45"/>
<ellipse cx="52.7" cy="119.9" rx="8.6" ry="11.4" fill="#a2a8c6" fill-opacity="0.45"/>
<ellipse cx="95.0" cy="61.5" rx="11.1" ry="10.2" fill="#a2a8c6" fill-opacity="0.45"/>
<ellipse cx="33.7" cy="70.0" rx="11.0" ry="10.3" fill="#a2a8c6" fill-opacity="0.45"/>
<ellipse cx="40.7" cy="101.8" rx="11.5" ry="12.3" fill="#a2a8c6" fill-opacity="0.45"/>
<ellipse cx="52.5" cy="19.0" rx="11.7" ry="13.5" fill="#a2a8c6" fill-opacity="0.45"/>
<ellipse cx="111.7" cy="81.0" rx="10.5" ry="10.6" fill="#a2a8c6" fill-opacity="0.45"/>
<ellipse cx="42.1" cy="100.1" rx="11.1" ry="12.7" fill="#a2a8c6" fill-opacity="0.45"/>
<ellipse cx="147.6" cy="5.5" rx="10.8" ry="12.3" fill="#a2a8c6" fill-opacity="0.45"/>
<ellipse cx="39.1" cy="53.3" rx="9.8" ry="12.0" fill="#a2a8c6" fill-opacity="0.45"/>
<ellipse cx="9.8" cy="49.7" rx="13.2" ry="11.1" fill="#a2a8c6" fill-opacity="0.45"/>
<ellipse cx="107.6" cy="79.9" rx="10.7" ry="9.9" fill="#a2a8c6" fill-opacity="0.45"/>
<ellipse cx="20.7" cy="106.8" rx="11.9" ry="12.5" fill="#a2a8c6" fill-opacity="0.45"/>
<ellipse cx="50.9" cy="21.3" rx="10.8" ry="11.9" fill="#a2a8c6" fill-opacity="0.45"/>
<ellipse cx="141.3" cy="47.2" rx="12.2" ry="13.3" fill="#a2a8c6" fill-opacity="0.45"/>
</g>
<g filter="url(#ib)" fill-opacity="0.65">
<path fill="#98a8c8" d="M-2.0 -5.9a3.5 2.7 100 1 0 -1.2 6.9a3.5 2.7 100 1 0 1.2 -6.9zM118.0 -5.6a3.1 2.2 131 1 0 -4.1 4.7a3.1 2.2 131 1 0 4.1 -4.7zM147.9 -2.3a3.6 3.1 164 1 0 -6.8 1.9a3.6 3.1 164 1 0 6.8 -1.9zM46.1 11.0a2.8 2.1 91 1 0 -0.1 5.5a2.8 2.1 91 1 0 0.1 -5.5zM59.4 13.8a3.0 3.0 61 1 0 2.9 5.3a3.0 3.0 61 1 0 -2.9 -5.3zM69.4 14.1a3.2 2.6 53 1 0 3.9 5.1a3.2 2.6 53 1 0 -3.9 -5.1zM97.3 16.8a3.1 3.0 51 1 0 3.8 4.8a3.1 3.0 51 1 0 -3.8 -4.8zM154.3 19.6a3.7 3.4 46 1 0 5.1 5.3a3.7 3.4 46 1 0 -5.1 -5.3zM30.1 24.7a2.7 2.4 155 1 0 -5.0 2.3a2.7 2.4 155 1 0 5.0 -2.3zM69.5 21.9a3.4 3.1 110 1 0 -2.3 6.4a3.4 3.1 110 1 0 2.3 -6.4zM105.0 28.8a3.1 2.4 10 1 0 6.0 1.1a3.1 2.4 10 1 0 -6.0 -1.1zM112.6 21.6a3.6 2.8 57 1 0 3.9 6.0a3.6 2.8 57 1 0 -3.9 -6.0zM144.2 23.2a2.9 2.7 152 1 0 -5.0 2.7a2.9 2.7 152 1 0 5.0 -2.7zM159.8 26.8a3.2 3.0 161 1 0 -6.1 2.1a3.2 3.0 161 1 0 6.1 -2.1zM50.7 31.3a3.1 2.3 118 1 0 -2.8 5.4a3.1 2.3 118 1 0 2.8 -5.4zM111.1 29.4a2.9 2.5 123 1 0 -3.2 4.9a2.9 2.5 123 1 0 3.2 -4.9zM154.3 33.4a2.9 2.2 18 1 0 5.5 1.8a2.9 2.2 18 1 0 -5.5 -1.8zM32.2 35.4a3.7 3.5 90 1 0 0.0 7.3a3.7 3.5 90 1 0 -0.0 -7.3zM35.6 37.9a3.4 3.0 79 1 0 1.3 6.7a3.4 3.0 79 1 0 -1.3 -6.7zM89.0 39.3a3.6 3.4 24 1 0 6.6 2.9a3.6 3.4 24 1 0 -6.6 -2.9zM110.9 39.8a2.8 2.1 37 1 0 4.5 3.5a2.8 2.1 37 1 0 -4.5 -3.5zM160.0 37.6a3.4 3.2 84 1 0 0.7 6.8a3.4 3.2 84 1 0 -0.7 -6.8zM44.3 51.6a3.6 3.2 144 1 0 -5.8 4.2a3.6 3.2 144 1 0 5.8 -4.2zM57.6 50.8a2.9 2.9 137 1 0 -4.2 4.0a2.9 2.9 137 1 0 4.2 -4.0zM74.1 54.3a3.3 2.6 174 1 0 -6.6 0.7a3.3 2.6 174 1 0 6.6 -0.7zM126.0 54.5a3.0 2.1 23 1 0 5.5 2.3a3.0 2.1 23 1 0 -5.5 -2.3zM154.7 53.7a3.6 3.2 156 1 0 -6.5 3.0a3.6 3.2 156 1 0 6.5 -3.0zM8.9 60.2a3.2 2.7 144 1 0 -5.2 3.8a3.2 2.7 144 1 0 5.2 -3.8zM81.9 65.8a3.2 2.9 96 1 0 -0.7 6.5a3.2 2.9 96 1 0 0.7 -6.5zM116.9 65.2a3.5 2.9 72 1 0 2.1 6.6a3.5 2.9 72 1 0 -2.1 -6.6zM101.8 71.8a3.2 2.7 109 1 0 -2.1 6.1a3.2 2.7 109 1 0 2.1 -6.1zM104.3 71.3a3.1 2.9 23 1 0 5.7 2.5a3.1 2.9 23 1 0 -5.7 -2.5zM116.6 75.6a2.7 2.3 175 1 0 -5.5 0.5a2.7 2.3 175 1 0 5.5 -0.5zM49.5 82.6a3.2 2.8 163 1 0 -6.0 1.8a3.2 2.8 163 1 0 6.0 -1.8zM102.5 82.2a3.1 2.8 18 1 0 5.8 1.9a3.1 2.8 18 1 0 -5.8 -1.9zM117.7 79.8a3.2 2.6 6 1 0 6.3 0.7a3.2 2.6 6 1 0 -6.3 -0.7zM147.4 79.6a3.2 2.6 59 1 0 3.3 5.5a3.2 2.6 59 1 0 -3.3 -5.5zM155.7 77.1a3.3 3.2 35 1 0 5.4 3.8a3.3 3.2 35 1 0 -5.4 -3.8zM33.8 85.7a2.8 2.2 23 1 0 5.1 2.2a2.8 2.2 23 1 0 -5.1 -2.2zM65.0 84.8a3.6 3.5 67 1 0 2.8 6.6a3.6 3.5 67 1 0 -2.8 -6.6zM97.4 83.8a3.1 2.6 96 1 0 -0.6 6.1a3.1 2.6 96 1 0 0.6 -6.1zM116.9 81.3a3.2 2.8 78 1 0 1.4 6.2a3.2 2.8 78 1 0 -1.4 -6.2zM34.9 89.1a3.4 2.6 44 1 0 4.9 4.8a3.4 2.6 44 1 0 -4.9 -4.8zM91.8 88.5a3.0 2.3 81 1 0 1.0 5.9a3.0 2.3 81 1 0 -1.0 -5.9zM134.5 91.7a2.9 2.4 45 1 0 4.1 4.1a2.9 2.4 45 1 0 -4.1 -4.1zM10.4 99.2a3.0 2.4 143 1 0 -4.8 3.7a3.0 2.4 143 1 0 4.8 -3.7zM15.2 94.3a2.9 2.3 64 1 0 2.5 5.2a2.9 2.3 64 1 0 -2.5 -5.2zM34.6 98.7a3.0 2.7 21 1 0 5.6 2.2a3.0 2.7 21 1 0 -5.6 -2.2zM59.0 97.3a3.4 2.9 76 1 0 1.6 6.5a3.4 2.9 76 1 0 -1.6 -6.5zM142.1 96.9a3.6 3.6 103 1 0 -1.7 7.1a3.6 3.6 103 1 0 1.7 -7.1zM-1.7 104.0a3.2 2.6 13 1 0 6.3 1.5a3.2 2.6 13 1 0 -6.3 -1.5zM79.6 102.3a3.5 3.3 88 1 0 0.3 7.0a3.5 3.3 88 1 0 -0.3 -7.0zM-4.6 110.3a3.5 3.0 33 1 0 5.9 3.9a3.5 3.0 33 1 0 -5.9 -3.9zM4.1 106.2a3.1 2.6 104 1 0 -1.5 6.1a3.1 2.6 104 1 0 1.5 -6.1zM45.3 107.6a3.1 2.3 49 1 0 4.1 4.6a3.1 2.3 49 1 0 -4.1 -4.6zM82.8 111.8a3.6 2.5 2 1 0 7.1 0.2a3.6 2.5 2 1 0 -7.1 -0.2zM119.8 110.6a3.1 2.8 68 1 0 2.3 5.7a3.1 2.8 68 1 0 -2.3 -5.7zM141.2 109.5a2.9 2.2 34 1 0 4.7 3.2a2.9 2.2 34 1 0 -4.7 -3.2zM161.7 110.8a2.8 2.5 113 1 0 -2.2 5.1a2.8 2.5 113 1 0 2.2 -5.1zM26.1 116.6a3.3 2.5 63 1 0 2.9 5.8a3.3 2.5 63 1 0 -2.9 -5.8zM42.9 116.2a3.5 2.9 124 1 0 -3.9 5.8a3.5 2.9 124 1 0 3.9 -5.8zM63.1 115.4a3.5 3.0 83 1 0 0.9 6.9a3.5 3.0 83 1 0 -0.9 -6.9zM96.8 116.8a3.1 3.0 131 1 0 -4.0 4.6a3.1 3.0 131 1 0 4.0 -4.6zM152.3 119.6a3.0 2.9 2 1 0 6.0 0.2a3.0 2.9 2 1 0 -6.0 -0.2zM104.8 121.9a2.8 2.5 132 1 0 -3.8 4.1a2.8 2.5 132 1 0 3.8 -4.1zM159.1 118.7a3.4 2.4 101 1 0 -1.3 6.6a3.4 2.4 101 1 0 1.3 -6.6zM161.3 119.1a2.9 2.8 57 1 0 3.2 4.9a2.9 2.8 57 1 0 -3.2 -4.9z"/>
<path fill="#a0a8c8" d="M8.1 -0.8a3.0 2.9 177 1 0 -6.1 0.3a3.0 2.9 177 1 0 6.1 -0.3zM87.2 -4.2a3.4 3.4 89 1 0 0.1 6.8a3.4 3.4 89 1 0 -0.1 -6.8zM154.2 -3.6a3.0 2.9 109 1 0 -2.0 5.7a3.0 2.9 109 1 0 2.0 -5.7zM38.1 3.2a3.5 2.8 1 1 0 6.9 0.1a3.5 2.8 1 1 0 -6.9 -0.1zM46.3 2.9a2.8 2.7 76 1 0 1.3 5.4a2.8 2.7 76 1 0 -1.3 -5.4zM64.9 -0.3a3.7 3.0 13 1 0 7.1 1.7a3.7 3.0 13 1 0 -7.1 -1.7zM85.7 0.9a3.1 3.0 140 1 0 -4.8 4.0a3.1 3.0 140 1 0 4.8 -4.0zM95.1 0.4a3.1 2.9 58 1 0 3.3 5.2a3.1 2.9 58 1 0 -3.3 -5.2zM99.2 3.0a2.8 2.2 73 1 0 1.6 5.4a2.8 2.2 73 1 0 -1.6 -5.4zM135.3 1.6a3.2 3.0 3 1 0 6.3 0.3a3.2 3.0 3 1 0 -6.3 -0.3zM147.1 -1.9a3.5 2.5 141 1 0 -5.4 4.4a3.5 2.5 141 1 0 5.4 -4.4zM-1.4 8.3a2.9 2.2 29 1 0 5.0 2.8a2.9 2.2 29 1 0 -5.0 -2.8zM60.7 6.2a2.7 2.6 34 1 0 4.5 3.0a2.7 2.6 34 1 0 -4.5 -3.0zM77.2 10.1a2.8 2.0 178 1 0 -5.6 0.2a2.8 2.0 178 1 0 5.6 -0.2zM105.8 6.6a3.7 3.2 7 1 0 7.3 0.9a3.7 3.2 7 1 0 -7.3 -0.9zM138.2 4.2a3.7 2.7 101 1 0 -1.4 7.2a3.7 2.7 101 1 0 1.4 -7.2zM6.2 14.7a2.9 2.2 91 1 0 -0.1 5.8a2.9 2.2 91 1 0 0.1 -5.8zM27.8 10.3a3.5 2.7 130 1 0 -4.5 5.5a3.5 2.7 130 1 0 4.5 -5.5zM42.8 10.1a3.4 3.0 65 1 0 2.8 6.2a3.4 3.0 65 1 0 -2.8 -6.2zM53.9 14.8a2.9 2.8 76 1 0 1.4 5.6a2.9 2.8 76 1 0 -1.4 -5.6zM89.6 13.1a3.4 2.4 149 1 0 -5.8 3.4a3.4 2.4 149 1 0 5.8 -3.4zM91.1 10.4a3.2 3.0 127 1 0 -3.9 5.2a3.2 3.0 127 1 0 3.9 -5.2zM128.1 14.4a3.5 3.2 46 1 0 4.9 5.1a3.5 3.2 46 1 0 -4.9 -5.1zM10.2 20.8a3.0 2.7 130 1 0 -3.9 4.6a3.0 2.7 130 1 0 3.9 -4.6zM128.6 20.6a2.8 2.3 129 1 0 -3.5 4.3a2.8 2.3 129 1 0 3.5 -4.3zM146.1 18.7a2.7 2.0 93 1 0 -0.3 5.4a2.7 2.0 93 1 0 0.3 -5.4zM7.1 26.1a3.4 3.0 81 1 0 1.1 6.7a3.4 3.0 81 1 0 -1.1 -6.7zM79.1 27.4a3.0 2.8 167 1 0 -5.9 1.4a3.0 2.8 167 1 0 5.9 -1.4zM131.5 27.4a3.0 2.3 17 1 0 5.7 1.8a3.0 2.3 17 1 0 -5.7 -1.8zM52.5 33.3a3.3 3.2 44 1 0 4.7 4.6a3.3 3.2 44 1 0 -4.7 -4.6zM123.6 29.2a3.2 3.2 109 1 0 -2.1 6.1a3.2 3.2 109 1 0 2.1 -6.1zM140.0 27.7a3.6 3.1 58 1 0 3.9 6.2a3.6 3.1 58 1 0 -3.9 -6.2zM147.6 33.6a3.1 2.8 143 1 0 -5.0 3.7a3.1 2.8 143 1 0 5.0 -3.7zM23.4 33.4a3.5 3.0 114 1 0 -2.8 6.4a3.5 3.0 114 1 0 2.8 -6.4zM82.4 39.3a3.1 2.3 37 1 0 5.0 3.8a3.1 2.3 37 1 0 -5.0 -3.8zM99.9 41.5a2.7 2.7 178 1 0 -5.5 0.2a2.7 2.7 178 1 0 5.5 -0.2zM102.2 33.0a3.5 2.8 100 1 0 -1.3 6.8a3.5 2.8 100 1 0 1.3 -6.8zM116.6 35.8a3.1 2.7 24 1 0 5.6 2.5a3.1 2.7 24 1 0 -5.6 -2.5zM150.6 36.9a3.1 2.3 113 1 0 -2.4 5.7a3.1 2.3 113 1 0 2.4 -5.7zM12.0 44.4a3.2 2.7 175 1 0 -6.3 0.5a3.2 2.7 175 1 0 6.3 -0.5zM50.2 42.2a3.5 2.9 113 1 0 -2.7 6.4a3.5 2.9 113 1 0 2.7 -6.4zM66.1 45.2a3.4 3.3 178 1 0 -6.8 0.2a3.4 3.3 178 1 0 6.8 -0.2zM135.8 42.0a2.8 2.0 98 1 0 -0.8 5.6a2.8 2.0 98 1 0 0.8 -5.6zM7.5 46.3a3.2 2.5 120 1 0 -3.2 5.6a3.2 2.5 120 1 0 3.2 -5.6zM32.0 46.9a2.9 2.7 93 1 0 -0.3 5.7a2.9 2.7 93 1 0 0.3 -5.7zM93.7 47.2a3.6 2.9 71 1 0 2.4 6.7a3.6 2.9 71 1 0 -2.4 -6.7zM125.1 46.6a3.4 2.6 43 1 0 5.0 4.6a3.4 2.6 43 1 0 -5.0 -4.6zM154.4 51.0a3.3 2.5 140 1 0 -5.0 4.2a3.3 2.5 140 1 0 5.0 -4.2zM46.8 53.6a3.1 2.4 136 1 0 -4.4 4.3a3.1 2.4 136 1 0 4.4 -4.3zM76.3 54.5a3.0 2.9 134 1 0 -4.2 4.3a3.0 2.9 134 1 0 4.2 -4.3zM79.9 53.1a3.1 2.4 34 1 0 5.2 3.5a3.1 2.4 34 1 0 -5.2 -3.5zM85.3 54.9a2.9 2.2 19 1 0 5.5 1.9a2.9 2.2 19 1 0 -5.5 -1.9zM145.5 55.9a3.1 2.2 4 1 0 6.2 0.4a3.1 2.2 4 1 0 -6.2 -0.4zM160.6 51.7a3.5 2.5 98 1 0 -1.0 6.9a3.5 2.5 98 1 0 1.0 -6.9zM-4.3 58.2a3.6 3.5 46 1 0 4.9 5.2a3.6 3.5 46 1 0 -4.9 -5.2zM21.4 59.1a3.0 2.8 122 1 0 -3.1 5.0a3.0 2.8 122 1 0 3.1 -5.0zM34.1 61.1a3.4 3.1 32 1 0 5.8 3.7a3.4 3.1 32 1 0 -5.8 -3.7zM110.4 60.0a3.2 3.1 138 1 0 -4.7 4.3a3.2 3.1 138 1 0 4.7 -4.3zM135.7 62.2a3.3 2.7 5 1 0 6.6 0.6a3.3 2.7 5 1 0 -6.6 -0.6zM141.7 63.9a3.0 2.3 27 1 0 5.3 2.7a3.0 2.3 27 1 0 -5.3 -2.7zM-1.4 68.6a3.1 2.4 129 1 0 -3.9 4.8a3.1 2.4 129 1 0 3.9 -4.8zM24.7 66.1a3.3 2.5 68 1 0 2.5 6.2a3.3 2.5 68 1 0 -2.5 -6.2zM56.9 71.2a3.6 3.0 1 1 0 7.1 0.1a3.6 3.0 1 1 0 -7.1 -0.1zM90.3 64.7a3.6 3.0 129 1 0 -4.5 5.6a3.6 3.0 129 1 0 4.5 -5.6zM152.6 67.9a3.4 2.8 75 1 0 1.7 6.6a3.4 2.8 75 1 0 -1.7 -6.6zM28.1 73.3a3.1 3.0 138 1 0 -4.6 4.1a3.1 3.0 138 1 0 4.6 -4.1zM50.3 74.0a3.3 2.9 60 1 0 3.2 5.7a3.3 2.9 60 1 0 -3.2 -5.7zM136.5 75.9a2.8 2.7 173 1 0 -5.5 0.7a2.8 2.7 173 1 0 5.5 -0.7zM138.0 74.8a3.4 3.3 123 1 0 -3.7 5.6a3.4 3.3 123 1 0 3.7 -5.6zM148.0 71.6a3.4 2.4 43 1 0 4.9 4.5a3.4 2.4 43 1 0 -4.9 -4.5zM162.4 69.3a3.4 3.0 68 1 0 2.5 6.3a3.4 3.0 68 1 0 -2.5 -6.3zM0.8 78.5a3.7 2.7 88 1 0 0.3 7.3a3.7 2.7 88 1 0 -0.3 -7.3zM25.4 81.6a3.0 2.7 154 1 0 -5.3 2.6a3.0 2.7 154 1 0 5.3 -2.6zM61.5 77.5a2.8 2.4 150 1 0 -4.9 2.8a2.8 2.4 150 1 0 4.9 -2.8zM79.6 82.4a3.3 2.4 6 1 0 6.6 0.7a3.3 2.4 6 1 0 -6.6 -0.7zM103.7 81.5a2.9 2.7 137 1 0 -4.2 4.0a2.9 2.7 137 1 0 4.2 -4.0zM115.0 79.8a2.9 2.6 46 1 0 4.1 4.2a2.9 2.6 46 1 0 -4.1 -4.2zM135.8 78.8a3.1 2.2 176 1 0 -6.2 0.4a3.1 2.2 176 1 0 6.2 -0.4zM46.8 86.5a2.9 2.8 68 1 0 2.2 5.3a2.9 2.8 68 1 0 -2.2 -5.3zM56.1 85.7a3.0 2.1 60 1 0 3.0 5.1a3.0 2.1 60 1 0 -3.0 -5.1zM69.6 85.0a3.1 3.0 67 1 0 2.5 5.8a3.1 3.0 67 1 0 -2.5 -5.8zM140.5 84.7a2.9 2.5 146 1 0 -4.8 3.2a2.9 2.5 146 1 0 4.8 -3.2zM145.9 84.7a3.7 3.0 98 1 0 -1.0 7.3a3.7 3.0 98 1 0 1.0 -7.3zM103.1 93.7a3.0 2.7 171 1 0 -6.0 0.9a3.0 2.7 171 1 0 6.0 -0.9zM106.4 92.6a3.1 2.9 91 1 0 -0.1 6.3a3.1 2.9 91 1 0 0.1 -6.3zM32.4 98.8a3.7 2.6 147 1 0 -6.1 4.0a3.7 2.6 147 1 0 6.1 -4.0zM100.2 95.7a3.5 3.3 122 1 0 -3.6 5.9a3.5 3.3 122 1 0 3.6 -5.9zM100.4 95.4a2.9 2.2 21 1 0 5.5 2.1a2.9 2.2 21 1 0 -5.5 -2.1zM129.6 94.1a3.7 2.8 138 1 0 -5.4 4.9a3.7 2.8 138 1 0 5.4 -4.9zM132.7 93.2a3.4 2.4 75 1 0 1.7 6.6a3.4 2.4 75 1 0 -1.7 -6.6zM134.6 96.9a2.8 2.1 75 1 0 1.5 5.4a2.8 2.1 75 1 0 -1.5 -5.4zM152.4 97.7a3.5 2.9 152 1 0 -6.1 3.3a3.5 2.9 152 1 0 6.1 -3.3zM34.3 107.0a2.8 2.6 178 1 0 -5.6 0.1a2.8 2.6 178 1 0 5.6 -0.1zM118.4 104.7a3.5 3.2 164 1 0 -6.8 1.9a3.5 3.2 164 1 0 6.8 -1.9zM10.2 110.9a2.9 2.6 17 1 0 5.6 1.7a2.9 2.6 17 1 0 -5.6 -1.7zM16.6 111.4a3.5 2.7 19 1 0 6.6 2.2a3.5 2.7 19 1 0 -6.6 -2.2zM53.4 109.2a3.5 2.6 108 1 0 -2.2 6.7a3.5 2.6 108 1 0 2.2 -6.7zM75.5 110.5a3.5 3.4 5 1 0 6.9 0.5a3.5 3.4 5 1 0 -6.9 -0.5zM127.7 106.7a3.5 2.5 148 1 0 -5.9 3.6a3.5 2.5 148 1 0 5.9 -3.6zM133.3 107.4a3.5 2.6 147 1 0 -5.9 3.8a3.5 2.6 147 1 0 5.9 -3.8zM78.7 116.9a3.2 2.4 121 1 0 -3.3 5.6a3.2 2.4 121 1 0 3.3 -5.6zM109.4 118.2a3.1 2.3 16 1 0 6.0 1.8a3.1 2.3 16 1 0 -6.0 -1.8zM129.8 112.6a2.8 2.3 143 1 0 -4.4 3.3a2.8 2.3 143 1 0 4.4 -3.3zM26.4 120.6a3.0 2.1 173 1 0 -6.0 0.7a3.0 2.1 173 1 0 6.0 -0.7zM39.1 120.1a3.2 2.5 54 1 0 3.7 5.2a3.2 2.5 54 1 0 -3.7 -5.2z"/>
<path fill="#a0b0d0" d="M8.9 -2.3a3.0 2.2 141 1 0 -4.7 3.9a3.0 2.2 141 1 0 4.7 -3.9zM59.2 -2.3a3.0 2.7 138 1 0 -4.5 4.1a3.0 2.7 138 1 0 4.5 -4.1zM-3.9 -1.4a3.3 3.1 64 1 0 2.9 5.9a3.3 3.1 64 1 0 -2.9 -5.9zM76.9 -0.4a3.0 2.6 156 1 0 -5.6 2.5a3.0 2.6 156 1 0 5.6 -2.5zM152.3 3.7a3.6 3.3 6 1 0 7.2 0.8a3.6 3.3 6 1 0 -7.2 -0.8zM159.0 -1.0a3.2 2.7 61 1 0 3.1 5.6a3.2 2.7 61 1 0 -3.1 -5.6zM9.5 6.8a3.0 2.9 116 1 0 -2.6 5.5a3.0 2.9 116 1 0 2.6 -5.5zM25.6 6.6a3.4 2.7 30 1 0 5.9 3.3a3.4 2.7 30 1 0 -5.9 -3.3zM51.1 3.9a3.5 2.5 88 1 0 0.2 7.0a3.5 2.5 88 1 0 -0.2 -7.0zM78.1 8.6a2.9 2.9 51 1 0 3.6 4.4a2.9 2.9 51 1 0 -3.6 -4.4zM84.1 3.7a3.1 2.4 75 1 0 1.6 6.0a3.1 2.4 75 1 0 -1.6 -6.0zM13.4 16.4a3.3 2.7 7 1 0 6.5 0.8a3.3 2.7 7 1 0 -6.5 -0.8zM33.5 15.7a3.2 2.9 27 1 0 5.8 2.9a3.2 2.9 27 1 0 -5.8 -2.9zM121.3 14.3a3.1 2.9 101 1 0 -1.2 6.1a3.1 2.9 101 1 0 1.2 -6.1zM23.2 21.1a2.8 2.6 168 1 0 -5.5 1.1a2.8 2.6 168 1 0 5.5 -1.1zM47.3 20.3a3.0 2.5 172 1 0 -6.0 0.8a3.0 2.5 172 1 0 6.0 -0.8zM73.0 21.3a3.2 2.7 144 1 0 -5.1 3.8a3.2 2.7 144 1 0 5.1 -3.8zM73.0 18.2a3.5 2.7 21 1 0 6.5 2.6a3.5 2.7 21 1 0 -6.5 -2.6zM140.9 28.6a3.0 2.4 176 1 0 -6.1 0.4a3.0 2.4 176 1 0 6.1 -0.4zM103.2 28.8a3.3 3.0 42 1 0 4.8 4.4a3.3 3.0 42 1 0 -4.8 -4.4zM117.2 31.3a2.8 2.5 128 1 0 -3.5 4.5a2.8 2.5 128 1 0 3.5 -4.5zM-2.0 34.6a3.5 2.6 81 1 0 1.1 6.9a3.5 2.6 81 1 0 -1.1 -6.9zM7.7 34.8a3.4 2.4 31 1 0 5.8 3.4a3.4 2.4 31 1 0 -5.8 -3.4zM42.9 39.4a3.6 2.7 12 1 0 7.0 1.5a3.6 2.7 12 1 0 -7.0 -1.5zM64.1 35.9a3.6 3.5 134 1 0 -5.1 5.2a3.6 3.5 134 1 0 5.1 -5.2zM71.6 35.2a3.1 2.7 84 1 0 0.7 6.2a3.1 2.7 84 1 0 -0.7 -6.2zM127.4 37.3a3.5 3.4 53 1 0 4.3 5.7a3.5 3.4 53 1 0 -4.3 -5.7zM44.9 41.3a3.2 2.8 99 1 0 -1.0 6.4a3.2 2.8 99 1 0 1.0 -6.4zM92.1 42.3a2.9 2.3 108 1 0 -1.8 5.5a2.9 2.3 108 1 0 1.8 -5.5zM75.8 51.0a3.6 3.1 44 1 0 5.2 5.1a3.6 3.1 44 1 0 -5.2 -5.1zM82.9 48.2a2.7 2.6 39 1 0 4.3 3.4a2.7 2.6 39 1 0 -4.3 -3.4zM133.2 51.1a3.4 3.0 152 1 0 -6.1 3.2a3.4 3.0 152 1 0 6.1 -3.2zM26.7 54.6a3.1 2.2 134 1 0 -4.3 4.4a3.1 2.2 134 1 0 4.3 -4.4zM39.6 62.8a3.2 2.8 52 1 0 4.0 5.1a3.2 2.8 52 1 0 -4.0 -5.1zM54.8 60.4a2.9 2.4 85 1 0 0.5 5.7a2.9 2.4 85 1 0 -0.5 -5.7zM63.9 59.5a3.1 3.1 124 1 0 -3.5 5.2a3.1 3.1 124 1 0 3.5 -5.2zM70.2 62.5a3.1 2.6 143 1 0 -5.0 3.8a3.1 2.6 143 1 0 5.0 -3.8zM75.9 63.5a3.7 3.7 31 1 0 6.3 3.7a3.7 3.7 31 1 0 -6.3 -3.7zM81.4 63.5a3.2 2.9 31 1 0 5.5 3.3a3.2 2.9 31 1 0 -5.5 -3.3zM94.1 61.0a3.5 3.4 6 1 0 7.0 0.8a3.5 3.4 6 1 0 -7.0 -0.8zM165.7 58.9a3.0 2.5 134 1 0 -4.2 4.3a3.0 2.5 134 1 0 4.2 -4.3zM134.2 68.8a2.8 2.1 162 1 0 -5.4 1.8a2.8 2.1 162 1 0 5.4 -1.8zM145.3 69.9a2.9 2.7 35 1 0 4.8 3.4a2.9 2.7 35 1 0 -4.8 -3.4zM156.2 69.8a2.9 2.0 39 1 0 4.5 3.6a2.9 2.0 39 1 0 -4.5 -3.6zM87.6 72.3a3.0 2.5 117 1 0 -2.8 5.4a3.0 2.5 117 1 0 2.8 -5.4zM89.6 73.5a2.8 2.2 115 1 0 -2.4 5.1a2.8 2.2 115 1 0 2.4 -5.1zM12.8 78.5a2.9 2.6 13 1 0 5.7 1.3a2.9 2.6 13 1 0 -5.7 -1.3zM24.5 77.6a3.7 3.4 13 1 0 7.1 1.7a3.7 3.4 13 1 0 -7.1 -1.7zM69.5 76.6a3.0 2.6 106 1 0 -1.7 5.8a3.0 2.6 106 1 0 1.7 -5.8zM77.2 77.9a3.0 2.8 123 1 0 -3.2 5.0a3.0 2.8 123 1 0 3.2 -5.0zM88.3 79.2a3.2 2.6 4 1 0 6.4 0.5a3.2 2.6 4 1 0 -6.4 -0.5zM28.7 83.8a3.7 3.1 78 1 0 1.5 7.2a3.7 3.1 78 1 0 -1.5 -7.2zM104.3 87.2a3.4 2.7 28 1 0 6.0 3.3a3.4 2.7 28 1 0 -6.0 -3.3zM164.4 84.8a3.6 3.4 139 1 0 -5.4 4.6a3.6 3.4 139 1 0 5.4 -4.6zM143.4 91.7a3.5 3.5 94 1 0 -0.5 7.0a3.5 3.5 94 1 0 0.5 -7.0zM158.0 89.8a2.8 2.4 110 1 0 -1.9 5.2a2.8 2.4 110 1 0 1.9 -5.2zM56.6 95.8a2.9 2.7 139 1 0 -4.4 3.8a2.9 2.7 139 1 0 4.4 -3.8zM14.7 102.4a3.6 3.5 131 1 0 -4.7 5.4a3.6 3.5 131 1 0 4.7 -5.4zM41.4 99.2a3.6 2.6 104 1 0 -1.7 6.9a3.6 2.6 104 1 0 1.7 -6.9zM84.0 103.6a3.0 2.2 78 1 0 1.2 5.8a3.0 2.2 78 1 0 -1.2 -5.8zM32.0 106.7a2.8 2.0 42 1 0 4.1 3.7a2.8 2.0 42 1 0 -4.1 -3.7zM64.6 110.1a3.3 2.5 41 1 0 4.9 4.3a3.3 2.5 41 1 0 -4.9 -4.3zM99.5 109.2a3.4 3.0 133 1 0 -4.6 4.9a3.4 3.0 133 1 0 4.6 -4.9zM136.7 109.7a3.3 2.6 14 1 0 6.4 1.6a3.3 2.6 14 1 0 -6.4 -1.6zM153.0 106.0a3.0 2.4 106 1 0 -1.7 5.8a3.0 2.4 106 1 0 1.7 -5.8zM10.0 113.6a2.9 2.7 89 1 0 0.1 5.8a2.9 2.7 89 1 0 -0.1 -5.8zM24.4 116.2a3.2 2.7 103 1 0 -1.5 6.2a3.2 2.7 103 1 0 1.5 -6.2zM144.7 116.6a3.4 2.5 173 1 0 -6.7 0.9a3.4 2.5 173 1 0 6.7 -0.9z"/>
<path fill="#a8b8d0" d="M15.3 -5.4a3.7 2.6 133 1 0 -5.0 5.3a3.7 2.6 133 1 0 5.0 -5.3zM35.4 -4.0a3.4 2.5 10 1 0 6.8 1.2a3.4 2.5 10 1 0 -6.8 -1.2zM114.0 -3.6a2.8 2.6 167 1 0 -5.4 1.2a2.8 2.6 167 1 0 5.4 -1.2zM8.1 1.0a3.6 3.1 57 1 0 3.9 6.0a3.6 3.1 57 1 0 -3.9 -6.0zM40.1 8.2a2.8 2.7 163 1 0 -5.4 1.7a2.8 2.7 163 1 0 5.4 -1.7zM55.7 5.5a2.9 2.4 24 1 0 5.2 2.3a2.9 2.4 24 1 0 -5.2 -2.3zM69.9 4.5a2.9 2.5 60 1 0 2.9 5.1a2.9 2.5 60 1 0 -2.9 -5.1zM140.5 3.2a3.4 2.4 79 1 0 1.3 6.6a3.4 2.4 79 1 0 -1.3 -6.6zM149.7 6.1a2.9 2.3 157 1 0 -5.3 2.3a2.9 2.3 157 1 0 5.3 -2.3zM98.2 11.5a3.0 2.5 124 1 0 -3.4 5.0a3.0 2.5 124 1 0 3.4 -5.0zM164.7 9.9a3.2 3.1 122 1 0 -3.4 5.5a3.2 3.1 122 1 0 3.4 -5.5zM63.1 15.7a3.2 3.1 109 1 0 -2.0 6.0a3.2 3.1 109 1 0 2.0 -6.0zM93.2 18.4a3.1 2.3 84 1 0 0.7 6.1a3.1 2.3 84 1 0 -0.7 -6.1zM51.4 21.7a3.4 2.4 51 1 0 4.2 5.3a3.4 2.4 51 1 0 -4.2 -5.3zM74.3 23.0a3.4 2.7 156 1 0 -6.2 2.8a3.4 2.7 156 1 0 6.2 -2.8zM80.5 25.1a3.5 2.8 34 1 0 5.9 3.9a3.5 2.8 34 1 0 -5.9 -3.9zM103.3 24.1a3.4 3.0 95 1 0 -0.6 6.7a3.4 3.0 95 1 0 0.6 -6.7zM34.3 30.7a3.3 2.5 36 1 0 5.3 3.9a3.3 2.5 36 1 0 -5.3 -3.9zM84.0 30.1a2.9 2.2 109 1 0 -1.8 5.5a2.9 2.2 109 1 0 1.8 -5.5zM86.0 32.4a3.4 2.9 66 1 0 2.7 6.2a3.4 2.9 66 1 0 -2.7 -6.2zM8.0 39.4a3.2 2.3 174 1 0 -6.5 0.6a3.2 2.3 174 1 0 6.5 -0.6zM106.8 36.2a3.5 3.2 36 1 0 5.7 4.1a3.5 3.2 36 1 0 -5.7 -4.1zM16.9 40.2a3.4 2.6 83 1 0 0.8 6.8a3.4 2.6 83 1 0 -0.8 -6.8zM38.6 41.2a3.4 3.4 58 1 0 3.6 5.8a3.4 3.4 58 1 0 -3.6 -5.8zM61.0 45.5a3.5 2.7 143 1 0 -5.6 4.2a3.5 2.7 143 1 0 5.6 -4.2zM79.9 47.4a3.0 2.1 4 1 0 5.9 0.4a3.0 2.1 4 1 0 -5.9 -0.4zM113.5 41.2a2.8 2.1 106 1 0 -1.5 5.4a2.8 2.1 106 1 0 1.5 -5.4zM34.4 50.7a3.0 2.3 4 1 0 6.1 0.4a3.0 2.3 4 1 0 -6.1 -0.4zM64.7 49.1a3.5 2.7 105 1 0 -1.8 6.8a3.5 2.7 105 1 0 1.8 -6.8zM98.1 49.8a3.2 3.2 17 1 0 6.2 1.9a3.2 3.2 17 1 0 -6.2 -1.9zM120.1 46.4a3.6 3.2 105 1 0 -1.9 7.0a3.6 3.2 105 1 0 1.9 -7.0zM150.2 51.2a3.6 2.6 23 1 0 6.7 2.8a3.6 2.6 23 1 0 -6.7 -2.8zM163.4 53.4a2.8 2.2 174 1 0 -5.6 0.6a2.8 2.2 174 1 0 5.6 -0.6zM33.8 57.6a3.2 2.4 137 1 0 -4.6 4.3a3.2 2.4 137 1 0 4.6 -4.3zM142.8 54.3a3.0 2.1 130 1 0 -3.8 4.6a3.0 2.1 130 1 0 3.8 -4.6zM13.4 68.9a3.5 3.4 46 1 0 4.9 5.0a3.5 3.4 46 1 0 -4.9 -5.0zM44.1 65.3a2.9 2.1 61 1 0 2.8 5.0a2.9 2.1 61 1 0 -2.8 -5.0zM56.5 66.3a3.0 2.5 83 1 0 0.8 6.0a3.0 2.5 83 1 0 -0.8 -6.0zM4.4 73.7a3.7 3.4 100 1 0 -1.3 7.2a3.7 3.4 100 1 0 1.3 -7.2zM30.9 74.8a3.6 3.3 5 1 0 7.1 0.6a3.6 3.3 5 1 0 -7.1 -0.6zM40.6 69.4a3.3 3.2 91 1 0 -0.1 6.6a3.3 3.2 91 1 0 0.1 -6.6zM51.1 74.0a3.1 2.4 170 1 0 -6.2 1.1a3.1 2.4 170 1 0 6.2 -1.1zM60.4 72.6a3.0 2.3 90 1 0 -0.1 5.9a3.0 2.3 90 1 0 0.1 -5.9zM80.0 72.6a3.0 2.4 150 1 0 -5.1 3.0a3.0 2.4 150 1 0 5.1 -3.0zM119.5 74.2a3.1 2.5 80 1 0 1.0 6.1a3.1 2.5 80 1 0 -1.0 -6.1zM156.2 70.0a3.2 2.9 109 1 0 -2.1 6.2a3.2 2.9 109 1 0 2.1 -6.2zM29.0 78.6a3.1 2.8 11 1 0 6.0 1.2a3.1 2.8 11 1 0 -6.0 -1.2zM44.8 77.5a3.3 3.0 164 1 0 -6.4 1.8a3.3 3.0 164 1 0 6.4 -1.8zM6.1 86.0a2.9 2.3 92 1 0 -0.2 5.7a2.9 2.3 92 1 0 0.2 -5.7zM18.6 84.5a3.6 3.1 30 1 0 6.3 3.6a3.6 3.1 30 1 0 -6.3 -3.6zM79.8 83.2a3.1 2.7 131 1 0 -4.0 4.6a3.1 2.7 131 1 0 4.0 -4.6zM91.2 86.4a3.1 2.7 62 1 0 2.9 5.4a3.1 2.7 62 1 0 -2.9 -5.4zM150.4 84.4a3.0 2.7 81 1 0 0.9 5.9a3.0 2.7 81 1 0 -0.9 -5.9zM151.6 86.8a3.2 2.6 10 1 0 6.4 1.1a3.2 2.6 10 1 0 -6.4 -1.1zM24.0 88.5a3.6 2.7 120 1 0 -3.6 6.2a3.6 2.7 120 1 0 3.6 -6.2zM38.3 91.9a3.3 2.3 164 1 0 -6.3 1.8a3.3 2.3 164 1 0 6.3 -1.8zM117.1 89.4a3.2 3.1 84 1 0 0.7 6.3a3.2 3.1 84 1 0 -0.7 -6.3zM121.2 90.3a2.8 2.6 57 1 0 3.1 4.7a2.8 2.6 57 1 0 -3.1 -4.7zM44.6 95.4a2.7 2.4 102 1 0 -1.2 5.3a2.7 2.4 102 1 0 1.2 -5.3zM89.5 97.8a3.4 2.4 54 1 0 3.9 5.4a3.4 2.4 54 1 0 -3.9 -5.4zM156.9 96.9a3.2 2.3 67 1 0 2.5 5.9a3.2 2.3 67 1 0 -2.5 -5.9zM53.9 105.4a3.4 3.0 7 1 0 6.8 0.9a3.4 3.0 7 1 0 -6.8 -0.9zM112.1 98.9a3.5 2.9 76 1 0 1.6 6.8a3.5 2.9 76 1 0 -1.6 -6.8zM156.0 102.9a3.0 3.0 113 1 0 -2.3 5.5a3.0 3.0 113 1 0 2.3 -5.5zM28.7 109.8a3.4 2.6 76 1 0 1.6 6.5a3.4 2.6 76 1 0 -1.6 -6.5zM41.4 110.6a2.7 2.5 104 1 0 -1.3 5.3a2.7 2.5 104 1 0 1.3 -5.3zM60.0 106.5a3.2 2.4 115 1 0 -2.6 5.8a3.2 2.4 115 1 0 2.6 -5.8zM116.0 111.3a3.2 2.3 171 1 0 -6.3 1.0a3.2 2.3 171 1 0 6.3 -1.0zM49.5 116.5a3.0 2.5 158 1 0 -5.6 2.2a3.0 2.5 158 1 0 5.6 -2.2zM118.4 122.2a3.0 2.8 147 1 0 -5.0 3.3a3.0 2.8 147 1 0 5.0 -3.3z"/>
<path fill="#98a8c0" d="M23.2 -2.4a3.0 2.8 137 1 0 -4.4 4.1a3.0 2.8 137 1 0 4.4 -4.1zM33.6 -6.0a3.3 2.9 56 1 0 3.7 5.5a3.3 2.9 56 1 0 -3.7 -5.5zM105.0 -6.1a3.6 3.4 119 1 0 -3.5 6.3a3.6 3.4 119 1 0 3.5 -6.3zM32.3 5.2a3.0 2.6 171 1 0 -5.9 0.9a3.0 2.6 171 1 0 5.9 -0.9zM33.3 0.2a3.3 3.2 68 1 0 2.4 6.1a3.3 3.2 68 1 0 -2.4 -6.1zM56.9 5.3a3.1 2.6 3 1 0 6.2 0.4a3.1 2.6 3 1 0 -6.2 -0.4zM75.9 -1.2a2.8 2.3 92 1 0 -0.2 5.6a2.8 2.3 92 1 0 0.2 -5.6zM120.4 2.6a2.9 2.2 79 1 0 1.1 5.6a2.9 2.2 79 1 0 -1.1 -5.6zM19.7 9.4a3.1 2.9 135 1 0 -4.3 4.4a3.1 2.9 135 1 0 4.3 -4.4zM45.8 9.2a2.8 2.7 172 1 0 -5.6 0.7a2.8 2.7 172 1 0 5.6 -0.7zM95.5 8.3a3.5 2.7 16 1 0 6.7 1.9a3.5 2.7 16 1 0 -6.7 -1.9zM115.7 7.2a3.6 3.1 91 1 0 -0.1 7.3a3.6 3.1 91 1 0 0.1 -7.3zM80.5 14.9a2.9 2.2 129 1 0 -3.7 4.5a2.9 2.2 129 1 0 3.7 -4.5zM100.7 11.6a3.4 3.3 84 1 0 0.7 6.9a3.4 3.3 84 1 0 -0.7 -6.9zM107.5 13.5a3.1 2.8 56 1 0 3.5 5.1a3.1 2.8 56 1 0 -3.5 -5.1zM139.3 13.7a2.8 2.1 43 1 0 4.1 3.8a2.8 2.1 43 1 0 -4.1 -3.8zM29.9 20.9a3.1 2.5 133 1 0 -4.2 4.4a3.1 2.5 133 1 0 4.2 -4.4zM91.2 24.7a3.4 2.9 81 1 0 1.1 6.7a3.4 2.9 81 1 0 -1.1 -6.7zM119.1 27.0a2.9 2.6 18 1 0 5.5 1.8a2.9 2.6 18 1 0 -5.5 -1.8zM146.7 26.9a2.8 2.1 5 1 0 5.6 0.4a2.8 2.1 5 1 0 -5.6 -0.4zM41.8 32.1a3.5 3.2 37 1 0 5.6 4.2a3.5 3.2 37 1 0 -5.6 -4.2zM59.4 31.0a3.2 2.8 64 1 0 2.7 5.7a3.2 2.8 64 1 0 -2.7 -5.7zM152.3 29.2a3.4 3.3 63 1 0 3.1 6.0a3.4 3.3 63 1 0 -3.1 -6.0zM22.3 37.7a2.9 2.2 149 1 0 -4.9 3.0a2.9 2.2 149 1 0 4.9 -3.0zM66.0 33.1a3.5 2.9 75 1 0 1.8 6.8a3.5 2.9 75 1 0 -1.8 -6.8zM125.6 33.8a3.6 2.6 44 1 0 5.2 5.0a3.6 2.6 44 1 0 -5.2 -5.0zM141.9 34.3a3.6 3.3 99 1 0 -1.1 7.1a3.6 3.3 99 1 0 1.1 -7.1zM105.9 44.5a3.0 2.3 61 1 0 2.9 5.2a3.0 2.3 61 1 0 -2.9 -5.2zM21.6 48.3a2.9 2.8 111 1 0 -2.1 5.4a2.9 2.8 111 1 0 2.1 -5.4zM-0.6 54.8a3.5 2.5 45 1 0 4.9 5.0a3.5 2.5 45 1 0 -4.9 -5.0zM91.1 54.2a3.3 2.8 40 1 0 5.0 4.2a3.3 2.8 40 1 0 -5.0 -4.2zM10.4 61.3a3.1 2.2 18 1 0 5.9 1.9a3.1 2.2 18 1 0 -5.9 -1.9zM20.3 62.8a3.5 2.5 29 1 0 6.2 3.5a3.5 2.5 29 1 0 -6.2 -3.5zM71.5 61.9a3.7 2.9 113 1 0 -2.8 6.7a3.7 2.9 113 1 0 2.8 -6.7zM106.7 59.6a3.1 2.8 149 1 0 -5.3 3.2a3.1 2.8 149 1 0 5.3 -3.2zM75.6 67.9a3.1 2.4 58 1 0 3.3 5.3a3.1 2.4 58 1 0 -3.3 -5.3zM98.6 67.1a3.2 2.3 129 1 0 -4.0 5.0a3.2 2.3 129 1 0 4.0 -5.0zM111.2 67.4a3.0 2.3 80 1 0 1.1 5.9a3.0 2.3 80 1 0 -1.1 -5.9zM12.8 71.5a3.4 2.7 97 1 0 -0.9 6.7a3.4 2.7 97 1 0 0.9 -6.7zM62.3 71.2a3.6 2.5 58 1 0 3.7 6.1a3.6 2.5 58 1 0 -3.7 -6.1zM-7.0 83.2a3.1 2.7 11 1 0 6.1 1.2a3.1 2.7 11 1 0 -6.1 -1.2zM62.7 79.7a2.7 2.4 92 1 0 -0.2 5.4a2.7 2.4 92 1 0 0.2 -5.4zM112.5 76.2a3.6 2.8 105 1 0 -1.9 6.9a3.6 2.8 105 1 0 1.9 -6.9zM105.1 82.9a3.4 2.8 127 1 0 -4.0 5.4a3.4 2.8 127 1 0 4.0 -5.4zM114.4 82.0a3.0 2.4 118 1 0 -2.8 5.3a3.0 2.4 118 1 0 2.8 -5.3zM130.8 86.4a2.9 2.6 6 1 0 5.8 0.6a2.9 2.6 6 1 0 -5.8 -0.6zM27.9 94.5a2.8 2.3 168 1 0 -5.4 1.1a2.8 2.3 168 1 0 5.4 -1.1zM45.0 88.6a3.0 2.6 83 1 0 0.7 5.9a3.0 2.6 83 1 0 -0.7 -5.9zM48.0 90.4a3.5 2.7 80 1 0 1.2 6.9a3.5 2.7 80 1 0 -1.2 -6.9zM67.1 88.4a2.7 2.0 129 1 0 -3.4 4.2a2.7 2.0 129 1 0 3.4 -4.2zM65.7 88.0a3.4 3.0 61 1 0 3.3 6.0a3.4 3.0 61 1 0 -3.3 -6.0zM79.9 88.5a3.2 3.1 71 1 0 2.1 6.0a3.2 3.1 71 1 0 -2.1 -6.0zM90.2 92.7a3.4 3.3 155 1 0 -6.2 2.9a3.4 3.3 155 1 0 6.2 -2.9zM125.6 92.5a2.8 2.4 5 1 0 5.6 0.5a2.8 2.4 5 1 0 -5.6 -0.5zM71.3 96.2a3.5 3.4 148 1 0 -5.9 3.6a3.5 3.4 148 1 0 5.9 -3.6zM76.1 100.6a3.4 2.7 168 1 0 -6.6 1.4a3.4 2.7 168 1 0 6.6 -1.4zM108.4 96.2a3.3 2.6 125 1 0 -3.8 5.4a3.3 2.6 125 1 0 3.8 -5.4zM10.8 102.9a2.9 2.6 150 1 0 -5.1 2.9a2.9 2.6 150 1 0 5.1 -2.9zM145.8 105.1a3.1 2.5 37 1 0 4.9 3.8a3.1 2.5 37 1 0 -4.9 -3.8zM97.5 111.8a2.7 2.4 28 1 0 4.8 2.6a2.7 2.4 28 1 0 -4.8 -2.6zM35.5 116.0a3.0 2.7 162 1 0 -5.7 1.9a3.0 2.7 162 1 0 5.7 -1.9zM48.4 119.5a2.9 2.6 146 1 0 -4.7 3.2a2.9 2.6 146 1 0 4.7 -3.2zM59.8 120.5a3.3 2.7 178 1 0 -6.6 0.2a3.3 2.7 178 1 0 6.6 -0.2zM140.3 121.7a3.4 3.3 38 1 0 5.4 4.2a3.4 3.3 38 1 0 -5.4 -4.2z"/>
<path fill="#a0b0c8" d="M81.3 -3.1a3.3 3.3 135 1 0 -4.7 4.7a3.3 3.3 135 1 0 4.7 -4.7zM147.1 0.7a2.7 2.0 55 1 0 3.1 4.5a2.7 2.0 55 1 0 -3.1 -4.5zM123.8 3.7a3.3 2.9 74 1 0 1.8 6.3a3.3 2.9 74 1 0 -1.8 -6.3zM132.8 15.3a2.9 2.9 29 1 0 5.1 2.8a2.9 2.9 29 1 0 -5.1 -2.8zM160.0 12.2a2.8 2.3 163 1 0 -5.5 1.6a2.8 2.3 163 1 0 5.5 -1.6zM118.3 20.5a3.0 2.7 122 1 0 -3.2 5.0a3.0 2.7 122 1 0 3.2 -5.0zM24.8 23.4a3.2 2.4 65 1 0 2.7 5.9a3.2 2.4 65 1 0 -2.7 -5.9zM41.7 28.4a2.9 2.6 9 1 0 5.7 0.9a2.9 2.6 9 1 0 -5.7 -0.9zM51.1 22.7a3.3 2.5 130 1 0 -4.3 5.1a3.3 2.5 130 1 0 4.3 -5.1zM62.0 25.1a2.9 2.6 173 1 0 -5.8 0.7a2.9 2.6 173 1 0 5.8 -0.7zM95.1 25.4a3.0 2.7 102 1 0 -1.3 5.9a3.0 2.7 102 1 0 1.3 -5.9zM14.1 33.7a2.8 2.8 45 1 0 4.0 4.0a2.8 2.8 45 1 0 -4.0 -4.0zM67.3 32.8a3.1 2.6 9 1 0 6.1 1.0a3.1 2.6 9 1 0 -6.1 -1.0zM75.4 29.5a3.2 2.3 122 1 0 -3.4 5.5a3.2 2.3 122 1 0 3.4 -5.5zM95.8 33.3a3.2 2.4 154 1 0 -5.8 2.9a3.2 2.4 154 1 0 5.8 -2.9zM134.4 28.1a3.4 3.3 81 1 0 1.1 6.6a3.4 3.3 81 1 0 -1.1 -6.6zM42.7 35.5a3.5 2.7 158 1 0 -6.5 2.6a3.5 2.7 158 1 0 6.5 -2.6zM54.6 38.6a2.8 2.0 165 1 0 -5.5 1.4a2.8 2.0 165 1 0 5.5 -1.4zM153.0 42.8a3.1 2.4 47 1 0 4.2 4.5a3.1 2.4 47 1 0 -4.2 -4.5zM13.5 49.8a3.0 2.8 80 1 0 1.0 6.0a3.0 2.8 80 1 0 -1.0 -6.0zM52.1 52.0a3.4 2.4 152 1 0 -6.0 3.2a3.4 2.4 152 1 0 6.0 -3.2zM75.9 48.9a3.3 2.4 151 1 0 -5.7 3.2a3.3 2.4 151 1 0 5.7 -3.2zM116.1 47.1a2.8 2.1 85 1 0 0.5 5.6a2.8 2.1 85 1 0 -0.5 -5.6zM136.3 47.4a3.5 2.6 29 1 0 6.1 3.5a3.5 2.6 29 1 0 -6.1 -3.5zM6.5 56.4a3.6 2.5 40 1 0 5.5 4.6a3.6 2.5 40 1 0 -5.5 -4.6zM110.4 55.4a3.7 3.0 167 1 0 -7.1 1.7a3.7 3.0 167 1 0 7.1 -1.7zM107.4 53.5a3.5 2.5 35 1 0 5.8 4.0a3.5 2.5 35 1 0 -5.8 -4.0zM113.7 54.5a3.3 2.3 40 1 0 5.0 4.2a3.3 2.3 40 1 0 -5.0 -4.2zM118.3 58.6a2.8 2.4 15 1 0 5.4 1.5a2.8 2.4 15 1 0 -5.4 -1.5zM28.9 63.7a3.3 2.8 18 1 0 6.3 2.1a3.3 2.8 18 1 0 -6.3 -2.1zM47.8 59.3a3.3 2.5 103 1 0 -1.5 6.5a3.3 2.5 103 1 0 1.5 -6.5zM91.1 61.7a3.7 2.7 104 1 0 -1.8 7.1a3.7 2.7 104 1 0 1.8 -7.1zM96.0 65.7a3.3 2.5 168 1 0 -6.4 1.4a3.3 2.5 168 1 0 6.4 -1.4zM121.8 65.9a2.8 2.6 29 1 0 5.0 2.7a2.8 2.6 29 1 0 -5.0 -2.7zM132.2 68.4a3.0 2.2 33 1 0 5.0 3.2a3.0 2.2 33 1 0 -5.0 -3.2zM15.6 82.6a3.5 2.5 125 1 0 -4.0 5.8a3.5 2.5 125 1 0 4.0 -5.8zM130.0 83.1a3.2 2.6 152 1 0 -5.6 3.0a3.2 2.6 152 1 0 5.6 -3.0zM2.0 90.9a3.4 3.2 37 1 0 5.4 4.0a3.4 3.2 37 1 0 -5.4 -4.0zM56.1 90.2a3.1 3.0 9 1 0 6.0 0.9a3.1 3.0 9 1 0 -6.0 -0.9zM156.7 94.6a3.6 3.1 169 1 0 -7.1 1.4a3.6 3.1 169 1 0 7.1 -1.4zM165.0 94.9a3.0 2.6 121 1 0 -3.1 5.1a3.0 2.6 121 1 0 3.1 -5.1zM25.6 105.4a3.3 3.2 11 1 0 6.6 1.3a3.3 3.2 11 1 0 -6.6 -1.3zM55.7 104.6a3.0 2.3 147 1 0 -5.0 3.3a3.0 2.3 147 1 0 5.0 -3.3zM105.5 104.7a2.8 2.0 161 1 0 -5.3 1.8a2.8 2.0 161 1 0 5.3 -1.8zM118.7 105.8a3.4 3.3 15 1 0 6.5 1.7a3.4 3.3 15 1 0 -6.5 -1.7zM3.3 116.9a3.0 2.1 55 1 0 3.4 4.9a3.0 2.1 55 1 0 -3.4 -4.9zM70.7 115.4a3.5 2.8 149 1 0 -6.0 3.6a3.5 2.8 149 1 0 6.0 -3.6zM86.0 114.2a2.9 2.8 177 1 0 -5.7 0.3a2.9 2.8 177 1 0 5.7 -0.3zM84.4 117.3a3.4 3.3 14 1 0 6.6 1.6a3.4 3.3 14 1 0 -6.6 -1.6zM101.9 115.1a3.4 3.2 153 1 0 -6.0 3.1a3.4 3.2 153 1 0 6.0 -3.1zM118.9 115.0a2.8 2.6 165 1 0 -5.3 1.4a2.8 2.6 165 1 0 5.3 -1.4zM14.8 121.4a3.3 3.0 16 1 0 6.3 1.8a3.3 3.0 16 1 0 -6.3 -1.8zM31.5 119.1a3.4 2.4 122 1 0 -3.6 5.7a3.4 2.4 122 1 0 3.6 -5.7z"/>
<path fill="#a8b0d0" d="M101.5 -4.4a3.2 2.3 130 1 0 -4.2 4.9a3.2 2.3 130 1 0 4.2 -4.9zM137.1 -3.3a3.7 3.3 160 1 0 -6.9 2.5a3.7 3.3 160 1 0 6.9 -2.5zM21.2 0.7a3.5 3.3 104 1 0 -1.6 6.8a3.5 3.3 104 1 0 1.6 -6.8zM25.8 0.3a3.6 3.3 76 1 0 1.8 7.1a3.6 3.3 76 1 0 -1.8 -7.1zM58.3 1.7a2.9 2.3 125 1 0 -3.2 4.7a2.9 2.3 125 1 0 3.2 -4.7zM92.4 -2.4a3.4 2.8 89 1 0 0.1 6.9a3.4 2.8 89 1 0 -0.1 -6.9zM110.4 -0.8a3.0 2.6 92 1 0 -0.2 5.9a3.0 2.6 92 1 0 0.2 -5.9zM132.9 1.4a3.6 2.7 157 1 0 -6.7 2.9a3.6 2.7 157 1 0 6.7 -2.9zM-4.5 6.0a3.3 3.3 33 1 0 5.6 3.7a3.3 3.3 33 1 0 -5.6 -3.7zM36.5 4.1a3.1 2.6 112 1 0 -2.3 5.8a3.1 2.6 112 1 0 2.3 -5.8zM101.3 10.4a3.6 3.0 12 1 0 7.0 1.4a3.6 3.0 12 1 0 -7.0 -1.4zM154.0 4.1a3.0 2.7 91 1 0 -0.1 6.0a3.0 2.7 91 1 0 0.1 -6.0zM161.8 6.8a2.8 2.0 152 1 0 -4.9 2.6a2.8 2.0 152 1 0 4.9 -2.6zM-3.2 17.3a3.2 2.8 4 1 0 6.3 0.4a3.2 2.8 4 1 0 -6.3 -0.4zM10.7 12.2a2.8 2.5 27 1 0 4.9 2.6a2.8 2.5 27 1 0 -4.9 -2.6zM29.9 11.4a3.1 2.2 54 1 0 3.6 4.9a3.1 2.2 54 1 0 -3.6 -4.9zM113.9 13.0a2.9 2.3 92 1 0 -0.2 5.8a2.9 2.3 92 1 0 0.2 -5.8zM126.0 14.3a2.8 2.3 70 1 0 1.9 5.2a2.8 2.3 70 1 0 -1.9 -5.2zM0.1 20.3a3.7 3.1 26 1 0 6.6 3.2a3.7 3.1 26 1 0 -6.6 -3.2zM13.0 16.3a3.1 2.4 100 1 0 -1.0 6.0a3.1 2.4 100 1 0 1.0 -6.0zM35.3 20.8a3.3 2.6 162 1 0 -6.3 2.0a3.3 2.6 162 1 0 6.3 -2.0zM40.4 16.4a2.8 2.7 98 1 0 -0.8 5.5a2.8 2.7 98 1 0 0.8 -5.5zM54.6 20.3a3.2 2.4 164 1 0 -6.1 1.7a3.2 2.4 164 1 0 6.1 -1.7zM57.1 16.3a3.6 2.7 124 1 0 -4.0 6.1a3.6 2.7 124 1 0 4.0 -6.1zM81.1 15.7a2.8 2.1 83 1 0 0.6 5.5a2.8 2.1 83 1 0 -0.6 -5.5zM86.3 17.0a2.8 2.2 108 1 0 -1.7 5.3a2.8 2.2 108 1 0 1.7 -5.3zM116.0 18.6a3.4 2.9 150 1 0 -5.9 3.4a3.4 2.9 150 1 0 5.9 -3.4zM117.3 20.1a3.6 2.7 25 1 0 6.5 3.0a3.6 2.7 25 1 0 -6.5 -3.0zM134.8 16.1a2.8 2.7 65 1 0 2.3 5.0a2.8 2.7 65 1 0 -2.3 -5.0zM136.6 21.2a3.0 2.4 49 1 0 3.9 4.5a3.0 2.4 49 1 0 -3.9 -4.5zM151.5 18.1a3.0 3.0 50 1 0 3.8 4.6a3.0 3.0 50 1 0 -3.8 -4.6zM-3.4 25.5a2.8 1.9 23 1 0 5.1 2.2a2.8 1.9 23 1 0 -5.1 -2.2zM12.6 23.2a3.3 2.4 121 1 0 -3.5 5.7a3.3 2.4 121 1 0 3.5 -5.7zM40.3 25.4a2.9 2.6 137 1 0 -4.3 4.0a2.9 2.6 137 1 0 4.3 -4.0zM-3.3 30.5a3.3 2.8 61 1 0 3.2 5.7a3.3 2.8 61 1 0 -3.2 -5.7zM2.6 30.9a2.8 2.5 114 1 0 -2.3 5.1a2.8 2.5 114 1 0 2.3 -5.1zM31.4 31.1a3.5 3.5 168 1 0 -6.9 1.5a3.5 3.5 168 1 0 6.9 -1.5zM102.5 34.7a3.0 2.7 177 1 0 -5.9 0.4a3.0 2.7 177 1 0 5.9 -0.4zM79.0 35.3a3.1 2.6 91 1 0 -0.1 6.2a3.1 2.6 91 1 0 0.1 -6.2zM136.5 37.1a3.2 3.1 95 1 0 -0.6 6.3a3.2 3.1 95 1 0 0.6 -6.3zM-0.7 43.5a3.2 2.7 66 1 0 2.6 5.9a3.2 2.7 66 1 0 -2.6 -5.9zM24.6 45.5a2.9 2.7 167 1 0 -5.6 1.3a2.9 2.7 167 1 0 5.6 -1.3zM22.5 44.7a2.8 2.1 39 1 0 4.4 3.6a2.8 2.1 39 1 0 -4.4 -3.6zM29.5 43.9a3.6 3.0 41 1 0 5.4 4.7a3.6 3.0 41 1 0 -5.4 -4.7zM73.0 45.2a3.7 3.3 39 1 0 5.7 4.6a3.7 3.3 39 1 0 -5.7 -4.6zM84.2 43.7a3.0 2.7 32 1 0 5.0 3.2a3.0 2.7 32 1 0 -5.0 -3.2zM121.9 42.3a3.2 3.1 80 1 0 1.1 6.4a3.2 3.1 80 1 0 -1.1 -6.4zM129.7 45.0a3.4 2.9 135 1 0 -4.8 4.8a3.4 2.9 135 1 0 4.8 -4.8zM0.2 48.9a3.5 2.5 131 1 0 -4.6 5.3a3.5 2.5 131 1 0 4.6 -5.3zM21.7 48.9a3.0 2.5 83 1 0 0.7 6.0a3.0 2.5 83 1 0 -0.7 -6.0zM107.1 48.3a3.4 2.8 37 1 0 5.4 4.1a3.4 2.8 37 1 0 -5.4 -4.1zM142.7 45.0a3.7 2.7 77 1 0 1.7 7.2a3.7 2.7 77 1 0 -1.7 -7.2zM11.6 57.3a2.9 2.1 26 1 0 5.3 2.5a2.9 2.1 26 1 0 -5.3 -2.5zM22.9 54.9a3.0 2.5 96 1 0 -0.6 6.0a3.0 2.5 96 1 0 0.6 -6.0zM38.4 56.4a2.8 2.7 87 1 0 0.3 5.5a2.8 2.7 87 1 0 -0.3 -5.5zM55.8 54.2a2.8 2.2 111 1 0 -2.0 5.3a2.8 2.2 111 1 0 2.0 -5.3zM66.2 58.8a3.2 3.0 166 1 0 -6.1 1.5a3.2 3.0 166 1 0 6.1 -1.5zM136.0 53.2a3.0 2.5 139 1 0 -4.5 3.9a3.0 2.5 139 1 0 4.5 -3.9zM111.9 59.8a2.7 2.2 49 1 0 3.6 4.1a2.7 2.2 49 1 0 -3.6 -4.1zM119.4 61.6a2.8 2.1 99 1 0 -0.9 5.5a2.8 2.1 99 1 0 0.9 -5.5zM150.4 59.8a3.2 2.9 144 1 0 -5.2 3.8a3.2 2.9 144 1 0 5.2 -3.8zM34.6 65.9a2.8 2.1 82 1 0 0.8 5.5a2.8 2.1 82 1 0 -0.8 -5.5zM39.8 67.4a3.3 2.4 150 1 0 -5.7 3.3a3.3 2.4 150 1 0 5.7 -3.3zM50.5 66.2a2.8 2.5 37 1 0 4.4 3.3a2.8 2.5 37 1 0 -4.4 -3.3zM140.0 64.5a3.5 3.3 79 1 0 1.3 6.8a3.5 3.3 79 1 0 -1.3 -6.8zM-1.2 75.6a3.6 2.6 14 1 0 7.0 1.8a3.6 2.6 14 1 0 -7.0 -1.8zM125.5 73.2a2.9 2.5 101 1 0 -1.1 5.7a2.9 2.5 101 1 0 1.1 -5.7zM140.8 69.8a3.0 3.0 61 1 0 2.9 5.3a3.0 3.0 61 1 0 -2.9 -5.3zM12.6 79.2a3.0 2.1 160 1 0 -5.7 2.1a3.0 2.1 160 1 0 5.7 -2.1zM55.9 78.4a2.8 2.0 157 1 0 -5.2 2.2a2.8 2.0 157 1 0 5.2 -2.2zM87.7 81.9a3.1 2.7 163 1 0 -5.9 1.7a3.1 2.7 163 1 0 5.9 -1.7zM145.8 76.9a3.1 2.7 137 1 0 -4.5 4.2a3.1 2.7 137 1 0 4.5 -4.2zM154.3 77.4a3.4 3.2 136 1 0 -4.9 4.7a3.4 3.2 136 1 0 4.9 -4.7zM0.4 87.4a3.2 2.9 132 1 0 -4.2 4.8a3.2 2.9 132 1 0 4.2 -4.8zM46.7 87.7a3.3 2.5 142 1 0 -5.2 4.0a3.3 2.5 142 1 0 5.2 -4.0zM53.6 85.9a3.5 2.6 106 1 0 -2.0 6.8a3.5 2.6 106 1 0 2.0 -6.8zM6.6 92.3a3.5 2.7 55 1 0 4.0 5.7a3.5 2.7 55 1 0 -4.0 -5.7zM11.9 91.3a3.6 2.9 62 1 0 3.4 6.4a3.6 2.9 62 1 0 -3.4 -6.4zM76.5 89.5a3.0 2.3 125 1 0 -3.4 4.9a3.0 2.3 125 1 0 3.4 -4.9zM143.1 91.4a2.9 2.2 4 1 0 5.8 0.4a2.9 2.2 4 1 0 -5.8 -0.4zM2.5 95.4a2.9 2.8 150 1 0 -5.0 2.9a2.9 2.8 150 1 0 5.0 -2.9zM8.7 98.6a3.1 2.8 41 1 0 4.8 4.1a3.1 2.8 41 1 0 -4.8 -4.1zM25.1 94.6a3.5 3.2 96 1 0 -0.7 7.0a3.5 3.2 96 1 0 0.7 -7.0zM52.7 100.7a2.8 2.6 179 1 0 -5.6 0.1a2.8 2.6 179 1 0 5.6 -0.1zM81.1 95.6a3.2 2.7 31 1 0 5.5 3.3a3.2 2.7 31 1 0 -5.5 -3.3zM-0.4 102.5a3.6 2.7 147 1 0 -6.0 3.9a3.6 2.7 147 1 0 6.0 -3.9zM21.1 101.0a2.8 2.2 107 1 0 -1.6 5.3a2.8 2.2 107 1 0 1.6 -5.3zM43.8 100.0a2.9 2.6 111 1 0 -2.1 5.4a2.9 2.6 111 1 0 2.1 -5.4zM65.6 102.1a3.1 3.0 92 1 0 -0.2 6.1a3.1 3.0 92 1 0 0.2 -6.1zM63.8 102.4a2.9 2.1 20 1 0 5.5 2.0a2.9 2.1 20 1 0 -5.5 -2.0zM70.9 104.9a2.8 2.2 15 1 0 5.5 1.4a2.8 2.2 15 1 0 -5.5 -1.4zM90.8 100.1a3.1 2.8 86 1 0 0.4 6.2a3.1 2.8 86 1 0 -0.4 -6.2zM101.1 99.0a3.4 3.3 101 1 0 -1.3 6.8a3.4 3.3 101 1 0 1.3 -6.8zM130.9 102.7a3.1 2.6 159 1 0 -5.7 2.1a3.1 2.6 159 1 0 5.7 -2.1zM132.6 102.0a3.3 3.0 7 1 0 6.5 0.8a3.3 3.0 7 1 0 -6.5 -0.8zM144.9 100.5a3.3 2.7 123 1 0 -3.6 5.6a3.3 2.7 123 1 0 3.6 -5.6zM28.9 109.7a3.3 2.8 154 1 0 -5.9 2.9a3.3 2.8 154 1 0 5.9 -2.9zM71.5 109.1a3.6 3.0 101 1 0 -1.3 7.0a3.6 3.0 101 1 0 1.3 -7.0zM84.8 107.4a3.1 2.9 20 1 0 5.9 2.1a3.1 2.9 20 1 0 -5.9 -2.1zM103.4 108.0a2.9 2.3 24 1 0 5.2 2.3a2.9 2.3 24 1 0 -5.2 -2.3zM157.9 107.1a3.5 3.4 137 1 0 -5.2 4.8a3.5 3.4 137 1 0 5.2 -4.8zM47.1 114.2a3.3 3.0 63 1 0 3.0 5.9a3.3 3.0 63 1 0 -3.0 -5.9zM59.4 113.4a3.6 3.4 105 1 0 -1.9 7.0a3.6 3.4 105 1 0 1.9 -7.0zM124.0 115.3a3.3 2.9 126 1 0 -3.8 5.4a3.3 2.9 126 1 0 3.8 -5.4zM131.3 115.6a3.4 3.0 10 1 0 6.8 1.2a3.4 3.0 10 1 0 -6.8 -1.2zM149.1 112.1a3.0 2.7 79 1 0 1.2 5.9a3.0 2.7 79 1 0 -1.2 -5.9zM157.1 115.6a3.2 2.6 28 1 0 5.6 3.0a3.2 2.6 28 1 0 -5.6 -3.0zM9.7 119.9a3.1 2.3 19 1 0 5.9 2.0a3.1 2.3 19 1 0 -5.9 -2.0zM60.5 117.9a3.3 2.7 88 1 0 0.2 6.5a3.3 2.7 88 1 0 -0.2 -6.5zM70.3 122.4a2.8 2.6 39 1 0 4.3 3.5a2.8 2.6 39 1 0 -4.3 -3.5zM141.4 119.4a3.7 3.3 164 1 0 -7.0 2.0a3.7 3.3 164 1 0 7.0 -2.0zM149.5 117.8a3.1 2.4 118 1 0 -2.9 5.5a3.1 2.4 118 1 0 2.9 -5.5z"/>
<path fill="#98a0c0" d="M128.3 -4.0a3.3 2.9 121 1 0 -3.4 5.7a3.3 2.9 121 1 0 3.4 -5.7zM142.1 -1.1a3.2 2.9 176 1 0 -6.4 0.5a3.2 2.9 176 1 0 6.4 -0.5zM0.1 4.3a3.6 3.2 12 1 0 7.0 1.5a3.6 3.2 12 1 0 -7.0 -1.5zM117.5 0.4a2.8 2.2 122 1 0 -2.9 4.7a2.8 2.2 122 1 0 2.9 -4.7zM129.8 0.7a3.5 2.9 153 1 0 -6.2 3.1a3.5 2.9 153 1 0 6.2 -3.1zM26.2 11.0a3.6 3.0 170 1 0 -7.2 1.2a3.6 3.0 170 1 0 7.2 -1.2zM89.5 6.3a3.1 2.2 74 1 0 1.8 6.0a3.1 2.2 74 1 0 -1.8 -6.0zM128.8 9.8a3.1 2.5 143 1 0 -4.9 3.8a3.1 2.5 143 1 0 4.9 -3.8zM67.2 11.8a3.1 2.8 80 1 0 1.1 6.1a3.1 2.8 80 1 0 -1.1 -6.1zM151.8 12.1a3.2 2.5 161 1 0 -6.1 2.1a3.2 2.5 161 1 0 6.1 -2.1zM102.4 21.5a2.7 2.3 19 1 0 5.2 1.7a2.7 2.3 19 1 0 -5.2 -1.7zM19.8 23.4a3.3 2.8 95 1 0 -0.6 6.7a3.3 2.8 95 1 0 0.6 -6.7zM125.2 25.1a3.4 3.0 97 1 0 -0.8 6.8a3.4 3.0 97 1 0 0.8 -6.8zM162.9 23.4a3.0 2.4 106 1 0 -1.6 5.8a3.0 2.4 106 1 0 1.6 -5.8zM11.2 33.3a2.8 2.1 152 1 0 -4.9 2.6a2.8 2.1 152 1 0 4.9 -2.6zM19.8 30.7a3.5 3.5 43 1 0 5.2 4.8a3.5 3.5 43 1 0 -5.2 -4.8zM30.6 34.4a3.0 2.3 26 1 0 5.4 2.6a3.0 2.3 26 1 0 -5.4 -2.6zM124.8 33.5a2.8 2.0 54 1 0 3.3 4.5a2.8 2.0 54 1 0 -3.3 -4.5zM159.7 38.1a3.1 2.2 142 1 0 -4.9 3.8a3.1 2.2 142 1 0 4.9 -3.8zM69.2 43.4a3.1 2.5 79 1 0 1.2 6.1a3.1 2.5 79 1 0 -1.2 -6.1zM98.4 41.4a2.9 2.3 77 1 0 1.3 5.6a2.9 2.3 77 1 0 -1.3 -5.6zM119.6 44.7a3.1 2.7 133 1 0 -4.3 4.5a3.1 2.7 133 1 0 4.3 -4.5zM139.9 42.2a3.4 2.6 27 1 0 6.1 3.1a3.4 2.6 27 1 0 -6.1 -3.1zM149.2 42.6a2.8 2.7 137 1 0 -4.1 3.8a2.8 2.7 137 1 0 4.1 -3.8zM165.0 46.4a3.6 3.3 173 1 0 -7.2 0.9a3.6 3.3 173 1 0 7.2 -0.9zM58.1 49.0a3.4 2.7 85 1 0 0.6 6.7a3.4 2.7 85 1 0 -0.6 -6.7zM95.3 51.7a3.0 2.2 163 1 0 -5.6 1.8a3.0 2.2 163 1 0 5.6 -1.8zM47.1 56.4a2.9 2.5 39 1 0 4.5 3.7a2.9 2.5 39 1 0 -4.5 -3.7zM95.1 56.0a3.7 2.6 54 1 0 4.3 6.0a3.7 2.6 54 1 0 -4.3 -6.0zM125.1 60.3a2.8 2.1 83 1 0 0.7 5.6a2.8 2.1 83 1 0 -0.7 -5.6zM133.2 60.9a3.1 3.1 176 1 0 -6.1 0.4a3.1 3.1 176 1 0 6.1 -0.4zM161.5 63.8a3.7 3.7 176 1 0 -7.3 0.5a3.7 3.7 176 1 0 7.3 -0.5zM8.3 68.0a3.5 2.8 142 1 0 -5.6 4.4a3.5 2.8 142 1 0 5.6 -4.4zM14.7 68.1a3.1 2.5 179 1 0 -6.2 0.1a3.1 2.5 179 1 0 6.2 -0.1zM18.8 66.8a2.9 2.5 81 1 0 0.9 5.7a2.9 2.5 81 1 0 -0.9 -5.7zM67.4 65.5a3.3 3.0 45 1 0 4.6 4.7a3.3 3.0 45 1 0 -4.6 -4.7zM108.0 69.9a3.0 2.2 161 1 0 -5.7 2.0a3.0 2.2 161 1 0 5.7 -2.0zM18.4 72.1a3.6 3.2 68 1 0 2.7 6.7a3.6 3.2 68 1 0 -2.7 -6.7zM29.7 74.1a3.6 2.8 113 1 0 -2.9 6.7a3.6 2.8 113 1 0 2.9 -6.7zM70.3 73.6a3.7 3.5 34 1 0 6.1 4.1a3.7 3.5 34 1 0 -6.1 -4.1zM94.6 73.4a3.6 2.6 53 1 0 4.3 5.6a3.6 2.6 53 1 0 -4.3 -5.6zM128.5 79.3a3.2 2.7 53 1 0 3.8 5.1a3.2 2.7 53 1 0 -3.8 -5.1zM21.9 87.6a2.8 2.3 156 1 0 -5.2 2.3a2.8 2.3 156 1 0 5.2 -2.3zM81.0 87.2a2.8 2.3 15 1 0 5.4 1.4a2.8 2.3 15 1 0 -5.4 -1.4zM1.7 90.5a3.6 3.0 127 1 0 -4.3 5.8a3.6 3.0 127 1 0 4.3 -5.8zM113.2 93.5a3.0 2.6 178 1 0 -6.0 0.2a3.0 2.6 178 1 0 6.0 -0.2zM80.3 94.5a2.7 2.3 89 1 0 0.1 5.4a2.7 2.3 89 1 0 -0.1 -5.4zM112.0 96.9a3.1 2.8 45 1 0 4.4 4.4a3.1 2.8 45 1 0 -4.4 -4.4zM123.6 99.0a3.3 2.4 173 1 0 -6.6 0.8a3.3 2.4 173 1 0 6.6 -0.8zM159.2 102.1a3.4 3.2 133 1 0 -4.7 5.0a3.4 3.2 133 1 0 4.7 -5.0zM12.6 116.5a2.8 2.2 34 1 0 4.7 3.2a2.8 2.2 34 1 0 -4.7 -3.2zM99.7 118.7a3.2 3.0 3 1 0 6.3 0.3a3.2 3.0 3 1 0 -6.3 -0.3zM80.2 121.3a3.5 2.8 9 1 0 6.9 1.1a3.5 2.8 9 1 0 -6.9 -1.1z"/>
</g>
<g filter="url(#ib)">
<path fill="#7880a8" fill-opacity="0.75" d="M-3.1 -5.7a2.2 1.5 82 1 0 0.6 4.4a2.2 1.5 82 1 0 -0.6 -4.4zM99.0 -2.9a1.8 1.2 58 1 0 2.0 3.1a1.8 1.2 58 1 0 -2.0 -3.1zM61.9 5.0a1.6 1.0 149 1 0 -2.8 1.7a1.6 1.0 149 1 0 2.8 -1.7zM74.9 0.0a2.3 2.1 73 1 0 1.4 4.4a2.3 2.1 73 1 0 -1.4 -4.4zM128.3 1.6a1.8 1.3 54 1 0 2.1 2.9a1.8 1.3 54 1 0 -2.1 -2.9zM139.6 2.5a2.1 1.5 176 1 0 -4.1 0.3a2.1 1.5 176 1 0 4.1 -0.3zM155.9 2.1a2.3 1.9 65 1 0 1.9 4.1a2.3 1.9 65 1 0 -1.9 -4.1zM160.4 -0.6a2.0 1.5 66 1 0 1.6 3.7a2.0 1.5 66 1 0 -1.6 -3.7zM-0.5 6.9a2.4 2.1 152 1 0 -4.2 2.2a2.4 2.1 152 1 0 4.2 -2.2zM0.0 9.9a1.5 1.3 29 1 0 2.6 1.4a1.5 1.3 29 1 0 -2.6 -1.4zM37.7 7.0a1.7 1.3 134 1 0 -2.4 2.5a1.7 1.3 134 1 0 2.4 -2.5zM107.2 7.5a1.5 1.2 8 1 0 2.9 0.4a1.5 1.2 8 1 0 -2.9 -0.4zM0.1 15.7a2.3 2.2 85 1 0 0.4 4.6a2.3 2.2 85 1 0 -0.4 -4.6zM38.1 16.9a1.5 1.4 121 1 0 -1.5 2.5a1.5 1.4 121 1 0 1.5 -2.5zM42.4 12.0a1.7 1.4 8 1 0 3.4 0.4a1.7 1.4 8 1 0 -3.4 -0.4zM46.7 11.3a1.9 1.7 79 1 0 0.7 3.7a1.9 1.7 79 1 0 -0.7 -3.7zM87.1 12.2a2.3 2.0 96 1 0 -0.5 4.5a2.3 2.0 96 1 0 0.5 -4.5zM30.9 20.5a2.0 1.2 54 1 0 2.4 3.2a2.0 1.2 54 1 0 -2.4 -3.2zM42.9 19.1a1.6 1.4 63 1 0 1.4 2.8a1.6 1.4 63 1 0 -1.4 -2.8zM59.5 18.1a2.0 1.8 11 1 0 4.0 0.7a2.0 1.8 11 1 0 -4.0 -0.7zM105.4 20.7a1.5 1.3 145 1 0 -2.4 1.7a1.5 1.3 145 1 0 2.4 -1.7zM121.7 19.4a1.5 1.4 97 1 0 -0.4 3.1a1.5 1.4 97 1 0 0.4 -3.1zM0.9 26.1a2.3 1.5 170 1 0 -4.6 0.8a2.3 1.5 170 1 0 4.6 -0.8zM48.8 24.9a1.5 1.2 123 1 0 -1.6 2.5a1.5 1.2 123 1 0 1.6 -2.5zM147.9 26.5a2.0 1.4 4 1 0 4.0 0.3a2.0 1.4 4 1 0 -4.0 -0.3zM-2.6 33.4a1.6 1.2 8 1 0 3.1 0.4a1.6 1.2 8 1 0 -3.1 -0.4zM8.6 32.4a1.9 1.4 82 1 0 0.5 3.7a1.9 1.4 82 1 0 -0.5 -3.7zM30.8 38.2a1.7 1.5 23 1 0 3.1 1.3a1.7 1.5 23 1 0 -3.1 -1.3zM37.8 35.8a1.7 1.4 44 1 0 2.5 2.4a1.7 1.4 44 1 0 -2.5 -2.4zM150.9 39.0a2.0 1.7 144 1 0 -3.3 2.4a2.0 1.7 144 1 0 3.3 -2.4zM158.0 38.5a1.4 0.9 138 1 0 -2.1 1.9a1.4 0.9 138 1 0 2.1 -1.9zM50.4 42.9a2.0 1.6 124 1 0 -2.2 3.2a2.0 1.6 124 1 0 2.2 -3.2zM124.6 44.1a2.1 1.4 125 1 0 -2.4 3.4a2.1 1.4 125 1 0 2.4 -3.4zM37.4 48.3a2.0 1.8 88 1 0 0.2 4.0a2.0 1.8 88 1 0 -0.2 -4.0zM100.8 48.5a1.7 1.5 75 1 0 0.9 3.3a1.7 1.5 75 1 0 -0.9 -3.3zM118.0 49.0a1.7 1.1 178 1 0 -3.3 0.1a1.7 1.1 178 1 0 3.3 -0.1zM23.6 55.6a2.0 1.8 117 1 0 -1.8 3.6a2.0 1.8 117 1 0 1.8 -3.6zM30.2 58.7a1.6 1.3 21 1 0 3.1 1.2a1.6 1.3 21 1 0 -3.1 -1.2zM122.1 59.9a1.9 1.7 179 1 0 -3.9 0.1a1.9 1.7 179 1 0 3.9 -0.1zM128.1 56.4a1.5 0.9 5 1 0 3.0 0.3a1.5 0.9 5 1 0 -3.0 -0.3zM140.8 54.2a2.4 1.7 66 1 0 2.0 4.3a2.4 1.7 66 1 0 -2.0 -4.3zM4.9 61.7a2.3 1.5 6 1 0 4.6 0.5a2.3 1.5 6 1 0 -4.6 -0.5zM21.3 59.7a2.3 1.7 154 1 0 -4.1 2.0a2.3 1.7 154 1 0 4.1 -2.0zM33.1 63.0a1.8 1.4 125 1 0 -2.1 3.0a1.8 1.4 125 1 0 2.1 -3.0zM55.4 61.9a2.1 1.7 83 1 0 0.5 4.3a2.1 1.7 83 1 0 -0.5 -4.3zM104.0 59.0a2.2 1.6 80 1 0 0.8 4.4a2.2 1.6 80 1 0 -0.8 -4.4zM127.6 62.0a2.0 1.7 139 1 0 -3.0 2.7a2.0 1.7 139 1 0 3.0 -2.7zM128.2 61.1a1.6 1.4 43 1 0 2.3 2.1a1.6 1.4 43 1 0 -2.3 -2.1zM52.0 66.1a2.4 1.8 87 1 0 0.2 4.7a2.4 1.8 87 1 0 -0.2 -4.7zM13.7 74.0a2.1 1.7 163 1 0 -4.0 1.2a2.1 1.7 163 1 0 4.0 -1.2zM26.9 77.1a1.8 1.7 13 1 0 3.5 0.8a1.8 1.7 13 1 0 -3.5 -0.8zM34.0 73.2a1.4 1.3 110 1 0 -1.0 2.7a1.4 1.3 110 1 0 1.0 -2.7zM41.3 71.1a1.6 1.2 117 1 0 -1.5 2.9a1.6 1.2 117 1 0 1.5 -2.9zM-2.9 82.8a2.2 1.7 137 1 0 -3.3 3.0a2.2 1.7 137 1 0 3.3 -3.0zM37.1 85.7a1.9 1.7 141 1 0 -3.0 2.4a1.9 1.7 141 1 0 3.0 -2.4zM56.4 86.2a1.4 0.9 76 1 0 0.7 2.7a1.4 0.9 76 1 0 -0.7 -2.7zM105.7 86.8a1.5 1.4 58 1 0 1.6 2.6a1.5 1.4 58 1 0 -1.6 -2.6zM144.3 86.1a2.4 1.8 65 1 0 2.0 4.3a2.4 1.8 65 1 0 -2.0 -4.3zM2.6 91.5a2.4 2.2 53 1 0 2.9 3.8a2.4 2.2 53 1 0 -2.9 -3.8zM98.5 93.5a2.0 1.8 17 1 0 3.8 1.2a2.0 1.8 17 1 0 -3.8 -1.2zM153.3 92.6a2.1 1.9 97 1 0 -0.5 4.2a2.1 1.9 97 1 0 0.5 -4.2zM51.0 98.7a2.1 1.7 133 1 0 -2.9 3.1a2.1 1.7 133 1 0 2.9 -3.1zM69.2 95.1a2.4 2.1 121 1 0 -2.4 4.1a2.4 2.1 121 1 0 2.4 -4.1zM143.4 98.9a1.9 1.3 153 1 0 -3.3 1.7a1.9 1.3 153 1 0 3.3 -1.7zM150.9 98.6a2.1 1.9 147 1 0 -3.5 2.3a2.1 1.9 147 1 0 3.5 -2.3zM13.7 102.8a1.6 1.2 102 1 0 -0.7 3.2a1.6 1.2 102 1 0 0.7 -3.2zM19.9 101.9a1.5 0.9 91 1 0 -0.0 3.0a1.5 0.9 91 1 0 0.0 -3.0zM3.2 108.2a2.2 1.6 68 1 0 1.7 4.1a2.2 1.6 68 1 0 -1.7 -4.1zM12.8 109.7a1.7 1.5 47 1 0 2.4 2.5a1.7 1.5 47 1 0 -2.4 -2.5zM68.0 112.3a2.4 1.6 0 1 0 4.8 0.0a2.4 1.6 0 1 0 -4.8 -0.0zM85.8 106.4a2.0 1.8 32 1 0 3.4 2.1a2.0 1.8 32 1 0 -3.4 -2.1zM153.2 109.1a1.7 1.3 153 1 0 -3.0 1.5a1.7 1.3 153 1 0 3.0 -1.5zM163.8 112.0a2.2 1.9 170 1 0 -4.4 0.8a2.2 1.9 170 1 0 4.4 -0.8zM110.8 117.5a1.6 1.0 25 1 0 2.8 1.3a1.6 1.0 25 1 0 -2.8 -1.3zM10.2 121.7a2.4 2.2 4 1 0 4.7 0.3a2.4 2.2 4 1 0 -4.7 -0.3zM23.9 119.9a1.9 1.8 99 1 0 -0.6 3.8a1.9 1.8 99 1 0 0.6 -3.8zM26.8 122.3a2.1 1.7 10 1 0 4.1 0.7a2.1 1.7 10 1 0 -4.1 -0.7zM57.8 119.5a1.5 0.9 155 1 0 -2.7 1.3a1.5 0.9 155 1 0 2.7 -1.3zM60.8 118.9a1.4 1.0 99 1 0 -0.4 2.9a1.4 1.0 99 1 0 0.4 -2.9zM29.9 104.1a1.4 1.2 137 1 0 -2.1 1.9a1.4 1.2 137 1 0 2.1 -1.9zM151.6 0.2a2.1 1.9 119 1 0 -2.1 3.7a2.1 1.9 119 1 0 2.1 -3.7zM137.8 25.4a2.3 2.1 78 1 0 1.0 4.6a2.3 2.1 78 1 0 -1.0 -4.6zM95.2 119.4a1.5 1.3 6 1 0 3.1 0.3a1.5 1.3 6 1 0 -3.1 -0.3zM104.5 69.3a2.1 1.9 74 1 0 1.1 4.0a2.1 1.9 74 1 0 -1.1 -4.0zM121.1 5.6a2.1 1.6 2 1 0 4.3 0.1a2.1 1.6 2 1 0 -4.3 -0.1z"/>
<path fill="#8088b0" fill-opacity="0.75" d="M3.1 -0.9a2.0 1.5 27 1 0 3.6 1.8a2.0 1.5 27 1 0 -3.6 -1.8zM102.7 -5.2a2.2 1.8 97 1 0 -0.5 4.4a2.2 1.8 97 1 0 0.5 -4.4zM-4.0 -0.7a2.2 1.6 43 1 0 3.2 3.0a2.2 1.6 43 1 0 -3.2 -3.0zM26.9 3.0a1.9 1.6 127 1 0 -2.3 3.0a1.9 1.6 127 1 0 2.3 -3.0zM30.2 4.5a2.3 2.0 130 1 0 -3.0 3.5a2.3 2.0 130 1 0 3.0 -3.5zM16.5 10.7a2.0 1.7 7 1 0 4.0 0.5a2.0 1.7 7 1 0 -4.0 -0.5zM35.2 4.5a2.1 1.5 101 1 0 -0.8 4.2a2.1 1.5 101 1 0 0.8 -4.2zM147.7 5.6a1.6 1.1 96 1 0 -0.3 3.2a1.6 1.1 96 1 0 0.3 -3.2zM159.3 6.3a2.3 1.8 80 1 0 0.8 4.4a2.3 1.8 80 1 0 -0.8 -4.4zM54.7 16.4a1.5 1.3 131 1 0 -1.9 2.2a1.5 1.3 131 1 0 1.9 -2.2zM111.5 16.6a1.9 1.4 0 1 0 3.8 0.0a1.9 1.4 0 1 0 -3.8 -0.0zM162.2 10.1a2.3 1.6 82 1 0 0.6 4.6a2.3 1.6 82 1 0 -0.6 -4.6zM4.7 22.2a2.2 1.5 173 1 0 -4.3 0.5a2.2 1.5 173 1 0 4.3 -0.5zM9.5 22.2a1.4 1.0 140 1 0 -2.2 1.8a1.4 1.0 140 1 0 2.2 -1.8zM38.1 17.6a2.1 1.3 45 1 0 2.9 3.0a2.1 1.3 45 1 0 -2.9 -3.0zM53.5 18.1a1.7 1.1 56 1 0 1.9 2.9a1.7 1.1 56 1 0 -1.9 -2.9zM100.7 18.0a1.5 1.1 164 1 0 -2.8 0.8a1.5 1.1 164 1 0 2.8 -0.8zM125.2 19.9a2.1 1.5 62 1 0 2.0 3.8a2.1 1.5 62 1 0 -2.0 -3.8zM148.3 21.1a1.6 1.0 153 1 0 -2.8 1.4a1.6 1.0 153 1 0 2.8 -1.4zM105.3 26.6a2.2 1.7 133 1 0 -2.9 3.2a2.2 1.7 133 1 0 2.9 -3.2zM125.7 28.8a1.5 0.9 175 1 0 -2.9 0.2a1.5 0.9 175 1 0 2.9 -0.2zM157.9 27.5a2.3 1.5 150 1 0 -4.1 2.3a2.3 1.5 150 1 0 4.1 -2.3zM21.9 31.1a1.9 1.5 43 1 0 2.8 2.6a1.9 1.5 43 1 0 -2.8 -2.6zM33.8 32.6a2.3 2.1 96 1 0 -0.5 4.6a2.3 2.1 96 1 0 0.5 -4.6zM52.0 35.0a2.2 1.5 12 1 0 4.3 0.9a2.2 1.5 12 1 0 -4.3 -0.9zM105.9 28.6a1.7 1.0 95 1 0 -0.3 3.3a1.7 1.0 95 1 0 0.3 -3.3zM107.4 31.7a1.6 1.3 28 1 0 2.8 1.5a1.6 1.3 28 1 0 -2.8 -1.5zM125.8 33.7a1.9 1.3 68 1 0 1.4 3.5a1.9 1.3 68 1 0 -1.4 -3.5zM50.4 39.8a2.0 1.6 16 1 0 3.9 1.1a2.0 1.6 16 1 0 -3.9 -1.1zM128.1 34.3a1.7 1.4 110 1 0 -1.2 3.1a1.7 1.4 110 1 0 1.2 -3.1zM22.7 45.1a2.3 2.0 57 1 0 2.5 3.8a2.3 2.0 57 1 0 -2.5 -3.8zM85.6 44.4a1.7 1.5 19 1 0 3.2 1.1a1.7 1.5 19 1 0 -3.2 -1.1zM116.6 46.2a2.3 2.0 39 1 0 3.5 2.9a2.3 2.0 39 1 0 -3.5 -2.9zM-2.1 50.3a2.2 1.4 72 1 0 1.4 4.2a2.2 1.4 72 1 0 -1.4 -4.2zM63.7 49.9a2.3 1.8 90 1 0 0.0 4.6a2.3 1.8 90 1 0 -0.0 -4.6zM78.5 51.7a2.2 1.6 67 1 0 1.7 4.0a2.2 1.6 67 1 0 -1.7 -4.0zM127.4 47.5a1.6 1.2 69 1 0 1.1 2.9a1.6 1.2 69 1 0 -1.1 -2.9zM143.0 46.0a2.1 1.9 88 1 0 0.1 4.1a2.1 1.9 88 1 0 -0.1 -4.1zM155.2 52.8a1.8 1.3 165 1 0 -3.5 0.9a1.8 1.3 165 1 0 3.5 -0.9zM25.0 55.7a1.6 1.4 74 1 0 0.9 3.2a1.6 1.4 74 1 0 -0.9 -3.2zM86.8 53.4a2.3 1.7 45 1 0 3.3 3.3a2.3 1.7 45 1 0 -3.3 -3.3zM107.8 56.4a1.7 1.0 179 1 0 -3.4 0.1a1.7 1.0 179 1 0 3.4 -0.1zM109.6 53.3a1.8 1.1 58 1 0 1.9 3.1a1.8 1.1 58 1 0 -1.9 -3.1zM23.3 61.6a2.3 1.7 90 1 0 -0.0 4.6a2.3 1.7 90 1 0 0.0 -4.6zM112.4 60.8a2.1 1.9 71 1 0 1.4 3.9a2.1 1.9 71 1 0 -1.4 -3.9zM136.7 61.4a1.8 1.5 7 1 0 3.6 0.4a1.8 1.5 7 1 0 -3.6 -0.4zM158.8 68.9a2.3 1.8 121 1 0 -2.4 4.0a2.3 1.8 121 1 0 2.4 -4.0zM65.6 74.2a1.9 1.1 179 1 0 -3.8 0.1a1.9 1.1 179 1 0 3.8 -0.1zM22.4 80.4a2.0 1.2 90 1 0 -0.0 4.0a2.0 1.2 90 1 0 0.0 -4.0zM149.0 80.6a1.8 1.7 106 1 0 -1.0 3.4a1.8 1.7 106 1 0 1.0 -3.4zM12.7 83.8a2.4 1.5 42 1 0 3.5 3.2a2.4 1.5 42 1 0 -3.5 -3.2zM43.7 87.7a1.5 1.1 77 1 0 0.7 3.0a1.5 1.1 77 1 0 -0.7 -3.0zM45.9 89.3a1.8 1.6 15 1 0 3.6 1.0a1.8 1.6 15 1 0 -3.6 -1.0zM99.6 86.2a2.0 1.6 156 1 0 -3.7 1.7a2.0 1.6 156 1 0 3.7 -1.7zM160.5 85.2a1.6 1.3 47 1 0 2.1 2.3a1.6 1.3 47 1 0 -2.1 -2.3zM76.1 90.8a2.1 1.6 156 1 0 -3.9 1.7a2.1 1.6 156 1 0 3.9 -1.7zM141.7 94.9a1.5 1.3 47 1 0 2.1 2.3a1.5 1.3 47 1 0 -2.1 -2.3zM73.9 101.1a1.6 1.5 177 1 0 -3.3 0.2a1.6 1.5 177 1 0 3.3 -0.2zM113.0 98.2a2.1 1.8 54 1 0 2.5 3.3a2.1 1.8 54 1 0 -2.5 -3.3zM31.8 106.0a1.5 1.4 96 1 0 -0.3 3.0a1.5 1.4 96 1 0 0.3 -3.0zM157.3 103.2a1.9 1.5 133 1 0 -2.7 2.8a1.9 1.5 133 1 0 2.7 -2.8zM66.9 110.8a2.1 1.9 69 1 0 1.5 3.9a2.1 1.9 69 1 0 -1.5 -3.9zM114.7 112.0a1.7 1.4 154 1 0 -3.0 1.5a1.7 1.4 154 1 0 3.0 -1.5zM146.1 110.5a2.4 2.1 148 1 0 -4.1 2.5a2.4 2.1 148 1 0 4.1 -2.5zM14.6 115.6a2.1 2.0 53 1 0 2.6 3.4a2.1 2.0 53 1 0 -2.6 -3.4zM31.6 114.7a1.8 1.4 82 1 0 0.5 3.5a1.8 1.4 82 1 0 -0.5 -3.5zM42.6 118.7a2.1 1.6 153 1 0 -3.7 1.9a2.1 1.6 153 1 0 3.7 -1.9zM123.2 117.4a1.7 1.2 170 1 0 -3.3 0.6a1.7 1.2 170 1 0 3.3 -0.6zM127.2 111.9a2.2 1.5 62 1 0 2.1 3.9a2.2 1.5 62 1 0 -2.1 -3.9zM83.5 119.4a1.9 1.3 67 1 0 1.5 3.4a1.9 1.3 67 1 0 -1.5 -3.4zM142.0 122.2a1.4 0.9 38 1 0 2.2 1.8a1.4 0.9 38 1 0 -2.2 -1.8zM136.8 55.5a2.2 1.8 69 1 0 1.6 4.0a2.2 1.8 69 1 0 -1.6 -4.0zM127.3 87.2a2.3 1.7 162 1 0 -4.5 1.4a2.3 1.7 162 1 0 4.5 -1.4zM99.4 20.8a1.7 1.1 61 1 0 1.6 2.9a1.7 1.1 61 1 0 -1.6 -2.9zM153.7 8.3a1.5 1.2 126 1 0 -1.8 2.5a1.5 1.2 126 1 0 1.8 -2.5z"/>
<path fill="#7078a0" fill-opacity="0.75" d="M4.9 -2.1a2.0 1.3 50 1 0 2.6 3.1a2.0 1.3 50 1 0 -2.6 -3.1zM113.7 19.4a1.5 1.1 119 1 0 -1.5 2.6a1.5 1.1 119 1 0 1.5 -2.6zM136.6 23.4a1.6 1.5 42 1 0 2.4 2.1a1.6 1.5 42 1 0 -2.4 -2.1zM42.5 27.0a1.7 1.2 34 1 0 2.7 1.9a1.7 1.2 34 1 0 -2.7 -1.9zM156.7 34.1a1.4 1.2 27 1 0 2.5 1.3a1.4 1.2 27 1 0 -2.5 -1.3zM80.2 64.6a1.6 1.5 121 1 0 -1.7 2.8a1.6 1.5 121 1 0 1.7 -2.8zM99.2 76.4a2.3 1.4 176 1 0 -4.5 0.3a2.3 1.4 176 1 0 4.5 -0.3z"/>
<path fill="#8088a8" fill-opacity="0.75" d="M10.2 -2.6a1.9 1.3 8 1 0 3.8 0.5a1.9 1.3 8 1 0 -3.8 -0.5zM114.2 -5.2a2.4 2.2 52 1 0 3.0 3.7a2.4 2.2 52 1 0 -3.0 -3.7zM27.8 5.7a2.2 1.8 59 1 0 2.2 3.8a2.2 1.8 59 1 0 -2.2 -3.8zM110.4 15.9a1.7 1.0 145 1 0 -2.7 1.9a1.7 1.0 145 1 0 2.7 -1.9zM136.1 17.0a2.3 2.0 70 1 0 1.6 4.4a2.3 2.0 70 1 0 -1.6 -4.4zM53.3 23.4a1.7 1.5 90 1 0 -0.0 3.5a1.7 1.5 90 1 0 0.0 -3.5zM133.9 29.3a2.1 1.8 67 1 0 1.6 3.9a2.1 1.8 67 1 0 -1.6 -3.9zM127.6 45.3a1.5 1.2 116 1 0 -1.3 2.7a1.5 1.2 116 1 0 1.3 -2.7zM93.0 51.9a1.6 1.2 103 1 0 -0.7 3.1a1.6 1.2 103 1 0 0.7 -3.1zM81.5 53.9a1.9 1.8 38 1 0 3.1 2.4a1.9 1.8 38 1 0 -3.1 -2.4zM19.3 74.1a1.9 1.4 80 1 0 0.7 3.7a1.9 1.4 80 1 0 -0.7 -3.7zM59.6 73.1a1.9 1.4 64 1 0 1.6 3.3a1.9 1.4 64 1 0 -1.6 -3.3zM161.0 71.4a2.2 2.0 34 1 0 3.6 2.4a2.2 2.0 34 1 0 -3.6 -2.4zM-1.7 80.2a2.2 2.0 32 1 0 3.8 2.4a2.2 2.0 32 1 0 -3.8 -2.4zM144.7 77.6a1.5 1.0 159 1 0 -2.8 1.1a1.5 1.0 159 1 0 2.8 -1.1zM81.5 90.8a1.5 1.3 109 1 0 -1.0 2.8a1.5 1.3 109 1 0 1.0 -2.8zM88.8 93.0a1.4 1.2 162 1 0 -2.7 0.9a1.4 1.2 162 1 0 2.7 -0.9zM38.3 98.4a2.0 1.5 162 1 0 -3.8 1.2a2.0 1.5 162 1 0 3.8 -1.2zM149.7 104.0a2.3 1.7 116 1 0 -2.1 4.2a2.3 1.7 116 1 0 2.1 -4.2zM68.9 73.2a1.8 1.4 108 1 0 -1.1 3.4a1.8 1.4 108 1 0 1.1 -3.4zM49.0 24.0a2.0 1.3 161 1 0 -3.7 1.3a2.0 1.3 161 1 0 3.7 -1.3z"/>
<path fill="#7078a0" fill-opacity="0.8" d="M19.0 -2.0a2.2 1.3 26 1 0 3.9 1.9a2.2 1.3 26 1 0 -3.9 -1.9zM76.1 9.5a2.2 1.8 155 1 0 -4.0 1.9a2.2 1.8 155 1 0 4.0 -1.9zM156.7 108.4a1.5 1.4 171 1 0 -2.9 0.5a1.5 1.4 171 1 0 2.9 -0.5z"/>
<path fill="#607098" fill-opacity="0.8" d="M35.0 -5.5a2.1 2.0 51 1 0 2.7 3.3a2.1 2.0 51 1 0 -2.7 -3.3zM112.1 -3.5a1.4 1.3 147 1 0 -2.4 1.5a1.4 1.3 147 1 0 2.4 -1.5zM145.4 -2.1a1.6 1.1 134 1 0 -2.2 2.3a1.6 1.1 134 1 0 2.2 -2.3zM1.8 3.2a2.0 1.4 32 1 0 3.4 2.1a2.0 1.4 32 1 0 -3.4 -2.1zM10.2 1.0a2.3 1.6 80 1 0 0.8 4.5a2.3 1.6 80 1 0 -0.8 -4.5zM115.4 10.9a1.4 1.2 37 1 0 2.2 1.7a1.4 1.2 37 1 0 -2.2 -1.7zM73.7 18.2a2.2 2.0 10 1 0 4.4 0.8a2.2 2.0 10 1 0 -4.4 -0.8zM16.3 51.6a1.9 1.7 147 1 0 -3.2 2.1a1.9 1.7 147 1 0 3.2 -2.1zM150.9 51.5a1.3 1.2 64 1 0 1.1 2.4a1.3 1.2 64 1 0 -1.1 -2.4zM-0.6 59.7a1.7 1.3 126 1 0 -2.0 2.7a1.7 1.3 126 1 0 2.0 -2.7zM-2.7 69.8a1.5 1.0 170 1 0 -3.0 0.5a1.5 1.0 170 1 0 3.0 -0.5zM24.7 75.1a1.3 1.0 70 1 0 0.9 2.5a1.3 1.0 70 1 0 -0.9 -2.5zM133.5 77.3a2.0 1.8 98 1 0 -0.6 3.9a2.0 1.8 98 1 0 0.6 -3.9zM109.6 92.3a1.7 1.2 88 1 0 0.1 3.4a1.7 1.2 88 1 0 -0.1 -3.4zM81.0 104.2a2.2 2.0 135 1 0 -3.0 3.1a2.2 2.0 135 1 0 3.0 -3.1zM136.6 102.8a1.7 1.5 163 1 0 -3.3 1.0a1.7 1.5 163 1 0 3.3 -1.0zM-2.8 111.1a1.9 1.4 55 1 0 2.2 3.1a1.9 1.4 55 1 0 -2.2 -3.1zM161.1 114.9a2.0 1.8 110 1 0 -1.4 3.8a2.0 1.8 110 1 0 1.4 -3.8zM13.6 14.4a1.9 1.4 49 1 0 2.5 2.8a1.9 1.4 49 1 0 -2.5 -2.8z"/>
<path fill="#6870a0" fill-opacity="0.8" d="M38.3 -4.1a1.4 1.0 92 1 0 -0.1 2.7a1.4 1.0 92 1 0 0.1 -2.7zM0.1 55.6a2.1 1.7 52 1 0 2.6 3.3a2.1 1.7 52 1 0 -2.6 -3.3zM114.4 83.9a2.2 2.1 174 1 0 -4.4 0.5a2.2 2.1 174 1 0 4.4 -0.5zM75.0 106.4a1.4 1.1 173 1 0 -2.8 0.4a1.4 1.1 173 1 0 2.8 -0.4zM23.9 111.8a2.1 1.5 7 1 0 4.3 0.5a2.1 1.5 7 1 0 -4.3 -0.5z"/>
<path fill="#8888b0" fill-opacity="0.75" d="M59.1 -0.5a2.0 1.4 174 1 0 -4.0 0.4a2.0 1.4 174 1 0 4.0 -0.4zM158.0 11.9a1.9 1.4 102 1 0 -0.8 3.8a1.9 1.4 102 1 0 0.8 -3.8zM7.2 70.0a2.2 2.0 169 1 0 -4.2 0.8a2.2 2.0 169 1 0 4.2 -0.8zM58.6 68.9a1.5 1.1 152 1 0 -2.7 1.4a1.5 1.1 152 1 0 2.7 -1.4zM11.7 92.2a1.7 1.3 58 1 0 1.8 2.8a1.7 1.3 58 1 0 -1.8 -2.8z"/>
<path fill="#8890b0" fill-opacity="0.75" d="M77.8 -0.9a1.8 1.7 34 1 0 3.1 2.1a1.8 1.7 34 1 0 -3.1 -2.1zM18.3 25.2a2.1 1.6 48 1 0 2.8 3.1a2.1 1.6 48 1 0 -2.8 -3.1zM123.5 26.7a2.3 1.9 157 1 0 -4.2 1.7a2.3 1.9 157 1 0 4.2 -1.7zM144.6 24.5a2.2 1.6 168 1 0 -4.2 0.9a2.2 1.6 168 1 0 4.2 -0.9zM112.8 41.4a1.7 1.6 64 1 0 1.5 3.1a1.7 1.6 64 1 0 -1.5 -3.1zM163.3 52.8a2.1 1.5 145 1 0 -3.4 2.4a2.1 1.5 145 1 0 3.4 -2.4zM10.0 57.9a1.6 1.4 118 1 0 -1.5 2.9a1.6 1.4 118 1 0 1.5 -2.9zM72.0 54.4a1.5 0.9 125 1 0 -1.7 2.4a1.5 0.9 125 1 0 1.7 -2.4zM91.2 55.4a1.8 1.4 10 1 0 3.5 0.6a1.8 1.4 10 1 0 -3.5 -0.6zM35.8 62.2a1.6 1.1 71 1 0 1.1 3.1a1.6 1.1 71 1 0 -1.1 -3.1zM46.2 60.9a1.9 1.4 59 1 0 1.9 3.2a1.9 1.4 59 1 0 -1.9 -3.2zM146.6 63.8a1.5 1.0 153 1 0 -2.6 1.3a1.5 1.0 153 1 0 2.6 -1.3zM89.7 74.4a1.6 1.5 116 1 0 -1.5 3.0a1.6 1.5 116 1 0 1.5 -3.0zM15.7 77.8a1.4 1.4 84 1 0 0.3 2.9a1.4 1.4 84 1 0 -0.3 -2.9zM51.9 97.2a2.1 1.9 27 1 0 3.6 1.9a2.1 1.9 27 1 0 -3.6 -1.9zM118.9 99.8a1.6 1.1 22 1 0 2.9 1.1a1.6 1.1 22 1 0 -2.9 -1.1zM57.7 105.1a1.5 1.3 82 1 0 0.4 3.0a1.5 1.3 82 1 0 -0.4 -3.0zM27.0 112.8a2.0 1.5 13 1 0 3.8 0.9a2.0 1.5 13 1 0 -3.8 -0.9zM57.6 108.5a1.5 0.9 17 1 0 2.9 0.9a1.5 0.9 17 1 0 -2.9 -0.9zM78.6 110.1a1.4 1.2 111 1 0 -1.0 2.7a1.4 1.2 111 1 0 1.0 -2.7z"/>
<path fill="#7080a0" fill-opacity="0.75" d="M89.0 -0.8a1.5 1.2 171 1 0 -3.0 0.5a1.5 1.2 171 1 0 3.0 -0.5zM109.5 2.0a1.8 1.7 39 1 0 2.9 2.3a1.8 1.7 39 1 0 -2.9 -2.3zM141.8 -0.9a2.3 2.0 32 1 0 3.9 2.4a2.3 2.0 32 1 0 -3.9 -2.4zM125.1 31.8a2.3 1.5 152 1 0 -4.1 2.2a2.3 1.5 152 1 0 4.1 -2.2zM-2.4 37.1a1.5 1.3 78 1 0 0.6 3.0a1.5 1.3 78 1 0 -0.6 -3.0zM31.1 45.0a2.1 1.8 42 1 0 3.2 2.8a2.1 1.8 42 1 0 -3.2 -2.8zM141.6 42.4a1.7 1.5 60 1 0 1.7 2.9a1.7 1.5 60 1 0 -1.7 -2.9zM156.3 43.1a2.2 1.8 135 1 0 -3.1 3.1a2.2 1.8 135 1 0 3.1 -3.1zM120.9 48.6a1.8 1.2 144 1 0 -2.9 2.1a1.8 1.2 144 1 0 2.9 -2.1zM161.2 61.1a2.2 1.5 6 1 0 4.4 0.5a2.2 1.5 6 1 0 -4.4 -0.5zM42.6 66.6a2.2 1.5 20 1 0 4.1 1.5a2.2 1.5 20 1 0 -4.1 -1.5zM46.7 81.9a1.7 1.0 81 1 0 0.5 3.3a1.7 1.0 81 1 0 -0.5 -3.3zM22.3 84.4a2.1 1.6 82 1 0 0.6 4.1a2.1 1.6 82 1 0 -0.6 -4.1zM93.6 87.7a1.9 1.8 160 1 0 -3.6 1.3a1.9 1.8 160 1 0 3.6 -1.3zM156.2 85.9a1.8 1.4 162 1 0 -3.5 1.1a1.8 1.4 162 1 0 3.5 -1.1zM44.6 90.4a1.8 1.7 53 1 0 2.1 2.8a1.8 1.7 53 1 0 -2.1 -2.8zM145.3 90.0a1.5 1.3 38 1 0 2.3 1.8a1.5 1.3 38 1 0 -2.3 -1.8zM-0.3 104.5a2.3 1.9 13 1 0 4.6 1.0a2.3 1.9 13 1 0 -4.6 -1.0zM97.1 109.5a2.3 1.7 81 1 0 0.7 4.6a2.3 1.7 81 1 0 -0.7 -4.6zM8.0 116.1a1.8 1.2 22 1 0 3.4 1.4a1.8 1.2 22 1 0 -3.4 -1.4zM152.4 54.0a1.9 1.8 49 1 0 2.5 2.9a1.9 1.8 49 1 0 -2.5 -2.9z"/>
<path fill="#606890" fill-opacity="0.8" d="M125.3 -3.5a1.8 1.6 79 1 0 0.7 3.5a1.8 1.6 79 1 0 -0.7 -3.5zM35.7 2.1a1.9 1.4 162 1 0 -3.5 1.2a1.9 1.4 162 1 0 3.5 -1.2zM78.5 15.9a1.7 1.6 89 1 0 0.0 3.5a1.7 1.6 89 1 0 -0.0 -3.5zM18.4 21.5a1.7 1.1 8 1 0 3.3 0.5a1.7 1.1 8 1 0 -3.3 -0.5zM67.4 23.3a1.9 1.3 42 1 0 2.9 2.6a1.9 1.3 42 1 0 -2.9 -2.6zM82.8 26.4a1.7 1.2 56 1 0 1.9 2.7a1.7 1.2 56 1 0 -1.9 -2.7zM62.8 37.6a2.1 1.5 121 1 0 -2.1 3.5a2.1 1.5 121 1 0 2.1 -3.5zM85.8 41.0a1.5 1.4 159 1 0 -2.8 1.1a1.5 1.4 159 1 0 2.8 -1.1zM51.3 52.9a1.9 1.7 173 1 0 -3.7 0.5a1.9 1.7 173 1 0 3.7 -0.5zM13.3 60.9a1.5 1.1 51 1 0 1.9 2.4a1.5 1.1 51 1 0 -1.9 -2.4zM68.3 64.0a2.0 1.7 52 1 0 2.4 3.1a2.0 1.7 52 1 0 -2.4 -3.1zM120.1 63.0a1.8 1.3 120 1 0 -1.8 3.2a1.8 1.3 120 1 0 1.8 -3.2zM132.9 69.2a1.4 0.9 127 1 0 -1.7 2.2a1.4 0.9 127 1 0 1.7 -2.2zM122.8 75.4a2.0 1.5 45 1 0 2.9 2.8a2.0 1.5 45 1 0 -2.9 -2.8zM141.8 72.2a1.7 1.3 41 1 0 2.5 2.2a1.7 1.3 41 1 0 -2.5 -2.2zM41.9 75.8a1.9 1.4 117 1 0 -1.7 3.3a1.9 1.4 117 1 0 1.7 -3.3zM59.6 76.6a2.3 2.0 91 1 0 -0.1 4.6a2.3 2.0 91 1 0 0.1 -4.6zM101.3 82.5a2.0 1.4 55 1 0 2.2 3.3a2.0 1.4 55 1 0 -2.2 -3.3zM129.2 79.9a1.4 0.9 48 1 0 1.9 2.1a1.4 0.9 48 1 0 -1.9 -2.1zM52.7 88.4a1.4 1.2 71 1 0 0.9 2.7a1.4 1.2 71 1 0 -0.9 -2.7zM77.6 83.5a2.1 1.8 109 1 0 -1.3 4.0a2.1 1.8 109 1 0 1.3 -4.0zM119.8 83.0a2.0 1.4 160 1 0 -3.8 1.4a2.0 1.4 160 1 0 3.8 -1.4zM25.4 96.8a1.8 1.5 136 1 0 -2.6 2.5a1.8 1.5 136 1 0 2.6 -2.5zM60.6 99.6a1.8 1.1 90 1 0 -0.0 3.5a1.8 1.1 90 1 0 0.0 -3.5zM52.2 105.8a1.3 1.1 58 1 0 1.4 2.3a1.3 1.1 58 1 0 -1.4 -2.3zM89.6 102.5a1.4 1.0 59 1 0 1.4 2.4a1.4 1.0 59 1 0 -1.4 -2.4zM105.3 106.4a2.3 1.4 91 1 0 -0.1 4.5a2.3 1.4 91 1 0 0.1 -4.5zM6.3 119.6a2.0 1.7 169 1 0 -3.8 0.7a2.0 1.7 169 1 0 3.8 -0.7zM63.9 116.6a1.5 1.2 74 1 0 0.8 2.9a1.5 1.2 74 1 0 -0.8 -2.9zM146.4 120.5a1.3 1.0 24 1 0 2.5 1.1a1.3 1.0 24 1 0 -2.5 -1.1zM66.4 26.5a2.2 1.9 176 1 0 -4.3 0.3a2.2 1.9 176 1 0 4.3 -0.3z"/>
<path fill="#7080a8" fill-opacity="0.75" d="M131.1 -3.2a1.9 1.3 34 1 0 3.1 2.1a1.9 1.3 34 1 0 -3.1 -2.1zM59.9 13.9a1.8 1.5 76 1 0 0.9 3.5a1.8 1.5 76 1 0 -0.9 -3.5zM10.7 17.4a2.1 1.3 60 1 0 2.2 3.7a2.1 1.3 60 1 0 -2.2 -3.7zM109.3 27.1a2.4 2.2 146 1 0 -3.9 2.6a2.4 2.2 146 1 0 3.9 -2.6zM0.8 33.3a1.6 1.4 6 1 0 3.1 0.3a1.6 1.4 6 1 0 -3.1 -0.3zM6.2 37.9a1.4 1.0 104 1 0 -0.7 2.8a1.4 1.0 104 1 0 0.7 -2.8zM139.5 37.1a2.1 1.5 53 1 0 2.5 3.3a2.1 1.5 53 1 0 -2.5 -3.3zM24.1 44.9a1.7 1.6 140 1 0 -2.7 2.2a1.7 1.6 140 1 0 2.7 -2.2zM62.3 59.6a2.0 1.4 117 1 0 -1.8 3.6a2.0 1.4 117 1 0 1.8 -3.6zM78.5 73.6a1.5 1.2 122 1 0 -1.6 2.5a1.5 1.2 122 1 0 1.6 -2.5zM119.9 75.1a1.7 1.2 102 1 0 -0.7 3.3a1.7 1.2 102 1 0 0.7 -3.3zM89.3 77.6a2.3 2.0 29 1 0 4.0 2.2a2.3 2.0 29 1 0 -4.0 -2.2zM23.4 93.7a1.7 1.2 25 1 0 3.2 1.5a1.7 1.2 25 1 0 -3.2 -1.5zM40.4 110.6a1.8 1.4 110 1 0 -1.3 3.4a1.8 1.4 110 1 0 1.3 -3.4zM25.7 116.9a2.2 1.5 57 1 0 2.4 3.7a2.2 1.5 57 1 0 -2.4 -3.7zM48.5 115.9a2.3 1.7 156 1 0 -4.2 1.9a2.3 1.7 156 1 0 4.2 -1.9zM140.2 115.2a2.1 2.0 39 1 0 3.2 2.6a2.1 2.0 39 1 0 -3.2 -2.6z"/>
<path fill="#7880a0" fill-opacity="0.75" d="M139.0 -3.1a1.8 1.5 104 1 0 -0.9 3.5a1.8 1.5 104 1 0 0.9 -3.5zM152.2 -2.5a1.4 1.0 63 1 0 1.3 2.5a1.4 1.0 63 1 0 -1.3 -2.5zM40.9 8.5a1.8 1.1 7 1 0 3.6 0.5a1.8 1.1 7 1 0 -3.6 -0.5zM138.2 7.0a1.5 1.1 107 1 0 -0.9 2.8a1.5 1.1 107 1 0 0.9 -2.8zM9.5 29.7a1.7 1.5 179 1 0 -3.4 0.0a1.7 1.5 179 1 0 3.4 -0.0zM39.7 42.8a1.6 1.1 16 1 0 3.0 0.9a1.6 1.1 16 1 0 -3.0 -0.9zM147.9 42.1a1.8 1.7 110 1 0 -1.3 3.4a1.8 1.7 110 1 0 1.3 -3.4zM115.7 54.8a1.9 1.6 63 1 0 1.7 3.3a1.9 1.6 63 1 0 -1.7 -3.3zM87.7 65.0a1.9 1.5 82 1 0 0.5 3.9a1.9 1.5 82 1 0 -0.5 -3.9zM114.6 69.6a2.1 1.9 164 1 0 -4.1 1.2a2.1 1.9 164 1 0 4.1 -1.2zM88.6 74.1a2.2 1.6 165 1 0 -4.2 1.2a2.2 1.6 165 1 0 4.2 -1.2zM135.4 75.9a1.9 1.6 138 1 0 -2.8 2.5a1.9 1.6 138 1 0 2.8 -2.5zM73.0 81.0a2.1 1.4 11 1 0 4.1 0.8a2.1 1.4 11 1 0 -4.1 -0.8zM104.9 83.7a2.3 1.9 121 1 0 -2.4 4.0a2.3 1.9 121 1 0 2.4 -4.0zM136.6 90.9a2.1 1.7 65 1 0 1.8 3.9a2.1 1.7 65 1 0 -1.8 -3.9zM133.3 98.9a2.3 2.1 44 1 0 3.3 3.1a2.3 2.1 44 1 0 -3.3 -3.1zM113.4 122.9a2.0 1.8 1 1 0 4.1 0.1a2.0 1.8 1 1 0 -4.1 -0.1zM127.6 29.2a2.1 1.9 93 1 0 -0.2 4.2a2.1 1.9 93 1 0 0.2 -4.2zM14.8 70.3a2.2 1.9 86 1 0 0.3 4.4a2.2 1.9 86 1 0 -0.3 -4.4zM40.3 31.5a1.9 1.3 63 1 0 1.7 3.3a1.9 1.3 63 1 0 -1.7 -3.3z"/>
<path fill="#586888" fill-opacity="0.8" d="M18.3 3.0a2.0 1.4 56 1 0 2.2 3.3a2.0 1.4 56 1 0 -2.2 -3.3zM119.2 15.8a2.2 1.9 73 1 0 1.3 4.2a2.2 1.9 73 1 0 -1.3 -4.2zM137.3 26.3a2.1 2.0 93 1 0 -0.2 4.2a2.1 2.0 93 1 0 0.2 -4.2z"/>
<path fill="#687098" fill-opacity="0.8" d="M42.6 3.5a1.5 0.9 175 1 0 -3.0 0.3a1.5 0.9 175 1 0 3.0 -0.3zM86.0 1.3a2.3 2.0 155 1 0 -4.1 1.9a2.3 2.0 155 1 0 4.1 -1.9zM115.5 0.9a2.0 1.9 62 1 0 1.9 3.6a2.0 1.9 62 1 0 -1.9 -3.6zM126.1 11.1a1.4 0.9 99 1 0 -0.4 2.7a1.4 0.9 99 1 0 0.4 -2.7zM7.8 16.4a2.2 1.7 171 1 0 -4.3 0.6a2.2 1.7 171 1 0 4.3 -0.6zM29.4 21.5a2.0 1.5 142 1 0 -3.1 2.4a2.0 1.5 142 1 0 3.1 -2.4zM36.0 27.0a1.6 1.2 10 1 0 3.1 0.5a1.6 1.2 10 1 0 -3.1 -0.5zM59.6 24.5a2.0 1.8 115 1 0 -1.7 3.7a2.0 1.8 115 1 0 1.7 -3.7zM19.6 38.1a1.3 0.9 53 1 0 1.6 2.1a1.3 0.9 53 1 0 -1.6 -2.1zM92.7 39.1a1.7 1.3 143 1 0 -2.7 2.0a1.7 1.3 143 1 0 2.7 -2.0zM158.9 39.2a2.2 1.4 73 1 0 1.3 4.2a2.2 1.4 73 1 0 -1.3 -4.2zM46.3 44.3a2.2 1.5 165 1 0 -4.2 1.1a2.2 1.5 165 1 0 4.2 -1.1zM134.5 44.0a1.5 0.9 54 1 0 1.8 2.4a1.5 0.9 54 1 0 -1.8 -2.4zM19.5 51.1a1.4 1.2 4 1 0 2.7 0.2a1.4 1.2 4 1 0 -2.7 -0.2zM57.0 52.9a1.5 1.2 166 1 0 -2.9 0.7a1.5 1.2 166 1 0 2.9 -0.7zM58.1 50.7a1.5 1.0 94 1 0 -0.2 3.0a1.5 1.0 94 1 0 0.2 -3.0zM87.4 49.1a2.0 1.5 177 1 0 -4.0 0.2a2.0 1.5 177 1 0 4.0 -0.2zM16.2 57.3a2.3 1.6 149 1 0 -3.9 2.3a2.3 1.6 149 1 0 3.9 -2.3zM151.7 52.5a1.8 1.3 89 1 0 0.1 3.6a1.8 1.3 89 1 0 -0.1 -3.6zM65.6 65.3a1.4 1.3 3 1 0 2.9 0.1a1.4 1.3 3 1 0 -2.9 -0.1zM11.5 66.3a2.0 1.4 84 1 0 0.4 3.9a2.0 1.4 84 1 0 -0.4 -3.9zM15.6 69.8a1.8 1.4 105 1 0 -1.0 3.5a1.8 1.4 105 1 0 1.0 -3.5zM119.2 67.1a2.2 1.7 144 1 0 -3.6 2.6a2.2 1.7 144 1 0 3.6 -2.6zM3.2 74.8a1.7 1.2 85 1 0 0.3 3.4a1.7 1.2 85 1 0 -0.3 -3.4zM111.2 76.9a2.3 1.9 106 1 0 -1.3 4.4a2.3 1.9 106 1 0 1.3 -4.4zM69.3 87.7a1.9 1.6 167 1 0 -3.8 0.8a1.9 1.6 167 1 0 3.8 -0.8zM80.8 88.0a2.2 1.8 5 1 0 4.4 0.4a2.2 1.8 5 1 0 -4.4 -0.4zM127.0 82.4a1.5 0.9 68 1 0 1.2 2.9a1.5 0.9 68 1 0 -1.2 -2.9zM133.8 84.5a2.2 1.7 90 1 0 0.0 4.3a2.2 1.7 90 1 0 -0.0 -4.3zM35.5 91.5a1.8 1.7 14 1 0 3.6 0.9a1.8 1.7 14 1 0 -3.6 -0.9zM59.2 88.6a1.3 1.0 57 1 0 1.4 2.2a1.3 1.0 57 1 0 -1.4 -2.2zM68.2 88.4a1.9 1.8 98 1 0 -0.5 3.8a1.9 1.8 98 1 0 0.5 -3.8zM94.0 90.5a1.4 1.1 139 1 0 -2.1 1.8a1.4 1.1 139 1 0 2.1 -1.8zM104.7 94.5a1.7 1.2 21 1 0 3.1 1.2a1.7 1.2 21 1 0 -3.1 -1.2zM117.1 91.5a1.3 1.1 2 1 0 2.7 0.1a1.3 1.1 2 1 0 -2.7 -0.1zM12.4 99.7a2.3 1.9 133 1 0 -3.1 3.3a2.3 1.9 133 1 0 3.1 -3.3zM100.2 97.6a2.0 1.8 153 1 0 -3.6 1.9a2.0 1.8 153 1 0 3.6 -1.9zM109.5 98.3a2.3 1.4 166 1 0 -4.4 1.1a2.3 1.4 166 1 0 4.4 -1.1zM131.3 96.8a1.5 1.4 5 1 0 3.1 0.3a1.5 1.4 5 1 0 -3.1 -0.3zM18.3 111.7a1.5 1.2 28 1 0 2.6 1.4a1.5 1.2 28 1 0 -2.6 -1.4zM125.5 106.7a1.5 1.0 105 1 0 -0.8 2.9a1.5 1.0 105 1 0 0.8 -2.9zM86.8 116.5a1.9 1.6 78 1 0 0.8 3.8a1.9 1.6 78 1 0 -0.8 -3.8zM103.6 117.3a2.3 1.5 126 1 0 -2.6 3.7a2.3 1.5 126 1 0 2.6 -3.7zM118.7 116.0a2.2 1.8 166 1 0 -4.3 1.1a2.2 1.8 166 1 0 4.3 -1.1zM39.5 122.3a1.7 1.2 27 1 0 3.0 1.5a1.7 1.2 27 1 0 -3.0 -1.5zM37.8 77.9a1.9 1.6 178 1 0 -3.8 0.1a1.9 1.6 178 1 0 3.8 -0.1zM93.4 68.3a1.4 1.1 157 1 0 -2.6 1.1a1.4 1.1 157 1 0 2.6 -1.1zM9.5 46.5a1.5 1.2 143 1 0 -2.3 1.8a1.5 1.2 143 1 0 2.3 -1.8z"/>
<path fill="#606090" fill-opacity="0.8" d="M44.5 6.1a1.4 1.2 11 1 0 2.7 0.5a1.4 1.2 11 1 0 -2.7 -0.5zM44.9 39.1a2.1 1.5 47 1 0 2.9 3.1a2.1 1.5 47 1 0 -2.9 -3.1zM137.1 76.1a1.5 1.1 149 1 0 -2.5 1.5a1.5 1.1 149 1 0 2.5 -1.5z"/>
<path fill="#7888a8" fill-opacity="0.75" d="M58.7 4.2a1.9 1.6 169 1 0 -3.6 0.7a1.9 1.6 169 1 0 3.6 -0.7zM100.4 13.8a1.8 1.4 52 1 0 2.2 2.8a1.8 1.4 52 1 0 -2.2 -2.8zM127.3 16.0a1.6 1.0 117 1 0 -1.5 2.9a1.6 1.0 117 1 0 1.5 -2.9zM139.3 14.6a2.3 1.7 50 1 0 3.0 3.5a2.3 1.7 50 1 0 -3.0 -3.5zM92.1 21.5a1.9 1.4 20 1 0 3.5 1.3a1.9 1.4 20 1 0 -3.5 -1.3zM113.8 32.1a2.2 1.3 70 1 0 1.5 4.1a2.2 1.3 70 1 0 -1.5 -4.1zM153.0 29.7a1.7 1.4 81 1 0 0.5 3.4a1.7 1.4 81 1 0 -0.5 -3.4zM71.3 35.9a1.8 1.5 98 1 0 -0.5 3.6a1.8 1.5 98 1 0 0.5 -3.6zM140.3 47.4a1.5 1.1 96 1 0 -0.3 3.0a1.5 1.1 96 1 0 0.3 -3.0zM46.7 56.4a2.0 1.4 28 1 0 3.6 1.9a2.0 1.4 28 1 0 -3.6 -1.9zM90.0 64.4a1.6 1.0 110 1 0 -1.1 3.0a1.6 1.0 110 1 0 1.1 -3.0zM99.3 60.0a2.1 1.7 140 1 0 -3.2 2.7a2.1 1.7 140 1 0 3.2 -2.7zM139.7 65.3a2.2 1.9 57 1 0 2.3 3.6a2.2 1.9 57 1 0 -2.3 -3.6zM47.4 73.5a1.6 1.1 38 1 0 2.5 1.9a1.6 1.1 38 1 0 -2.5 -1.9zM52.6 75.1a1.9 1.6 150 1 0 -3.3 1.9a1.9 1.6 150 1 0 3.3 -1.9zM8.6 79.2a1.9 1.3 47 1 0 2.6 2.8a1.9 1.3 47 1 0 -2.6 -2.8zM122.5 78.3a1.9 1.7 142 1 0 -2.9 2.3a1.9 1.7 142 1 0 2.9 -2.3zM0.6 89.6a1.8 1.7 171 1 0 -3.6 0.6a1.8 1.7 171 1 0 3.6 -0.6zM19.0 87.5a1.6 1.1 95 1 0 -0.3 3.3a1.6 1.1 95 1 0 0.3 -3.3zM26.7 86.2a2.2 1.6 23 1 0 4.0 1.7a2.2 1.6 23 1 0 -4.0 -1.7zM42.1 103.0a2.0 1.5 178 1 0 -3.9 0.1a2.0 1.5 178 1 0 3.9 -0.1zM85.2 104.6a1.8 1.6 148 1 0 -3.1 1.9a1.8 1.6 148 1 0 3.1 -1.9zM113.7 104.1a1.8 1.4 32 1 0 3.0 1.9a1.8 1.4 32 1 0 -3.0 -1.9zM118.9 106.3a2.2 1.9 1 1 0 4.3 0.1a2.2 1.9 1 1 0 -4.3 -0.1zM133.1 108.7a2.0 1.3 168 1 0 -4.0 0.8a2.0 1.3 168 1 0 4.0 -0.8zM24.4 118.7a1.6 1.4 96 1 0 -0.3 3.1a1.6 1.4 96 1 0 0.3 -3.1zM101.2 124.0a1.7 1.3 22 1 0 3.1 1.2a1.7 1.3 22 1 0 -3.1 -1.2zM161.6 119.5a1.7 1.3 60 1 0 1.7 2.9a1.7 1.3 60 1 0 -1.7 -2.9zM131.5 73.8a2.2 2.0 103 1 0 -1.0 4.3a2.2 2.0 103 1 0 1.0 -4.3zM85.0 63.5a2.3 1.8 148 1 0 -3.9 2.4a2.3 1.8 148 1 0 3.9 -2.4z"/>
<path fill="#607090" fill-opacity="0.8" d="M68.2 -1.5a2.2 1.9 76 1 0 1.0 4.2a2.2 1.9 76 1 0 -1.0 -4.2zM59.6 5.7a1.5 1.2 179 1 0 -2.9 0.0a1.5 1.2 179 1 0 2.9 -0.0zM70.3 5.9a1.8 1.2 54 1 0 2.1 2.9a1.8 1.2 54 1 0 -2.1 -2.9zM73.6 24.2a2.0 1.9 176 1 0 -4.0 0.3a2.0 1.9 176 1 0 4.0 -0.3zM138.0 40.8a1.8 1.6 179 1 0 -3.6 0.1a1.8 1.6 179 1 0 3.6 -0.1zM148.6 59.8a2.2 1.5 142 1 0 -3.5 2.7a2.2 1.5 142 1 0 3.5 -2.7zM114.8 102.2a1.6 1.4 170 1 0 -3.1 0.6a1.6 1.4 170 1 0 3.1 -0.6zM90.7 27.9a1.8 1.4 126 1 0 -2.1 2.9a1.8 1.4 126 1 0 2.1 -2.9z"/>
<path fill="#8090b8" fill-opacity="0.75" d="M75.3 0.4a1.7 1.1 171 1 0 -3.4 0.5a1.7 1.1 171 1 0 3.4 -0.5zM128.3 1.7a2.4 2.2 173 1 0 -4.7 0.6a2.4 2.2 173 1 0 4.7 -0.6zM7.5 7.1a1.5 1.3 88 1 0 0.1 3.1a1.5 1.3 88 1 0 -0.1 -3.1zM117.3 23.0a1.4 1.1 149 1 0 -2.5 1.5a1.4 1.1 149 1 0 2.5 -1.5zM28.1 24.9a2.1 1.5 144 1 0 -3.4 2.5a2.1 1.5 144 1 0 3.4 -2.5zM27.9 24.3a1.6 1.5 125 1 0 -1.9 2.7a1.6 1.5 125 1 0 1.9 -2.7zM28.6 29.8a1.8 1.1 89 1 0 0.1 3.6a1.8 1.1 89 1 0 -0.1 -3.6zM128.7 39.5a1.4 1.3 87 1 0 0.1 2.8a1.4 1.3 87 1 0 -0.1 -2.8zM158.1 54.6a2.1 1.6 1 1 0 4.2 0.1a2.1 1.6 1 1 0 -4.2 -0.1zM19.3 68.2a1.9 1.2 117 1 0 -1.7 3.4a1.9 1.2 117 1 0 1.7 -3.4zM36.5 67.7a1.4 1.2 162 1 0 -2.8 0.9a1.4 1.2 162 1 0 2.8 -0.9zM60.6 82.5a1.8 1.5 11 1 0 3.6 0.7a1.8 1.5 11 1 0 -3.6 -0.7zM84.5 96.4a1.5 1.1 179 1 0 -2.9 0.0a1.5 1.1 179 1 0 2.9 -0.0zM6.0 103.0a2.0 1.3 13 1 0 3.9 0.9a2.0 1.3 13 1 0 -3.9 -0.9zM120.4 111.8a2.0 1.7 100 1 0 -0.7 4.0a2.0 1.7 100 1 0 0.7 -4.0zM156.8 122.4a2.2 1.9 4 1 0 4.4 0.3a2.2 1.9 4 1 0 -4.4 -0.3z"/>
<path fill="#8090b0" fill-opacity="0.75" d="M94.3 1.5a2.3 1.6 28 1 0 4.1 2.1a2.3 1.6 28 1 0 -4.1 -2.1zM119.7 4.6a2.1 1.8 14 1 0 4.1 1.1a2.1 1.8 14 1 0 -4.1 -1.1zM150.7 2.4a1.8 1.5 143 1 0 -2.8 2.1a1.8 1.5 143 1 0 2.8 -2.1zM52.3 5.2a1.5 1.2 103 1 0 -0.7 2.9a1.5 1.2 103 1 0 0.7 -2.9zM86.2 6.9a1.4 1.0 147 1 0 -2.3 1.5a1.4 1.0 147 1 0 2.3 -1.5zM154.9 7.0a1.9 1.5 160 1 0 -3.6 1.3a1.9 1.5 160 1 0 3.6 -1.3zM66.0 15.2a1.6 1.4 9 1 0 3.2 0.5a1.6 1.4 9 1 0 -3.2 -0.5zM129.6 14.8a1.9 1.6 68 1 0 1.4 3.5a1.9 1.6 68 1 0 -1.4 -3.5zM113.6 23.7a1.8 1.2 3 1 0 3.6 0.2a1.8 1.2 3 1 0 -3.6 -0.2zM17.1 32.8a2.4 1.6 106 1 0 -1.3 4.6a2.4 1.6 106 1 0 1.3 -4.6zM34.5 31.1a1.7 1.1 30 1 0 3.0 1.7a1.7 1.1 30 1 0 -3.0 -1.7zM142.6 28.4a1.8 1.1 94 1 0 -0.3 3.7a1.8 1.1 94 1 0 0.3 -3.7zM6.1 47.4a2.0 1.7 115 1 0 -1.7 3.5a2.0 1.7 115 1 0 1.7 -3.5zM23.2 49.2a2.3 1.7 97 1 0 -0.6 4.6a2.3 1.7 97 1 0 0.6 -4.6zM38.6 56.3a2.1 1.9 79 1 0 0.8 4.2a2.1 1.9 79 1 0 -0.8 -4.2zM38.0 68.2a2.0 1.3 158 1 0 -3.7 1.5a2.0 1.3 158 1 0 3.7 -1.5zM103.3 69.8a1.9 1.8 11 1 0 3.8 0.7a1.9 1.8 11 1 0 -3.8 -0.7zM134.6 68.9a2.1 1.9 84 1 0 0.4 4.1a2.1 1.9 84 1 0 -0.4 -4.1zM153.5 69.6a1.8 1.4 57 1 0 2.0 3.1a1.8 1.4 57 1 0 -2.0 -3.1zM34.1 79.1a2.3 1.4 153 1 0 -4.2 2.1a2.3 1.4 153 1 0 4.2 -2.1zM81.2 81.4a2.0 1.6 33 1 0 3.4 2.2a2.0 1.6 33 1 0 -3.4 -2.2zM85.2 81.0a1.6 1.3 140 1 0 -2.5 2.1a1.6 1.3 140 1 0 2.5 -2.1zM151.0 79.2a1.9 1.2 31 1 0 3.2 1.9a1.9 1.2 31 1 0 -3.2 -1.9zM68.8 87.7a2.1 2.0 14 1 0 4.2 1.0a2.1 2.0 14 1 0 -4.2 -1.0zM153.6 85.7a2.3 1.6 151 1 0 -4.0 2.2a2.3 1.6 151 1 0 4.0 -2.2zM-0.6 91.0a1.4 0.9 86 1 0 0.2 2.8a1.4 0.9 86 1 0 -0.2 -2.8zM22.1 90.3a1.5 1.3 87 1 0 0.1 2.9a1.5 1.3 87 1 0 -0.1 -2.9zM158.2 93.0a1.6 1.0 174 1 0 -3.2 0.4a1.6 1.0 174 1 0 3.2 -0.4zM17.0 93.6a2.3 1.7 96 1 0 -0.5 4.6a2.3 1.7 96 1 0 0.5 -4.6zM103.8 93.9a2.0 1.5 97 1 0 -0.5 4.1a2.0 1.5 97 1 0 0.5 -4.1zM163.3 95.4a2.3 1.9 90 1 0 0.0 4.7a2.3 1.9 90 1 0 -0.0 -4.7zM44.0 101.3a1.7 1.5 117 1 0 -1.6 3.0a1.7 1.5 117 1 0 1.6 -3.0zM101.6 103.1a2.1 1.8 78 1 0 0.9 4.1a2.1 1.8 78 1 0 -0.9 -4.1zM99.1 112.2a1.8 1.5 77 1 0 0.8 3.6a1.8 1.5 77 1 0 -0.8 -3.6zM48.3 119.1a1.9 1.6 138 1 0 -2.9 2.6a1.9 1.6 138 1 0 2.9 -2.6zM135.7 120.1a2.1 1.5 9 1 0 4.1 0.7a2.1 1.5 9 1 0 -4.1 -0.7zM43.4 90.6a2.0 1.4 29 1 0 3.5 1.9a2.0 1.4 29 1 0 -3.5 -1.9zM51.8 97.9a1.4 1.2 80 1 0 0.5 2.8a1.4 1.2 80 1 0 -0.5 -2.8zM100.6 104.7a1.8 1.5 72 1 0 1.1 3.4a1.8 1.5 72 1 0 -1.1 -3.4zM107.1 19.1a2.3 2.0 85 1 0 0.4 4.6a2.3 2.0 85 1 0 -0.4 -4.6z"/>
<path fill="#586890" fill-opacity="0.8" d="M99.7 5.2a1.5 0.9 56 1 0 1.6 2.4a1.5 0.9 56 1 0 -1.6 -2.4zM21.8 9.6a1.4 1.3 46 1 0 2.0 2.1a1.4 1.3 46 1 0 -2.0 -2.1zM55.0 56.5a1.4 1.3 147 1 0 -2.4 1.5a1.4 1.3 147 1 0 2.4 -1.5zM96.1 67.5a1.8 1.7 57 1 0 2.0 3.1a1.8 1.7 57 1 0 -2.0 -3.1zM147.6 70.8a1.7 1.3 70 1 0 1.1 3.2a1.7 1.3 70 1 0 -1.1 -3.2zM113.8 74.3a2.3 1.6 82 1 0 0.7 4.5a2.3 1.6 82 1 0 -0.7 -4.5zM6.2 86.6a2.3 2.1 118 1 0 -2.1 4.0a2.3 2.1 118 1 0 2.1 -4.0zM69.3 102.2a2.2 1.9 170 1 0 -4.3 0.8a2.2 1.9 170 1 0 4.3 -0.8zM66.4 115.9a2.2 2.0 65 1 0 1.9 4.0a2.2 2.0 65 1 0 -1.9 -4.0zM135.9 114.5a1.3 0.9 138 1 0 -2.0 1.8a1.3 0.9 138 1 0 2.0 -1.8zM149.7 114.0a2.2 1.3 106 1 0 -1.2 4.2a2.2 1.3 106 1 0 1.2 -4.2z"/>
<path fill="#8888b8" fill-opacity="0.75" d="M60.7 6.8a1.9 1.5 29 1 0 3.3 1.8a1.9 1.5 29 1 0 -3.3 -1.8zM158.0 98.2a1.5 1.4 89 1 0 0.1 3.0a1.5 1.4 89 1 0 -0.1 -3.0zM53.5 110.7a2.2 1.9 143 1 0 -3.6 2.7a2.2 1.9 143 1 0 3.6 -2.7zM60.6 116.6a2.4 1.7 158 1 0 -4.4 1.8a2.4 1.7 158 1 0 4.4 -1.8z"/>
<path fill="#7878a0" fill-opacity="0.75" d="M81.6 9.7a1.5 1.2 135 1 0 -2.1 2.1a1.5 1.2 135 1 0 2.1 -2.1zM26.2 11.7a1.7 1.3 120 1 0 -1.7 3.0a1.7 1.3 120 1 0 1.7 -3.0zM71.1 74.1a2.2 1.3 33 1 0 3.7 2.4a2.2 1.3 33 1 0 -3.7 -2.4zM127.9 92.0a1.7 1.3 91 1 0 -0.0 3.4a1.7 1.3 91 1 0 0.0 -3.4z"/>
<path fill="#686898" fill-opacity="0.8" d="M90.9 7.0a2.0 1.9 94 1 0 -0.3 4.1a2.0 1.9 94 1 0 0.3 -4.1zM9.5 93.4a1.8 1.1 154 1 0 -3.3 1.6a1.8 1.1 154 1 0 3.3 -1.6zM36.0 108.7a1.9 1.5 160 1 0 -3.6 1.3a1.9 1.5 160 1 0 3.6 -1.3z"/>
<path fill="#586090" fill-opacity="0.8" d="M103.3 10.2a1.6 1.5 39 1 0 2.5 2.0a1.6 1.5 39 1 0 -2.5 -2.0zM146.7 35.2a1.7 1.5 174 1 0 -3.3 0.4a1.7 1.5 174 1 0 3.3 -0.4zM22.5 35.2a2.2 2.0 92 1 0 -0.1 4.3a2.2 2.0 92 1 0 0.1 -4.3zM18.0 41.4a1.6 1.4 92 1 0 -0.1 3.2a1.6 1.4 92 1 0 0.1 -3.2zM39.5 63.2a2.0 1.4 43 1 0 2.9 2.7a2.0 1.4 43 1 0 -2.9 -2.7zM62.1 70.8a1.4 1.1 172 1 0 -2.7 0.4a1.4 1.1 172 1 0 2.7 -0.4zM106.7 70.1a2.1 1.7 80 1 0 0.7 4.1a2.1 1.7 80 1 0 -0.7 -4.1zM147.6 73.9a2.1 1.6 0 1 0 4.2 0.0a2.1 1.6 0 1 0 -4.2 -0.0zM139.0 84.9a2.1 1.7 110 1 0 -1.4 4.0a2.1 1.7 110 1 0 1.4 -4.0zM95.0 117.4a1.6 1.4 107 1 0 -0.9 3.0a1.6 1.4 107 1 0 0.9 -3.0z"/>
<path fill="#7888b0" fill-opacity="0.75" d="M123.6 4.5a2.1 1.3 48 1 0 2.8 3.0a2.1 1.3 48 1 0 -2.8 -3.0zM143.3 5.2a1.8 1.3 166 1 0 -3.4 0.8a1.8 1.3 166 1 0 3.4 -0.8zM158.7 20.8a2.1 1.5 155 1 0 -3.8 1.8a2.1 1.5 155 1 0 3.8 -1.8zM36.1 38.1a2.2 1.5 85 1 0 0.4 4.3a2.2 1.5 85 1 0 -0.4 -4.3zM70.3 45.6a1.9 1.4 110 1 0 -1.3 3.6a1.9 1.4 110 1 0 1.3 -3.6zM46.3 55.9a1.6 1.2 173 1 0 -3.2 0.4a1.6 1.2 173 1 0 3.2 -0.4zM124.3 66.0a2.1 1.6 97 1 0 -0.5 4.3a2.1 1.6 97 1 0 0.5 -4.3zM1.8 75.3a2.0 1.3 43 1 0 2.9 2.7a2.0 1.3 43 1 0 -2.9 -2.7zM41.3 96.6a2.3 2.1 34 1 0 3.7 2.6a2.3 2.1 34 1 0 -3.7 -2.6zM127.4 95.5a2.0 1.6 134 1 0 -2.8 2.8a2.0 1.6 134 1 0 2.8 -2.8zM45.2 109.3a2.3 2.2 25 1 0 4.2 1.9a2.3 2.2 25 1 0 -4.2 -1.9zM155.8 118.7a2.0 1.7 89 1 0 0.1 4.0a2.0 1.7 89 1 0 -0.1 -4.0zM138.5 87.5a2.1 2.0 58 1 0 2.3 3.6a2.1 2.0 58 1 0 -2.3 -3.6zM55.5 25.5a1.6 1.1 13 1 0 3.0 0.7a1.6 1.1 13 1 0 -3.0 -0.7zM111.4 75.1a2.0 1.9 100 1 0 -0.7 4.0a2.0 1.9 100 1 0 0.7 -4.0z"/>
<path fill="#707098" fill-opacity="0.8" d="M13.2 12.0a2.0 1.8 110 1 0 -1.4 3.8a2.0 1.8 110 1 0 1.4 -3.8zM113.1 40.3a1.4 1.2 55 1 0 1.6 2.3a1.4 1.2 55 1 0 -1.6 -2.3z"/>
<path fill="#8890b8" fill-opacity="0.75" d="M15.3 15.8a2.0 1.4 41 1 0 3.0 2.7a2.0 1.4 41 1 0 -3.0 -2.7zM11.4 25.1a1.7 1.6 105 1 0 -0.9 3.3a1.7 1.6 105 1 0 0.9 -3.3zM48.0 33.2a1.7 1.2 71 1 0 1.1 3.1a1.7 1.2 71 1 0 -1.1 -3.1zM73.9 45.7a1.9 1.5 58 1 0 2.0 3.1a1.9 1.5 58 1 0 -2.0 -3.1zM162.6 47.4a1.9 1.3 168 1 0 -3.7 0.8a1.9 1.3 168 1 0 3.7 -0.8zM32.8 48.7a1.9 1.5 111 1 0 -1.3 3.5a1.9 1.5 111 1 0 1.3 -3.5zM156.7 63.8a2.2 1.6 28 1 0 3.9 2.1a2.2 1.6 28 1 0 -3.9 -2.1zM81.1 68.5a1.5 1.4 85 1 0 0.3 3.0a1.5 1.4 85 1 0 -0.3 -3.0zM99.2 73.3a2.3 1.7 31 1 0 4.0 2.4a2.3 1.7 31 1 0 -4.0 -2.4zM120.9 93.2a1.7 1.3 14 1 0 3.4 0.8a1.7 1.3 14 1 0 -3.4 -0.8zM81.8 95.0a2.3 2.0 109 1 0 -1.5 4.3a2.3 2.0 109 1 0 1.5 -4.3zM67.1 103.3a2.2 1.4 141 1 0 -3.4 2.8a2.2 1.4 141 1 0 3.4 -2.8zM75.3 118.3a1.5 0.9 38 1 0 2.3 1.8a1.5 0.9 38 1 0 -2.3 -1.8zM36.3 66.6a1.5 1.0 62 1 0 1.4 2.6a1.5 1.0 62 1 0 -1.4 -2.6z"/>
<path fill="#687898" fill-opacity="0.8" d="M33.0 12.3a1.5 1.3 109 1 0 -1.0 2.9a1.5 1.3 109 1 0 1.0 -2.9zM149.1 12.8a1.5 1.1 142 1 0 -2.4 1.8a1.5 1.1 142 1 0 2.4 -1.8zM51.3 79.2a1.6 1.4 0 1 0 3.2 0.0a1.6 1.4 0 1 0 -3.2 -0.0zM6.3 100.1a1.9 1.2 32 1 0 3.2 2.0a1.9 1.2 32 1 0 -3.2 -2.0zM153.4 103.7a1.5 1.4 45 1 0 2.1 2.1a1.5 1.4 45 1 0 -2.1 -2.1zM45.1 102.3a1.9 1.4 18 1 0 3.6 1.2a1.9 1.4 18 1 0 -3.6 -1.2zM118.0 8.5a2.1 1.4 2 1 0 4.2 0.2a2.1 1.4 2 1 0 -4.2 -0.2z"/>
<path fill="#7078a8" fill-opacity="0.75" d="M136.7 15.6a2.2 2.0 118 1 0 -2.0 3.8a2.2 2.0 118 1 0 2.0 -3.8z"/>
<path fill="#8080a8" fill-opacity="0.75" d="M50.3 20.5a1.7 1.6 2 1 0 3.4 0.1a1.7 1.6 2 1 0 -3.4 -0.1zM130.7 51.7a1.6 1.5 163 1 0 -3.1 0.9a1.6 1.5 163 1 0 3.1 -0.9zM115.6 82.5a1.7 1.3 3 1 0 3.4 0.2a1.7 1.3 3 1 0 -3.4 -0.2zM49.2 92.5a2.2 1.3 104 1 0 -1.1 4.2a2.2 1.3 104 1 0 1.1 -4.2zM1.3 96.0a1.8 1.7 105 1 0 -0.9 3.5a1.8 1.7 105 1 0 0.9 -3.5z"/>
<path fill="#8088b8" fill-opacity="0.75" d="M79.6 16.4a2.0 1.8 35 1 0 3.3 2.3a2.0 1.8 35 1 0 -3.3 -2.3zM10.1 42.3a2.3 1.7 123 1 0 -2.5 3.8a2.3 1.7 123 1 0 2.5 -3.8zM154.8 70.9a2.3 1.8 102 1 0 -1.0 4.4a2.3 1.8 102 1 0 1.0 -4.4zM29.9 101.6a1.4 1.3 180 1 0 -2.8 0.0a1.4 1.3 180 1 0 2.8 -0.0z"/>
<path fill="#687090" fill-opacity="0.8" d="M154.3 19.5a1.5 1.1 93 1 0 -0.1 3.0a1.5 1.1 93 1 0 0.1 -3.0zM1.6 46.9a1.7 1.2 162 1 0 -3.3 1.1a1.7 1.2 162 1 0 3.3 -1.1zM90.2 86.3a1.6 1.5 111 1 0 -1.1 3.0a1.6 1.5 111 1 0 1.1 -3.0z"/>
<path fill="#6878a0" fill-opacity="0.8" d="M134.9 27.9a1.8 1.7 153 1 0 -3.2 1.6a1.8 1.7 153 1 0 3.2 -1.6zM102.9 83.9a1.7 1.4 2 1 0 3.5 0.1a1.7 1.4 2 1 0 -3.5 -0.1zM157.3 77.6a1.9 1.7 21 1 0 3.5 1.3a1.9 1.7 21 1 0 -3.5 -1.3zM89.2 99.6a2.3 1.5 6 1 0 4.6 0.5a2.3 1.5 6 1 0 -4.6 -0.5zM-4.1 102.9a1.6 1.5 80 1 0 0.5 3.1a1.6 1.5 80 1 0 -0.5 -3.1zM142.2 101.2a2.2 1.9 62 1 0 2.1 3.9a2.2 1.9 62 1 0 -2.1 -3.9zM57.4 14.5a2.1 1.8 110 1 0 -1.4 3.9a2.1 1.8 110 1 0 1.4 -3.9z"/>
<path fill="#586088" fill-opacity="0.8" d="M160.0 25.7a1.5 1.3 3 1 0 3.0 0.1a1.5 1.3 3 1 0 -3.0 -0.1zM41.9 52.0a1.4 1.2 129 1 0 -1.7 2.1a1.4 1.2 129 1 0 1.7 -2.1zM23.9 68.4a2.1 1.9 5 1 0 4.3 0.4a2.1 1.9 5 1 0 -4.3 -0.4zM67.1 89.4a1.7 1.2 126 1 0 -2.0 2.7a1.7 1.2 126 1 0 2.0 -2.7zM138.2 110.0a2.0 1.9 3 1 0 4.1 0.2a2.0 1.9 3 1 0 -4.1 -0.2zM48.3 115.2a2.2 1.7 94 1 0 -0.3 4.4a2.2 1.7 94 1 0 0.3 -4.4zM82.2 112.8a2.1 1.5 26 1 0 3.9 1.8a2.1 1.5 26 1 0 -3.9 -1.8zM20.2 121.1a2.0 1.7 150 1 0 -3.4 1.9a2.0 1.7 150 1 0 3.4 -1.9zM72.8 122.2a1.8 1.5 122 1 0 -1.9 3.1a1.8 1.5 122 1 0 1.9 -3.1zM31.6 69.5a1.7 1.3 34 1 0 2.9 1.9a1.7 1.3 34 1 0 -2.9 -1.9z"/>
<path fill="#7878a8" fill-opacity="0.75" d="M43.1 33.6a2.1 1.9 13 1 0 4.1 0.9a2.1 1.9 13 1 0 -4.1 -0.9zM100.5 101.5a1.5 1.3 132 1 0 -2.0 2.3a1.5 1.3 132 1 0 2.0 -2.3zM5.7 51.8a2.1 1.8 47 1 0 2.9 3.1a2.1 1.8 47 1 0 -2.9 -3.1z"/>
<path fill="#606898" fill-opacity="0.8" d="M12.3 36.2a1.9 1.6 136 1 0 -2.6 2.6a1.9 1.6 136 1 0 2.6 -2.6zM63.7 57.0a1.9 1.5 87 1 0 0.2 3.9a1.9 1.5 87 1 0 -0.2 -3.9zM147.2 55.9a2.0 1.7 9 1 0 3.9 0.6a2.0 1.7 9 1 0 -3.9 -0.6zM69.8 79.3a1.8 1.2 165 1 0 -3.5 1.0a1.8 1.2 165 1 0 3.5 -1.0zM36.8 91.2a2.1 1.4 135 1 0 -3.0 3.0a2.1 1.4 135 1 0 3.0 -3.0zM127.5 102.7a2.0 1.6 47 1 0 2.7 2.9a2.0 1.6 47 1 0 -2.7 -2.9zM100.0 114.2a1.9 1.7 119 1 0 -1.9 3.4a1.9 1.7 119 1 0 1.9 -3.4zM64.8 116.9a1.3 0.8 147 1 0 -2.2 1.4a1.3 0.8 147 1 0 2.2 -1.4z"/>
<path fill="#606088" fill-opacity="0.8" d="M57.7 46.9a1.4 0.9 79 1 0 0.5 2.8a1.4 0.9 79 1 0 -0.5 -2.8z"/>
<path fill="#686890" fill-opacity="0.8" d="M136.9 54.6a2.3 1.9 166 1 0 -4.4 1.1a2.3 1.9 166 1 0 4.4 -1.1z"/>
<path fill="#8080b0" fill-opacity="0.75" d="M70.4 67.4a1.6 1.2 133 1 0 -2.1 2.3a1.6 1.2 133 1 0 2.1 -2.3zM26.4 76.8a1.8 1.3 51 1 0 2.3 2.9a1.8 1.3 51 1 0 -2.3 -2.9z"/>
<path fill="#7070a0" fill-opacity="0.8" d="M28.4 105.7a1.4 1.2 106 1 0 -0.8 2.8a1.4 1.2 106 1 0 0.8 -2.8zM85.3 111.0a1.9 1.8 14 1 0 3.8 1.0a1.9 1.8 14 1 0 -3.8 -1.0z"/>
</g>
</svg>
<svg x="561.3" y="695.1" width="160.8" height="120.4" viewBox="0 0 160.8 120.4" overflow="hidden">
<rect width="160.8" height="120.4" fill="#cad2e4"/>
<g filter="url(#ib2)">
<ellipse cx="17.2" cy="84.6" rx="17.4" ry="10.7" fill="#ccd2e4" fill-opacity="0.6"/>
<ellipse cx="41.1" cy="88.4" rx="11.0" ry="14.8" fill="#ccd2e4" fill-opacity="0.6"/>
<ellipse cx="63.8" cy="93.6" rx="10.2" ry="17.0" fill="#ccd2e4" fill-opacity="0.6"/>
<ellipse cx="57.6" cy="31.4" rx="14.3" ry="9.5" fill="#ccd2e4" fill-opacity="0.6"/>
<ellipse cx="88.7" cy="79.9" rx="14.5" ry="9.2" fill="#ccd2e4" fill-opacity="0.6"/>
<ellipse cx="54.2" cy="10.0" rx="17.8" ry="12.0" fill="#ccd2e4" fill-opacity="0.6"/>
<ellipse cx="159.3" cy="52.8" rx="16.7" ry="14.9" fill="#ccd2e4" fill-opacity="0.6"/>
<ellipse cx="17.9" cy="70.9" rx="9.8" ry="8.9" fill="#ccd2e4" fill-opacity="0.6"/>
<ellipse cx="140.7" cy="61.9" rx="12.5" ry="10.2" fill="#ccd2e4" fill-opacity="0.6"/>
<ellipse cx="128.4" cy="60.3" rx="16.2" ry="8.9" fill="#ccd2e4" fill-opacity="0.6"/>
<ellipse cx="45.1" cy="3.4" rx="9.1" ry="13.3" fill="#ccd2e4" fill-opacity="0.6"/>
<ellipse cx="15.0" cy="57.8" rx="13.3" ry="12.6" fill="#ccd2e4" fill-opacity="0.6"/>
<ellipse cx="78.0" cy="52.6" rx="8.9" ry="12.7" fill="#ccd2e4" fill-opacity="0.6"/>
<ellipse cx="38.0" cy="104.2" rx="8.7" ry="9.4" fill="#ccd2e4" fill-opacity="0.6"/>
<ellipse cx="113.1" cy="68.8" rx="15.0" ry="17.4" fill="#ccd2e4" fill-opacity="0.6"/>
<ellipse cx="68.0" cy="41.8" rx="17.4" ry="10.6" fill="#ccd2e4" fill-opacity="0.6"/>
<ellipse cx="48.6" cy="22.7" rx="12.7" ry="10.6" fill="#ccd2e4" fill-opacity="0.6"/>
<ellipse cx="62.4" cy="4.2" rx="17.8" ry="13.9" fill="#ccd2e4" fill-opacity="0.6"/>
<ellipse cx="45.4" cy="112.7" rx="10.5" ry="8.4" fill="#ccd2e4" fill-opacity="0.6"/>
<ellipse cx="23.5" cy="24.0" rx="16.7" ry="10.6" fill="#ccd2e4" fill-opacity="0.6"/>
<ellipse cx="40.0" cy="72.7" rx="10.9" ry="15.6" fill="#ccd2e4" fill-opacity="0.6"/>
<ellipse cx="59.3" cy="67.6" rx="17.4" ry="15.6" fill="#ccd2e4" fill-opacity="0.6"/>
<ellipse cx="81.7" cy="101.3" rx="11.8" ry="17.6" fill="#ccd2e4" fill-opacity="0.6"/>
<ellipse cx="87.8" cy="93.1" rx="17.2" ry="14.1" fill="#ccd2e4" fill-opacity="0.6"/>
<ellipse cx="39.8" cy="112.4" rx="11.4" ry="10.6" fill="#ccd2e4" fill-opacity="0.6"/>
<ellipse cx="16.6" cy="24.2" rx="9.4" ry="10.6" fill="#ccd2e4" fill-opacity="0.6"/>
<ellipse cx="71.9" cy="65.6" rx="15.9" ry="10.6" fill="#ccd2e4" fill-opacity="0.6"/>
<ellipse cx="59.3" cy="51.2" rx="10.2" ry="9.5" fill="#ccd2e4" fill-opacity="0.6"/>
<ellipse cx="116.6" cy="17.6" rx="10.2" ry="14.5" fill="#ccd2e4" fill-opacity="0.6"/>
<ellipse cx="105.6" cy="42.6" rx="14.6" ry="13.6" fill="#ccd2e4" fill-opacity="0.6"/>
<ellipse cx="7.4" cy="48.9" rx="12.7" ry="17.3" fill="#ccd2e4" fill-opacity="0.6"/>
<ellipse cx="138.9" cy="7.5" rx="17.3" ry="13.4" fill="#ccd2e4" fill-opacity="0.6"/>
<ellipse cx="15.6" cy="104.4" rx="17.8" ry="16.7" fill="#ccd2e4" fill-opacity="0.6"/>
<ellipse cx="133.3" cy="112.1" rx="15.9" ry="11.1" fill="#ccd2e4" fill-opacity="0.6"/>
<ellipse cx="21.7" cy="45.6" rx="8.0" ry="12.5" fill="#ccd2e4" fill-opacity="0.6"/>
<ellipse cx="126.1" cy="59.6" rx="11.0" ry="17.7" fill="#ccd2e4" fill-opacity="0.6"/>
<ellipse cx="39.9" cy="82.0" rx="8.0" ry="18.0" fill="#ccd2e4" fill-opacity="0.6"/>
<ellipse cx="37.9" cy="119.1" rx="17.0" ry="16.6" fill="#ccd2e4" fill-opacity="0.6"/>
<ellipse cx="64.0" cy="53.6" rx="17.4" ry="8.3" fill="#ccd2e4" fill-opacity="0.6"/>
<ellipse cx="22.0" cy="115.2" rx="15.1" ry="17.7" fill="#ccd2e4" fill-opacity="0.6"/>
<ellipse cx="84.2" cy="100.6" rx="13.4" ry="8.4" fill="#a8aecc" fill-opacity="0.45"/>
<ellipse cx="70.5" cy="69.5" rx="10.5" ry="12.1" fill="#a8aecc" fill-opacity="0.45"/>
<ellipse cx="155.6" cy="50.4" rx="8.2" ry="13.2" fill="#a8aecc" fill-opacity="0.45"/>
<ellipse cx="76.5" cy="46.7" rx="8.7" ry="9.3" fill="#a8aecc" fill-opacity="0.45"/>
<ellipse cx="37.9" cy="30.7" rx="9.5" ry="8.5" fill="#a8aecc" fill-opacity="0.45"/>
<ellipse cx="139.4" cy="67.2" rx="12.1" ry="12.1" fill="#a8aecc" fill-opacity="0.45"/>
<ellipse cx="104.5" cy="93.3" rx="9.3" ry="12.5" fill="#a8aecc" fill-opacity="0.45"/>
<ellipse cx="100.5" cy="84.7" rx="10.2" ry="12.1" fill="#a8aecc" fill-opacity="0.45"/>
<ellipse cx="61.8" cy="72.5" rx="12.5" ry="10.1" fill="#a8aecc" fill-opacity="0.45"/>
<ellipse cx="80.1" cy="99.8" rx="9.1" ry="11.8" fill="#a8aecc" fill-opacity="0.45"/>
<ellipse cx="21.4" cy="103.2" rx="13.4" ry="11.2" fill="#a8aecc" fill-opacity="0.45"/>
<ellipse cx="24.8" cy="62.7" rx="10.9" ry="11.8" fill="#a8aecc" fill-opacity="0.45"/>
<ellipse cx="59.3" cy="115.5" rx="12.8" ry="8.1" fill="#a8aecc" fill-opacity="0.45"/>
<ellipse cx="81.6" cy="8.0" rx="11.5" ry="13.4" fill="#a8aecc" fill-opacity="0.45"/>
<ellipse cx="49.7" cy="48.5" rx="11.6" ry="10.1" fill="#a8aecc" fill-opacity="0.45"/>
<ellipse cx="56.5" cy="102.8" rx="10.1" ry="12.9" fill="#a8aecc" fill-opacity="0.45"/>
<ellipse cx="160.6" cy="52.0" rx="9.8" ry="13.4" fill="#a8aecc" fill-opacity="0.45"/>
<ellipse cx="27.6" cy="23.9" rx="8.7" ry="13.1" fill="#a8aecc" fill-opacity="0.45"/>
</g>
<g filter="url(#ib)" fill-opacity="0.6">
<path fill="#a0b0c8" d="M10.1 -6.9a3.5 2.8 65 1 0 3.0 6.4a3.5 2.8 65 1 0 -3.0 -6.4zM51.0 -1.8a3.0 2.6 14 1 0 5.7 1.4a3.0 2.6 14 1 0 -5.7 -1.4zM72.7 -5.8a3.0 2.9 74 1 0 1.6 5.7a3.0 2.9 74 1 0 -1.6 -5.7zM77.8 -1.2a3.1 2.8 6 1 0 6.1 0.6a3.1 2.8 6 1 0 -6.1 -0.6zM123.3 -5.3a3.1 2.3 146 1 0 -5.1 3.5a3.1 2.3 146 1 0 5.1 -3.5zM3.0 -0.4a3.6 2.8 28 1 0 6.4 3.4a3.6 2.8 28 1 0 -6.4 -3.4zM14.5 -0.4a3.5 3.2 66 1 0 2.8 6.4a3.5 3.2 66 1 0 -2.8 -6.4zM36.1 2.5a3.8 3.0 68 1 0 2.9 7.0a3.8 3.0 68 1 0 -2.9 -7.0zM43.1 3.7a3.5 3.2 14 1 0 6.8 1.7a3.5 3.2 14 1 0 -6.8 -1.7zM49.4 -0.2a2.9 2.4 42 1 0 4.4 3.9a2.9 2.4 42 1 0 -4.4 -3.9zM107.4 -0.2a3.9 3.4 81 1 0 1.2 7.7a3.9 3.4 81 1 0 -1.2 -7.7zM124.3 -1.5a3.5 3.4 31 1 0 6.0 3.6a3.5 3.4 31 1 0 -6.0 -3.6zM142.5 -0.5a3.3 2.8 43 1 0 4.9 4.5a3.3 2.8 43 1 0 -4.9 -4.5zM152.4 5.6a3.3 3.3 179 1 0 -6.6 0.2a3.3 3.3 179 1 0 6.6 -0.2zM157.0 1.0a3.7 3.0 73 1 0 2.2 7.2a3.7 3.0 73 1 0 -2.2 -7.2zM25.1 5.4a3.5 3.1 77 1 0 1.6 6.9a3.5 3.1 77 1 0 -1.6 -6.9zM48.4 6.9a3.7 2.8 179 1 0 -7.5 0.2a3.7 2.8 179 1 0 7.5 -0.2zM81.7 6.6a2.9 2.1 45 1 0 4.1 4.1a2.9 2.1 45 1 0 -4.1 -4.1zM103.5 9.7a3.2 3.1 115 1 0 -2.6 5.8a3.2 3.1 115 1 0 2.6 -5.8zM2.1 13.0a3.5 2.9 57 1 0 3.8 5.9a3.5 2.9 57 1 0 -3.8 -5.9zM44.2 11.6a3.8 3.3 56 1 0 4.2 6.3a3.8 3.3 56 1 0 -4.2 -6.3zM81.2 16.3a3.0 2.9 168 1 0 -6.0 1.2a3.0 2.9 168 1 0 6.0 -1.2zM111.2 12.6a3.6 2.6 163 1 0 -6.9 2.1a3.6 2.6 163 1 0 6.9 -2.1zM52.2 21.9a3.5 3.1 155 1 0 -6.4 3.0a3.5 3.1 155 1 0 6.4 -3.0zM71.7 17.7a3.0 2.9 65 1 0 2.6 5.5a3.0 2.9 65 1 0 -2.6 -5.5zM93.3 22.1a2.9 2.9 116 1 0 -2.5 5.2a2.9 2.9 116 1 0 2.5 -5.2zM109.2 17.5a3.4 2.6 105 1 0 -1.7 6.5a3.4 2.6 105 1 0 1.7 -6.5zM118.1 24.8a3.3 3.1 8 1 0 6.5 1.0a3.3 3.1 8 1 0 -6.5 -1.0zM141.6 20.9a3.2 2.7 74 1 0 1.7 6.1a3.2 2.7 74 1 0 -1.7 -6.1zM153.9 25.7a3.0 2.4 173 1 0 -6.0 0.8a3.0 2.4 173 1 0 6.0 -0.8zM2.1 27.6a3.0 2.7 87 1 0 0.3 5.9a3.0 2.7 87 1 0 -0.3 -5.9zM62.8 26.4a3.8 3.3 75 1 0 2.0 7.4a3.8 3.3 75 1 0 -2.0 -7.4zM128.3 26.6a3.0 2.4 159 1 0 -5.6 2.1a3.0 2.4 159 1 0 5.6 -2.1zM4.2 35.2a3.3 2.4 28 1 0 5.8 3.1a3.3 2.4 28 1 0 -5.8 -3.1zM20.7 35.9a3.6 2.5 131 1 0 -4.7 5.4a3.6 2.5 131 1 0 4.7 -5.4zM29.2 33.7a3.7 3.3 162 1 0 -7.1 2.3a3.7 3.3 162 1 0 7.1 -2.3zM67.6 32.6a3.2 2.9 69 1 0 2.3 6.1a3.2 2.9 69 1 0 -2.3 -6.1zM104.3 38.4a3.7 3.1 171 1 0 -7.4 1.2a3.7 3.1 171 1 0 7.4 -1.2zM135.1 33.6a3.9 3.0 172 1 0 -7.7 1.1a3.9 3.0 172 1 0 7.7 -1.1zM139.5 36.1a3.7 2.8 10 1 0 7.2 1.3a3.7 2.8 10 1 0 -7.2 -1.3zM4.4 37.5a2.9 2.6 91 1 0 -0.1 5.9a2.9 2.6 91 1 0 0.1 -5.9zM70.1 40.2a3.6 3.4 59 1 0 3.7 6.3a3.6 3.4 59 1 0 -3.7 -6.3zM160.8 39.1a2.9 2.1 159 1 0 -5.4 2.1a2.9 2.1 159 1 0 5.4 -2.1zM73.7 47.2a3.0 2.6 174 1 0 -6.0 0.6a3.0 2.6 174 1 0 6.0 -0.6zM161.6 46.4a3.1 2.4 27 1 0 5.5 2.7a3.1 2.4 27 1 0 -5.5 -2.7zM14.9 55.7a3.5 3.2 3 1 0 7.1 0.4a3.5 3.2 3 1 0 -7.1 -0.4zM34.9 58.4a3.0 2.3 175 1 0 -6.0 0.5a3.0 2.3 175 1 0 6.0 -0.5zM15.4 59.7a3.6 2.7 22 1 0 6.8 2.7a3.6 2.7 22 1 0 -6.8 -2.7zM54.5 61.2a3.5 2.8 8 1 0 7.0 0.9a3.5 2.8 8 1 0 -7.0 -0.9zM84.1 61.3a3.0 2.6 140 1 0 -4.6 3.8a3.0 2.6 140 1 0 4.6 -3.8zM103.2 63.6a3.8 3.2 171 1 0 -7.6 1.2a3.8 3.2 171 1 0 7.6 -1.2zM116.2 59.7a3.5 3.3 99 1 0 -1.1 7.0a3.5 3.3 99 1 0 1.1 -7.0zM123.9 61.0a3.2 3.1 140 1 0 -4.9 4.0a3.2 3.1 140 1 0 4.9 -4.0zM123.3 58.5a3.7 2.8 35 1 0 6.1 4.2a3.7 2.8 35 1 0 -6.1 -4.2zM2.4 71.5a3.2 2.7 176 1 0 -6.3 0.4a3.2 2.7 176 1 0 6.3 -0.4zM31.2 65.9a3.4 3.0 80 1 0 1.1 6.7a3.4 3.0 80 1 0 -1.1 -6.7zM79.7 64.6a3.3 3.0 111 1 0 -2.4 6.2a3.3 3.0 111 1 0 2.4 -6.2zM105.7 67.7a3.8 3.6 70 1 0 2.6 7.1a3.8 3.6 70 1 0 -2.6 -7.1zM143.9 71.3a3.9 3.7 6 1 0 7.8 0.8a3.9 3.7 6 1 0 -7.8 -0.8zM150.4 68.2a3.5 2.9 35 1 0 5.8 4.0a3.5 2.9 35 1 0 -5.8 -4.0zM160.6 65.2a3.0 2.8 104 1 0 -1.4 5.9a3.0 2.8 104 1 0 1.4 -5.9zM77.4 71.8a3.0 2.8 100 1 0 -1.1 5.8a3.0 2.8 100 1 0 1.1 -5.8zM110.0 72.6a3.3 2.7 113 1 0 -2.6 6.0a3.3 2.7 113 1 0 2.6 -6.0zM135.4 72.0a3.3 2.9 116 1 0 -2.8 5.9a3.3 2.9 116 1 0 2.8 -5.9zM148.2 73.6a3.5 3.2 134 1 0 -4.9 5.0a3.5 3.2 134 1 0 4.9 -5.0zM159.8 73.9a3.3 3.0 25 1 0 6.1 2.8a3.3 3.0 25 1 0 -6.1 -2.8zM7.8 84.9a3.0 2.4 8 1 0 6.0 0.8a3.0 2.4 8 1 0 -6.0 -0.8zM61.2 82.2a3.4 3.0 12 1 0 6.6 1.4a3.4 3.0 12 1 0 -6.6 -1.4zM86.1 80.0a3.6 3.2 61 1 0 3.5 6.4a3.6 3.2 61 1 0 -3.5 -6.4zM122.0 85.2a3.4 2.7 176 1 0 -6.7 0.5a3.4 2.7 176 1 0 6.7 -0.5zM140.4 80.0a3.3 2.8 122 1 0 -3.5 5.7a3.3 2.8 122 1 0 3.5 -5.7zM9.0 83.0a3.2 2.5 89 1 0 0.1 6.3a3.2 2.5 89 1 0 -0.1 -6.3zM114.9 87.4a3.8 2.9 167 1 0 -7.5 1.7a3.8 2.9 167 1 0 7.5 -1.7zM124.7 87.1a3.5 3.2 12 1 0 6.9 1.5a3.5 3.2 12 1 0 -6.9 -1.5zM2.7 95.0a3.1 2.5 99 1 0 -0.9 6.2a3.1 2.5 99 1 0 0.9 -6.2zM1.9 95.1a3.6 3.3 13 1 0 7.1 1.7a3.6 3.3 13 1 0 -7.1 -1.7zM14.3 91.4a3.1 2.4 127 1 0 -3.8 5.0a3.1 2.4 127 1 0 3.8 -5.0zM34.5 92.2a3.3 3.0 153 1 0 -5.9 3.0a3.3 3.0 153 1 0 5.9 -3.0zM114.2 98.0a3.9 3.5 175 1 0 -7.7 0.6a3.9 3.5 175 1 0 7.7 -0.6zM149.1 96.8a3.5 3.1 170 1 0 -6.9 1.2a3.5 3.1 170 1 0 6.9 -1.2zM107.9 102.0a3.7 3.0 47 1 0 5.0 5.4a3.7 3.0 47 1 0 -5.0 -5.4zM8.2 107.7a3.9 3.9 23 1 0 7.1 3.1a3.9 3.9 23 1 0 -7.1 -3.1zM83.9 105.9a3.8 3.6 9 1 0 7.4 1.1a3.8 3.6 9 1 0 -7.4 -1.1zM110.0 106.3a3.4 3.0 164 1 0 -6.5 1.9a3.4 3.0 164 1 0 6.5 -1.9zM146.4 110.7a3.6 2.5 174 1 0 -7.1 0.7a3.6 2.5 174 1 0 7.1 -0.7zM150.7 106.5a3.1 2.2 62 1 0 2.9 5.5a3.1 2.2 62 1 0 -2.9 -5.5zM161.1 103.8a3.0 2.4 48 1 0 4.0 4.4a3.0 2.4 48 1 0 -4.0 -4.4zM10.2 110.0a3.6 3.3 63 1 0 3.3 6.3a3.6 3.3 63 1 0 -3.3 -6.3zM81.4 115.0a3.8 2.9 112 1 0 -2.8 7.1a3.8 2.9 112 1 0 2.8 -7.1zM23.8 119.2a3.0 2.2 152 1 0 -5.4 2.9a3.0 2.2 152 1 0 5.4 -2.9zM41.9 118.3a3.9 3.5 111 1 0 -2.8 7.2a3.9 3.5 111 1 0 2.8 -7.2zM96.4 119.0a3.7 3.5 51 1 0 4.7 5.8a3.7 3.5 51 1 0 -4.7 -5.8zM129.4 118.8a3.4 3.1 52 1 0 4.1 5.3a3.4 3.1 52 1 0 -4.1 -5.3z"/>
<path fill="#a0a8c8" d="M15.7 -4.2a3.4 3.0 46 1 0 4.7 4.9a3.4 3.0 46 1 0 -4.7 -4.9zM99.5 -5.3a3.0 2.3 87 1 0 0.3 6.0a3.0 2.3 87 1 0 -0.3 -6.0zM103.0 1.8a3.1 2.9 174 1 0 -6.2 0.7a3.1 2.9 174 1 0 6.2 -0.7zM30.8 5.6a3.4 2.9 117 1 0 -3.0 6.0a3.4 2.9 117 1 0 3.0 -6.0zM61.2 6.8a3.6 3.2 130 1 0 -4.7 5.5a3.6 3.2 130 1 0 4.7 -5.5zM152.4 16.2a3.7 3.1 124 1 0 -4.1 6.2a3.7 3.1 124 1 0 4.1 -6.2zM19.3 26.3a3.3 2.5 16 1 0 6.3 1.8a3.3 2.5 16 1 0 -6.3 -1.8zM80.9 29.1a3.2 3.0 171 1 0 -6.3 1.0a3.2 3.0 171 1 0 6.3 -1.0zM143.0 25.9a3.0 2.9 139 1 0 -4.4 3.9a3.0 2.9 139 1 0 4.4 -3.9zM89.2 35.1a3.1 2.3 159 1 0 -5.7 2.2a3.1 2.3 159 1 0 5.7 -2.2zM106.3 34.3a3.3 3.1 94 1 0 -0.4 6.6a3.3 3.1 94 1 0 0.4 -6.6zM167.3 35.7a3.0 2.9 161 1 0 -5.7 2.0a3.0 2.9 161 1 0 5.7 -2.0zM1.0 39.6a3.0 2.8 87 1 0 0.3 6.0a3.0 2.8 87 1 0 -0.3 -6.0zM14.9 42.6a3.1 2.4 4 1 0 6.3 0.5a3.1 2.4 4 1 0 -6.3 -0.5zM95.9 41.3a3.1 2.2 122 1 0 -3.3 5.3a3.1 2.2 122 1 0 3.3 -5.3zM115.5 41.0a3.5 2.8 38 1 0 5.5 4.3a3.5 2.8 38 1 0 -5.5 -4.3zM33.4 48.8a3.3 2.8 48 1 0 4.5 4.9a3.3 2.8 48 1 0 -4.5 -4.9zM102.8 51.8a3.6 3.1 9 1 0 7.0 1.1a3.6 3.1 9 1 0 -7.0 -1.1zM134.0 43.6a3.7 2.9 94 1 0 -0.5 7.4a3.7 2.9 94 1 0 0.5 -7.4zM45.9 53.2a3.6 3.1 159 1 0 -6.6 2.6a3.6 3.1 159 1 0 6.6 -2.6zM115.5 53.8a3.8 3.2 65 1 0 3.2 6.9a3.8 3.2 65 1 0 -3.2 -6.9zM150.0 50.6a3.8 2.9 125 1 0 -4.4 6.3a3.8 2.9 125 1 0 4.4 -6.3zM112.1 73.1a3.6 3.2 18 1 0 6.9 2.2a3.6 3.2 18 1 0 -6.9 -2.2zM126.9 69.9a3.5 2.7 89 1 0 0.1 6.9a3.5 2.7 89 1 0 -0.1 -6.9zM156.1 70.6a3.8 3.2 108 1 0 -2.4 7.2a3.8 3.2 108 1 0 2.4 -7.2zM115.0 79.4a3.3 2.5 160 1 0 -6.3 2.3a3.3 2.5 160 1 0 6.3 -2.3zM53.6 86.0a3.6 3.3 54 1 0 4.2 5.8a3.6 3.3 54 1 0 -4.2 -5.8zM79.4 85.3a3.1 2.8 119 1 0 -3.0 5.5a3.1 2.8 119 1 0 3.0 -5.5zM93.3 87.9a3.3 3.1 133 1 0 -4.4 4.8a3.3 3.1 133 1 0 4.4 -4.8zM133.2 89.6a3.7 3.3 13 1 0 7.3 1.7a3.7 3.3 13 1 0 -7.3 -1.7zM154.6 91.1a3.0 2.9 5 1 0 5.9 0.5a3.0 2.9 5 1 0 -5.9 -0.5zM20.1 100.6a3.5 2.5 128 1 0 -4.3 5.5a3.5 2.5 128 1 0 4.3 -5.5zM65.5 102.6a3.7 3.2 167 1 0 -7.2 1.7a3.7 3.2 167 1 0 7.2 -1.7zM50.8 108.9a3.5 3.1 20 1 0 6.6 2.5a3.5 3.1 20 1 0 -6.6 -2.5zM125.1 112.5a3.1 2.9 48 1 0 4.1 4.6a3.1 2.9 48 1 0 -4.1 -4.6zM134.3 121.1a2.9 2.6 36 1 0 4.8 3.4a2.9 2.6 36 1 0 -4.8 -3.4zM158.3 118.3a3.1 2.6 97 1 0 -0.7 6.2a3.1 2.6 97 1 0 0.7 -6.2z"/>
<path fill="#a8b0c8" d="M23.6 -2.1a3.1 2.8 166 1 0 -6.1 1.5a3.1 2.8 166 1 0 6.1 -1.5zM51.2 -6.0a3.8 3.8 129 1 0 -4.8 5.9a3.8 3.8 129 1 0 4.8 -5.9zM20.1 2.6a2.9 2.5 114 1 0 -2.4 5.3a2.9 2.5 114 1 0 2.4 -5.3zM86.7 7.4a3.8 2.8 50 1 0 4.9 5.8a3.8 2.8 50 1 0 -4.9 -5.8zM53.0 11.9a3.0 2.8 48 1 0 4.0 4.5a3.0 2.8 48 1 0 -4.0 -4.5zM84.7 16.9a2.9 2.9 7 1 0 5.8 0.7a2.9 2.9 7 1 0 -5.8 -0.7zM99.1 20.2a3.5 3.3 142 1 0 -5.5 4.4a3.5 3.3 142 1 0 5.5 -4.4zM157.0 22.9a3.3 2.5 117 1 0 -3.0 6.0a3.3 2.5 117 1 0 3.0 -6.0zM27.8 24.9a3.2 3.0 99 1 0 -1.0 6.2a3.2 3.0 99 1 0 1.0 -6.2zM97.0 25.4a3.3 2.4 157 1 0 -6.2 2.6a3.3 2.4 157 1 0 6.2 -2.6zM110.1 25.7a3.7 3.0 32 1 0 6.3 3.9a3.7 3.0 32 1 0 -6.3 -3.9zM40.9 35.5a3.4 2.9 4 1 0 6.9 0.4a3.4 2.9 4 1 0 -6.9 -0.4zM134.2 31.6a3.3 3.3 111 1 0 -2.4 6.2a3.3 3.3 111 1 0 2.4 -6.2zM151.6 32.1a3.2 3.0 128 1 0 -3.9 5.0a3.2 3.0 128 1 0 3.9 -5.0zM32.7 39.0a3.8 3.1 97 1 0 -1.0 7.6a3.8 3.1 97 1 0 1.0 -7.6zM61.8 43.7a3.0 2.7 138 1 0 -4.5 4.1a3.0 2.7 138 1 0 4.5 -4.1zM81.2 46.4a3.3 2.5 56 1 0 3.7 5.5a3.3 2.5 56 1 0 -3.7 -5.5zM99.7 48.0a3.3 3.2 80 1 0 1.1 6.5a3.3 3.2 80 1 0 -1.1 -6.5zM138.1 48.7a3.4 2.7 67 1 0 2.7 6.2a3.4 2.7 67 1 0 -2.7 -6.2zM-0.9 49.9a3.6 3.4 105 1 0 -1.9 7.0a3.6 3.4 105 1 0 1.9 -7.0zM59.2 51.6a3.5 3.4 27 1 0 6.2 3.2a3.5 3.4 27 1 0 -6.2 -3.2zM126.6 54.7a3.2 2.9 24 1 0 5.8 2.6a3.2 2.9 24 1 0 -5.8 -2.6zM4.9 56.9a3.0 2.8 110 1 0 -2.1 5.6a3.0 2.8 110 1 0 2.1 -5.6zM32.2 60.9a3.5 2.9 144 1 0 -5.7 4.1a3.5 2.9 144 1 0 5.7 -4.1zM32.4 62.0a2.9 2.6 33 1 0 4.9 3.2a2.9 2.6 33 1 0 -4.9 -3.2zM103.9 62.1a3.8 3.2 51 1 0 4.8 5.9a3.8 3.2 51 1 0 -4.8 -5.9zM145.1 61.5a3.4 3.4 159 1 0 -6.3 2.4a3.4 3.4 159 1 0 6.3 -2.4zM35.6 64.4a3.9 2.8 62 1 0 3.6 6.9a3.9 2.8 62 1 0 -3.6 -6.9zM88.1 66.1a2.9 2.2 20 1 0 5.5 2.0a2.9 2.2 20 1 0 -5.5 -2.0zM63.7 71.0a3.3 2.4 120 1 0 -3.3 5.7a3.3 2.4 120 1 0 3.3 -5.7zM104.9 70.2a3.6 3.2 114 1 0 -2.9 6.5a3.6 3.2 114 1 0 2.9 -6.5zM146.4 70.7a3.3 3.3 134 1 0 -4.6 4.8a3.3 3.3 134 1 0 4.6 -4.8zM4.6 77.7a3.4 2.8 50 1 0 4.4 5.1a3.4 2.8 50 1 0 -4.4 -5.1zM161.2 79.4a3.8 3.7 130 1 0 -4.9 5.7a3.8 3.7 130 1 0 4.9 -5.7zM-1.2 83.0a3.9 2.8 78 1 0 1.6 7.5a3.9 2.8 78 1 0 -1.6 -7.5zM30.1 83.2a3.8 2.9 64 1 0 3.3 6.8a3.8 2.9 64 1 0 -3.3 -6.8zM35.3 87.8a2.9 2.7 35 1 0 4.8 3.3a2.9 2.7 35 1 0 -4.8 -3.3zM47.5 84.8a3.6 2.8 119 1 0 -3.5 6.3a3.6 2.8 119 1 0 3.5 -6.3zM29.6 95.3a3.4 3.1 100 1 0 -1.2 6.6a3.4 3.1 100 1 0 1.2 -6.6zM46.5 94.8a3.2 3.0 114 1 0 -2.6 5.9a3.2 3.0 114 1 0 2.6 -5.9zM82.1 95.0a3.8 3.1 139 1 0 -5.7 5.0a3.8 3.1 139 1 0 5.7 -5.0zM126.1 91.1a3.7 2.8 152 1 0 -6.5 3.4a3.7 2.8 152 1 0 6.5 -3.4zM137.5 96.0a3.3 3.3 10 1 0 6.5 1.1a3.3 3.3 10 1 0 -6.5 -1.1zM162.4 97.7a3.1 2.8 161 1 0 -5.8 2.0a3.1 2.8 161 1 0 5.8 -2.0zM146.7 98.1a3.1 2.6 101 1 0 -1.2 6.0a3.1 2.6 101 1 0 1.2 -6.0zM152.2 98.1a3.2 2.6 76 1 0 1.6 6.2a3.2 2.6 76 1 0 -1.6 -6.2zM57.5 106.2a3.0 2.2 53 1 0 3.7 4.8a3.0 2.2 53 1 0 -3.7 -4.8zM4.4 116.1a3.8 3.1 161 1 0 -7.1 2.4a3.8 3.1 161 1 0 7.1 -2.4zM50.9 120.1a3.2 3.1 30 1 0 5.5 3.2a3.2 3.1 30 1 0 -5.5 -3.2z"/>
<path fill="#b0b8d8" d="M42.0 -5.3a3.7 3.4 72 1 0 2.2 7.0a3.7 3.4 72 1 0 -2.2 -7.0zM60.6 -2.3a3.1 2.4 20 1 0 5.8 2.1a3.1 2.4 20 1 0 -5.8 -2.1zM133.1 -4.4a3.2 3.0 120 1 0 -3.2 5.5a3.2 3.0 120 1 0 3.2 -5.5zM159.0 -4.2a3.8 3.3 43 1 0 5.6 5.2a3.8 3.3 43 1 0 -5.6 -5.2zM31.2 4.3a3.4 3.3 30 1 0 5.9 3.4a3.4 3.3 30 1 0 -5.9 -3.4zM86.7 -0.9a3.6 2.6 133 1 0 -4.8 5.3a3.6 2.6 133 1 0 4.8 -5.3zM114.5 3.3a3.3 2.7 34 1 0 5.5 3.7a3.3 2.7 34 1 0 -5.5 -3.7zM138.1 2.5a3.5 3.3 81 1 0 1.1 7.0a3.5 3.3 81 1 0 -1.1 -7.0zM-4.1 11.4a3.6 3.4 19 1 0 6.8 2.3a3.6 3.4 19 1 0 -6.8 -2.3zM136.9 8.7a3.3 2.4 51 1 0 4.2 5.2a3.3 2.4 51 1 0 -4.2 -5.2zM142.9 16.3a3.7 3.5 143 1 0 -5.9 4.5a3.7 3.5 143 1 0 5.9 -4.5zM143.7 13.8a3.4 3.1 27 1 0 6.1 3.2a3.4 3.1 27 1 0 -6.1 -3.2zM37.9 19.2a3.1 2.7 117 1 0 -2.9 5.6a3.1 2.7 117 1 0 2.9 -5.6zM56.9 21.4a3.9 3.5 167 1 0 -7.5 1.7a3.9 3.5 167 1 0 7.5 -1.7zM67.1 20.3a3.3 2.9 118 1 0 -3.1 5.8a3.3 2.9 118 1 0 3.1 -5.8zM54.7 27.9a3.2 3.2 169 1 0 -6.3 1.2a3.2 3.2 169 1 0 6.3 -1.2zM57.0 27.1a3.1 2.3 69 1 0 2.3 5.8a3.1 2.3 69 1 0 -2.3 -5.8zM87.0 29.2a3.6 3.0 174 1 0 -7.1 0.7a3.6 3.0 174 1 0 7.1 -0.7zM92.0 30.6a3.7 3.0 65 1 0 3.1 6.8a3.7 3.0 65 1 0 -3.1 -6.8zM126.1 37.5a3.2 2.8 84 1 0 0.6 6.3a3.2 2.8 84 1 0 -0.6 -6.3zM141.3 41.6a3.1 2.7 92 1 0 -0.2 6.2a3.1 2.7 92 1 0 0.2 -6.2zM149.9 39.5a3.1 2.9 168 1 0 -6.1 1.3a3.1 2.9 168 1 0 6.1 -1.3zM45.9 50.9a3.4 3.3 46 1 0 4.7 4.9a3.4 3.3 46 1 0 -4.7 -4.9zM61.1 54.0a3.5 2.5 27 1 0 6.3 3.1a3.5 2.5 27 1 0 -6.3 -3.1zM87.2 51.3a3.8 3.0 140 1 0 -5.8 4.8a3.8 3.0 140 1 0 5.8 -4.8zM129.0 54.7a3.2 2.9 111 1 0 -2.3 5.9a3.2 2.9 111 1 0 2.3 -5.9zM11.9 59.2a3.0 2.6 152 1 0 -5.3 2.8a3.0 2.6 152 1 0 5.3 -2.8zM51.5 57.1a3.2 2.6 92 1 0 -0.2 6.4a3.2 2.6 92 1 0 0.2 -6.4zM77.9 59.4a3.8 3.0 117 1 0 -3.5 6.9a3.8 3.0 117 1 0 3.5 -6.9zM132.2 59.9a3.6 2.8 27 1 0 6.5 3.3a3.6 2.8 27 1 0 -6.5 -3.3zM25.8 67.9a3.8 3.2 43 1 0 5.5 5.1a3.8 3.2 43 1 0 -5.5 -5.1zM47.0 71.3a3.5 3.3 167 1 0 -6.8 1.6a3.5 3.3 167 1 0 6.8 -1.6zM132.9 63.8a3.9 3.4 58 1 0 4.2 6.6a3.9 3.4 58 1 0 -4.2 -6.6zM160.4 66.6a3.8 2.8 60 1 0 3.8 6.7a3.8 2.8 60 1 0 -3.8 -6.7zM125.7 76.5a3.3 3.0 138 1 0 -4.9 4.4a3.3 3.0 138 1 0 4.9 -4.4zM43.0 80.5a3.3 2.9 39 1 0 5.1 4.2a3.3 2.9 39 1 0 -5.1 -4.2zM59.1 81.5a3.5 3.4 54 1 0 4.1 5.7a3.5 3.4 54 1 0 -4.1 -5.7zM71.5 80.5a3.1 2.4 114 1 0 -2.5 5.6a3.1 2.4 114 1 0 2.5 -5.6zM93.8 78.3a3.2 2.4 64 1 0 2.8 5.8a3.2 2.4 64 1 0 -2.8 -5.8zM45.9 87.0a3.0 2.9 25 1 0 5.4 2.5a3.0 2.9 25 1 0 -5.4 -2.5zM84.3 89.6a3.1 2.6 131 1 0 -4.1 4.7a3.1 2.6 131 1 0 4.1 -4.7zM95.2 88.3a3.8 3.4 75 1 0 1.9 7.3a3.8 3.4 75 1 0 -1.9 -7.3zM141.8 84.7a2.9 2.2 86 1 0 0.4 5.8a2.9 2.2 86 1 0 -0.4 -5.8zM166.6 87.2a3.7 2.7 156 1 0 -6.8 3.0a3.7 2.7 156 1 0 6.8 -3.0zM68.7 91.6a3.8 3.1 42 1 0 5.6 5.0a3.8 3.1 42 1 0 -5.6 -5.0zM94.5 89.8a3.6 3.4 99 1 0 -1.2 7.0a3.6 3.4 99 1 0 1.2 -7.0zM25.7 97.5a3.8 2.7 74 1 0 2.1 7.3a3.8 2.7 74 1 0 -2.1 -7.3zM35.3 96.7a3.7 3.3 115 1 0 -3.1 6.7a3.7 3.3 115 1 0 3.1 -6.7zM85.5 103.9a3.3 2.4 20 1 0 6.3 2.2a3.3 2.4 20 1 0 -6.3 -2.2zM1.0 107.2a3.4 2.5 154 1 0 -6.1 3.0a3.4 2.5 154 1 0 6.1 -3.0zM21.7 105.4a3.8 3.5 151 1 0 -6.7 3.7a3.8 3.5 151 1 0 6.7 -3.7zM39.2 106.4a3.3 2.9 172 1 0 -6.6 1.0a3.3 2.9 172 1 0 6.6 -1.0zM44.4 107.5a3.3 2.8 77 1 0 1.5 6.4a3.3 2.8 77 1 0 -1.5 -6.4zM1.0 111.3a3.6 3.3 150 1 0 -6.2 3.6a3.6 3.3 150 1 0 6.2 -3.6zM146.6 113.9a3.8 3.1 71 1 0 2.5 7.2a3.8 3.1 71 1 0 -2.5 -7.2zM0.9 116.7a3.8 3.7 128 1 0 -4.6 6.0a3.8 3.7 128 1 0 4.6 -6.0zM62.0 118.8a3.7 3.0 127 1 0 -4.5 6.0a3.7 3.0 127 1 0 4.5 -6.0zM65.5 121.1a3.2 2.9 66 1 0 2.7 5.9a3.2 2.9 66 1 0 -2.7 -5.9z"/>
<path fill="#b0b8d0" d="M65.5 -4.6a3.1 2.3 64 1 0 2.6 5.5a3.1 2.3 64 1 0 -2.6 -5.5zM137.6 1.4a3.8 3.3 159 1 0 -7.0 2.8a3.8 3.3 159 1 0 7.0 -2.8zM65.2 12.1a2.9 2.8 171 1 0 -5.7 0.9a2.9 2.8 171 1 0 5.7 -0.9zM114.2 11.0a3.0 3.0 149 1 0 -5.2 3.1a3.0 3.0 149 1 0 5.2 -3.1zM118.7 10.5a3.0 2.8 32 1 0 5.2 3.3a3.0 2.8 32 1 0 -5.2 -3.3zM123.4 13.5a2.9 2.2 12 1 0 5.7 1.3a2.9 2.2 12 1 0 -5.7 -1.3zM157.5 17.8a3.2 2.9 30 1 0 5.5 3.2a3.2 2.9 30 1 0 -5.5 -3.2zM73.0 16.9a3.5 2.6 103 1 0 -1.5 6.8a3.5 2.6 103 1 0 1.5 -6.8zM98.0 20.2a3.6 2.7 11 1 0 7.1 1.3a3.6 2.7 11 1 0 -7.1 -1.3zM120.1 21.9a3.1 2.6 152 1 0 -5.5 2.9a3.1 2.6 152 1 0 5.5 -2.9zM157.0 23.6a3.8 2.9 34 1 0 6.4 4.3a3.8 2.9 34 1 0 -6.4 -4.3zM133.3 28.8a3.2 3.1 164 1 0 -6.2 1.8a3.2 3.1 164 1 0 6.2 -1.8zM4.1 34.1a3.2 3.1 149 1 0 -5.6 3.3a3.2 3.1 149 1 0 5.6 -3.3zM55.3 33.1a2.9 2.1 27 1 0 5.2 2.6a2.9 2.1 27 1 0 -5.2 -2.6zM66.7 32.4a3.4 2.6 141 1 0 -5.3 4.3a3.4 2.6 141 1 0 5.3 -4.3zM47.9 39.5a3.1 2.4 134 1 0 -4.2 4.4a3.1 2.4 134 1 0 4.2 -4.4zM74.9 37.2a3.3 2.5 58 1 0 3.4 5.5a3.3 2.5 58 1 0 -3.4 -5.5zM-3.3 46.9a3.8 2.9 39 1 0 5.9 4.8a3.8 2.9 39 1 0 -5.9 -4.8zM15.0 50.1a3.9 3.3 31 1 0 6.6 4.0a3.9 3.3 31 1 0 -6.6 -4.0zM30.8 48.1a3.6 2.5 97 1 0 -0.9 7.1a3.6 2.5 97 1 0 0.9 -7.1zM24.9 55.9a3.3 2.3 3 1 0 6.5 0.4a3.3 2.3 3 1 0 -6.5 -0.4zM96.9 53.7a3.1 2.7 126 1 0 -3.7 5.1a3.1 2.7 126 1 0 3.7 -5.1zM147.0 51.3a3.1 2.6 38 1 0 4.9 3.8a3.1 2.6 38 1 0 -4.9 -3.8zM90.4 61.2a3.5 3.2 107 1 0 -2.1 6.7a3.5 3.2 107 1 0 2.1 -6.7zM61.9 67.1a3.7 3.6 113 1 0 -2.9 6.9a3.7 3.6 113 1 0 2.9 -6.9zM16.4 72.5a3.8 3.6 113 1 0 -2.9 7.0a3.8 3.6 113 1 0 2.9 -7.0zM23.6 74.3a3.0 2.6 64 1 0 2.6 5.4a3.0 2.6 64 1 0 -2.6 -5.4zM47.8 75.9a2.9 2.8 133 1 0 -4.0 4.3a2.9 2.8 133 1 0 4.0 -4.3zM5.0 78.1a3.5 3.3 129 1 0 -4.5 5.5a3.5 3.3 129 1 0 4.5 -5.5zM100.6 83.0a3.9 3.6 161 1 0 -7.4 2.5a3.9 3.6 161 1 0 7.4 -2.5zM136.3 82.3a3.8 2.8 124 1 0 -4.3 6.4a3.8 2.8 124 1 0 4.3 -6.4zM146.5 85.4a3.9 3.6 99 1 0 -1.2 7.7a3.9 3.6 99 1 0 1.2 -7.7zM41.2 96.6a3.7 2.8 154 1 0 -6.7 3.3a3.7 2.8 154 1 0 6.7 -3.3zM58.4 93.1a3.2 2.7 147 1 0 -5.4 3.4a3.2 2.7 147 1 0 5.4 -3.4zM59.1 91.1a3.2 2.4 43 1 0 4.7 4.4a3.2 2.4 43 1 0 -4.7 -4.4zM118.3 93.5a3.2 3.1 137 1 0 -4.7 4.4a3.2 3.1 137 1 0 4.7 -4.4zM164.0 91.6a3.6 2.9 104 1 0 -1.8 7.0a3.6 2.9 104 1 0 1.8 -7.0zM9.6 100.4a3.3 3.1 112 1 0 -2.4 6.1a3.3 3.1 112 1 0 2.4 -6.1zM104.0 101.1a3.3 3.2 142 1 0 -5.2 4.0a3.3 3.2 142 1 0 5.2 -4.0zM120.3 101.5a3.1 2.7 165 1 0 -6.0 1.7a3.1 2.7 165 1 0 6.0 -1.7zM145.8 100.5a2.9 2.8 114 1 0 -2.3 5.3a2.9 2.8 114 1 0 2.3 -5.3zM22.2 110.8a3.4 3.1 15 1 0 6.6 1.8a3.4 3.1 15 1 0 -6.6 -1.8zM62.8 106.6a3.3 3.2 81 1 0 1.0 6.6a3.3 3.2 81 1 0 -1.0 -6.6zM73.6 105.8a3.9 3.5 26 1 0 6.9 3.4a3.9 3.5 26 1 0 -6.9 -3.4zM89.5 109.7a3.6 2.5 15 1 0 6.9 1.9a3.6 2.5 15 1 0 -6.9 -1.9zM119.1 107.8a2.9 2.3 155 1 0 -5.3 2.5a2.9 2.3 155 1 0 5.3 -2.5zM119.4 113.0a3.3 2.8 70 1 0 2.2 6.2a3.3 2.8 70 1 0 -2.2 -6.2zM143.1 112.4a3.3 2.4 176 1 0 -6.6 0.4a3.3 2.4 176 1 0 6.6 -0.4zM17.1 118.0a3.2 2.3 156 1 0 -5.8 2.6a3.2 2.3 156 1 0 5.8 -2.6zM28.7 122.3a3.1 2.9 32 1 0 5.3 3.3a3.1 2.9 32 1 0 -5.3 -3.3z"/>
<path fill="#a8b8d0" d="M85.3 -6.4a3.3 2.9 63 1 0 3.0 6.0a3.3 2.9 63 1 0 -3.0 -6.0zM29.8 4.2a3.5 3.1 148 1 0 -6.0 3.7a3.5 3.1 148 1 0 6.0 -3.7zM58.1 -2.3a3.6 3.0 89 1 0 0.2 7.2a3.6 3.0 89 1 0 -0.2 -7.2zM36.8 7.4a3.2 2.8 120 1 0 -3.2 5.5a3.2 2.8 120 1 0 3.2 -5.5zM69.0 6.1a3.2 3.1 97 1 0 -0.8 6.3a3.2 3.1 97 1 0 0.8 -6.3zM93.9 11.1a3.4 2.8 5 1 0 6.7 0.6a3.4 2.8 5 1 0 -6.7 -0.6zM137.2 6.8a3.5 2.7 138 1 0 -5.2 4.7a3.5 2.7 138 1 0 5.2 -4.7zM143.7 9.7a3.6 3.4 2 1 0 7.1 0.2a3.6 3.4 2 1 0 -7.1 -0.2zM158.6 9.6a3.2 2.5 134 1 0 -4.4 4.6a3.2 2.5 134 1 0 4.4 -4.6zM14.6 15.0a3.8 3.0 73 1 0 2.3 7.2a3.8 3.0 73 1 0 -2.3 -7.2zM17.2 16.5a3.9 3.4 35 1 0 6.3 4.5a3.9 3.4 35 1 0 -6.3 -4.5zM39.6 14.2a3.0 2.3 155 1 0 -5.5 2.5a3.0 2.3 155 1 0 5.5 -2.5zM55.6 16.0a3.7 3.3 69 1 0 2.7 7.0a3.7 3.3 69 1 0 -2.7 -7.0zM62.5 11.1a3.8 3.2 81 1 0 1.2 7.4a3.8 3.2 81 1 0 -1.2 -7.4zM72.9 15.9a3.0 2.8 106 1 0 -1.7 5.8a3.0 2.8 106 1 0 1.7 -5.8zM102.7 13.5a3.5 3.3 178 1 0 -6.9 0.3a3.5 3.3 178 1 0 6.9 -0.3zM116.6 12.2a3.2 2.5 25 1 0 5.8 2.7a3.2 2.5 25 1 0 -5.8 -2.7zM131.8 10.9a3.0 2.2 106 1 0 -1.6 5.7a3.0 2.2 106 1 0 1.6 -5.7zM-0.6 22.1a3.2 3.0 121 1 0 -3.4 5.5a3.2 3.0 121 1 0 3.4 -5.5zM7.0 20.6a3.2 2.5 22 1 0 5.9 2.3a3.2 2.5 22 1 0 -5.9 -2.3zM16.8 17.1a3.3 2.6 98 1 0 -0.9 6.5a3.3 2.6 98 1 0 0.9 -6.5zM27.2 20.8a3.4 2.7 157 1 0 -6.2 2.6a3.4 2.7 157 1 0 6.2 -2.6zM24.2 24.2a3.7 3.4 10 1 0 7.2 1.3a3.7 3.4 10 1 0 -7.2 -1.3zM34.1 29.5a3.2 2.4 2 1 0 6.4 0.2a3.2 2.4 2 1 0 -6.4 -0.2zM48.0 28.2a3.7 2.6 125 1 0 -4.2 6.0a3.7 2.6 125 1 0 4.2 -6.0zM103.8 25.2a3.5 2.6 82 1 0 1.0 6.9a3.5 2.6 82 1 0 -1.0 -6.9zM147.7 26.9a3.6 2.6 39 1 0 5.6 4.5a3.6 2.6 39 1 0 -5.6 -4.5zM157.1 25.4a3.8 2.8 31 1 0 6.5 3.9a3.8 2.8 31 1 0 -6.5 -3.9zM49.3 35.2a3.1 2.8 17 1 0 5.9 1.8a3.1 2.8 17 1 0 -5.9 -1.8zM73.7 35.3a3.5 3.4 25 1 0 6.4 2.9a3.5 3.4 25 1 0 -6.4 -2.9zM13.6 42.0a3.1 3.1 130 1 0 -4.0 4.8a3.1 3.1 130 1 0 4.0 -4.8zM24.3 37.2a3.7 3.0 72 1 0 2.3 6.9a3.7 3.0 72 1 0 -2.3 -6.9zM41.0 41.5a3.3 3.2 71 1 0 2.1 6.3a3.3 3.2 71 1 0 -2.1 -6.3zM113.1 38.9a2.9 2.5 151 1 0 -5.1 2.9a2.9 2.5 151 1 0 5.1 -2.9zM129.8 41.4a3.4 2.6 4 1 0 6.9 0.5a3.4 2.6 4 1 0 -6.9 -0.5zM162.8 37.1a3.1 2.5 89 1 0 0.1 6.3a3.1 2.5 89 1 0 -0.1 -6.3zM25.1 43.2a3.8 3.7 91 1 0 -0.2 7.5a3.8 3.7 91 1 0 0.2 -7.5zM43.7 49.1a3.7 2.9 172 1 0 -7.4 1.0a3.7 2.9 172 1 0 7.4 -1.0zM66.5 45.1a3.7 3.5 121 1 0 -3.9 6.3a3.7 3.5 121 1 0 3.9 -6.3zM74.9 47.8a3.4 3.2 60 1 0 3.4 5.9a3.4 3.2 60 1 0 -3.4 -5.9zM89.9 46.2a3.1 2.5 68 1 0 2.3 5.7a3.1 2.5 68 1 0 -2.3 -5.7zM96.4 46.3a3.4 3.0 162 1 0 -6.5 2.1a3.4 3.0 162 1 0 6.5 -2.1zM117.6 44.6a2.9 2.8 126 1 0 -3.4 4.7a2.9 2.8 126 1 0 3.4 -4.7zM123.0 49.7a3.2 2.3 58 1 0 3.4 5.5a3.2 2.3 58 1 0 -3.4 -5.5zM129.0 46.8a3.6 3.2 120 1 0 -3.7 6.3a3.6 3.2 120 1 0 3.7 -6.3zM143.3 46.5a3.7 3.1 19 1 0 7.0 2.4a3.7 3.1 19 1 0 -7.0 -2.4zM6.5 50.9a3.1 3.1 64 1 0 2.7 5.6a3.1 3.1 64 1 0 -2.7 -5.6zM12.1 56.7a3.7 3.4 35 1 0 6.1 4.3a3.7 3.4 35 1 0 -6.1 -4.3zM78.5 49.9a3.8 3.6 113 1 0 -2.9 7.0a3.8 3.6 113 1 0 2.9 -7.0zM24.8 59.6a2.9 2.7 104 1 0 -1.4 5.6a2.9 2.7 104 1 0 1.4 -5.6zM40.1 64.1a3.5 2.7 8 1 0 6.9 1.0a3.5 2.7 8 1 0 -6.9 -1.0zM66.7 59.7a3.2 2.9 77 1 0 1.5 6.3a3.2 2.9 77 1 0 -1.5 -6.3zM96.8 60.2a3.1 2.8 131 1 0 -4.0 4.6a3.1 2.8 131 1 0 4.0 -4.6zM13.9 66.3a3.4 2.9 66 1 0 2.8 6.3a3.4 2.9 66 1 0 -2.8 -6.3zM56.4 66.9a3.2 2.9 135 1 0 -4.6 4.6a3.2 2.9 135 1 0 4.6 -4.6zM68.7 66.3a3.3 2.7 152 1 0 -5.8 3.1a3.3 2.7 152 1 0 5.8 -3.1zM72.1 65.8a3.8 3.1 83 1 0 0.9 7.5a3.8 3.1 83 1 0 -0.9 -7.5zM85.8 66.6a3.7 3.5 82 1 0 1.1 7.3a3.7 3.5 82 1 0 -1.1 -7.3zM116.4 67.4a3.1 2.5 157 1 0 -5.6 2.5a3.1 2.5 157 1 0 5.6 -2.5zM36.2 75.4a3.2 2.5 127 1 0 -3.8 5.1a3.2 2.5 127 1 0 3.8 -5.1zM52.4 72.0a3.3 2.4 66 1 0 2.6 6.0a3.3 2.4 66 1 0 -2.6 -6.0zM65.4 77.1a3.8 3.8 14 1 0 7.4 1.8a3.8 3.8 14 1 0 -7.4 -1.8zM89.0 72.3a2.9 2.1 47 1 0 3.9 4.3a2.9 2.1 47 1 0 -3.9 -4.3zM99.2 73.2a3.2 2.9 164 1 0 -6.2 1.8a3.2 2.9 164 1 0 6.2 -1.8zM21.3 80.4a3.7 3.6 77 1 0 1.6 7.3a3.7 3.6 77 1 0 -1.6 -7.3zM27.4 80.8a3.0 2.6 109 1 0 -2.0 5.6a3.0 2.6 109 1 0 2.0 -5.6zM32.9 77.7a3.3 3.3 118 1 0 -3.1 5.9a3.3 3.3 118 1 0 3.1 -5.9zM35.0 78.9a3.7 3.5 37 1 0 5.9 4.4a3.7 3.5 37 1 0 -5.9 -4.4zM48.6 79.9a3.4 2.4 32 1 0 5.7 3.6a3.4 2.4 32 1 0 -5.7 -3.6zM123.4 78.0a3.7 3.1 81 1 0 1.1 7.4a3.7 3.1 81 1 0 -1.1 -7.4zM6.9 88.6a3.2 2.7 133 1 0 -4.4 4.7a3.2 2.7 133 1 0 4.4 -4.7zM15.1 88.7a3.3 3.3 83 1 0 0.8 6.6a3.3 3.3 83 1 0 -0.8 -6.6zM22.6 86.1a3.0 2.7 45 1 0 4.2 4.2a3.0 2.7 45 1 0 -4.2 -4.2zM57.3 88.3a3.6 3.6 8 1 0 7.2 0.9a3.6 3.6 8 1 0 -7.2 -0.9zM70.1 88.6a3.7 2.9 160 1 0 -6.9 2.5a3.7 2.9 160 1 0 6.9 -2.5zM99.3 88.0a3.4 2.8 34 1 0 5.7 3.8a3.4 2.8 34 1 0 -5.7 -3.8zM123.0 87.3a3.1 2.4 83 1 0 0.7 6.1a3.1 2.4 83 1 0 -0.7 -6.1zM60.2 96.6a3.0 2.2 4 1 0 6.1 0.4a3.0 2.2 4 1 0 -6.1 -0.4zM86.0 92.7a3.4 3.1 100 1 0 -1.2 6.7a3.4 3.1 100 1 0 1.2 -6.7zM96.9 89.9a3.7 3.2 55 1 0 4.3 6.1a3.7 3.2 55 1 0 -4.3 -6.1zM101.4 91.3a3.3 3.1 43 1 0 4.8 4.4a3.3 3.1 43 1 0 -4.8 -4.4zM138.0 94.6a3.7 3.6 161 1 0 -7.0 2.4a3.7 3.6 161 1 0 7.0 -2.4zM151.4 92.0a3.3 2.8 142 1 0 -5.2 4.0a3.3 2.8 142 1 0 5.2 -4.0zM1.3 102.1a3.5 2.8 169 1 0 -7.0 1.3a3.5 2.8 169 1 0 7.0 -1.3zM51.8 95.7a3.8 3.1 91 1 0 -0.1 7.6a3.8 3.1 91 1 0 0.1 -7.6zM72.7 100.0a2.9 2.9 42 1 0 4.3 4.0a2.9 2.9 42 1 0 -4.3 -4.0zM96.8 101.4a3.3 3.3 141 1 0 -5.1 4.2a3.3 3.3 141 1 0 5.1 -4.2zM133.0 102.7a3.6 3.5 141 1 0 -5.7 4.5a3.6 3.5 141 1 0 5.7 -4.5zM129.0 97.9a3.7 3.4 24 1 0 6.8 3.1a3.7 3.4 24 1 0 -6.8 -3.1zM158.0 101.1a3.1 3.1 59 1 0 3.2 5.3a3.1 3.1 59 1 0 -3.2 -5.3zM0.8 107.5a3.2 3.1 15 1 0 6.3 1.7a3.2 3.1 15 1 0 -6.3 -1.7zM39.5 103.7a3.0 2.8 59 1 0 3.1 5.1a3.0 2.8 59 1 0 -3.1 -5.1zM76.7 107.4a3.3 2.6 166 1 0 -6.5 1.6a3.3 2.6 166 1 0 6.5 -1.6zM103.4 105.6a3.9 3.4 138 1 0 -5.7 5.2a3.9 3.4 138 1 0 5.7 -5.2zM108.9 106.6a3.7 2.7 58 1 0 3.9 6.3a3.7 2.7 58 1 0 -3.9 -6.3zM141.7 108.8a3.3 2.9 115 1 0 -2.8 6.0a3.3 2.9 115 1 0 2.8 -6.0zM19.8 113.6a2.9 2.8 36 1 0 4.7 3.4a2.9 2.8 36 1 0 -4.7 -3.4zM39.5 115.1a3.9 3.4 153 1 0 -6.9 3.5a3.9 3.4 153 1 0 6.9 -3.5zM51.9 112.8a3.1 2.6 150 1 0 -5.3 3.1a3.1 2.6 150 1 0 5.3 -3.1zM63.4 114.5a3.1 2.6 67 1 0 2.4 5.7a3.1 2.6 67 1 0 -2.4 -5.7zM113.6 115.6a3.7 2.8 28 1 0 6.5 3.4a3.7 2.8 28 1 0 -6.5 -3.4zM135.8 111.7a3.7 3.3 129 1 0 -4.6 5.7a3.7 3.3 129 1 0 4.6 -5.7zM152.6 114.5a3.9 2.8 32 1 0 6.6 4.1a3.9 2.8 32 1 0 -6.6 -4.1zM44.0 122.1a2.9 2.7 34 1 0 4.8 3.3a2.9 2.7 34 1 0 -4.8 -3.3zM104.0 121.3a3.1 2.8 31 1 0 5.3 3.2a3.1 2.8 31 1 0 -5.3 -3.2zM113.5 121.4a3.1 2.3 168 1 0 -6.0 1.3a3.1 2.3 168 1 0 6.0 -1.3zM123.4 119.1a3.8 2.7 132 1 0 -5.1 5.6a3.8 2.7 132 1 0 5.1 -5.6zM139.7 118.3a3.7 3.0 38 1 0 5.9 4.6a3.7 3.0 38 1 0 -5.9 -4.6z"/>
<path fill="#b0c0d8" d="M92.9 -5.3a2.9 2.7 27 1 0 5.2 2.7a2.9 2.7 27 1 0 -5.2 -2.7zM71.5 -1.3a3.6 2.6 140 1 0 -5.5 4.6a3.6 2.6 140 1 0 5.5 -4.6zM81.0 0.6a3.7 3.5 164 1 0 -7.1 2.0a3.7 3.5 164 1 0 7.1 -2.0zM14.8 5.3a3.1 2.7 34 1 0 5.1 3.4a3.1 2.7 34 1 0 -5.1 -3.4zM47.5 4.6a3.9 2.7 73 1 0 2.2 7.5a3.9 2.7 73 1 0 -2.2 -7.5zM75.7 4.8a3.5 3.5 97 1 0 -0.8 7.0a3.5 3.5 97 1 0 0.8 -7.0zM131.9 10.2a3.5 3.4 160 1 0 -6.7 2.4a3.5 3.4 160 1 0 6.7 -2.4zM-4.5 17.8a3.2 2.7 24 1 0 5.9 2.6a3.2 2.7 24 1 0 -5.9 -2.6zM91.6 11.5a3.4 3.3 37 1 0 5.4 4.1a3.4 3.3 37 1 0 -5.4 -4.1zM108.4 13.0a3.4 2.8 66 1 0 2.8 6.1a3.4 2.8 66 1 0 -2.8 -6.1zM161.2 17.3a3.7 2.7 25 1 0 6.7 3.1a3.7 2.7 25 1 0 -6.7 -3.1zM6.3 23.7a3.1 2.2 159 1 0 -5.8 2.2a3.1 2.2 159 1 0 5.8 -2.2zM42.4 23.6a3.7 3.2 36 1 0 5.9 4.2a3.7 3.2 36 1 0 -5.9 -4.2zM76.6 22.9a3.8 3.5 27 1 0 6.8 3.4a3.8 3.5 27 1 0 -6.8 -3.4zM1.6 30.6a3.0 2.4 30 1 0 5.3 3.0a3.0 2.4 30 1 0 -5.3 -3.0zM35.1 24.9a3.1 2.2 89 1 0 0.1 6.2a3.1 2.2 89 1 0 -0.1 -6.2zM114.1 28.4a3.9 3.7 32 1 0 6.6 4.1a3.9 3.7 32 1 0 -6.6 -4.1zM148.7 28.0a3.1 2.9 142 1 0 -4.9 3.8a3.1 2.9 142 1 0 4.9 -3.8zM34.8 33.8a3.7 3.3 154 1 0 -6.7 3.3a3.7 3.3 154 1 0 6.7 -3.3zM155.9 32.1a3.3 3.3 106 1 0 -1.9 6.4a3.3 3.3 106 1 0 1.9 -6.4zM52.7 38.6a3.7 2.7 113 1 0 -2.9 6.8a3.7 2.7 113 1 0 2.9 -6.8zM99.3 42.6a3.3 3.2 99 1 0 -1.1 6.6a3.3 3.2 99 1 0 1.1 -6.6zM151.0 37.3a3.3 2.9 124 1 0 -3.7 5.5a3.3 2.9 124 1 0 3.7 -5.5zM2.0 44.2a3.2 2.3 92 1 0 -0.2 6.3a3.2 2.3 92 1 0 0.2 -6.3zM100.4 53.6a3.4 2.6 156 1 0 -6.3 2.8a3.4 2.6 156 1 0 6.3 -2.8zM104.9 52.4a3.5 3.5 101 1 0 -1.3 6.9a3.5 3.5 101 1 0 1.3 -6.9zM110.0 54.2a2.9 2.7 67 1 0 2.2 5.4a2.9 2.7 67 1 0 -2.2 -5.4zM157.7 52.1a3.1 2.4 22 1 0 5.7 2.3a3.1 2.4 22 1 0 -5.7 -2.3zM-0.1 64.9a3.4 2.7 166 1 0 -6.6 1.6a3.4 2.7 166 1 0 6.6 -1.6zM67.2 60.3a3.4 2.4 121 1 0 -3.5 5.8a3.4 2.4 121 1 0 3.5 -5.8zM155.8 62.4a3.8 3.1 159 1 0 -7.2 2.7a3.8 3.1 159 1 0 7.2 -2.7zM160.4 57.6a3.2 2.7 86 1 0 0.5 6.3a3.2 2.7 86 1 0 -0.5 -6.3zM20.9 70.3a3.2 2.6 175 1 0 -6.5 0.6a3.2 2.6 175 1 0 6.5 -0.6zM122.5 68.8a3.2 3.1 174 1 0 -6.3 0.7a3.2 3.1 174 1 0 6.3 -0.7zM131.7 66.9a3.5 3.2 178 1 0 -6.9 0.2a3.5 3.2 178 1 0 6.9 -0.2zM6.3 75.5a3.6 3.1 112 1 0 -2.8 6.7a3.6 3.1 112 1 0 2.8 -6.7zM148.2 81.5a3.7 3.1 143 1 0 -5.9 4.5a3.7 3.1 143 1 0 5.9 -4.5zM152.7 81.5a3.9 2.7 67 1 0 3.0 7.2a3.9 2.7 67 1 0 -3.0 -7.2zM17.8 91.1a3.5 2.6 57 1 0 3.8 5.9a3.5 2.6 57 1 0 -3.8 -5.9zM27.1 102.2a3.0 2.2 138 1 0 -4.5 3.9a3.0 2.2 138 1 0 4.5 -3.9zM52.6 103.5a3.7 3.7 28 1 0 6.5 3.5a3.7 3.7 28 1 0 -6.5 -3.5zM69.9 101.3a3.4 2.8 61 1 0 3.2 5.9a3.4 2.8 61 1 0 -3.2 -5.9zM128.8 103.1a3.8 3.4 127 1 0 -4.6 6.2a3.8 3.4 127 1 0 4.6 -6.2zM131.3 107.6a3.8 3.4 122 1 0 -4.0 6.5a3.8 3.4 122 1 0 4.0 -6.5zM154.0 105.7a3.5 2.5 44 1 0 5.0 4.8a3.5 2.5 44 1 0 -5.0 -4.8zM29.4 111.8a3.0 2.9 109 1 0 -2.0 5.7a3.0 2.9 109 1 0 2.0 -5.7zM54.1 109.8a3.7 3.6 83 1 0 1.0 7.3a3.7 3.6 83 1 0 -1.0 -7.3zM68.9 113.7a3.4 3.1 123 1 0 -3.7 5.7a3.4 3.1 123 1 0 3.7 -5.7zM83.8 115.4a2.9 2.4 6 1 0 5.9 0.6a2.9 2.4 6 1 0 -5.9 -0.6zM105.6 111.0a2.9 2.1 136 1 0 -4.2 4.0a2.9 2.1 136 1 0 4.2 -4.0zM78.9 117.4a3.3 2.5 139 1 0 -5.1 4.3a3.3 2.5 139 1 0 5.1 -4.3zM94.9 120.4a3.6 3.5 153 1 0 -6.5 3.4a3.6 3.5 153 1 0 6.5 -3.4zM152.0 123.8a3.1 2.7 176 1 0 -6.2 0.5a3.1 2.7 176 1 0 6.2 -0.5z"/>
<path fill="#a8b0d0" d="M0.5 3.1a3.4 2.5 53 1 0 4.1 5.5a3.4 2.5 53 1 0 -4.1 -5.5zM70.8 0.3a3.8 2.8 86 1 0 0.6 7.6a3.8 2.8 86 1 0 -0.6 -7.6zM92.4 4.1a3.0 2.2 168 1 0 -5.8 1.3a3.0 2.2 168 1 0 5.8 -1.3zM107.4 4.9a3.4 2.9 22 1 0 6.2 2.5a3.4 2.9 22 1 0 -6.2 -2.5zM0.2 12.1a3.1 2.9 6 1 0 6.2 0.7a3.1 2.9 6 1 0 -6.2 -0.7zM9.6 4.1a3.6 3.2 104 1 0 -1.8 7.0a3.6 3.2 104 1 0 1.8 -7.0zM114.8 6.3a3.9 3.3 59 1 0 4.0 6.6a3.9 3.3 59 1 0 -4.0 -6.6zM167.3 9.4a3.4 3.0 153 1 0 -6.0 3.1a3.4 3.0 153 1 0 6.0 -3.1zM25.0 10.6a3.2 2.6 100 1 0 -1.1 6.2a3.2 2.6 100 1 0 1.1 -6.2zM29.3 17.1a3.2 2.4 39 1 0 5.0 4.0a3.2 2.4 39 1 0 -5.0 -4.0zM124.6 24.9a3.0 2.6 9 1 0 5.8 0.9a3.0 2.6 9 1 0 -5.8 -0.9zM138.8 22.0a2.9 2.6 140 1 0 -4.5 3.8a2.9 2.6 140 1 0 4.5 -3.8zM12.2 25.8a3.0 2.4 84 1 0 0.6 5.9a3.0 2.4 84 1 0 -0.6 -5.9zM76.4 28.6a2.9 2.8 130 1 0 -3.8 4.5a2.9 2.8 130 1 0 3.8 -4.5zM97.8 29.1a3.8 3.6 58 1 0 4.1 6.4a3.8 3.6 58 1 0 -4.1 -6.4zM40.4 34.4a3.3 2.8 149 1 0 -5.6 3.4a3.3 2.8 149 1 0 5.6 -3.4zM79.9 35.9a3.3 3.3 68 1 0 2.5 6.2a3.3 3.3 68 1 0 -2.5 -6.2zM117.6 36.0a2.9 2.5 125 1 0 -3.3 4.8a2.9 2.5 125 1 0 3.3 -4.8zM127.4 33.6a3.3 2.8 173 1 0 -6.5 0.8a3.3 2.8 173 1 0 6.5 -0.8zM60.9 39.0a3.2 2.8 39 1 0 5.1 4.0a3.2 2.8 39 1 0 -5.1 -4.0zM85.2 36.3a3.8 3.3 76 1 0 1.9 7.4a3.8 3.3 76 1 0 -1.9 -7.4zM102.8 43.2a3.6 3.0 43 1 0 5.3 4.9a3.6 3.0 43 1 0 -5.3 -4.9zM6.1 44.8a3.4 2.7 42 1 0 5.1 4.6a3.4 2.7 42 1 0 -5.1 -4.6zM52.8 46.5a3.2 2.9 126 1 0 -3.8 5.3a3.2 2.9 126 1 0 3.8 -5.3zM56.6 51.2a3.1 2.4 158 1 0 -5.8 2.3a3.1 2.4 158 1 0 5.8 -2.3zM149.9 47.5a3.3 2.4 12 1 0 6.5 1.4a3.3 2.4 12 1 0 -6.5 -1.4zM51.9 52.6a3.9 3.3 42 1 0 5.7 5.2a3.9 3.3 42 1 0 -5.7 -5.2zM75.8 57.0a3.3 2.9 166 1 0 -6.4 1.6a3.3 2.9 166 1 0 6.4 -1.6zM143.6 52.4a3.3 2.5 161 1 0 -6.3 2.2a3.3 2.5 161 1 0 6.3 -2.2zM154.6 63.0a3.3 2.7 169 1 0 -6.4 1.2a3.3 2.7 169 1 0 6.4 -1.2zM10.5 66.7a3.2 3.1 133 1 0 -4.4 4.7a3.2 3.1 133 1 0 4.4 -4.7zM100.6 68.6a3.7 3.6 91 1 0 -0.2 7.4a3.7 3.6 91 1 0 0.2 -7.4zM136.6 66.9a3.0 3.0 73 1 0 1.8 5.8a3.0 3.0 73 1 0 -1.8 -5.8zM4.6 77.2a3.3 2.7 23 1 0 6.1 2.6a3.3 2.7 23 1 0 -6.1 -2.6zM26.6 75.6a3.6 3.5 48 1 0 4.8 5.4a3.6 3.5 48 1 0 -4.8 -5.4zM46.3 72.0a3.4 2.6 75 1 0 1.8 6.5a3.4 2.6 75 1 0 -1.8 -6.5zM81.6 70.7a3.2 3.0 115 1 0 -2.6 5.8a3.2 3.0 115 1 0 2.6 -5.8zM80.3 77.4a3.3 2.4 97 1 0 -0.8 6.5a3.3 2.4 97 1 0 0.8 -6.5zM110.0 78.5a3.8 3.0 141 1 0 -5.8 4.8a3.8 3.0 141 1 0 5.8 -4.8zM112.3 89.0a3.0 2.4 21 1 0 5.5 2.2a3.0 2.4 21 1 0 -5.5 -2.2zM1.6 98.2a3.4 3.1 25 1 0 6.2 2.9a3.4 3.1 25 1 0 -6.2 -2.9zM46.6 99.0a3.6 2.7 131 1 0 -4.7 5.4a3.6 2.7 131 1 0 4.7 -5.4zM80.5 102.5a3.6 2.6 1 1 0 7.3 0.2a3.6 2.6 1 1 0 -7.3 -0.2zM126.2 102.3a3.8 3.5 161 1 0 -7.2 2.5a3.8 3.5 161 1 0 7.2 -2.5zM19.3 113.2a3.1 2.7 175 1 0 -6.3 0.6a3.1 2.7 175 1 0 6.3 -0.6zM37.3 112.8a3.8 2.8 10 1 0 7.6 1.4a3.8 2.8 10 1 0 -7.6 -1.4zM73.1 110.5a3.4 2.7 45 1 0 4.9 4.8a3.4 2.7 45 1 0 -4.9 -4.8zM93.1 116.6a3.8 3.8 7 1 0 7.6 0.9a3.8 3.8 7 1 0 -7.6 -0.9zM109.4 109.8a3.6 3.0 109 1 0 -2.3 6.8a3.6 3.0 109 1 0 2.3 -6.8zM163.9 111.0a3.5 3.3 133 1 0 -4.8 5.0a3.5 3.3 133 1 0 4.8 -5.0zM4.0 119.1a3.4 2.4 17 1 0 6.5 2.0a3.4 2.4 17 1 0 -6.5 -2.0zM21.3 120.4a3.4 2.9 27 1 0 6.1 3.0a3.4 2.9 27 1 0 -6.1 -3.0zM124.4 118.1a2.9 2.8 76 1 0 1.4 5.6a2.9 2.8 76 1 0 -1.4 -5.6z"/>
</g>
<g filter="url(#ib)">
<path fill="#7080a0" fill-opacity="0.75" d="M14.4 -3.9a2.6 1.9 170 1 0 -5.2 0.9a2.6 1.9 170 1 0 5.2 -0.9zM121.5 -3.8a1.9 1.3 157 1 0 -3.4 1.5a1.9 1.3 157 1 0 3.4 -1.5zM-0.1 5.7a1.8 1.1 8 1 0 3.5 0.5a1.8 1.1 8 1 0 -3.5 -0.5zM88.6 9.7a1.7 1.5 104 1 0 -0.8 3.2a1.7 1.5 104 1 0 0.8 -3.2zM13.9 28.6a2.1 1.4 150 1 0 -3.6 2.1a2.1 1.4 150 1 0 3.6 -2.1zM110.6 26.6a2.4 2.1 45 1 0 3.4 3.3a2.4 2.1 45 1 0 -3.4 -3.3zM132.2 32.5a1.6 1.2 145 1 0 -2.7 1.8a1.6 1.2 145 1 0 2.7 -1.8zM-1.4 47.7a1.7 1.5 58 1 0 1.8 2.9a1.7 1.5 58 1 0 -1.8 -2.9zM27.5 54.8a2.5 2.4 49 1 0 3.3 3.9a2.5 2.4 49 1 0 -3.3 -3.9zM96.2 60.9a2.5 2.1 131 1 0 -3.2 3.8a2.5 2.1 131 1 0 3.2 -3.8zM16.7 70.5a1.7 1.2 16 1 0 3.2 0.9a1.7 1.2 16 1 0 -3.2 -0.9zM58.2 70.2a2.6 1.9 8 1 0 5.1 0.7a2.6 1.9 8 1 0 -5.1 -0.7zM121.3 78.2a1.6 1.1 17 1 0 3.2 0.9a1.6 1.1 17 1 0 -3.2 -0.9zM125.4 71.5a1.8 1.4 51 1 0 2.3 2.8a1.8 1.4 51 1 0 -2.3 -2.8zM135.1 74.1a2.0 1.4 119 1 0 -1.9 3.5a2.0 1.4 119 1 0 1.9 -3.5zM30.9 79.4a1.9 1.3 60 1 0 1.9 3.2a1.9 1.3 60 1 0 -1.9 -3.2zM134.3 83.9a2.3 2.1 78 1 0 1.0 4.5a2.3 2.1 78 1 0 -1.0 -4.5zM102.2 100.6a1.7 1.5 100 1 0 -0.6 3.4a1.7 1.5 100 1 0 0.6 -3.4zM12.7 107.7a2.1 1.9 132 1 0 -2.8 3.1a2.1 1.9 132 1 0 2.8 -3.1zM107.5 105.1a2.6 2.4 122 1 0 -2.8 4.5a2.6 2.4 122 1 0 2.8 -4.5z"/>
<path fill="#7080a8" fill-opacity="0.75" d="M16.2 -3.4a1.6 1.3 47 1 0 2.2 2.4a1.6 1.3 47 1 0 -2.2 -2.4zM45.3 12.7a1.9 1.6 35 1 0 3.2 2.2a1.9 1.6 35 1 0 -3.2 -2.2zM37.6 21.5a1.9 1.4 157 1 0 -3.5 1.5a1.9 1.4 157 1 0 3.5 -1.5zM33.2 27.3a1.5 1.3 49 1 0 2.0 2.3a1.5 1.3 49 1 0 -2.0 -2.3zM36.0 36.1a1.7 1.6 19 1 0 3.2 1.1a1.7 1.6 19 1 0 -3.2 -1.1zM140.4 49.7a1.9 1.7 132 1 0 -2.5 2.8a1.9 1.7 132 1 0 2.5 -2.8zM154.8 83.0a1.5 1.1 123 1 0 -1.7 2.6a1.5 1.1 123 1 0 1.7 -2.6z"/>
<path fill="#7078a0" fill-opacity="0.75" d="M17.9 -3.7a2.7 1.7 38 1 0 4.2 3.3a2.7 1.7 38 1 0 -4.2 -3.3zM51.5 -1.6a2.3 1.8 9 1 0 4.5 0.7a2.3 1.8 9 1 0 -4.5 -0.7zM63.6 -3.2a1.7 1.2 115 1 0 -1.5 3.1a1.7 1.2 115 1 0 1.5 -3.1zM89.2 -4.2a1.8 1.4 168 1 0 -3.6 0.8a1.8 1.4 168 1 0 3.6 -0.8zM29.3 5.7a2.4 2.0 161 1 0 -4.6 1.6a2.4 2.0 161 1 0 4.6 -1.6zM38.3 4.0a2.4 2.2 111 1 0 -1.7 4.6a2.4 2.2 111 1 0 1.7 -4.6zM11.9 7.1a2.6 1.6 147 1 0 -4.3 2.8a2.6 1.6 147 1 0 4.3 -2.8zM98.5 12.0a1.6 1.4 169 1 0 -3.1 0.6a1.6 1.4 169 1 0 3.1 -0.6zM29.4 26.6a1.9 1.2 163 1 0 -3.6 1.1a1.9 1.2 163 1 0 3.6 -1.1zM131.2 34.6a1.8 1.6 10 1 0 3.6 0.6a1.8 1.6 10 1 0 -3.6 -0.6zM104.3 43.6a1.9 1.7 47 1 0 2.6 2.8a1.9 1.7 47 1 0 -2.6 -2.8zM144.8 37.9a2.7 2.0 55 1 0 3.1 4.4a2.7 2.0 55 1 0 -3.1 -4.4zM151.6 47.3a2.5 2.2 6 1 0 4.9 0.5a2.5 2.2 6 1 0 -4.9 -0.5zM7.1 51.1a1.9 1.7 68 1 0 1.4 3.5a1.9 1.7 68 1 0 -1.4 -3.5zM162.9 52.6a1.6 1.1 164 1 0 -3.1 0.9a1.6 1.1 164 1 0 3.1 -0.9zM34.9 62.1a2.2 1.5 79 1 0 0.8 4.2a2.2 1.5 79 1 0 -0.8 -4.2zM103.1 64.0a2.6 2.4 27 1 0 4.6 2.4a2.6 2.4 27 1 0 -4.6 -2.4zM-3.1 70.0a1.9 1.4 37 1 0 3.0 2.2a1.9 1.4 37 1 0 -3.0 -2.2zM35.3 67.7a1.9 1.3 20 1 0 3.6 1.3a1.9 1.3 20 1 0 -3.6 -1.3zM137.0 66.6a2.2 1.5 163 1 0 -4.2 1.3a2.2 1.5 163 1 0 4.2 -1.3zM25.9 75.8a2.1 1.9 106 1 0 -1.2 4.0a2.1 1.9 106 1 0 1.2 -4.0zM78.8 75.3a1.6 1.1 172 1 0 -3.3 0.4a1.6 1.1 172 1 0 3.3 -0.4zM6.4 78.5a1.7 1.1 101 1 0 -0.6 3.3a1.7 1.1 101 1 0 0.6 -3.3zM58.0 88.2a2.5 1.6 148 1 0 -4.2 2.7a2.5 1.6 148 1 0 4.2 -2.7zM75.4 88.3a1.9 1.7 3 1 0 3.9 0.2a1.9 1.7 3 1 0 -3.9 -0.2zM97.4 90.3a1.7 1.2 113 1 0 -1.4 3.1a1.7 1.2 113 1 0 1.4 -3.1zM4.9 94.1a1.8 1.6 104 1 0 -0.8 3.4a1.8 1.6 104 1 0 0.8 -3.4zM27.0 98.9a2.6 2.2 14 1 0 5.1 1.3a2.6 2.2 14 1 0 -5.1 -1.3zM105.9 92.9a2.2 1.8 136 1 0 -3.1 3.0a2.2 1.8 136 1 0 3.1 -3.0zM144.1 101.4a2.6 2.0 74 1 0 1.5 5.1a2.6 2.0 74 1 0 -1.5 -5.1zM158.2 102.1a1.7 1.1 59 1 0 1.7 2.9a1.7 1.1 59 1 0 -1.7 -2.9zM115.2 107.1a2.6 2.2 65 1 0 2.2 4.7a2.6 2.2 65 1 0 -2.2 -4.7zM74.9 113.3a1.5 1.2 22 1 0 2.9 1.1a1.5 1.2 22 1 0 -2.9 -1.1zM119.8 117.9a2.1 1.3 179 1 0 -4.1 0.0a2.1 1.3 179 1 0 4.1 -0.0zM60.8 120.0a2.0 1.3 109 1 0 -1.3 3.8a2.0 1.3 109 1 0 1.3 -3.8zM99.1 120.9a1.9 1.6 113 1 0 -1.5 3.5a1.9 1.6 113 1 0 1.5 -3.5z"/>
<path fill="#586888" fill-opacity="0.85" d="M66.7 -3.0a2.0 1.8 96 1 0 -0.4 4.0a2.0 1.8 96 1 0 0.4 -4.0zM128.6 49.3a1.8 1.1 120 1 0 -1.9 3.2a1.8 1.1 120 1 0 1.9 -3.2zM162.7 46.0a2.0 1.3 43 1 0 2.9 2.7a2.0 1.3 43 1 0 -2.9 -2.7zM80.3 62.5a2.2 2.0 31 1 0 3.8 2.3a2.2 2.0 31 1 0 -3.8 -2.3zM143.0 61.1a1.5 1.3 149 1 0 -2.6 1.6a1.5 1.3 149 1 0 2.6 -1.6zM112.5 77.3a2.5 2.1 102 1 0 -1.1 5.0a2.5 2.1 102 1 0 1.1 -5.0zM124.4 80.6a2.1 1.9 102 1 0 -0.9 4.2a2.1 1.9 102 1 0 0.9 -4.2zM11.9 84.5a2.5 2.2 157 1 0 -4.6 1.9a2.5 2.2 157 1 0 4.6 -1.9zM79.9 115.9a2.4 1.5 70 1 0 1.6 4.4a2.4 1.5 70 1 0 -1.6 -4.4zM142.7 119.2a2.1 1.9 78 1 0 0.8 4.1a2.1 1.9 78 1 0 -0.8 -4.1z"/>
<path fill="#8088a8" fill-opacity="0.75" d="M72.2 -4.5a1.7 1.5 20 1 0 3.2 1.2a1.7 1.5 20 1 0 -3.2 -1.2zM160.0 -3.5a2.3 2.2 24 1 0 4.2 1.9a2.3 2.2 24 1 0 -4.2 -1.9zM89.8 2.6a1.8 1.3 101 1 0 -0.7 3.5a1.8 1.3 101 1 0 0.7 -3.5zM152.3 17.8a1.6 1.4 134 1 0 -2.2 2.3a1.6 1.4 134 1 0 2.2 -2.3zM4.7 24.6a1.9 1.5 162 1 0 -3.5 1.2a1.9 1.5 162 1 0 3.5 -1.2zM24.4 20.7a1.8 1.7 108 1 0 -1.1 3.5a1.8 1.7 108 1 0 1.1 -3.5zM29.5 23.5a2.6 1.8 157 1 0 -4.8 2.0a2.6 1.8 157 1 0 4.8 -2.0zM91.5 24.0a1.6 1.5 98 1 0 -0.4 3.1a1.6 1.5 98 1 0 0.4 -3.1zM98.3 29.9a2.4 2.1 59 1 0 2.5 4.1a2.4 2.1 59 1 0 -2.5 -4.1zM144.9 45.9a1.9 1.6 46 1 0 2.6 2.7a1.9 1.6 46 1 0 -2.6 -2.7zM105.5 69.1a2.6 2.1 42 1 0 3.9 3.5a2.6 2.1 42 1 0 -3.9 -3.5zM6.6 77.1a1.6 1.0 14 1 0 3.2 0.8a1.6 1.0 14 1 0 -3.2 -0.8zM32.7 76.8a2.2 1.7 66 1 0 1.8 4.0a2.2 1.7 66 1 0 -1.8 -4.0zM79.5 77.7a2.2 1.4 77 1 0 1.0 4.2a2.2 1.4 77 1 0 -1.0 -4.2zM93.3 87.4a2.7 2.3 129 1 0 -3.4 4.2a2.7 2.3 129 1 0 3.4 -4.2zM145.5 95.6a1.6 1.4 74 1 0 0.9 3.1a1.6 1.4 74 1 0 -0.9 -3.1zM49.2 99.2a2.4 1.8 9 1 0 4.8 0.7a2.4 1.8 9 1 0 -4.8 -0.7zM62.8 100.9a2.1 1.8 95 1 0 -0.4 4.1a2.1 1.8 95 1 0 0.4 -4.1zM66.3 116.6a1.7 1.3 154 1 0 -3.0 1.4a1.7 1.3 154 1 0 3.0 -1.4zM1.2 118.4a2.1 1.9 149 1 0 -3.7 2.2a2.1 1.9 149 1 0 3.7 -2.2zM14.7 116.9a2.4 1.8 109 1 0 -1.5 4.5a2.4 1.8 109 1 0 1.5 -4.5zM23.3 120.4a2.6 1.9 179 1 0 -5.2 0.1a2.6 1.9 179 1 0 5.2 -0.1z"/>
<path fill="#382020" fill-opacity="0.9" d="M82.5 -1.4a2.8 2.0 148 1 0 -4.7 2.9a2.8 2.0 148 1 0 4.7 -2.9zM147.0 7.6a2.4 2.1 57 1 0 2.6 4.0a2.4 2.1 57 1 0 -2.6 -4.0zM94.3 21.3a2.6 1.9 30 1 0 4.6 2.7a2.6 1.9 30 1 0 -4.6 -2.7zM-2.1 41.7a3.0 2.6 14 1 0 5.8 1.4a3.0 2.6 14 1 0 -5.8 -1.4zM17.8 39.9a2.3 1.2 93 1 0 -0.3 4.6a2.3 1.2 93 1 0 0.3 -4.6zM149.2 36.6a2.8 1.5 89 1 0 0.1 5.6a2.8 1.5 89 1 0 -0.1 -5.6zM81.4 65.6a3.1 1.8 154 1 0 -5.6 2.7a3.1 1.8 154 1 0 5.6 -2.7z"/>
<path fill="#604038" fill-opacity="0.8" d="M92.8 -5.8a3.4 1.8 20 1 0 6.4 2.3a3.4 1.8 20 1 0 -6.4 -2.3zM63.4 12.3a2.9 2.0 97 1 0 -0.7 5.8a2.9 2.0 97 1 0 0.7 -5.8zM89.1 15.8a2.3 1.2 166 1 0 -4.5 1.1a2.3 1.2 166 1 0 4.5 -1.1zM75.2 19.6a3.1 2.9 167 1 0 -6.1 1.4a3.1 2.9 167 1 0 6.1 -1.4zM54.6 26.7a3.8 2.0 155 1 0 -6.8 3.2a3.8 2.0 155 1 0 6.8 -3.2zM55.9 35.2a2.9 1.9 164 1 0 -5.5 1.6a2.9 1.9 164 1 0 5.5 -1.6zM126.3 32.9a2.2 1.8 155 1 0 -4.0 1.9a2.2 1.8 155 1 0 4.0 -1.9zM41.0 80.8a2.8 2.3 152 1 0 -5.0 2.6a2.8 2.3 152 1 0 5.0 -2.6zM107.7 76.8a3.9 2.4 109 1 0 -2.6 7.4a3.9 2.4 109 1 0 2.6 -7.4zM2.5 89.7a2.3 1.0 46 1 0 3.2 3.4a2.3 1.0 46 1 0 -3.2 -3.4zM35.7 92.9a3.8 3.2 175 1 0 -7.5 0.6a3.8 3.2 175 1 0 7.5 -0.6zM27.0 112.0a2.4 1.8 47 1 0 3.3 3.5a2.4 1.8 47 1 0 -3.3 -3.5z"/>
<path fill="#7880a8" fill-opacity="0.75" d="M101.6 -4.0a2.2 1.7 142 1 0 -3.5 2.7a2.2 1.7 142 1 0 3.5 -2.7zM147.6 4.7a2.4 1.7 20 1 0 4.6 1.6a2.4 1.7 20 1 0 -4.6 -1.6zM158.2 11.0a1.7 1.1 120 1 0 -1.7 2.9a1.7 1.1 120 1 0 1.7 -2.9zM108.6 14.4a2.0 1.8 56 1 0 2.2 3.3a2.0 1.8 56 1 0 -2.2 -3.3zM137.3 21.9a2.7 1.8 85 1 0 0.5 5.3a2.7 1.8 85 1 0 -0.5 -5.3zM150.6 23.6a2.1 1.3 95 1 0 -0.4 4.3a2.1 1.3 95 1 0 0.4 -4.3zM1.3 31.5a2.3 1.6 28 1 0 4.1 2.1a2.3 1.6 28 1 0 -4.1 -2.1zM83.0 27.3a2.3 2.1 56 1 0 2.6 3.9a2.3 2.1 56 1 0 -2.6 -3.9zM9.1 36.7a2.1 1.8 180 1 0 -4.2 0.0a2.1 1.8 180 1 0 4.2 -0.0zM33.4 43.2a1.7 1.1 166 1 0 -3.4 0.8a1.7 1.1 166 1 0 3.4 -0.8zM119.0 41.5a2.3 1.7 135 1 0 -3.3 3.3a2.3 1.7 135 1 0 3.3 -3.3zM23.6 45.7a2.4 2.3 27 1 0 4.4 2.2a2.4 2.3 27 1 0 -4.4 -2.2zM-3.2 52.4a1.5 1.5 22 1 0 2.9 1.2a1.5 1.5 22 1 0 -2.9 -1.2zM73.1 55.4a2.2 1.5 113 1 0 -1.7 4.1a2.2 1.5 113 1 0 1.7 -4.1zM115.0 55.3a2.2 1.9 56 1 0 2.4 3.7a2.2 1.9 56 1 0 -2.4 -3.7zM73.9 68.7a1.7 1.2 147 1 0 -2.8 1.8a1.7 1.2 147 1 0 2.8 -1.8zM152.8 68.9a1.5 1.1 20 1 0 2.9 1.1a1.5 1.1 20 1 0 -2.9 -1.1zM161.5 68.0a1.8 1.4 73 1 0 1.1 3.5a1.8 1.4 73 1 0 -1.1 -3.5zM95.0 73.7a2.0 1.9 36 1 0 3.3 2.4a2.0 1.9 36 1 0 -3.3 -2.4zM102.7 87.4a2.6 2.2 122 1 0 -2.7 4.3a2.6 2.2 122 1 0 2.7 -4.3zM164.7 86.4a2.6 1.8 118 1 0 -2.4 4.5a2.6 1.8 118 1 0 2.4 -4.5zM64.7 95.9a1.5 1.2 172 1 0 -3.0 0.4a1.5 1.2 172 1 0 3.0 -0.4zM83.3 93.9a2.0 1.4 51 1 0 2.5 3.1a2.0 1.4 51 1 0 -2.5 -3.1zM136.1 94.1a1.9 1.4 140 1 0 -3.0 2.5a1.9 1.4 140 1 0 3.0 -2.5zM157.4 98.0a1.7 1.4 3 1 0 3.4 0.2a1.7 1.4 3 1 0 -3.4 -0.2zM56.5 103.0a1.8 1.4 118 1 0 -1.7 3.2a1.8 1.4 118 1 0 1.7 -3.2zM116.5 99.7a2.6 2.3 79 1 0 1.0 5.2a2.6 2.3 79 1 0 -1.0 -5.2zM132.2 97.4a2.0 1.4 57 1 0 2.2 3.4a2.0 1.4 57 1 0 -2.2 -3.4zM109.7 106.9a2.3 1.5 83 1 0 0.5 4.5a2.3 1.5 83 1 0 -0.5 -4.5zM140.4 110.3a1.9 1.3 99 1 0 -0.6 3.7a1.9 1.3 99 1 0 0.6 -3.7zM1.8 114.4a2.3 1.6 101 1 0 -0.9 4.5a2.3 1.6 101 1 0 0.9 -4.5zM127.4 111.7a2.2 1.8 87 1 0 0.2 4.3a2.2 1.8 87 1 0 -0.2 -4.3zM43.3 123.7a2.6 1.6 13 1 0 5.1 1.2a2.6 1.6 13 1 0 -5.1 -1.2zM135.7 120.8a1.9 1.5 46 1 0 2.7 2.8a1.9 1.5 46 1 0 -2.7 -2.8zM156.0 120.5a2.2 1.6 33 1 0 3.7 2.4a2.2 1.6 33 1 0 -3.7 -2.4z"/>
<path fill="#8088b0" fill-opacity="0.75" d="M35.3 4.6a2.0 1.5 161 1 0 -3.7 1.3a2.0 1.5 161 1 0 3.7 -1.3zM68.0 1.6a1.6 1.1 14 1 0 3.1 0.7a1.6 1.1 14 1 0 -3.1 -0.7zM43.1 5.7a2.4 2.1 58 1 0 2.5 4.0a2.4 2.1 58 1 0 -2.5 -4.0zM143.4 15.7a2.4 1.9 1 1 0 4.8 0.0a2.4 1.9 1 1 0 -4.8 -0.0zM102.5 26.2a2.5 1.6 66 1 0 2.0 4.6a2.5 1.6 66 1 0 -2.0 -4.6zM0.4 34.8a2.3 1.6 48 1 0 3.1 3.4a2.3 1.6 48 1 0 -3.1 -3.4zM77.2 35.3a1.5 1.3 73 1 0 0.9 2.9a1.5 1.3 73 1 0 -0.9 -2.9zM109.0 36.9a2.1 1.6 156 1 0 -3.8 1.7a2.1 1.6 156 1 0 3.8 -1.7zM153.4 34.6a1.5 1.1 62 1 0 1.4 2.7a1.5 1.1 62 1 0 -1.4 -2.7zM43.4 40.5a1.9 1.5 25 1 0 3.5 1.7a1.9 1.5 25 1 0 -3.5 -1.7zM52.2 40.6a1.9 1.8 116 1 0 -1.7 3.4a1.9 1.8 116 1 0 1.7 -3.4zM76.5 38.5a1.9 1.2 105 1 0 -1.0 3.7a1.9 1.2 105 1 0 1.0 -3.7zM2.8 45.1a2.3 1.7 120 1 0 -2.3 4.0a2.3 1.7 120 1 0 2.3 -4.0zM19.2 52.7a2.0 1.2 169 1 0 -3.9 0.8a2.0 1.2 169 1 0 3.9 -0.8zM18.6 53.2a2.2 2.0 118 1 0 -2.1 3.9a2.2 2.0 118 1 0 2.1 -3.9zM5.3 58.4a1.6 1.4 138 1 0 -2.3 2.1a1.6 1.4 138 1 0 2.3 -2.1zM100.5 61.5a1.9 1.4 114 1 0 -1.6 3.6a1.9 1.4 114 1 0 1.6 -3.6zM158.7 58.6a1.8 1.3 56 1 0 2.0 3.0a1.8 1.3 56 1 0 -2.0 -3.0zM111.6 68.1a2.0 1.7 17 1 0 3.7 1.2a2.0 1.7 17 1 0 -3.7 -1.2zM157.2 73.1a2.5 1.8 173 1 0 -4.9 0.6a2.5 1.8 173 1 0 4.9 -0.6zM160.7 75.1a2.6 2.0 19 1 0 4.9 1.7a2.6 2.0 19 1 0 -4.9 -1.7zM47.6 88.3a2.1 1.8 168 1 0 -4.2 0.9a2.1 1.8 168 1 0 4.2 -0.9zM76.5 101.8a2.0 1.8 161 1 0 -3.7 1.3a2.0 1.8 161 1 0 3.7 -1.3zM79.7 118.8a2.6 1.8 155 1 0 -4.7 2.2a2.6 1.8 155 1 0 4.7 -2.2z"/>
<path fill="#586080" fill-opacity="0.85" d="M47.4 2.8a1.5 1.3 131 1 0 -2.0 2.3a1.5 1.3 131 1 0 2.0 -2.3zM138.9 3.9a2.4 1.8 95 1 0 -0.4 4.9a2.4 1.8 95 1 0 0.4 -4.9zM74.1 18.5a1.9 1.7 171 1 0 -3.8 0.6a1.9 1.7 171 1 0 3.8 -0.6zM23.4 61.2a1.5 1.1 95 1 0 -0.3 3.0a1.5 1.1 95 1 0 0.3 -3.0zM30.0 60.3a1.8 1.2 117 1 0 -1.7 3.3a1.8 1.2 117 1 0 1.7 -3.3zM45.8 63.7a2.5 1.9 133 1 0 -3.4 3.6a2.5 1.9 133 1 0 3.4 -3.6zM30.3 68.5a2.4 1.5 112 1 0 -1.8 4.4a2.4 1.5 112 1 0 1.8 -4.4zM43.6 78.2a1.8 1.5 18 1 0 3.5 1.1a1.8 1.5 18 1 0 -3.5 -1.1zM165.2 95.3a1.6 1.4 163 1 0 -3.1 1.0a1.6 1.4 163 1 0 3.1 -1.0z"/>
<path fill="#687898" fill-opacity="0.75" d="M51.8 -0.1a2.3 1.4 101 1 0 -0.9 4.5a2.3 1.4 101 1 0 0.9 -4.5zM140.4 10.2a1.5 1.1 118 1 0 -1.4 2.7a1.5 1.1 118 1 0 1.4 -2.7zM-3.2 17.6a2.0 1.7 18 1 0 3.9 1.2a2.0 1.7 18 1 0 -3.9 -1.2zM128.1 23.4a1.6 1.3 100 1 0 -0.6 3.2a1.6 1.3 100 1 0 0.6 -3.2zM115.7 30.5a2.5 2.1 21 1 0 4.7 1.8a2.5 2.1 21 1 0 -4.7 -1.8zM65.5 62.4a1.6 1.2 79 1 0 0.6 3.2a1.6 1.2 79 1 0 -0.6 -3.2z"/>
<path fill="#382018" fill-opacity="0.9" d="M69.4 3.1a3.0 1.6 27 1 0 5.3 2.7a3.0 1.6 27 1 0 -5.3 -2.7zM73.4 8.3a2.1 1.6 22 1 0 3.9 1.6a2.1 1.6 22 1 0 -3.9 -1.6zM81.0 8.1a3.2 2.3 11 1 0 6.3 1.2a3.2 2.3 11 1 0 -6.3 -1.2zM49.9 22.3a2.4 1.8 20 1 0 4.5 1.6a2.4 1.8 20 1 0 -4.5 -1.6zM131.1 40.2a2.0 0.9 41 1 0 3.1 2.6a2.0 0.9 41 1 0 -3.1 -2.6zM100.4 70.3a2.3 1.5 109 1 0 -1.5 4.3a2.3 1.5 109 1 0 1.5 -4.3zM125.4 67.2a2.6 2.4 5 1 0 5.2 0.5a2.6 2.4 5 1 0 -5.2 -0.5zM159.6 67.1a2.0 1.8 92 1 0 -0.1 4.0a2.0 1.8 92 1 0 0.1 -4.0zM17.2 101.8a2.2 1.2 71 1 0 1.4 4.1a2.2 1.2 71 1 0 -1.4 -4.1zM24.4 98.5a2.9 1.9 58 1 0 3.1 4.9a2.9 1.9 58 1 0 -3.1 -4.9z"/>
<path fill="#684840" fill-opacity="0.8" d="M73.4 -0.0a4.0 3.5 26 1 0 7.2 3.5a4.0 3.5 26 1 0 -7.2 -3.5zM52.4 10.8a3.9 3.4 64 1 0 3.5 7.1a3.9 3.4 64 1 0 -3.5 -7.1zM69.7 19.9a2.4 1.4 11 1 0 4.6 0.9a2.4 1.4 11 1 0 -4.6 -0.9zM60.9 39.9a2.6 1.8 11 1 0 5.1 1.0a2.6 1.8 11 1 0 -5.1 -1.0zM73.8 48.0a3.6 1.6 55 1 0 4.2 5.9a3.6 1.6 55 1 0 -4.2 -5.9zM119.5 62.3a2.7 1.2 34 1 0 4.5 3.1a2.7 1.2 34 1 0 -4.5 -3.1zM108.6 74.3a2.4 1.0 112 1 0 -1.8 4.5a2.4 1.0 112 1 0 1.8 -4.5zM25.4 82.3a3.8 3.6 154 1 0 -6.8 3.3a3.8 3.6 154 1 0 6.8 -3.3z"/>
<path fill="#586088" fill-opacity="0.85" d="M107.8 2.1a2.3 1.6 104 1 0 -1.2 4.5a2.3 1.6 104 1 0 1.2 -4.5zM39.0 13.6a1.7 1.0 149 1 0 -2.9 1.7a1.7 1.0 149 1 0 2.9 -1.7zM84.2 35.6a1.7 1.3 27 1 0 3.0 1.5a1.7 1.3 27 1 0 -3.0 -1.5zM35.7 48.0a2.3 1.8 77 1 0 1.1 4.6a2.3 1.8 77 1 0 -1.1 -4.6zM26.9 82.1a1.9 1.6 111 1 0 -1.3 3.5a1.9 1.6 111 1 0 1.3 -3.5zM147.8 87.0a2.2 2.1 144 1 0 -3.5 2.6a2.2 2.1 144 1 0 3.5 -2.6z"/>
<path fill="#7880a0" fill-opacity="0.75" d="M109.5 3.0a2.5 2.0 74 1 0 1.4 4.8a2.5 2.0 74 1 0 -1.4 -4.8zM23.8 7.9a2.7 2.2 3 1 0 5.3 0.3a2.7 2.2 3 1 0 -5.3 -0.3zM99.2 11.9a2.0 1.6 115 1 0 -1.7 3.6a2.0 1.6 115 1 0 1.7 -3.6zM86.5 52.7a1.7 1.1 154 1 0 -3.1 1.5a1.7 1.1 154 1 0 3.1 -1.5zM89.6 62.2a2.0 1.4 113 1 0 -1.5 3.6a2.0 1.4 113 1 0 1.5 -3.6zM88.7 81.6a2.2 2.0 103 1 0 -1.0 4.4a2.2 2.0 103 1 0 1.0 -4.4zM70.5 101.0a2.5 1.7 63 1 0 2.2 4.5a2.5 1.7 63 1 0 -2.2 -4.5zM131.3 102.1a2.7 2.2 117 1 0 -2.4 4.8a2.7 2.2 117 1 0 2.4 -4.8zM74.8 105.3a2.0 1.8 47 1 0 2.8 3.0a2.0 1.8 47 1 0 -2.8 -3.0zM152.9 108.0a1.9 1.2 124 1 0 -2.1 3.2a1.9 1.2 124 1 0 2.1 -3.2zM109.3 119.3a2.1 1.4 70 1 0 1.4 3.9a2.1 1.4 70 1 0 -1.4 -3.9z"/>
<path fill="#586880" fill-opacity="0.85" d="M115.2 3.8a1.7 1.5 25 1 0 3.1 1.5a1.7 1.5 25 1 0 -3.1 -1.5zM101.7 18.2a2.1 1.5 106 1 0 -1.1 4.0a2.1 1.5 106 1 0 1.1 -4.0zM9.6 67.1a2.5 1.9 105 1 0 -1.3 4.8a2.5 1.9 105 1 0 1.3 -4.8z"/>
<path fill="#7888b0" fill-opacity="0.75" d="M134.5 0.3a2.5 1.7 115 1 0 -2.1 4.5a2.5 1.7 115 1 0 2.1 -4.5zM108.2 12.6a2.2 1.6 115 1 0 -1.8 4.0a2.2 1.6 115 1 0 1.8 -4.0zM-0.0 28.9a2.0 1.8 32 1 0 3.4 2.1a2.0 1.8 32 1 0 -3.4 -2.1zM88.1 48.4a2.7 1.7 27 1 0 4.8 2.5a2.7 1.7 27 1 0 -4.8 -2.5zM97.2 52.2a2.1 1.9 112 1 0 -1.6 3.9a2.1 1.9 112 1 0 1.6 -3.9zM48.6 81.6a2.4 1.7 164 1 0 -4.5 1.3a2.4 1.7 164 1 0 4.5 -1.3zM19.8 113.8a2.7 2.4 47 1 0 3.7 3.9a2.7 2.4 47 1 0 -3.7 -3.9zM155.4 115.8a1.6 1.1 68 1 0 1.2 2.9a1.6 1.1 68 1 0 -1.2 -2.9z"/>
<path fill="#402828" fill-opacity="0.9" d="M156.6 3.2a2.3 2.1 49 1 0 3.0 3.5a2.3 2.1 49 1 0 -3.0 -3.5zM64.9 19.9a2.8 1.6 77 1 0 1.3 5.5a2.8 1.6 77 1 0 -1.3 -5.5zM94.2 25.0a1.9 1.1 73 1 0 1.1 3.7a1.9 1.1 73 1 0 -1.1 -3.7zM93.3 32.0a2.8 2.2 67 1 0 2.2 5.2a2.8 2.2 67 1 0 -2.2 -5.2zM13.6 42.9a3.1 1.6 159 1 0 -5.9 2.3a3.1 1.6 159 1 0 5.9 -2.3zM22.4 86.0a2.7 1.3 45 1 0 3.9 3.9a2.7 1.3 45 1 0 -3.9 -3.9z"/>
<path fill="#6878a0" fill-opacity="0.75" d="M-0.5 9.7a2.5 2.2 109 1 0 -1.6 4.7a2.5 2.2 109 1 0 1.6 -4.7zM34.4 8.2a1.6 1.3 40 1 0 2.4 2.0a1.6 1.3 40 1 0 -2.4 -2.0zM68.7 122.8a1.7 1.3 142 1 0 -2.6 2.1a1.7 1.3 142 1 0 2.6 -2.1z"/>
<path fill="#7888a8" fill-opacity="0.75" d="M15.5 5.1a2.0 1.7 39 1 0 3.2 2.5a2.0 1.7 39 1 0 -3.2 -2.5zM33.5 17.5a1.8 1.2 127 1 0 -2.2 2.9a1.8 1.2 127 1 0 2.2 -2.9zM140.3 17.7a1.8 1.2 89 1 0 0.0 3.6a1.8 1.2 89 1 0 -0.0 -3.6zM160.9 23.9a2.5 1.9 91 1 0 -0.1 4.9a2.5 1.9 91 1 0 0.1 -4.9zM100.9 36.7a2.4 2.0 77 1 0 1.1 4.7a2.4 2.0 77 1 0 -1.1 -4.7zM117.1 37.5a1.6 1.1 116 1 0 -1.4 2.9a1.6 1.1 116 1 0 1.4 -2.9zM68.5 47.4a1.7 1.4 22 1 0 3.2 1.3a1.7 1.4 22 1 0 -3.2 -1.3zM75.3 60.2a2.5 2.3 55 1 0 2.9 4.1a2.5 2.3 55 1 0 -2.9 -4.1zM116.3 61.6a2.5 1.9 104 1 0 -1.2 4.9a2.5 1.9 104 1 0 1.2 -4.9zM93.4 65.9a2.5 2.3 145 1 0 -4.2 2.9a2.5 2.3 145 1 0 4.2 -2.9zM148.4 69.3a2.6 2.2 125 1 0 -3.0 4.2a2.6 2.2 125 1 0 3.0 -4.2zM14.1 74.4a2.0 1.5 48 1 0 2.7 3.0a2.0 1.5 48 1 0 -2.7 -3.0zM97.3 82.6a2.1 1.8 108 1 0 -1.3 4.1a2.1 1.8 108 1 0 1.3 -4.1zM83.6 89.7a2.6 2.4 104 1 0 -1.2 5.1a2.6 2.4 104 1 0 1.2 -5.1zM125.8 90.8a1.5 1.2 179 1 0 -3.0 0.1a1.5 1.2 179 1 0 3.0 -0.1zM123.5 92.9a1.6 1.0 154 1 0 -2.9 1.4a1.6 1.0 154 1 0 2.9 -1.4zM122.1 101.9a1.6 1.2 49 1 0 2.1 2.4a1.6 1.2 49 1 0 -2.1 -2.4zM95.5 114.9a2.6 2.2 45 1 0 3.7 3.7a2.6 2.2 45 1 0 -3.7 -3.7zM133.1 113.8a1.9 1.5 64 1 0 1.6 3.4a1.9 1.5 64 1 0 -1.6 -3.4z"/>
<path fill="#506078" fill-opacity="0.85" d="M62.0 11.0a2.2 2.0 96 1 0 -0.4 4.5a2.2 2.0 96 1 0 0.4 -4.5zM37.9 105.0a2.0 1.6 125 1 0 -2.2 3.3a2.0 1.6 125 1 0 2.2 -3.3z"/>
<path fill="#606888" fill-opacity="0.85" d="M100.6 12.1a1.7 1.4 64 1 0 1.5 3.1a1.7 1.4 64 1 0 -1.5 -3.1zM143.6 44.1a2.3 1.6 176 1 0 -4.7 0.3a2.3 1.6 176 1 0 4.7 -0.3zM55.3 52.9a1.8 1.6 129 1 0 -2.3 2.8a1.8 1.6 129 1 0 2.3 -2.8zM47.7 74.2a1.5 1.4 136 1 0 -2.2 2.1a1.5 1.4 136 1 0 2.2 -2.1zM93.5 78.6a2.6 2.4 42 1 0 3.9 3.5a2.6 2.4 42 1 0 -3.9 -3.5zM1.8 84.7a2.2 1.9 149 1 0 -3.7 2.3a2.2 1.9 149 1 0 3.7 -2.3zM127.8 86.5a2.1 1.9 89 1 0 0.1 4.1a2.1 1.9 89 1 0 -0.1 -4.1zM91.7 105.3a2.5 1.7 169 1 0 -4.9 1.0a2.5 1.7 169 1 0 4.9 -1.0zM98.7 107.0a1.5 1.4 14 1 0 2.9 0.7a1.5 1.4 14 1 0 -2.9 -0.7z"/>
<path fill="#585880" fill-opacity="0.85" d="M109.9 12.2a1.6 1.4 37 1 0 2.5 1.9a1.6 1.4 37 1 0 -2.5 -1.9zM38.0 26.6a2.5 1.6 101 1 0 -1.0 4.9a2.5 1.6 101 1 0 1.0 -4.9zM8.2 101.8a2.1 1.6 99 1 0 -0.6 4.2a2.1 1.6 99 1 0 0.6 -4.2z"/>
<path fill="#505880" fill-opacity="0.85" d="M114.0 8.2a2.4 1.8 38 1 0 3.8 2.9a2.4 1.8 38 1 0 -3.8 -2.9zM166.2 10.3a1.9 1.3 131 1 0 -2.5 2.9a1.9 1.3 131 1 0 2.5 -2.9zM147.7 28.1a2.2 1.9 115 1 0 -1.9 4.0a2.2 1.9 115 1 0 1.9 -4.0zM152.4 26.8a2.3 2.0 118 1 0 -2.2 4.1a2.3 2.0 118 1 0 2.2 -4.1zM3.0 39.0a1.7 1.4 43 1 0 2.5 2.3a1.7 1.4 43 1 0 -2.5 -2.3zM24.2 38.2a2.0 1.3 60 1 0 2.0 3.4a2.0 1.3 60 1 0 -2.0 -3.4zM127.5 38.3a2.4 2.3 111 1 0 -1.8 4.6a2.4 2.3 111 1 0 1.8 -4.6zM162.8 38.9a2.5 1.5 73 1 0 1.4 4.7a2.5 1.5 73 1 0 -1.4 -4.7zM94.5 46.6a1.6 1.1 178 1 0 -3.1 0.1a1.6 1.1 178 1 0 3.1 -0.1zM136.2 60.1a2.5 1.9 115 1 0 -2.1 4.6a2.5 1.9 115 1 0 2.1 -4.6zM154.7 63.0a2.5 1.7 159 1 0 -4.6 1.8a2.5 1.7 159 1 0 4.6 -1.8zM13.5 69.4a1.7 1.5 9 1 0 3.3 0.5a1.7 1.5 9 1 0 -3.3 -0.5zM120.7 85.0a1.6 1.3 164 1 0 -3.1 0.9a1.6 1.3 164 1 0 3.1 -0.9zM25.0 103.5a1.7 1.4 67 1 0 1.3 3.1a1.7 1.4 67 1 0 -1.3 -3.1zM104.7 113.2a1.8 1.5 176 1 0 -3.7 0.3a1.8 1.5 176 1 0 3.7 -0.3zM151.4 121.8a2.4 2.1 130 1 0 -3.1 3.7a2.4 2.1 130 1 0 3.1 -3.7z"/>
<path fill="#506080" fill-opacity="0.85" d="M16.1 16.2a2.2 1.8 127 1 0 -2.7 3.6a2.2 1.8 127 1 0 2.7 -3.6zM7.6 21.2a2.3 1.7 5 1 0 4.6 0.4a2.3 1.7 5 1 0 -4.6 -0.4zM122.0 23.0a1.9 1.8 87 1 0 0.2 3.9a1.9 1.8 87 1 0 -0.2 -3.9zM151.1 52.3a2.0 1.8 128 1 0 -2.5 3.2a2.0 1.8 128 1 0 2.5 -3.2zM91.3 93.2a2.0 1.7 8 1 0 4.0 0.6a2.0 1.7 8 1 0 -4.0 -0.6zM151.4 92.0a2.0 1.9 145 1 0 -3.3 2.4a2.0 1.9 145 1 0 3.3 -2.4zM74.2 106.7a2.1 1.7 83 1 0 0.5 4.2a2.1 1.7 83 1 0 -0.5 -4.2z"/>
<path fill="#604030" fill-opacity="0.8" d="M21.0 15.8a2.4 1.6 101 1 0 -0.9 4.6a2.4 1.6 101 1 0 0.9 -4.6z"/>
<path fill="#402820" fill-opacity="0.9" d="M78.0 14.3a2.5 1.4 70 1 0 1.7 4.7a2.5 1.4 70 1 0 -1.7 -4.7zM45.6 28.3a2.8 2.1 96 1 0 -0.6 5.5a2.8 2.1 96 1 0 0.6 -5.5zM129.3 27.4a3.1 1.9 72 1 0 1.9 6.0a3.1 1.9 72 1 0 -1.9 -6.0zM64.2 31.7a2.8 2.2 93 1 0 -0.3 5.6a2.8 2.2 93 1 0 0.3 -5.6zM139.1 53.0a2.1 1.5 35 1 0 3.5 2.4a2.1 1.5 35 1 0 -3.5 -2.4zM43.7 100.4a2.0 0.9 80 1 0 0.7 3.9a2.0 0.9 80 1 0 -0.7 -3.9zM58.7 105.6a2.3 1.7 74 1 0 1.3 4.4a2.3 1.7 74 1 0 -1.3 -4.4zM24.2 119.0a2.4 1.7 99 1 0 -0.8 4.8a2.4 1.7 99 1 0 0.8 -4.8z"/>
<path fill="#7878a0" fill-opacity="0.75" d="M129.5 12.6a1.5 1.0 66 1 0 1.2 2.8a1.5 1.0 66 1 0 -1.2 -2.8zM159.3 38.5a2.5 1.9 106 1 0 -1.4 4.8a2.5 1.9 106 1 0 1.4 -4.8zM51.5 108.6a2.3 1.5 20 1 0 4.3 1.6a2.3 1.5 20 1 0 -4.3 -1.6zM131.8 119.4a2.4 1.9 74 1 0 1.4 4.7a2.4 1.9 74 1 0 -1.4 -4.7z"/>
<path fill="#301818" fill-opacity="0.9" d="M45.1 23.3a3.1 1.5 71 1 0 2.0 5.9a3.1 1.5 71 1 0 -2.0 -5.9z"/>
<path fill="#603838" fill-opacity="0.8" d="M51.8 19.7a3.9 2.2 120 1 0 -3.8 6.7a3.9 2.2 120 1 0 3.8 -6.7z"/>
<path fill="#402020" fill-opacity="0.9" d="M82.4 22.5a2.9 2.8 135 1 0 -4.2 4.1a2.9 2.8 135 1 0 4.2 -4.1z"/>
<path fill="#505878" fill-opacity="0.85" d="M116.9 22.1a1.6 1.0 111 1 0 -1.1 3.0a1.6 1.0 111 1 0 1.1 -3.0zM41.9 34.8a2.1 1.3 43 1 0 3.0 2.8a2.1 1.3 43 1 0 -3.0 -2.8zM61.9 55.7a2.1 1.5 20 1 0 3.9 1.4a2.1 1.5 20 1 0 -3.9 -1.4zM94.6 54.9a2.1 1.7 99 1 0 -0.7 4.2a2.1 1.7 99 1 0 0.7 -4.2zM60.6 60.4a1.9 1.2 162 1 0 -3.6 1.2a1.9 1.2 162 1 0 3.6 -1.2zM137.8 89.7a1.6 1.2 90 1 0 -0.0 3.2a1.6 1.2 90 1 0 0.0 -3.2zM143.8 110.3a1.9 1.5 167 1 0 -3.8 0.9a1.9 1.5 167 1 0 3.8 -0.9zM-0.7 111.7a1.9 1.4 145 1 0 -3.1 2.1a1.9 1.4 145 1 0 3.1 -2.1zM15.0 112.2a2.4 2.1 51 1 0 3.0 3.7a2.4 2.1 51 1 0 -3.0 -3.7zM107.7 120.3a2.5 2.3 101 1 0 -0.9 4.9a2.5 2.3 101 1 0 0.9 -4.9z"/>
<path fill="#684038" fill-opacity="0.8" d="M138.0 23.8a3.8 1.7 15 1 0 7.4 1.9a3.8 1.7 15 1 0 -7.4 -1.9z"/>
<path fill="#606890" fill-opacity="0.85" d="M24.1 34.4a1.7 1.6 19 1 0 3.2 1.1a1.7 1.6 19 1 0 -3.2 -1.1z"/>
<path fill="#707898" fill-opacity="0.75" d="M84.4 38.7a1.8 1.4 38 1 0 2.9 2.2a1.8 1.4 38 1 0 -2.9 -2.2zM102.6 51.9a1.7 1.3 171 1 0 -3.3 0.5a1.7 1.3 171 1 0 3.3 -0.5zM137.5 82.1a1.9 1.2 5 1 0 3.8 0.3a1.9 1.2 5 1 0 -3.8 -0.3zM62.3 91.2a1.6 1.3 128 1 0 -2.0 2.5a1.6 1.3 128 1 0 2.0 -2.5zM101.0 93.7a2.3 1.9 175 1 0 -4.5 0.4a2.3 1.9 175 1 0 4.5 -0.4zM-3.5 107.1a1.9 1.6 71 1 0 1.2 3.7a1.9 1.6 71 1 0 -1.2 -3.7zM26.3 110.9a1.8 1.1 115 1 0 -1.5 3.2a1.8 1.1 115 1 0 1.5 -3.2zM89.9 105.4a1.7 1.6 176 1 0 -3.3 0.2a1.7 1.6 176 1 0 3.3 -0.2zM93.8 109.2a2.2 1.8 108 1 0 -1.3 4.1a2.2 1.8 108 1 0 1.3 -4.1z"/>
<path fill="#705040" fill-opacity="0.8" d="M96.0 41.5a2.7 1.8 110 1 0 -1.9 5.1a2.7 1.8 110 1 0 1.9 -5.1zM107.1 104.2a3.1 2.0 2 1 0 6.1 0.2a3.1 2.0 2 1 0 -6.1 -0.2z"/>
<path fill="#7880b0" fill-opacity="0.75" d="M31.7 49.3a1.5 1.2 113 1 0 -1.2 2.8a1.5 1.2 113 1 0 1.2 -2.8z"/>
<path fill="#584038" fill-opacity="0.8" d="M63.2 47.9a2.4 1.8 31 1 0 4.0 2.5a2.4 1.8 31 1 0 -4.0 -2.5z"/>
<path fill="#382820" fill-opacity="0.9" d="M132.5 46.9a2.0 1.6 15 1 0 3.8 1.0a2.0 1.6 15 1 0 -3.8 -1.0z"/>
<path fill="#584030" fill-opacity="0.8" d="M124.8 58.7a2.5 1.7 65 1 0 2.1 4.5a2.5 1.7 65 1 0 -2.1 -4.5z"/>
<path fill="#302018" fill-opacity="0.9" d="M59.9 71.8a2.8 1.5 51 1 0 3.5 4.3a2.8 1.5 51 1 0 -3.5 -4.3zM144.8 99.1a1.9 1.1 76 1 0 0.9 3.7a1.9 1.1 76 1 0 -0.9 -3.7z"/>
<path fill="#8090b0" fill-opacity="0.75" d="M114.1 73.0a1.9 1.6 61 1 0 1.8 3.3a1.9 1.6 61 1 0 -1.8 -3.3z"/>
<path fill="#8080a8" fill-opacity="0.75" d="M9.4 84.6a2.1 1.2 3 1 0 4.1 0.2a2.1 1.2 3 1 0 -4.1 -0.2zM30.0 122.1a2.2 1.4 54 1 0 2.6 3.6a2.2 1.4 54 1 0 -2.6 -3.6zM124.2 119.6a1.7 1.4 11 1 0 3.4 0.7a1.7 1.4 11 1 0 -3.4 -0.7z"/>
<path fill="#485878" fill-opacity="0.85" d="M72.0 81.1a2.5 1.9 122 1 0 -2.6 4.2a2.5 1.9 122 1 0 2.6 -4.2zM120.4 113.4a2.1 1.7 92 1 0 -0.1 4.2a2.1 1.7 92 1 0 0.1 -4.2z"/>
<path fill="#704848" fill-opacity="0.8" d="M30.6 82.8a3.2 1.7 81 1 0 1.0 6.4a3.2 1.7 81 1 0 -1.0 -6.4z"/>
<path fill="#606880" fill-opacity="0.85" d="M39.9 88.3a2.2 1.7 176 1 0 -4.3 0.3a2.2 1.7 176 1 0 4.3 -0.3z"/>
<path fill="#606088" fill-opacity="0.85" d="M142.0 86.5a1.7 1.0 52 1 0 2.1 2.6a1.7 1.0 52 1 0 -2.1 -2.6z"/>
<path fill="#684838" fill-opacity="0.8" d="M2.7 94.7a2.6 1.2 81 1 0 0.8 5.2a2.6 1.2 81 1 0 -0.8 -5.2zM96.9 102.4a3.8 1.6 150 1 0 -6.6 3.8a3.8 1.6 150 1 0 6.6 -3.8z"/>
<path fill="#403028" fill-opacity="0.9" d="M18.8 91.6a2.4 2.3 53 1 0 2.9 3.9a2.4 2.3 53 1 0 -2.9 -3.9z"/>
<path fill="#704840" fill-opacity="0.8" d="M34.1 114.7a2.4 2.2 65 1 0 2.1 4.4a2.4 2.2 65 1 0 -2.1 -4.4z"/>
<path fill="#7078a8" fill-opacity="0.75" d="M85.5 114.1a2.3 1.5 71 1 0 1.5 4.4a2.3 1.5 71 1 0 -1.5 -4.4z"/>
</g>
</svg>
</g>
</svg></body></html>
